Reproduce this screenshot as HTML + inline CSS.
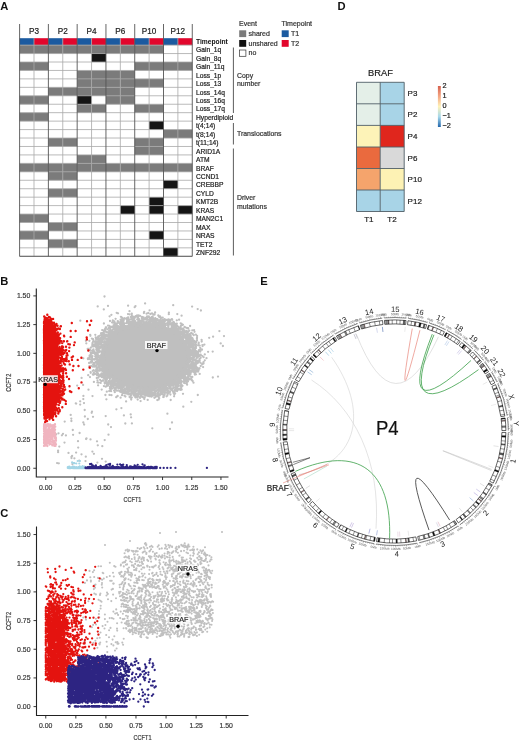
<!DOCTYPE html>
<html><head><meta charset="utf-8"><title>Figure</title>
<style>
html,body{margin:0;padding:0;background:#fff;}
body{width:520px;height:742px;overflow:hidden;position:relative;}
svg{position:absolute;left:0;top:0;display:block;}
text{font-family:"Liberation Sans",Arial,sans-serif;}
</style></head><body>
<svg width="520" height="742" viewBox="0 0 520 742">
<rect x="19.6" y="38.2" width="14.44" height="6.9" fill="#1b5aa0"/>
<rect x="33.99" y="38.2" width="14.44" height="6.9" fill="#e2062c"/>
<rect x="48.38" y="38.2" width="14.44" height="6.9" fill="#1b5aa0"/>
<rect x="62.77" y="38.2" width="14.44" height="6.9" fill="#e2062c"/>
<rect x="77.16" y="38.2" width="14.44" height="6.9" fill="#1b5aa0"/>
<rect x="91.55" y="38.2" width="14.44" height="6.9" fill="#e2062c"/>
<rect x="105.94" y="38.2" width="14.44" height="6.9" fill="#1b5aa0"/>
<rect x="120.33" y="38.2" width="14.44" height="6.9" fill="#e2062c"/>
<rect x="134.72" y="38.2" width="14.44" height="6.9" fill="#1b5aa0"/>
<rect x="149.11" y="38.2" width="14.44" height="6.9" fill="#e2062c"/>
<rect x="163.5" y="38.2" width="14.44" height="6.9" fill="#1b5aa0"/>
<rect x="177.89" y="38.2" width="14.44" height="6.9" fill="#e2062c"/>
<rect x="19.6" y="45.1" width="14.44" height="8.5" fill="#7b7b7b"/>
<rect x="33.99" y="45.1" width="14.44" height="8.5" fill="#7b7b7b"/>
<rect x="48.38" y="45.1" width="14.44" height="8.5" fill="#7b7b7b"/>
<rect x="62.77" y="45.1" width="14.44" height="8.5" fill="#7b7b7b"/>
<rect x="77.16" y="45.1" width="14.44" height="8.5" fill="#7b7b7b"/>
<rect x="91.55" y="45.1" width="14.44" height="8.5" fill="#7b7b7b"/>
<rect x="105.94" y="45.1" width="14.44" height="8.5" fill="#7b7b7b"/>
<rect x="120.33" y="45.1" width="14.44" height="8.5" fill="#7b7b7b"/>
<rect x="134.72" y="45.1" width="14.44" height="8.5" fill="#7b7b7b"/>
<rect x="149.11" y="45.1" width="14.44" height="8.5" fill="#7b7b7b"/>
<rect x="91.55" y="53.55" width="14.44" height="8.5" fill="#151515"/>
<rect x="19.6" y="62" width="14.44" height="8.5" fill="#7b7b7b"/>
<rect x="33.99" y="62" width="14.44" height="8.5" fill="#7b7b7b"/>
<rect x="134.72" y="62" width="14.44" height="8.5" fill="#7b7b7b"/>
<rect x="149.11" y="62" width="14.44" height="8.5" fill="#7b7b7b"/>
<rect x="163.5" y="62" width="14.44" height="8.5" fill="#7b7b7b"/>
<rect x="177.89" y="62" width="14.44" height="8.5" fill="#7b7b7b"/>
<rect x="77.16" y="70.44" width="14.44" height="8.5" fill="#7b7b7b"/>
<rect x="91.55" y="70.44" width="14.44" height="8.5" fill="#7b7b7b"/>
<rect x="105.94" y="70.44" width="14.44" height="8.5" fill="#7b7b7b"/>
<rect x="120.33" y="70.44" width="14.44" height="8.5" fill="#7b7b7b"/>
<rect x="77.16" y="78.89" width="14.44" height="8.5" fill="#7b7b7b"/>
<rect x="91.55" y="78.89" width="14.44" height="8.5" fill="#7b7b7b"/>
<rect x="105.94" y="78.89" width="14.44" height="8.5" fill="#7b7b7b"/>
<rect x="120.33" y="78.89" width="14.44" height="8.5" fill="#7b7b7b"/>
<rect x="134.72" y="78.89" width="14.44" height="8.5" fill="#7b7b7b"/>
<rect x="149.11" y="78.89" width="14.44" height="8.5" fill="#7b7b7b"/>
<rect x="48.38" y="87.34" width="14.44" height="8.5" fill="#7b7b7b"/>
<rect x="62.77" y="87.34" width="14.44" height="8.5" fill="#7b7b7b"/>
<rect x="77.16" y="87.34" width="14.44" height="8.5" fill="#7b7b7b"/>
<rect x="91.55" y="87.34" width="14.44" height="8.5" fill="#7b7b7b"/>
<rect x="105.94" y="87.34" width="14.44" height="8.5" fill="#7b7b7b"/>
<rect x="120.33" y="87.34" width="14.44" height="8.5" fill="#7b7b7b"/>
<rect x="19.6" y="95.79" width="14.44" height="8.5" fill="#7b7b7b"/>
<rect x="33.99" y="95.79" width="14.44" height="8.5" fill="#7b7b7b"/>
<rect x="77.16" y="95.79" width="14.44" height="8.5" fill="#151515"/>
<rect x="105.94" y="95.79" width="14.44" height="8.5" fill="#7b7b7b"/>
<rect x="120.33" y="95.79" width="14.44" height="8.5" fill="#7b7b7b"/>
<rect x="77.16" y="104.24" width="14.44" height="8.5" fill="#7b7b7b"/>
<rect x="91.55" y="104.24" width="14.44" height="8.5" fill="#7b7b7b"/>
<rect x="134.72" y="104.24" width="14.44" height="8.5" fill="#7b7b7b"/>
<rect x="149.11" y="104.24" width="14.44" height="8.5" fill="#7b7b7b"/>
<rect x="19.6" y="112.68" width="14.44" height="8.5" fill="#7b7b7b"/>
<rect x="33.99" y="112.68" width="14.44" height="8.5" fill="#7b7b7b"/>
<rect x="149.11" y="121.13" width="14.44" height="8.5" fill="#151515"/>
<rect x="163.5" y="129.58" width="14.44" height="8.5" fill="#7b7b7b"/>
<rect x="177.89" y="129.58" width="14.44" height="8.5" fill="#7b7b7b"/>
<rect x="48.38" y="138.03" width="14.44" height="8.5" fill="#7b7b7b"/>
<rect x="62.77" y="138.03" width="14.44" height="8.5" fill="#7b7b7b"/>
<rect x="134.72" y="138.03" width="14.44" height="8.5" fill="#7b7b7b"/>
<rect x="149.11" y="138.03" width="14.44" height="8.5" fill="#7b7b7b"/>
<rect x="134.72" y="146.48" width="14.44" height="8.5" fill="#7b7b7b"/>
<rect x="149.11" y="146.48" width="14.44" height="8.5" fill="#7b7b7b"/>
<rect x="77.16" y="154.92" width="14.44" height="8.5" fill="#7b7b7b"/>
<rect x="91.55" y="154.92" width="14.44" height="8.5" fill="#7b7b7b"/>
<rect x="19.6" y="163.37" width="14.44" height="8.5" fill="#7b7b7b"/>
<rect x="33.99" y="163.37" width="14.44" height="8.5" fill="#7b7b7b"/>
<rect x="48.38" y="163.37" width="14.44" height="8.5" fill="#7b7b7b"/>
<rect x="62.77" y="163.37" width="14.44" height="8.5" fill="#7b7b7b"/>
<rect x="77.16" y="163.37" width="14.44" height="8.5" fill="#7b7b7b"/>
<rect x="91.55" y="163.37" width="14.44" height="8.5" fill="#7b7b7b"/>
<rect x="105.94" y="163.37" width="14.44" height="8.5" fill="#7b7b7b"/>
<rect x="120.33" y="163.37" width="14.44" height="8.5" fill="#7b7b7b"/>
<rect x="134.72" y="163.37" width="14.44" height="8.5" fill="#7b7b7b"/>
<rect x="149.11" y="163.37" width="14.44" height="8.5" fill="#7b7b7b"/>
<rect x="163.5" y="163.37" width="14.44" height="8.5" fill="#7b7b7b"/>
<rect x="177.89" y="163.37" width="14.44" height="8.5" fill="#7b7b7b"/>
<rect x="48.38" y="171.82" width="14.44" height="8.5" fill="#7b7b7b"/>
<rect x="62.77" y="171.82" width="14.44" height="8.5" fill="#7b7b7b"/>
<rect x="163.5" y="180.27" width="14.44" height="8.5" fill="#151515"/>
<rect x="48.38" y="188.72" width="14.44" height="8.5" fill="#7b7b7b"/>
<rect x="62.77" y="188.72" width="14.44" height="8.5" fill="#7b7b7b"/>
<rect x="149.11" y="197.16" width="14.44" height="8.5" fill="#151515"/>
<rect x="120.33" y="205.61" width="14.44" height="8.5" fill="#151515"/>
<rect x="149.11" y="205.61" width="14.44" height="8.5" fill="#151515"/>
<rect x="177.89" y="205.61" width="14.44" height="8.5" fill="#151515"/>
<rect x="19.6" y="214.06" width="14.44" height="8.5" fill="#7b7b7b"/>
<rect x="33.99" y="214.06" width="14.44" height="8.5" fill="#7b7b7b"/>
<rect x="48.38" y="222.51" width="14.44" height="8.5" fill="#7b7b7b"/>
<rect x="62.77" y="222.51" width="14.44" height="8.5" fill="#7b7b7b"/>
<rect x="19.6" y="230.96" width="14.44" height="8.5" fill="#7b7b7b"/>
<rect x="33.99" y="230.96" width="14.44" height="8.5" fill="#7b7b7b"/>
<rect x="149.11" y="230.96" width="14.44" height="8.5" fill="#151515"/>
<rect x="48.38" y="239.4" width="14.44" height="8.5" fill="#7b7b7b"/>
<rect x="62.77" y="239.4" width="14.44" height="8.5" fill="#7b7b7b"/>
<rect x="163.5" y="247.85" width="14.44" height="8.5" fill="#151515"/>
<line x1="19.6" y1="45.1" x2="192.28" y2="45.1" stroke="#a8a8a8" stroke-width="0.8"/>
<line x1="19.6" y1="53.55" x2="192.28" y2="53.55" stroke="#a8a8a8" stroke-width="0.8"/>
<line x1="19.6" y1="62" x2="192.28" y2="62" stroke="#a8a8a8" stroke-width="0.8"/>
<line x1="19.6" y1="70.44" x2="192.28" y2="70.44" stroke="#a8a8a8" stroke-width="0.8"/>
<line x1="19.6" y1="78.89" x2="192.28" y2="78.89" stroke="#a8a8a8" stroke-width="0.8"/>
<line x1="19.6" y1="87.34" x2="192.28" y2="87.34" stroke="#a8a8a8" stroke-width="0.8"/>
<line x1="19.6" y1="95.79" x2="192.28" y2="95.79" stroke="#a8a8a8" stroke-width="0.8"/>
<line x1="19.6" y1="104.24" x2="192.28" y2="104.24" stroke="#a8a8a8" stroke-width="0.8"/>
<line x1="19.6" y1="112.68" x2="192.28" y2="112.68" stroke="#a8a8a8" stroke-width="0.8"/>
<line x1="19.6" y1="121.13" x2="192.28" y2="121.13" stroke="#a8a8a8" stroke-width="0.8"/>
<line x1="19.6" y1="129.58" x2="192.28" y2="129.58" stroke="#a8a8a8" stroke-width="0.8"/>
<line x1="19.6" y1="138.03" x2="192.28" y2="138.03" stroke="#a8a8a8" stroke-width="0.8"/>
<line x1="19.6" y1="146.48" x2="192.28" y2="146.48" stroke="#a8a8a8" stroke-width="0.8"/>
<line x1="19.6" y1="154.92" x2="192.28" y2="154.92" stroke="#a8a8a8" stroke-width="0.8"/>
<line x1="19.6" y1="163.37" x2="192.28" y2="163.37" stroke="#a8a8a8" stroke-width="0.8"/>
<line x1="19.6" y1="171.82" x2="192.28" y2="171.82" stroke="#a8a8a8" stroke-width="0.8"/>
<line x1="19.6" y1="180.27" x2="192.28" y2="180.27" stroke="#a8a8a8" stroke-width="0.8"/>
<line x1="19.6" y1="188.72" x2="192.28" y2="188.72" stroke="#a8a8a8" stroke-width="0.8"/>
<line x1="19.6" y1="197.16" x2="192.28" y2="197.16" stroke="#a8a8a8" stroke-width="0.8"/>
<line x1="19.6" y1="205.61" x2="192.28" y2="205.61" stroke="#a8a8a8" stroke-width="0.8"/>
<line x1="19.6" y1="214.06" x2="192.28" y2="214.06" stroke="#a8a8a8" stroke-width="0.8"/>
<line x1="19.6" y1="222.51" x2="192.28" y2="222.51" stroke="#a8a8a8" stroke-width="0.8"/>
<line x1="19.6" y1="230.96" x2="192.28" y2="230.96" stroke="#a8a8a8" stroke-width="0.8"/>
<line x1="19.6" y1="239.4" x2="192.28" y2="239.4" stroke="#a8a8a8" stroke-width="0.8"/>
<line x1="19.6" y1="247.85" x2="192.28" y2="247.85" stroke="#a8a8a8" stroke-width="0.8"/>
<line x1="19.6" y1="256.3" x2="192.28" y2="256.3" stroke="#a8a8a8" stroke-width="0.8"/>
<line x1="33.99" y1="38.2" x2="33.99" y2="256.3" stroke="#a8a8a8" stroke-width="0.8"/>
<line x1="62.77" y1="38.2" x2="62.77" y2="256.3" stroke="#a8a8a8" stroke-width="0.8"/>
<line x1="91.55" y1="38.2" x2="91.55" y2="256.3" stroke="#a8a8a8" stroke-width="0.8"/>
<line x1="120.33" y1="38.2" x2="120.33" y2="256.3" stroke="#a8a8a8" stroke-width="0.8"/>
<line x1="149.11" y1="38.2" x2="149.11" y2="256.3" stroke="#a8a8a8" stroke-width="0.8"/>
<line x1="177.89" y1="38.2" x2="177.89" y2="256.3" stroke="#a8a8a8" stroke-width="0.8"/>
<line x1="19.6" y1="24" x2="19.6" y2="256.3" stroke="#555" stroke-width="0.9"/>
<line x1="48.38" y1="24" x2="48.38" y2="256.3" stroke="#555" stroke-width="0.9"/>
<line x1="77.16" y1="24" x2="77.16" y2="256.3" stroke="#555" stroke-width="0.9"/>
<line x1="105.94" y1="24" x2="105.94" y2="256.3" stroke="#555" stroke-width="0.9"/>
<line x1="134.72" y1="24" x2="134.72" y2="256.3" stroke="#555" stroke-width="0.9"/>
<line x1="163.5" y1="24" x2="163.5" y2="256.3" stroke="#555" stroke-width="0.9"/>
<line x1="192.28" y1="24" x2="192.28" y2="256.3" stroke="#555" stroke-width="0.9"/>
<line x1="19.6" y1="256.3" x2="192.28" y2="256.3" stroke="#555" stroke-width="0.9"/>
<text x="33.99" y="34" font-size="8.2" text-anchor="middle" fill="#222" stroke="#222" stroke-width="0.2">P3</text>
<text x="62.77" y="34" font-size="8.2" text-anchor="middle" fill="#222" stroke="#222" stroke-width="0.2">P2</text>
<text x="91.55" y="34" font-size="8.2" text-anchor="middle" fill="#222" stroke="#222" stroke-width="0.2">P4</text>
<text x="120.33" y="34" font-size="8.2" text-anchor="middle" fill="#222" stroke="#222" stroke-width="0.2">P6</text>
<text x="149.11" y="34" font-size="8.2" text-anchor="middle" fill="#222" stroke="#222" stroke-width="0.2">P10</text>
<text x="177.89" y="34" font-size="8.2" text-anchor="middle" fill="#222" stroke="#222" stroke-width="0.2">P12</text>
<text x="196" y="44" font-size="6.7" font-weight="bold" fill="#111">Timepoint</text>
<text x="196" y="52.3" font-size="6.7" fill="#222" stroke="#222" stroke-width="0.2">Gain_1q</text>
<text x="196" y="60.75" font-size="6.7" fill="#222" stroke="#222" stroke-width="0.2">Gain_8q</text>
<text x="196" y="69.2" font-size="6.7" fill="#222" stroke="#222" stroke-width="0.2">Gain_11q</text>
<text x="196" y="77.64" font-size="6.7" fill="#222" stroke="#222" stroke-width="0.2">Loss_1p</text>
<text x="196" y="86.09" font-size="6.7" fill="#222" stroke="#222" stroke-width="0.2">Loss_13</text>
<text x="196" y="94.54" font-size="6.7" fill="#222" stroke="#222" stroke-width="0.2">Loss_14q</text>
<text x="196" y="102.99" font-size="6.7" fill="#222" stroke="#222" stroke-width="0.2">Loss_16q</text>
<text x="196" y="111.44" font-size="6.7" fill="#222" stroke="#222" stroke-width="0.2">Loss_17q</text>
<text x="196" y="119.88" font-size="6.7" fill="#222" stroke="#222" stroke-width="0.2">Hyperdiploid</text>
<text x="196" y="128.33" font-size="6.7" fill="#222" stroke="#222" stroke-width="0.2">t(4;14)</text>
<text x="196" y="136.78" font-size="6.7" fill="#222" stroke="#222" stroke-width="0.2">t(8;14)</text>
<text x="196" y="145.23" font-size="6.7" fill="#222" stroke="#222" stroke-width="0.2">t(11;14)</text>
<text x="196" y="153.68" font-size="6.7" fill="#222" stroke="#222" stroke-width="0.2">ARID1A</text>
<text x="196" y="162.12" font-size="6.7" fill="#222" stroke="#222" stroke-width="0.2">ATM</text>
<text x="196" y="170.57" font-size="6.7" fill="#222" stroke="#222" stroke-width="0.2">BRAF</text>
<text x="196" y="179.02" font-size="6.7" fill="#222" stroke="#222" stroke-width="0.2">CCND1</text>
<text x="196" y="187.47" font-size="6.7" fill="#222" stroke="#222" stroke-width="0.2">CREBBP</text>
<text x="196" y="195.92" font-size="6.7" fill="#222" stroke="#222" stroke-width="0.2">CYLD</text>
<text x="196" y="204.36" font-size="6.7" fill="#222" stroke="#222" stroke-width="0.2">KMT2B</text>
<text x="196" y="212.81" font-size="6.7" fill="#222" stroke="#222" stroke-width="0.2">KRAS</text>
<text x="196" y="221.26" font-size="6.7" fill="#222" stroke="#222" stroke-width="0.2">MAN2C1</text>
<text x="196" y="229.71" font-size="6.7" fill="#222" stroke="#222" stroke-width="0.2">MAX</text>
<text x="196" y="238.16" font-size="6.7" fill="#222" stroke="#222" stroke-width="0.2">NRAS</text>
<text x="196" y="246.6" font-size="6.7" fill="#222" stroke="#222" stroke-width="0.2">TET2</text>
<text x="196" y="255.05" font-size="6.7" fill="#222" stroke="#222" stroke-width="0.2">ZNF292</text>
<line x1="233.4" y1="47.5" x2="233.4" y2="113" stroke="#333" stroke-width="0.8"/>
<line x1="233.4" y1="123" x2="233.4" y2="144.5" stroke="#333" stroke-width="0.8"/>
<line x1="233.4" y1="148.5" x2="233.4" y2="255.5" stroke="#333" stroke-width="0.8"/>
<text x="237" y="77.8" font-size="6.9" fill="#333" stroke="#333" stroke-width="0.2">Copy</text>
<text x="237" y="86.1" font-size="6.9" fill="#333" stroke="#333" stroke-width="0.2">number</text>
<text x="237" y="136.3" font-size="6.9" fill="#333" stroke="#333" stroke-width="0.2">Translocations</text>
<text x="237" y="200" font-size="6.9" fill="#333" stroke="#333" stroke-width="0.2">Driver</text>
<text x="237" y="208.5" font-size="6.9" fill="#333" stroke="#333" stroke-width="0.2">mutations</text>
<text x="239" y="26.3" font-size="7" fill="#333" stroke="#333" stroke-width="0.2">Event</text>
<rect x="239.2" y="30.3" width="7" height="6.8" fill="#7b7b7b"/>
<rect x="239.2" y="40" width="7" height="6.8" fill="#111"/>
<rect x="239.6" y="50" width="6.3" height="6.3" fill="#fff" stroke="#333" stroke-width="0.7"/>
<text x="248.5" y="36" font-size="7" fill="#333" stroke="#333" stroke-width="0.2">shared</text>
<text x="248.5" y="45.6" font-size="7" fill="#333" stroke="#333" stroke-width="0.2">unshared</text>
<text x="248.5" y="55.3" font-size="7" fill="#333" stroke="#333" stroke-width="0.2">no</text>
<text x="281.5" y="26.3" font-size="7" fill="#333" stroke="#333" stroke-width="0.2">Timepoint</text>
<rect x="281.7" y="30.3" width="7" height="6.8" fill="#1b5aa0"/>
<rect x="281.7" y="40" width="7" height="6.8" fill="#e2062c"/>
<text x="291" y="36" font-size="7" fill="#333" stroke="#333" stroke-width="0.2">T1</text>
<text x="291" y="45.6" font-size="7" fill="#333" stroke="#333" stroke-width="0.2">T2</text>
<text x="0.3" y="10.4" font-size="11.2" font-weight="bold" fill="#111">A</text>
<rect x="356.5" y="82.3" width="23.7" height="21.5" fill="#e4efe8"/>
<rect x="380.2" y="82.3" width="24" height="21.5" fill="#a8d4e7"/>
<rect x="356.5" y="103.8" width="23.7" height="21.6" fill="#e4efe8"/>
<rect x="380.2" y="103.8" width="24" height="21.6" fill="#a8d4e7"/>
<rect x="356.5" y="125.4" width="23.7" height="21.6" fill="#fdf3b8"/>
<rect x="380.2" y="125.4" width="24" height="21.6" fill="#e0261d"/>
<rect x="356.5" y="147.0" width="23.7" height="21.5" fill="#ea6a3e"/>
<rect x="380.2" y="147.0" width="24" height="21.5" fill="#d9d9d9"/>
<rect x="356.5" y="168.5" width="23.7" height="21.5" fill="#f5a46c"/>
<rect x="380.2" y="168.5" width="24" height="21.5" fill="#fdf2b4"/>
<rect x="356.5" y="190.0" width="23.7" height="21.5" fill="#a8d4e7"/>
<rect x="380.2" y="190.0" width="24" height="21.5" fill="#a8d4e7"/>
<line x1="356.5" y1="82.3" x2="404.2" y2="82.3" stroke="#4f5d66" stroke-width="0.9"/>
<line x1="356.5" y1="103.8" x2="404.2" y2="103.8" stroke="#4f5d66" stroke-width="0.9"/>
<line x1="356.5" y1="125.4" x2="404.2" y2="125.4" stroke="#4f5d66" stroke-width="0.9"/>
<line x1="356.5" y1="147.0" x2="404.2" y2="147.0" stroke="#4f5d66" stroke-width="0.9"/>
<line x1="356.5" y1="168.5" x2="404.2" y2="168.5" stroke="#4f5d66" stroke-width="0.9"/>
<line x1="356.5" y1="190.0" x2="404.2" y2="190.0" stroke="#4f5d66" stroke-width="0.9"/>
<line x1="356.5" y1="211.5" x2="404.2" y2="211.5" stroke="#4f5d66" stroke-width="0.9"/>
<line x1="356.5" y1="82.3" x2="356.5" y2="211.5" stroke="#4f5d66" stroke-width="0.9"/>
<line x1="380.2" y1="82.3" x2="380.2" y2="211.5" stroke="#4f5d66" stroke-width="0.9"/>
<line x1="404.2" y1="82.3" x2="404.2" y2="211.5" stroke="#4f5d66" stroke-width="0.9"/>
<text x="380.5" y="76.2" font-size="9.3" text-anchor="middle" fill="#222" stroke="#222" stroke-width="0.2">BRAF</text>
<text x="407.6" y="95.85" font-size="8" fill="#222" stroke="#222" stroke-width="0.2">P3</text>
<text x="407.6" y="117.4" font-size="8" fill="#222" stroke="#222" stroke-width="0.2">P2</text>
<text x="407.6" y="139" font-size="8" fill="#222" stroke="#222" stroke-width="0.2">P4</text>
<text x="407.6" y="160.55" font-size="8" fill="#222" stroke="#222" stroke-width="0.2">P6</text>
<text x="407.6" y="182.05" font-size="8" fill="#222" stroke="#222" stroke-width="0.2">P10</text>
<text x="407.6" y="203.55" font-size="8" fill="#222" stroke="#222" stroke-width="0.2">P12</text>
<text x="368.8" y="222.3" font-size="8" text-anchor="middle" fill="#222" stroke="#222" stroke-width="0.2">T1</text>
<text x="392" y="222.3" font-size="8" text-anchor="middle" fill="#222" stroke="#222" stroke-width="0.2">T2</text>
<defs><linearGradient id="cb" x1="0" y1="0" x2="0" y2="1"><stop offset="0" stop-color="#d6604d"/><stop offset="0.25" stop-color="#f4a582"/><stop offset="0.5" stop-color="#fff3b8"/><stop offset="0.75" stop-color="#a6d8ec"/><stop offset="1" stop-color="#2166ac"/></linearGradient></defs>
<rect x="437.9" y="86" width="2.9" height="41" fill="url(#cb)"/>
<text x="442.4" y="88.2" font-size="7.3" fill="#222" stroke="#222" stroke-width="0.2">2</text>
<text x="442.4" y="97.9" font-size="7.3" fill="#222" stroke="#222" stroke-width="0.2">1</text>
<text x="442.4" y="107.8" font-size="7.3" fill="#222" stroke="#222" stroke-width="0.2">0</text>
<text x="442.4" y="118" font-size="7.3" fill="#222" stroke="#222" stroke-width="0.2">−1</text>
<text x="442.4" y="127.8" font-size="7.3" fill="#222" stroke="#222" stroke-width="0.2">−2</text>
<text x="337.6" y="10.2" font-size="11.2" font-weight="bold" fill="#111">D</text>
<path d="M36.3 288.5V477H228.5" stroke="#222" stroke-width="1.1" fill="none"/>
<line x1="33.3" y1="468.25" x2="36.3" y2="468.25" stroke="#222" stroke-width="0.9"/>
<text x="30.299999999999997" y="470.65" font-size="6.9" text-anchor="end" fill="#3a3a3a" stroke="#3a3a3a" stroke-width="0.2">0.00</text>
<line x1="45.75" y1="477" x2="45.75" y2="480" stroke="#222" stroke-width="0.9"/>
<text x="45.75" y="490" font-size="6.9" text-anchor="middle" fill="#3a3a3a" stroke="#3a3a3a" stroke-width="0.2">0.00</text>
<line x1="33.3" y1="439.52" x2="36.3" y2="439.52" stroke="#222" stroke-width="0.9"/>
<text x="30.299999999999997" y="441.92" font-size="6.9" text-anchor="end" fill="#3a3a3a" stroke="#3a3a3a" stroke-width="0.2">0.25</text>
<line x1="74.95" y1="477" x2="74.95" y2="480" stroke="#222" stroke-width="0.9"/>
<text x="74.95" y="490" font-size="6.9" text-anchor="middle" fill="#3a3a3a" stroke="#3a3a3a" stroke-width="0.2">0.25</text>
<line x1="33.3" y1="410.80" x2="36.3" y2="410.80" stroke="#222" stroke-width="0.9"/>
<text x="30.299999999999997" y="413.20" font-size="6.9" text-anchor="end" fill="#3a3a3a" stroke="#3a3a3a" stroke-width="0.2">0.50</text>
<line x1="104.15" y1="477" x2="104.15" y2="480" stroke="#222" stroke-width="0.9"/>
<text x="104.15" y="490" font-size="6.9" text-anchor="middle" fill="#3a3a3a" stroke="#3a3a3a" stroke-width="0.2">0.50</text>
<line x1="33.3" y1="382.07" x2="36.3" y2="382.07" stroke="#222" stroke-width="0.9"/>
<text x="30.299999999999997" y="384.47" font-size="6.9" text-anchor="end" fill="#3a3a3a" stroke="#3a3a3a" stroke-width="0.2">0.75</text>
<line x1="133.35" y1="477" x2="133.35" y2="480" stroke="#222" stroke-width="0.9"/>
<text x="133.35" y="490" font-size="6.9" text-anchor="middle" fill="#3a3a3a" stroke="#3a3a3a" stroke-width="0.2">0.75</text>
<line x1="33.3" y1="353.35" x2="36.3" y2="353.35" stroke="#222" stroke-width="0.9"/>
<text x="30.299999999999997" y="355.75" font-size="6.9" text-anchor="end" fill="#3a3a3a" stroke="#3a3a3a" stroke-width="0.2">1.00</text>
<line x1="162.55" y1="477" x2="162.55" y2="480" stroke="#222" stroke-width="0.9"/>
<text x="162.55" y="490" font-size="6.9" text-anchor="middle" fill="#3a3a3a" stroke="#3a3a3a" stroke-width="0.2">1.00</text>
<line x1="33.3" y1="324.62" x2="36.3" y2="324.62" stroke="#222" stroke-width="0.9"/>
<text x="30.299999999999997" y="327.02" font-size="6.9" text-anchor="end" fill="#3a3a3a" stroke="#3a3a3a" stroke-width="0.2">1.25</text>
<line x1="191.75" y1="477" x2="191.75" y2="480" stroke="#222" stroke-width="0.9"/>
<text x="191.75" y="490" font-size="6.9" text-anchor="middle" fill="#3a3a3a" stroke="#3a3a3a" stroke-width="0.2">1.25</text>
<line x1="33.3" y1="295.90" x2="36.3" y2="295.90" stroke="#222" stroke-width="0.9"/>
<text x="30.299999999999997" y="298.30" font-size="6.9" text-anchor="end" fill="#3a3a3a" stroke="#3a3a3a" stroke-width="0.2">1.50</text>
<line x1="220.95" y1="477" x2="220.95" y2="480" stroke="#222" stroke-width="0.9"/>
<text x="220.95" y="490" font-size="6.9" text-anchor="middle" fill="#3a3a3a" stroke="#3a3a3a" stroke-width="0.2">1.50</text>
<text transform="translate(132.4 501.5) scale(0.78 1)" font-size="7.2" text-anchor="middle" fill="#3a3a3a" stroke="#3a3a3a" stroke-width="0.2">CCFT1</text>
<text transform="translate(10.9 382.75) rotate(-90) scale(0.78 1)" x="0" y="0" font-size="7.2" text-anchor="middle" fill="#3a3a3a" stroke="#3a3a3a" stroke-width="0.2">CCFT2</text>
<text x="0.3" y="285" font-size="11.2" font-weight="bold" fill="#111">B</text>
<ellipse cx="145.5" cy="356.5" rx="45.1" ry="33.5" fill="#bfbfbf"/>
<path d="M189.5 342.1h0M113.1 334.4h0M102 345.3h0M122.1 329.6h0M180.3 338.7h0M101.2 363.9h0M100.4 365.5h0M178.5 330.3h0M196.8 357.8h0M104.4 359.8h0M152.2 323h0M173.5 391.8h0M108.3 377.1h0M145.2 395.5h0M161.6 326.4h0M154.4 389.2h0M190.1 351.7h0M183.4 369.7h0M187.7 347.2h0M114.3 329.5h0M189 362.1h0M95.3 354.7h0M189 359.8h0M186.8 327.9h0M182.7 336.1h0M166.6 387.3h0M128.7 320.3h0M186.7 353.1h0M175.4 378h0M189.6 336.1h0M133 389.8h0M139.7 397.2h0M176.7 377.1h0M184.2 332.3h0M161.5 320.4h0M181.3 389.1h0M99.4 370.7h0M96 356.6h0M121.1 385.7h0M148.2 393.1h0M130.9 324.9h0M177.2 330h0M125.7 391.3h0M105.7 348h0M99.5 366.9h0M118.9 380.4h0M129.1 391.6h0M104 348h0M192.3 359.4h0M101.6 370.6h0M132.7 326.1h0M131.7 391.6h0M193.2 371.5h0M190.7 343.5h0M103.7 369.5h0M117.3 383.4h0M157.9 394.4h0M105.3 379.6h0M115.8 333.2h0M98.8 350.3h0M99 357.5h0M183 393.8h0M186.2 338.7h0M130.2 387.4h0M189.2 334.8h0M147.9 389.5h0M190.4 333.8h0M166.2 389.7h0M118.4 386.6h0M159.3 394.4h0M185.1 327.3h0M155.4 391.5h0M141.8 394.2h0M96.8 378h0M106 347.8h0M125.3 388.3h0M125.3 328.2h0M190 365.6h0M150.6 390.3h0M114.3 378.7h0M105.2 349h0M156.4 396.1h0M178.7 333.3h0M104.5 376.2h0M108 371.7h0M121 390h0M149.9 318.9h0M173.6 393h0M170.4 388.6h0M147.2 325.6h0M190.6 373.9h0M195.9 366.1h0M138 322.9h0M140.9 391.1h0M162.9 392.4h0M118.2 326.2h0M158.2 393.2h0M102.2 369.4h0M187.7 378.8h0M110.7 333.5h0M175.6 383.8h0M100.6 374.4h0M102.3 375h0M174.2 333.5h0M125 329.9h0M197 356.4h0M177.1 391h0M182.2 374.2h0M186.1 340.2h0M174.8 327.1h0M123.2 385.1h0M176.2 386.6h0M104.5 337.9h0M174 323.7h0M117.3 386.1h0M198.8 351.3h0M96 338.9h0M190.3 347.4h0M184 335.4h0M108.5 335h0M191.2 367.1h0M151.1 394.2h0M104.6 335.4h0M170.7 385.8h0M101.9 377.2h0M181.4 333.2h0M192.4 358h0M133.7 387.5h0M129.5 386.7h0M180.7 383.2h0M106.7 386.2h0M114.5 388.4h0M192.7 333.9h0M189.1 339h0M169.1 324.4h0M166.1 329.9h0M138.6 390.1h0M103.8 377.9h0M159.6 320.6h0M137.9 317.2h0M141.8 326h0M133 392h0M198.5 356.4h0M189 339.8h0M132 327.5h0M109.6 339.7h0M148.6 322.1h0M198.8 345.1h0M171.7 383.1h0M92.3 345.3h0M109 377.1h0M112 333.1h0M97.5 356.5h0M181.7 389.6h0M190.4 343.4h0M180.6 327.4h0M167.4 382.6h0M125.3 384.1h0M122.4 324.7h0M172 388.4h0M128.8 324.2h0M146.8 324.9h0M191 364.2h0M156.1 323.3h0M193.7 351.1h0M117.5 330.2h0M195.4 342.8h0M124.5 395.7h0M152.7 395.1h0M104.3 363.4h0M101.5 369.6h0M154.6 319h0M143.4 397.4h0M177.6 377.4h0M119.9 385.2h0M102.4 353.8h0M184.7 344.8h0M86.3 343.3h0M180.4 334.4h0M194 349.9h0M192.8 365.1h0M110.1 332.8h0M196.6 352h0M115 334.5h0M104.1 345.3h0M135.1 325.6h0M147 325.8h0M111.2 336.8h0M156.6 326.6h0M112.8 384.1h0M100 351.6h0M178.5 331.2h0M192.2 343.6h0M132 327.3h0M128.7 323.2h0M199.4 368.3h0M161.3 326.5h0M167.4 395.5h0M168 326h0M133.8 389.1h0M96.5 352.3h0M188.7 362.4h0M183.5 333.9h0M159.5 395.2h0M147.1 316.4h0M168 391.1h0M194.1 350.7h0M119.9 391.1h0M176.5 378.1h0M185.7 377.1h0M167.6 393.9h0M196.4 362.5h0M191 338.2h0M107.3 375h0M92.4 344.6h0M189 352.5h0M163.7 396.9h0M176.2 383.2h0M113.3 376.3h0M95.4 344.5h0M103.1 348.9h0M104.4 342.1h0M184.9 375.9h0M180.5 334.2h0M190.5 374.1h0M180.6 331.5h0M142 391.2h0M193.9 357.7h0M181.7 373.3h0M140.1 392.5h0M157.4 319.1h0M99.8 366h0M151.6 392.1h0M109.5 382.5h0M144.8 323.1h0M142.9 390.7h0M172.8 325.7h0M194.1 345.1h0M164.6 324.7h0M152.6 394h0M96.9 363.1h0M105.2 336.8h0M179.2 378.8h0M136.8 323h0M165.1 320.9h0M184.8 345.1h0M130.9 317h0M114.9 333.5h0M199.7 373.9h0M109.2 337.5h0M137.6 396.8h0M161.7 394.2h0M158.3 315.4h0M188.3 344.2h0M102.5 337.7h0M158 326.5h0M109.4 372.7h0M117.6 328.2h0M151 388.2h0M115.3 381.2h0M140.3 396.9h0M192.5 343.7h0M98.2 339.4h0M98 357h0M141.5 396.6h0M187.2 334.1h0M163 391.1h0M102.4 370.1h0M140 315.8h0M116.4 327.9h0M102.7 349.6h0M163.8 390.1h0M181.5 374.9h0M168.9 382.8h0M168 319.6h0M120.7 381.5h0M188.6 344.1h0M174 387.1h0M101.6 374.9h0M189.3 351.9h0M130.9 395.5h0M188.2 376.2h0M169 321.9h0M164.5 319.2h0M109.4 332.6h0M158.6 326.2h0M153.7 393h0M192.5 360.1h0M134.5 394.1h0M170.9 385h0M189.9 353.9h0M101.2 355.3h0M191.7 365.1h0M184 372h0M92 353.4h0M191.6 379.8h0M149.4 322.2h0M102.4 368.2h0M188.3 378.5h0M156.9 322.4h0M107.3 369.4h0M100.7 335.3h0M146.7 322.6h0M172.8 324h0M189.1 344.4h0M154.5 322.6h0M105 376.1h0M192.5 343.3h0M113.5 328.4h0M110.1 334.9h0M123.4 321.5h0M120.8 321h0M189.6 339h0M186.1 345h0M96.8 359.4h0M112.2 382.5h0M177.7 335.6h0M188.9 367.3h0M134.1 322.9h0M103.1 344.4h0M191.4 362.3h0M106.3 373.8h0M161.3 390.7h0M138.7 387.9h0M172.4 384.1h0M197 371.5h0M179.3 382.6h0M115.8 327.5h0M193.7 335.2h0M138.2 317h0M163.4 323.1h0M190.1 326h0M194.6 369.5h0M100.7 340.6h0M115.9 385.8h0M162.7 317.6h0M103.7 347.5h0M92.8 351.3h0M166.6 330.1h0M142.7 391.1h0M188.4 348.3h0M96.9 367.9h0M187.4 331.5h0M154.5 387.7h0M171.4 329.5h0M100.7 343.5h0M103.5 354.9h0M148.3 395.4h0M101.8 354.8h0M192.9 370.7h0M182.9 331.7h0M162.3 393.1h0M171.3 325.1h0M158.8 323.4h0M130.8 323h0M99.5 350.8h0M170.2 319.9h0M107.5 339.9h0M103.7 337.6h0M182 325.1h0M173.3 322.4h0M194.5 340.8h0M185.7 349.7h0M124.1 323.7h0M143.1 388.3h0M136.4 325.9h0M180.4 385.9h0M126.5 384.7h0M184.8 342.9h0M104.7 366.6h0M112.3 383h0M187.7 348h0M185.3 378h0M101.6 345.1h0M101.5 359.7h0M132.2 388.3h0M171.9 319.1h0M99.9 370.5h0M181.6 372.8h0M184.6 327h0M116.7 326.3h0M116.2 334.6h0M124.4 385.4h0M180 337.1h0M177.9 379.1h0M108 336.7h0M106.3 371.2h0M191.7 342.7h0M97.2 342.8h0M106.8 375.3h0M164.6 328.2h0M153.3 395.4h0M177.1 379.6h0M140.9 391.1h0M192.6 381h0M148.9 323h0M104.5 345.3h0M93.1 339.2h0M171.2 385.4h0M97.6 364.6h0M176.8 330.7h0M170.9 380.7h0M181.1 373.7h0M128.5 391.2h0M204.8 354.4h0M99.7 341.9h0M129.6 389.1h0M135.8 391.4h0M186.2 374h0M141.7 387.5h0M160 322.8h0M150.2 393.6h0M190.7 353.3h0M188.1 365.7h0M112.6 379.2h0M120.6 321.6h0M183.4 374.1h0M175 383.5h0M187.3 351.9h0M190.1 337.8h0M140.4 393.3h0M137.7 322.2h0M195.6 365.1h0M116.7 333.6h0M185.8 377.3h0M87.7 348.9h0M176.5 389.4h0M190.5 352.5h0M158.7 393.1h0M150.1 394.7h0M190.1 349.8h0M130.2 322.2h0M104.5 370.8h0M105.3 363.8h0M187.7 337.5h0M96 355h0M100.2 358.3h0M116.1 384.9h0M111.9 337.1h0M170.4 380.9h0M107.9 332.4h0M96.2 369.4h0M96.1 357.6h0M157.5 386.8h0M160.6 322.2h0M169.2 323.3h0M161.7 385.6h0M195.3 342.3h0M194.8 374.5h0M185 347.3h0M126.7 393.6h0M150.7 320.6h0M165.2 388.9h0M173.6 322h0M189.7 366.5h0M186.9 334.8h0M119.2 386.1h0M103.4 380.5h0M175.1 328.5h0M99.7 350.3h0M142.2 390.9h0M177.8 378.8h0M162.9 394.5h0M118.5 386.5h0M188.2 336h0M176.6 381.5h0M116.3 325.3h0M194.8 355.1h0M98.5 352.6h0M108.1 332.8h0M169.9 387.7h0M143 389.3h0M195.2 359.7h0M123.7 325.1h0M103.7 375.4h0M202.6 346.1h0M111.2 327h0M149.1 391.6h0M188.7 365.6h0M108.7 382.7h0M95.5 342.5h0M114.3 329.7h0M176.2 381.9h0M186.7 335.6h0M119.3 387.6h0M193.9 347.3h0M90.1 350h0M107.5 335.6h0M95.5 353.8h0M191.1 353.5h0M158.7 392h0M108.5 340.9h0M181.5 372.9h0M109.5 333.1h0M122.2 326.5h0M127.2 319.7h0M106.5 380h0M180.7 329.3h0M183.9 341.3h0M97.2 345h0M129.4 324.9h0M106.4 373.8h0M146.6 313.7h0M127.7 392.1h0M136.8 388.4h0M183.2 369h0M146.6 319.7h0M103.4 346.3h0M98.3 336.4h0M170.7 381.2h0M138.9 387.7h0M123.1 382.9h0M106.3 373.7h0M150.8 392.2h0M145.4 322.4h0M165 387h0M194.1 330.2h0M174 382.1h0M187.3 347.6h0M131.3 386.4h0M106.9 335.8h0M188 335.3h0M168 330h0M133.3 391.3h0M107.1 371.4h0M173.6 326.8h0M160.1 326.3h0M181.3 334.6h0M120.9 316.8h0M98.6 340h0M117.8 382.7h0M107.5 369.4h0M183.9 374.5h0M101.6 361.1h0M110.2 378.1h0M136.1 391.3h0M137.7 394h0M194.5 370.7h0M127.3 318h0M185 368.3h0M99.6 335.8h0M119.3 327.8h0M185.3 379.9h0M187 356.6h0M184.2 383h0M158.6 390.9h0M121.3 325.5h0M187.2 341.2h0M101.5 369.8h0M170 385.8h0M193.5 382.7h0M160.1 322.1h0M118 322.5h0M181.8 373.5h0M144.7 397.6h0M164.1 322.4h0M93.1 341.8h0M184.9 381.1h0M197 351.9h0M112.9 383.8h0M154.1 390.7h0M191.5 350.5h0M103.4 353.8h0M96.3 361.5h0M113.8 384.4h0M100.8 364.1h0M198 352.8h0M185.9 367.5h0M114.5 332h0M168.2 330.7h0M115.3 329.6h0M173.2 388.3h0M169.1 392.2h0M139.7 387.3h0M111.4 336.7h0M141 323.1h0M107.8 383.4h0M124.7 392.9h0M119 388.6h0M109 381.3h0M97.9 361.7h0M134.9 390.8h0M186.3 361.5h0M195.7 360.8h0M189.8 370.6h0M98.7 336.8h0M185.8 383.2h0M128.3 317.3h0M93.3 340.1h0M193 368.8h0M181.3 386.5h0M97.1 375.2h0M176.1 332.1h0M117.7 396.1h0M173 329.8h0M194.2 372.6h0M165.5 386h0M112.3 382.5h0M190.9 372.3h0M170.3 321.4h0M94 351.5h0M191.5 371.6h0M117.6 385.9h0M198.9 361.4h0M121.1 323.5h0M188.4 345.1h0M139.8 391.8h0M88 359.2h0M152.6 324.9h0M138.5 326.2h0M98.9 342.9h0M97.4 382.4h0M132.1 391.8h0M187.8 348.5h0M96 341.2h0M174.6 333h0M103.2 371.3h0M209.2 337.8h0M181.2 372.7h0M183.1 370.1h0M174.8 389.6h0M94.5 345.4h0M93.3 349.8h0M89.4 366.2h0M102.8 356.9h0M180.5 378.3h0M187.7 373.3h0M178.3 389h0M156.8 326.8h0M126.2 328.2h0M172.8 332.1h0M159.1 394.7h0M104.9 372.5h0M129 391h0M144.3 324.6h0M93.1 364.6h0M99.1 367.4h0M142.5 319.4h0M113.6 377h0M171.6 328.2h0M97.5 363.1h0M161.8 385.8h0M95.3 344h0M145.3 324.5h0M141.8 318.2h0M164.4 385.6h0M141.5 396.4h0M116.7 324.7h0M172.9 391.5h0M116 328.8h0M159.4 386.7h0M175.1 332.7h0M176.5 326.7h0M120.9 326.8h0M118.8 381.7h0M161.5 385h0M93.1 350.1h0M190.7 336h0M184.6 335.1h0M121.2 390.2h0M180.7 327.1h0M191.6 357.9h0M107.2 373.6h0M103.1 365.5h0M97.8 350h0M126.9 322.5h0M190.4 376.4h0M121.5 328.7h0M165.2 392.3h0M110 386.8h0M150.1 393h0M129.5 393.7h0M112.4 381.6h0M159.8 386.4h0M152.8 390h0M168.2 383.3h0M143.9 324.2h0M147.6 325.5h0M103.7 375.9h0M189.4 334.1h0M187.6 374.4h0M192.2 367.6h0M103.6 339.2h0M147.4 322.8h0M154.5 388.9h0M112.4 332.7h0M125 328.7h0M100.5 374.9h0M189.4 348.7h0M154.5 393.9h0M199.3 360.7h0M185.2 341.2h0M138.5 319.3h0M195.5 359.7h0M182.3 337.8h0M127.1 320.9h0M168.2 384.3h0M133.3 320.8h0M188.1 353.2h0M184.6 344.6h0M109.1 381.2h0M192.3 365h0M187.6 369.2h0M99.3 347.8h0M174.1 396.3h0M102.9 370.1h0M177.8 326.3h0M169.6 329.2h0M104.1 345.7h0M141.8 316.9h0M178 336h0M156.1 326.5h0M116.7 312.8h0M163.9 319.9h0M192.8 345.9h0M108.2 335.5h0M111.2 383.1h0M136.2 323.1h0M191.2 368.2h0M185.7 337h0M100.4 342.3h0M201.8 349.5h0M168.8 321.8h0M159 322.1h0M194.5 331.8h0M149.1 322.9h0M191 345.9h0M127.5 388.6h0M117.7 390.6h0M114.3 331.8h0M148.4 392.1h0M122.4 382.7h0M141 395.8h0M133.2 324.5h0M195.9 346.4h0M99.3 361.1h0M87.9 358.4h0M187.4 342.3h0M174.7 380.9h0M174.3 382.1h0M133.3 386.3h0M203.1 367.1h0M192.9 358.9h0M121 329.3h0M124.7 389.8h0M116.5 386.9h0M187.6 337.8h0M128.4 327.9h0M98.1 350.3h0M102.1 357.8h0M187.6 371.2h0M155.3 393.5h0M129.2 325.9h0M173.7 332.6h0M191.3 340.9h0M175.4 334.3h0M149.8 318.5h0M100 343h0M185.6 370.9h0M175.6 387.1h0M109.7 377h0M166.2 389.5h0M152.1 317.5h0M97.6 373h0M123.8 386.5h0M191.3 378.5h0M106.2 374.8h0M102.2 366.6h0M111.2 381.2h0M114.5 381.2h0M103.2 354.8h0M117.1 331.3h0M137.9 396.2h0M135.4 326.5h0M197.3 367.7h0M128.6 326h0M104.5 334.6h0M188.2 355.9h0M186.8 356.4h0M198.5 354.4h0M99.8 364.6h0M188.3 369.2h0M106.5 342h0M190.5 370.6h0M194.8 344.7h0M120 327h0M178.9 334.7h0M175.9 330.7h0M103 369.3h0M101.3 368.7h0M100.7 359.3h0M112.3 330.1h0M97.6 360.6h0M120.3 386.1h0M90 359.2h0M150.7 390.7h0M150.3 325.6h0M162.5 322.5h0M181.9 381.3h0M155.2 395.3h0M169.8 388.2h0M184.9 376.3h0M156.2 321h0M170.9 383.9h0M114.3 385.6h0M129.7 325.5h0M167.5 328.6h0M93.8 350.9h0M179.2 333.8h0M120.6 397.7h0M179.9 381.4h0M134 324.4h0M194.1 349.2h0M123 326.8h0M102.6 356.2h0M97.9 344.5h0M196.6 363.8h0M182.8 370.8h0M150 324.4h0M106.5 331.8h0M168.3 390.9h0M103.6 333.5h0M137.9 319.7h0M194 359.6h0M113.5 384.2h0M89.4 357.4h0M113.8 379.2h0M172.5 385.7h0M186.7 347.6h0M135.3 397.3h0M99.8 343.9h0M122.5 318.4h0M99.1 366h0M103.2 334.8h0M151.1 389.2h0M132 386.4h0M192 337.9h0M153.1 389.8h0M131 325.8h0M156.2 319h0M120.6 319.7h0M106 341.9h0M190.7 367.2h0M114.4 323.5h0M99.2 352.1h0M109.4 336.6h0M189.5 336.7h0M105.4 370.1h0M158.2 392.6h0M141.1 325.8h0M173.5 388.1h0M188.2 328.2h0M169.6 384.9h0M144.9 390.4h0M119.2 332.4h0M98.6 346.2h0M129.1 328.4h0M168.2 383.6h0M112 384.7h0M100.4 338.7h0M172.8 383.5h0M120.6 324.5h0M131.4 392.2h0M182.2 374.8h0M129.5 314.3h0M114.2 379.6h0M119.2 327.3h0M96.8 367.3h0M98.1 370.7h0M175.2 387.2h0M102.7 344.6h0M176.9 331.3h0M190.5 333.6h0M138.5 392.4h0M133.7 393.9h0M89.4 340.8h0M172.8 382.2h0M104.6 337h0M122.1 329.3h0M185.8 348.5h0M187.2 340h0M185.1 369h0M92 357.5h0M163.9 324.6h0M147.3 395.3h0M167.6 325.2h0M118.2 321.5h0M190.1 359h0M107.6 375.6h0M178.4 330.6h0M196.1 344.5h0M120.4 322.5h0M103.1 373.6h0M105.5 328.7h0M192.2 368.6h0M188.8 338.1h0M191.8 341.4h0M161 326.2h0M174.2 326.1h0M133.6 325.4h0M192.6 352.9h0M187.5 353.7h0M100.9 338h0M118.1 327.4h0M144.2 311.8h0M134.5 318.8h0M105.1 378.1h0M189.1 374.1h0M156.1 321.2h0M177.4 334.2h0M114.1 390.6h0M108.4 374.3h0M149.9 391.9h0M109.9 339.6h0M118.2 328.9h0M186.4 349.6h0M162.1 389h0M90.4 335.8h0M188.8 375.1h0M154.8 394.9h0M189.1 336.7h0M144.8 318.9h0M174.2 384.2h0M184.6 372.8h0M104.4 363.4h0M139.5 390h0M173.2 388.1h0M181.3 387.6h0M182 372.7h0M149.6 310.3h0M168.7 388.5h0M111.8 333.5h0M104 334.4h0M120.6 381.9h0M190.5 361.5h0M113.7 382.8h0M105 348.2h0M189 367.4h0M187.9 338.2h0M170.3 329h0M198 362.8h0M187.4 334.1h0M96.2 365.6h0M171.5 385.7h0M129.6 394h0M123.3 322.2h0M131.2 399.6h0M184.4 345.1h0M130.2 385.8h0M186.7 383.2h0M119.6 323.2h0M105.8 365.8h0M96.9 374.2h0M192.2 341.3h0M196 348.1h0M134.4 386.3h0M96.9 344.4h0M140 397.9h0M177 383.2h0M103.5 364.7h0M114.1 335.7h0M182.5 385.8h0M188.2 360.2h0M151.3 324.7h0M194.5 365.3h0M123.1 327.9h0M146 317.6h0M182.7 376.5h0M179.9 375.9h0M94.3 359.7h0M189.1 353h0M161.5 322.6h0M182.6 324.6h0M137.2 323h0M127.5 322.4h0M156.6 322.7h0M161.7 391.3h0M103.8 330.5h0M119.4 331.5h0M154.5 323.8h0M163 321.9h0M111.1 383.7h0M98.2 347.4h0M102.7 349.4h0M135.9 397.4h0M110.1 338.6h0M112.9 334.2h0M128.4 387.4h0M192.1 357.4h0M168.4 382.8h0M172.1 390.3h0M176.2 382.5h0M121 385.1h0M190.4 337.5h0M179.8 376.4h0M180.2 335.8h0M154.8 321.5h0M121.6 331.4h0M176.8 320.3h0M198.6 343.4h0M155.2 324.1h0M191.3 346h0M129.6 386.9h0M166.4 387.6h0M104.6 362.4h0M142.4 320.7h0M184.3 368.1h0M120.2 382.6h0M159.8 395.4h0M172.3 322.9h0M152 316.8h0M199.7 358.9h0M162.6 326.2h0M111.8 380.3h0M148.6 317.2h0M141.1 321h0M104.6 345.7h0M163.2 397.1h0M98.1 385.3h0M185.7 342.1h0M186 343h0M191.4 342.1h0M170.3 389h0M150.2 317.8h0M165.4 323.8h0M178.2 386.2h0M118.4 384h0M179.7 331.3h0M148.2 316.8h0M142.4 391.3h0M131.5 326h0M135.7 389.5h0M187.3 336.7h0M112.4 383.4h0M180 374.5h0M121.4 320.7h0M133.7 395.4h0M156.4 387.2h0M177.1 329.5h0M179.4 374.8h0M151.4 387.5h0M202.4 345.1h0M95.9 358.5h0M171.7 331.6h0M148.1 322.2h0M167.4 389.4h0M128.8 393.9h0M110.1 328.4h0M179.5 328.1h0M96.8 358.6h0M176.7 325.7h0M98.4 345.7h0M126.3 323.2h0M99 338.7h0M131.7 323.7h0M190.6 359h0M169.3 322.5h0M183.6 334.4h0M165 324.2h0M177.6 376h0M153.4 314.5h0M99.7 358.4h0M183.7 378.5h0M183.5 374.7h0M101.1 342.2h0M195.8 354.8h0M192.4 355.1h0M83.3 358.3h0M106.7 373.2h0M94.8 341.7h0M134.9 394h0M137.7 399.5h0M135.1 388h0M135.6 394.7h0M165.4 325.5h0M160.6 321.6h0M117.6 385.2h0M99.8 342.9h0M177.9 334.5h0M105 377.3h0M129.9 387.1h0M114.1 388.1h0M92.6 359h0M188.8 372.2h0M148.2 319.8h0M161.5 324h0M102.9 349.8h0M203.6 357.2h0M93 366.7h0M102.4 356.9h0M175.6 383.6h0M181.1 377h0M98.2 341h0M95.7 345.8h0M132.7 318.9h0M145.2 394.4h0M130.3 319.4h0M191.2 366.6h0M116.3 387.9h0M163.1 385.4h0M194 360h0M193.6 350.5h0M180.9 325.6h0M139.2 388.3h0M104.4 331.2h0M180.3 388.4h0M139.5 391.5h0M145.5 389.2h0M93.7 373h0M175.5 378.7h0M172.1 327.1h0M96.5 349.2h0M143.4 390.9h0M98.3 377.7h0M161.3 394.1h0M129.8 327.1h0M171 385.2h0M180.6 327.4h0M164.6 320.9h0M196.8 369.5h0M151.6 325.2h0M185 380.1h0M109.5 331.8h0M99.7 359.6h0M124.2 323.5h0M98.7 360.2h0M104.2 357.8h0M167.4 323h0M160.6 317.5h0M127.9 387.8h0M105.4 335.9h0M183 376.6h0M105.4 343.5h0M181.4 333.7h0M159.8 388.2h0M152.3 319.8h0M123.4 328.9h0M164.4 388.1h0M105.1 370.9h0M157.9 323.9h0M183.6 335.3h0M102.7 361.1h0M101 375.3h0M152.6 316.7h0M132.6 319.7h0M114.2 334.7h0M173.8 391.9h0M124 328.9h0M192.1 346.2h0M164.8 392.6h0M108.2 343.2h0M195.2 372.7h0M115.2 325.3h0M164.7 325.2h0M190.1 366.2h0M185.4 343.5h0M163.8 325h0M132.2 321.8h0M159.3 321.6h0M104.9 329.2h0M152.6 395.7h0M92.4 356.3h0M197.2 361.7h0M125 391.2h0M192.3 330.3h0M193.3 350.9h0M112.7 378.3h0M122.5 393h0M108.9 327.9h0M172 382.9h0M143.7 394h0M192.7 343.8h0M101.6 365.5h0M192.8 348.3h0M185.5 348.4h0M171.6 326h0M89.6 355.6h0M135.2 322.9h0M155.7 324.8h0M186 371.7h0M192 370.7h0M191.9 380.2h0M179.6 374.6h0M97.1 369.7h0M134.7 387.6h0M157.3 394.5h0M160 324.8h0M182.2 328.9h0M95.3 371.2h0M148.6 322.4h0M193.6 353.8h0M155 391h0M139.9 323.3h0M180.1 379.3h0M104.4 345.1h0M196.6 354.5h0M163.8 321.3h0M103.3 358.6h0M180.4 389.9h0M146.4 319.6h0M187.9 370.2h0M98.1 364.2h0M197.7 357.5h0M139 322.8h0M198.7 369.9h0M100.9 341.7h0M195.6 355.4h0M94.5 363.7h0M196 374.3h0M192.2 344.4h0M149.6 323.3h0M173.5 380.7h0M106.7 338.7h0M142.8 318.8h0M149.3 388.8h0M180.7 323.3h0M184.4 345.4h0M188.7 343h0M195.2 351.8h0M134.5 395.7h0M191.8 364.1h0M123.2 391.8h0M93.6 346.3h0M127.7 327.1h0M173.3 380.6h0M162.2 387.5h0M195.7 364.2h0M164.1 385.8h0M119.9 391.6h0M101.2 333.1h0M134.3 317.8h0M100.2 361.8h0M191.1 352.1h0M124.1 329.6h0M185.7 366.8h0M164.5 325.6h0M112.8 334.9h0M156.7 321.7h0M167.4 323.7h0M185.5 378.4h0M159.6 326.5h0M182.5 333.1h0M118.3 382.2h0M190 368h0M144.2 391.3h0M91.5 360.2h0M188.9 362.6h0M170.2 381.3h0M162.9 319.8h0M198.2 371.6h0M110.3 329.8h0M123.8 390.3h0M97 349.4h0M140 324.1h0M175.1 393.4h0M177.1 384.1h0M141 387.9h0M139.3 322.2h0M147 394.4h0M168.1 391.2h0M100.2 346.4h0M116.1 332.2h0M175.8 390.8h0M124.6 318.4h0M99.3 357.5h0M110.8 335h0M109.7 336.5h0M118.3 379.9h0M97.9 373.6h0M173.1 328h0M166.6 392.5h0M186.5 340.9h0M198.4 362.1h0M156.9 323.5h0M135 321.2h0M197 340.5h0M172.4 384.5h0M96.2 344h0M161.4 322.1h0M99.7 369.1h0M178.7 378.7h0M183.2 328.7h0M117.4 327.5h0M92.6 344.5h0M187.9 342.9h0M131.8 313.7h0M137.5 324.5h0M104 373.1h0M149.3 387.1h0M169.6 386.7h0M122.1 391.4h0M92.4 346.3h0M142.4 320.5h0M93.5 349.3h0M175.4 326h0M105.7 366.4h0M181.8 339.5h0M94.7 353.5h0M167.1 392.8h0M160.2 388.6h0M122.1 383.1h0M106.8 382.9h0M169 322.8h0M118.9 380.5h0M174.2 331.1h0M140.2 387.1h0M184.4 330.4h0M126 326.7h0M122.8 325.8h0M165.9 390.1h0M105 337h0M198.1 345.3h0M112.5 331.3h0M125.3 385.4h0M160.8 323.5h0M143.8 322.7h0M198.7 342.7h0M121.6 387h0M125.1 329.6h0M182.1 338.9h0M157.5 324.8h0M98 350.7h0M132.1 322.6h0M202.5 363.8h0M91.4 357h0M97.6 338.2h0M157.3 400.1h0M177.5 332.6h0M181.8 341.4h0M92 361.4h0M111.5 383.9h0M107.2 343.1h0M163.3 391.2h0M194.1 367h0M129.4 388.2h0M104.9 341.2h0M101.7 357.6h0M112.8 320.5h0M134.4 393.4h0M158.7 397.5h0M97 339h0M131.8 397.6h0M188.3 363.2h0M124.8 388.6h0M122 395.2h0M131.2 386.9h0M122 389.4h0M195.2 368h0M95 362.8h0M104.4 350.7h0M184.1 379.7h0M125.4 396.5h0M133 319.7h0M139 319.1h0M165 323.5h0M203.5 363.5h0M118.4 388.3h0M189.7 351.5h0M176.1 387.1h0M102.8 376.9h0M176.1 383.4h0M191.9 342.5h0M134.2 394.4h0M157.1 386h0M110.3 382.2h0M103.9 323.5h0M138.3 321.3h0M115.8 389.1h0M190.2 357.9h0M137.8 322.7h0M189 347.3h0M184 333.1h0M105.4 365.8h0M163.8 395.9h0M187.6 366.7h0M103.9 361.9h0M188.9 378.5h0M195.4 368.3h0M162.3 326.2h0M184.4 334.4h0M94.5 352.1h0M101.6 373.5h0M164.9 326.6h0M155.4 393.2h0M132.1 319h0M107 342.4h0M103.1 380.3h0M130.4 323.8h0M119.6 391.2h0M130.4 397.5h0M142.8 320.9h0M179.7 328.5h0M95.2 356.6h0M189.1 359.8h0M104.7 382.4h0M113.8 333.4h0M117 330.9h0M105.7 386.7h0M114.8 392.2h0M122.4 387.5h0M149.6 394.7h0M189.1 370.4h0M186.5 378.6h0M187.6 379.5h0M112 337.8h0M106.3 383.1h0M194.3 364.6h0M167.3 329.4h0M132.6 324.2h0M158.6 320.4h0M167.6 394.2h0M183.9 331.6h0M144.5 387.5h0M154.2 393.6h0M185.6 366.2h0M104.2 359.6h0M148.9 316.8h0M152 320.4h0M172.3 332.9h0M158.8 316.2h0M147.7 399.9h0M177 325.7h0M117.7 321.2h0M93.6 370.2h0M183.6 372.5h0M168.6 319.4h0M104.3 372.4h0M109.4 331.3h0M106.9 336.2h0M150.7 321.1h0M190 350.9h0M99.8 367.4h0M189.5 368h0M127.5 318.4h0M140.6 392.4h0M190.9 361.4h0M102.2 351.7h0M178.3 380.8h0M190.8 366.5h0M128.6 385.3h0M94 353.2h0M141.2 394.8h0M177.2 387.9h0M168 392.1h0M192.3 376.9h0M107.1 375.9h0M150 321h0M186.7 332.7h0M168.3 324.9h0M192.6 360.8h0M163 390h0M151.4 320.8h0M173.4 380.3h0M111.9 333.2h0M184.7 366.7h0M161 391.9h0M149.8 391h0M153.1 395.7h0M188.2 361.8h0M94.7 373.8h0M97.4 346.1h0M102.7 355.6h0M191.9 346.4h0M139.9 387.3h0M161.9 324.5h0M115.6 383.7h0M115.5 381.7h0M188.8 375.2h0M160.1 316.3h0M176.1 335.9h0M121.3 328.3h0M137 390.6h0M179.1 338h0M182.3 374.1h0M101.9 338.2h0M117.8 331.6h0M120.7 386h0M102.1 380.8h0M190.6 365.3h0M140.3 320.7h0M185 335.5h0M191.2 346.4h0M113.6 385.4h0M167.8 382.3h0M189.3 330.6h0M190.5 351.4h0M181.6 382.1h0M154.9 389.9h0M116.2 397.2h0M115.5 325.2h0M128.5 322.7h0M104.1 345.4h0M174.6 329.2h0M105.4 341.6h0M100.6 369.7h0M97.7 346.3h0M107.1 384.8h0M125.6 385.2h0M103.4 338.8h0M193.3 369.2h0M97.2 364.5h0M115.4 377.7h0M188 358.1h0M196.7 351.4h0M121.2 384.8h0M154.1 388.4h0M108.2 373.1h0M184.4 337.2h0M102.9 336h0M134.2 387.6h0M186.9 354.3h0M181.3 377h0M193.4 368.8h0M140.8 393h0M102.6 369.9h0M200.7 366h0M152.3 387.6h0M129.7 321.6h0M107.6 341.7h0M146.4 391.8h0M106.3 332.4h0M97.3 338.9h0M156.3 391.4h0M97.4 358.3h0M141.4 392.3h0M99.4 362.5h0M135.9 316.8h0M144.9 325.4h0M155.9 319.5h0M175.6 383.3h0M109.6 334.4h0M132.7 318h0M131.9 392.9h0M107 382.1h0M106.2 345.3h0M143.8 321.7h0M162.2 325.2h0M97 343h0M106.9 379.8h0M97.4 369.2h0M111.9 388.6h0M102.2 370.8h0M193.8 351.3h0M183.5 372.9h0M191.3 332.9h0M138.4 394.7h0M96.8 372.2h0M126.5 389.5h0M139.8 389.7h0M115.2 330.6h0M132.6 393.7h0M161.8 390.1h0M147.6 394.4h0M136.4 387.2h0M199.5 356.1h0M142.7 397h0M162.3 323.3h0M106.6 335.8h0M98.3 374.4h0M188.6 359.3h0M126.5 391.9h0M151.6 320.6h0M197.6 368.2h0M114 384.5h0M105.4 370.8h0M168.4 327h0M196 353.3h0M191.9 351h0M90.1 368.1h0M161.4 390.8h0M139.8 389.8h0M202.5 356.1h0M134.8 321.7h0M178.1 330.4h0M117.2 385.4h0M172.4 381.3h0M112.7 379.9h0M152.4 388.2h0M203.5 362.2h0M166.9 385.1h0M190.6 336.3h0M189.1 346.1h0M159.3 323.4h0M195.1 352.8h0M175.5 385.3h0M147.5 390.9h0M176.6 334.2h0M174.7 378.4h0M170.4 381.3h0M174.5 378.4h0M119.9 387.9h0M137.2 319.4h0M104.1 331.9h0M146.7 392.5h0M168.8 393h0M157.3 322.9h0M187.9 372.1h0M128.6 322.7h0M112.1 322.4h0M116.8 379.9h0M137.5 390.6h0M138.6 390.2h0M109.3 334.1h0M192.2 346h0M190.2 361.1h0M184.6 366.4h0M143.6 394.6h0M101.7 389.6h0M142.7 393.3h0M98.1 352.4h0M166.7 320h0M103.3 347.4h0M112 384.8h0M105.6 378.5h0M202 349.7h0M132.8 387.7h0M104.3 368.6h0M155.9 322.2h0M143.9 313h0M110.8 384.3h0M110 375.3h0M178.3 331.3h0M102.8 333.4h0M142.5 321h0M98.1 357.2h0M114.3 336h0M142.1 393.7h0M162.7 327.6h0M106.2 367.6h0M107.9 335.4h0M101.9 336.8h0M147 392.9h0M97.5 349.5h0M152 313.4h0M102 362.5h0M201.7 341.5h0M98.5 345.1h0M107.1 332.3h0M111.5 395.2h0M191.8 347.5h0M128.9 319.4h0M153.6 325.7h0M195.6 362.6h0M151.5 396.7h0M99.9 339.5h0M121.6 324.6h0M111.9 388.7h0M191.2 344.4h0M91.5 352.7h0M183.2 332.7h0M189.2 365.3h0M145.7 389.5h0M183.8 337.2h0M97.4 348.9h0M115.6 379.5h0M140.5 321.1h0M158.2 389.7h0M113.7 327.4h0M132.8 385.7h0M105 376.8h0M200.7 357.8h0M194.4 364h0M195.8 334.6h0M145.3 388.3h0M154.5 394.3h0M178.9 330.9h0M185 343.7h0M97 353.3h0M102.8 362.2h0M188.8 374.1h0M153.1 318.1h0M186.4 366h0M169.3 383h0M186.8 372.7h0M190.1 360.4h0M145.2 387.2h0M199.7 360.8h0M189.7 348.2h0M126 318.7h0M192.8 362.9h0M123.3 329.6h0M189.2 330.8h0M137.6 326.3h0M175.3 385.1h0M94.8 366.7h0M154.6 314.6h0M185 332.5h0M188.1 332.1h0M168.7 320.1h0M189.1 355.6h0M121.1 387.8h0M106.1 381.2h0M146.9 387.7h0M117.2 329.3h0M121 328.5h0M139.2 394.5h0M190 365.2h0M147.1 390.2h0M114.1 378.8h0M182.4 336.7h0M191.1 355h0M131.9 321.3h0M98 337.2h0M131.7 389.4h0M192.2 370.1h0M99.7 376.2h0M147.4 322.7h0M187.8 351.7h0M104.5 375.9h0M149.1 394h0M104.8 338.7h0M149.1 324.2h0M135.2 395.5h0M102.8 367.2h0M101.2 381.1h0M127.9 386.3h0M117.5 396h0M196.9 338.7h0M174.4 382.7h0M176.9 334.7h0M157.8 386.5h0M117.9 386.1h0M91 362.7h0M100.8 335.3h0M190.8 338.1h0M126.4 329.2h0M101.8 365.2h0M200.4 349.6h0M119.4 329.9h0M112.9 336.3h0M106.5 335.1h0M143.2 324.1h0M135.3 323.2h0M92.5 358.8h0M182.2 340.6h0M197 337.8h0M121.5 381.8h0M95.2 365.4h0M182.5 370.4h0M186 363h0M178 380.9h0M128.3 327.2h0M111.1 385.8h0M98.3 363.6h0M175.7 389.1h0M109.9 327.9h0M196.8 360.7h0M191.2 364h0M97 345.2h0M110 375.4h0M111.7 380.7h0M193.5 356.7h0M156.7 320.3h0M132.1 322.7h0M108 325.6h0M120.9 324.9h0M148.7 316.6h0M109.1 334.7h0M160 320.2h0M100.2 347.9h0M127 328.7h0M113.6 386.7h0M167.6 324.5h0M143.6 391.1h0M128.1 393h0M195.6 356.2h0M180.1 378.6h0M104.8 377.3h0M126.1 401.4h0M113.5 378.4h0M141.6 323.7h0M104.6 337.3h0M170 391.9h0M183.7 381.5h0M115.7 389.8h0M122.5 389.7h0M177.7 329.7h0M149.6 396.3h0M102.2 336.1h0M152.8 387.5h0M177.7 378.6h0M131 325.5h0M117 385.4h0M99.4 367.6h0M131.5 324.5h0M105.4 374.1h0M137.8 319.5h0M100.9 356.3h0M127.1 385h0M181.6 372h0M128.5 326.3h0M118.2 386.1h0M134.3 392.2h0M133.7 316.8h0M114.4 323.2h0M129.7 327.2h0M169.5 392h0M154.4 322.9h0M145 318.4h0M169.7 383.8h0M101.4 364.6h0M136.5 388h0M176.6 330.4h0M114.1 377.8h0M111.9 327h0M181.3 323.6h0M180.7 379h0M146.4 393.8h0M168.1 388.7h0M174.8 378.8h0M114.2 382.3h0M174.5 324.8h0M102.7 351.6h0M144.3 399.1h0M146.7 322.6h0M96.3 349.8h0M131.8 315.4h0M188.2 341.8h0M100.8 375.3h0M113.5 325.3h0M97.6 363.8h0M158.2 326.6h0M174.7 382.4h0M155.5 396h0M180.3 334.8h0M99.4 346.3h0M154.3 320.1h0M187.9 355.2h0M151.6 317.8h0M106.2 327.4h0M159.2 398.2h0M191.5 346.2h0M146.4 325.2h0M112.8 332.2h0M144.2 325.8h0M105.1 338.6h0M93.4 363h0M146.4 325.5h0M124.5 389.8h0M102.2 339.3h0M101.6 366.1h0M88.1 350.4h0M148.1 396.1h0M97.5 354.5h0M183.5 337.7h0M120.1 328.8h0M101.7 334.1h0M91.7 359.2h0M105.3 347.8h0M165.6 389.8h0M174 322.6h0M187.8 341.6h0M146.6 318.5h0M157.5 386h0M115.9 324.4h0M105 382.4h0M168.5 325.7h0M174.4 326.6h0M152.8 319.8h0M97.4 360.6h0M118.2 327.6h0M175.5 323.8h0M101.6 346.7h0M173.5 332.7h0M182.6 338.3h0M101.1 357.4h0M98.2 364.3h0M96.5 349h0M132.8 388.7h0M196 342.2h0M165.3 387.2h0M115.2 324.7h0M122.6 329.5h0M109.9 388.5h0M103.4 342.2h0M154.6 324.5h0M147 391.6h0M188 342h0M152.5 318h0M187.1 366.6h0M143.1 388.3h0M145 319.4h0M151.7 395.9h0M138.1 320.3h0M134.4 386.3h0M105.8 327.3h0M118.8 384.9h0M111.1 391.2h0M157.8 323.4h0M155.3 391h0M132.8 316.6h0M193.1 346.7h0M177.4 384.8h0M103.5 337.3h0M101.4 342.5h0M163.6 386.7h0M165.7 384.8h0M183.9 375.8h0M104.9 334.6h0M113.6 327.1h0M177.9 380.6h0M192.6 357.5h0M177.5 377.5h0M98.1 355.1h0M174.8 390.7h0M179.4 374.3h0M108.8 338.2h0M114.2 380.3h0M174.3 380.2h0M176.9 331.3h0M167.4 387.8h0M180.3 327.8h0M196.5 370.9h0M174.2 391.1h0M187.5 357.6h0M92.4 343.1h0M169.9 328.9h0M189.9 366.3h0M151.9 321.9h0M182.2 373.7h0M99.1 365.7h0M105.7 375.5h0M163.4 390.6h0M147.7 317.2h0M185.3 369.8h0M137 394.8h0M150.9 320.9h0M124.8 328.1h0M155.1 312.5h0M187.2 372.2h0M192.2 366.3h0M111.7 376.1h0M135.6 326.5h0M199.5 368.4h0M104.2 335.9h0M123.2 390.3h0M126.3 326.7h0M101.6 375.8h0M137.1 322.5h0M138 393.5h0M187.1 384.7h0M186.6 366.6h0M140.1 397.2h0M190.8 371.7h0M189.2 356.8h0M172 330.4h0M121 392.1h0M164.8 394.1h0M197.5 356.2h0M157.3 320.2h0M117.4 381.4h0M157.8 324.4h0M157.7 393.6h0M110.9 385.8h0M96.7 357.8h0M124.3 318.4h0M187.5 354.7h0M109.5 380.9h0M181.7 378.4h0M178.6 379.5h0M101 361.2h0M102.9 339.9h0M97.4 350.4h0M189.2 352.7h0M185 376.7h0M153.8 388.6h0M164.2 386.7h0M155.7 319.4h0M130.5 390.6h0M117.2 381.6h0M187.6 339.6h0M100.8 343.4h0M169.6 320.8h0M179.2 327.4h0M192.5 338.3h0M166.1 392.4h0M192.8 367.1h0M155.6 391.8h0M195.9 350.9h0M120.1 324.8h0M179.4 332.5h0M104.8 341.3h0M155.5 397.2h0M130.1 324.6h0M134.1 321.1h0M97.2 356.9h0M136.8 396.8h0M125.2 328.6h0M186 337.4h0M148.3 324.9h0M163.9 387.2h0M113.3 376.7h0M102.7 339.7h0M170.6 323.9h0M190.1 351.1h0M106.8 367.8h0M113.1 332.8h0M187.2 334.6h0M181.4 339.6h0M185.8 341h0M124.9 390.2h0M186 365.1h0M103.7 373.7h0M153.5 321.2h0M162.8 327.3h0M91.3 366h0M148.5 391.4h0M85.9 340.8h0M89.1 363h0M171 323.8h0M138.8 394.3h0M101 359h0M174.9 332.1h0M173.5 331.4h0M137.2 395.4h0M175.3 329.9h0M179.3 379.3h0M159.1 386.1h0M103.9 386.1h0M93.7 374.5h0M183.1 337.3h0M138.4 316.2h0M161.6 385.4h0M110.7 337.3h0M106.4 372.6h0M132.2 324h0M115.7 387.8h0M168 321.1h0M104.8 383.6h0M166.6 396.3h0M102.4 347.8h0M109.4 325.8h0M151.8 320h0M181.3 332.6h0M95.6 346.8h0M133.6 388h0M103.4 369.7h0M96.2 337.7h0M192.8 366.3h0M198.2 360.6h0M122.1 328.1h0M134.7 307.2h0M88.6 348.8h0M140 324.8h0M145.7 394.3h0M111.9 384.4h0M193.1 367h0M112.7 376.9h0M129.4 385.2h0M109 380.8h0M142 388.5h0M129.6 397h0M191.5 361.9h0M172.3 332.3h0M188.5 370.5h0M212.7 351.6h0M182.9 338.3h0M178 384.6h0M138.7 320.9h0M117.1 329.3h0M102.5 356.9h0M108.4 385.4h0M140.6 401.1h0M103 363.1h0M191.3 366.4h0M131.1 323.7h0M124.8 328.3h0M192.7 339.1h0M179.1 319.7h0M104.6 342h0M149 393.2h0M170.1 381.7h0M159.3 327.5h0M100.7 363.7h0M99.6 363.6h0M120.2 387.9h0M119.6 327.4h0M115.6 326.1h0M192.7 366.2h0M98.6 344.6h0M147.9 395.4h0M195.2 354.1h0M108.6 342.3h0M194.3 360.3h0M158.2 389.2h0M100.5 360.7h0M103.5 372.3h0M193 340.3h0M183.2 342.2h0M120.4 327.8h0M186.5 337.8h0M132 327.3h0M188.2 355.6h0M95.7 361.8h0M157.1 323.1h0M193.6 369.8h0M143.8 392.4h0M98.4 346.5h0M114.8 334.2h0M168.6 385.9h0M115.4 378.5h0M105.4 367.1h0M124.8 326.1h0M113.1 327.8h0M130.5 326h0M144.2 393.9h0M172.8 328.9h0M107.5 378h0M187.6 381.6h0M176.1 387.2h0M104.1 362.9h0M184.4 377.6h0M105.7 372.8h0M102.2 348.1h0M186.6 381h0M191 340.4h0M123.7 323.3h0M157.6 327.1h0M142.7 320.5h0M163.9 390.5h0M123.5 322h0M108.7 333h0M102.8 332.8h0M105.6 342.4h0M114.7 380.8h0M143.6 322.2h0M173.1 331.6h0M194.5 347.2h0M196.9 355h0M95 374h0M187.1 380.7h0M90.8 361.9h0M155 392.3h0M103.4 361.2h0M133.7 319.5h0M102.4 355.5h0M96.8 353.4h0M106.8 335.2h0M169.6 387h0M124.9 328.6h0M176.3 378h0M192.8 348.9h0M147.4 323.6h0M104.5 366.7h0M137.6 322.1h0M182.8 330.4h0M164.9 319.5h0M154.5 326.2h0M96.3 347.1h0M121.4 385.7h0M110.4 387h0M187.6 373.8h0M171 382.6h0M129.7 390.4h0M123.7 320.2h0M186.9 377.6h0M124.4 328.2h0M153.5 321.4h0M189.9 340.8h0M181.1 380.8h0M192.7 355.4h0M110.8 383.5h0M164.8 323.4h0M114.8 332.5h0M116 334.1h0M104.2 352.4h0M115.7 328.2h0M191.7 358.5h0M155.3 318.2h0M159.3 317.1h0M101.6 361.1h0M174.9 381.8h0M192.4 351.3h0M151.2 389h0M107.6 329.3h0M200.2 347.8h0M139.5 324.5h0M146.9 318.3h0M165.1 392.7h0M169.7 388.2h0M148.8 316.5h0M194.2 342.3h0M186.3 343.3h0M119.4 328.1h0M108.6 384.2h0M94.3 365.7h0M161.5 327.3h0M105.1 336.6h0M97.5 380.3h0M169.7 388.1h0M185.7 334.9h0M121.8 319.5h0M174.4 384.3h0M159 322.4h0M159.2 322.6h0M152.4 320.2h0M151.2 321.6h0M99.3 361.8h0M188.2 364.4h0M122 317.6h0M127 386.9h0M105 336.8h0M200.5 362.8h0M158.7 399.6h0M188.1 367.2h0M188.5 379.6h0M189 372.9h0M187.9 334.2h0M187.1 339.8h0M129.2 324.6h0M97.9 351.4h0M152.7 395.7h0M109.8 375.3h0M102 366.8h0M166.9 388.9h0M181.6 336.8h0M114.5 328.9h0M188.3 342h0M115 326.5h0M180.1 373.1h0M101.7 353.1h0M168.3 322.5h0M128.5 327.9h0M88.2 375.2h0M164.9 320.7h0M199.7 345.6h0M187.2 334h0M185.9 342.7h0M188.2 328.5h0M123.2 392.8h0M156.7 390.1h0M90.6 372.1h0M188 364.6h0M170.7 383.3h0M101.4 357.1h0M146.1 395.6h0M195.8 360.5h0M149.3 317.1h0M102.5 353.3h0M112.1 386.9h0M128 388.3h0M179 328.5h0M145.2 392.2h0M99 375.9h0M132.5 388.5h0M121.8 386.5h0M176.9 333.2h0M179.9 373.8h0M188.6 375.6h0M108.7 377.7h0M105 364.4h0M133.3 320.3h0M141 387.9h0M148.8 324.1h0M110 378.8h0M124.7 389.6h0M186.5 377.4h0M204.8 360.3h0M103 351.1h0M133.6 392.9h0M141.8 388.8h0M150 323.2h0M184.5 330.9h0M90.8 356.1h0M181.6 339.8h0M94.6 344.5h0M95.7 337.3h0M151.7 394.4h0M132.6 324.1h0M160.9 388.9h0M193.4 358.8h0M127.7 392.1h0M175.7 383.3h0M135.5 323.4h0M193.7 368.8h0M140.1 324.3h0M94.9 353.5h0M98.3 366.9h0M116.7 384.2h0M150.4 318.8h0M147.5 322.6h0M126.7 393.4h0M134.9 321.2h0M162.1 320.8h0M131.5 385.9h0M202.2 364.3h0M114.4 382.8h0M163.2 388.1h0M97.2 370.7h0M98.8 336.8h0M196 367.3h0M114.8 382.8h0M190.5 343.9h0M170.7 389.7h0M139.4 391.7h0M176.8 328.3h0M179.8 374.1h0M163.7 320h0M123.5 385.2h0M206.5 358.2h0M127.1 386.7h0M172.2 382h0M104.5 330.5h0M113.3 386.4h0M136.9 390.2h0M139.5 390h0M115.6 323.4h0M186.6 331h0M157.9 396.2h0M144.2 319.4h0M135.9 326.3h0M123 393.2h0M152.6 323h0M187.8 349.9h0M166.2 389.3h0M138.5 390.3h0M188.7 364.8h0M124.8 325.8h0M147.6 319.8h0M180.1 373.9h0M115.6 318.8h0M136.4 393.5h0M154.8 323.8h0M182.3 335.1h0M186.5 340.3h0M171.3 331.2h0M184.7 337.7h0M94.5 365.8h0M99.6 340.5h0M100.7 355.4h0M117.2 379.5h0M122.8 325.4h0M132.9 325.6h0M151.2 395h0M113.7 336.8h0M192.5 340.9h0M146.2 321.8h0M113.4 382.9h0M150.7 319h0M136.8 389.7h0M190.9 342.4h0M196.2 361.3h0M196 362.8h0M193.4 344.1h0M189 338.7h0M189.8 356.3h0M196.8 354.3h0M160.3 326.4h0M151.6 319.2h0M176 331.9h0M176.6 333h0M139.6 389h0M117.5 386h0M155.7 321h0M99.1 362h0M170.4 387.9h0M188.4 374.6h0M142.2 391.5h0M97.4 347h0M173.1 325.8h0M200.7 354.7h0M181.8 373.1h0M111.9 387.5h0M170.4 394.5h0M201.6 339.9h0M178.4 389.6h0M178.9 333.3h0M150.9 390.5h0M162.8 320.6h0M110.9 334.3h0M94.6 359.4h0M196 352h0M152.7 321.5h0M120.6 383.6h0M179.6 335.1h0M198.9 350.2h0M195.4 347.7h0M137.1 315.4h0M137.6 390.2h0M186.9 335.5h0M159.7 317h0M90.8 354.4h0M97.5 370.7h0M164.7 391.4h0M163.4 389.7h0M192.7 371.6h0M93.2 352.6h0M142.3 321.5h0M111.2 330.6h0M111.4 337.9h0M189.9 373.2h0M183.8 331.4h0M149 390h0M119.2 383.9h0M102.5 341.7h0M167.2 323.4h0M92.9 374.5h0M142.9 389.5h0M189.7 379.2h0M186.7 370.4h0M147.7 325.7h0M99.7 365.7h0M170.7 400h0M194.7 349.7h0M95.3 334.8h0M196.4 356.8h0M188.8 361h0M162.3 326h0M121 320.4h0M144 324.8h0M193.4 362.5h0M98.4 360.1h0M133.5 391.2h0M174.3 394.4h0M105.4 363.7h0M124.5 318.6h0M200.3 351.5h0M154.3 392.6h0M127.3 389.8h0M181.9 331.7h0M188.9 375h0M188.2 372.5h0M184.7 377.2h0M174.5 329.4h0M184.8 374.7h0M105.3 330h0M111.2 332.1h0M122.6 328.9h0M154.8 322h0M106 339h0M93.4 346.4h0M181 333.8h0M181.4 384.5h0M103.7 359.5h0M178.4 382.1h0M131 323.3h0M104 335.6h0M101.9 344.9h0M102.1 364.4h0M165 327.4h0M93.9 381.9h0M137.2 390.2h0M178.6 336h0M166.5 390.3h0M167.4 393h0M99.6 375.5h0M113 378.7h0M98.6 382.6h0M147.7 389.2h0M106.6 372.3h0M172.6 383.4h0M101.9 365.2h0M193 357.7h0M191.6 341.9h0M173.1 329.9h0M113.6 325.3h0M141.3 322.9h0M128.2 389.9h0M134.8 395.7h0M112.7 386.6h0M173.3 385.2h0M161.6 385.1h0M90.7 352.5h0M189.7 368.6h0M127.5 325.8h0M122.2 382.3h0M187.9 381.4h0M164.4 395h0M175.8 324.7h0M112.5 336.9h0M186.2 343.9h0M118.4 386.9h0M172.2 319.8h0M114 383.6h0M168.8 314.2h0M100 359.9h0M92.8 370.8h0M194.5 371.3h0M99.4 348.3h0M119.7 382.3h0M180.9 331.7h0M190 351.2h0M121.6 323.8h0M143.6 317.4h0M92.9 359.3h0M189.2 348.5h0M189.5 366h0M180.2 385.1h0M110.5 389.8h0M150.4 314h0M98.1 360.9h0M161 393.4h0M188.4 368.7h0M185.4 372.3h0M172.6 380.7h0M100 365h0M161.6 393.5h0M104.3 352.8h0M142.8 317.1h0M154.4 397.8h0M200.8 355.3h0M182.9 324.8h0M193.5 356.6h0M142.1 319.9h0M176.2 335.2h0M131.9 393.1h0M108.9 381.1h0M128.5 323.4h0M109.5 375.4h0M118.7 385.1h0M151.5 394.1h0M168.4 324.7h0M133.4 387.1h0M102.2 330.1h0M106.4 377.7h0M123.5 387.6h0M113 384.7h0M129.1 394h0M188.9 375.5h0M125.9 390.1h0M114.4 321.5h0M98.1 341.4h0M161.1 320.4h0M141.5 326h0M106 331.7h0M151.8 391.9h0M122.5 325.9h0M116.5 333.5h0M101.1 333.5h0M110.7 388.1h0M92.5 356.1h0M116.4 390.6h0M150.1 324.1h0M155.4 324.7h0M140.1 390.5h0M131.1 393.4h0M120.3 331.2h0M189.4 379.4h0M100.5 338.7h0M176.6 329.5h0M128.3 394.4h0M189.6 343.2h0M101.1 376.2h0M144.8 392.5h0M92.2 350.6h0M177 326.4h0M176.8 323.7h0M168.9 312.6h0M90.8 347.7h0M176.7 335.7h0M109.8 374.4h0M144.9 389.2h0M125.7 393.3h0M109.2 330.6h0M175 328.8h0M179 383.1h0M97.6 350.3h0M98.9 346.7h0M186 343.4h0M172.3 326.1h0M111.8 374.3h0M184.5 371.6h0M191 351.7h0M123.4 391.4h0M174.4 379h0M135.5 387.1h0M97.9 344.7h0M100.7 382.9h0M185.1 376.8h0M185.9 381h0M92.6 350.3h0M120.2 383h0M171.3 331.3h0M186.1 378.4h0M134.7 393.3h0M197.1 336h0M91.6 356.2h0M146 393.7h0M121.5 322.6h0M161.7 385.1h0M168.7 319.7h0M109.2 391.1h0M194.1 351.8h0M107 338.8h0M139 393.9h0M111.8 384.6h0M182.9 371.8h0M180.7 375.5h0M120.2 381.2h0M105.2 341.6h0M91.9 338.6h0M185.6 379h0M180.9 333.7h0M99.4 340.8h0M148.3 388.3h0M159.6 390.4h0M98.6 355.9h0M160.9 318.3h0M190.6 333.8h0M177.1 326.5h0M79.2 460.7h0M109.2 374.8h0M55.4 444.1h0M92.4 451.6h0M79.6 433h0M73.1 434.8h0M78 441.2h0M71.5 458.1h0M90 377.1h0M80.2 404.6h0M109.5 394.9h0M92 411.6h0M84.7 410h0M84.9 416.5h0M71.5 456.8h0M85.5 461.1h0M105.7 416.1h0M104.7 440.1h0M63 433.8h0M84.1 424.5h0M108.2 424.5h0M93.9 453.8h0M88.5 389.7h0M106.1 369.1h0M58.8 463.3h0M71.3 418.6h0M65.9 435.4h0M68.5 452.9h0M76.2 403.6h0M83.4 395.9h0M87.8 419h0M106.8 391.7h0M108.5 434.7h0M92.5 396.1h0M58.5 433.3h0M85.8 456.7h0M56.2 434.3h0M105.3 366.8h0M71.4 421h0M97 441.3h0M97.4 462.6h0M86.1 439h0M59.3 446.6h0M105.4 395h0M102 458.8h0M93 416.8h0M80.2 401.3h0M94.7 359.2h0M76.1 452.6h0M78.2 447.6h0M97.8 445.3h0M100.1 379.8h0M72.1 456h0M64.7 421.6h0M106.4 399.3h0M74.4 458.3h0M72.4 464.1h0M83.3 422.4h0M64.5 442.6h0M105.7 461.6h0M86.5 438.5h0M90.7 372.8h0M72.8 430h0M102.3 446.2h0M57.1 463.1h0M58.1 452.2h0M58.1 450.6h0M81.5 454.3h0M90.5 439.4h0M70.7 414.9h0M61.9 435.3h0M83.3 399.1h0M191.3 401.8h0M117.4 323.2h0M123.9 415.4h0M212.8 377.5h0M118 313.3h0M197.8 395h0M145.1 303.4h0M183.3 406.7h0M135.7 316.1h0M110 321h0M192.1 306.6h0M219.4 331.1h0M130.7 414.4h0M172 422.5h0M116.4 409.3h0M213.1 336.7h0M152.3 428.3h0M131.9 423.4h0M112.4 322.6h0M80.3 320.7h0M103.8 309.4h0M83.1 384.9h0M177.3 314.1h0M220.7 343.4h0M109.6 316.3h0M129.5 311.2h0M121.7 322.1h0M81.6 377.9h0M77.2 385.6h0M173.2 305.2h0M181.6 315.7h0M218 376.6h0M224 336.1h0M75.8 403.4h0M115.1 323.6h0M97.7 306.4h0M128 314.1h0M125.3 423.5h0M135.5 306.1h0M108 305.9h0M90.2 334.8h0M204.4 344.6h0M208.1 351.8h0M200.9 310.5h0M121.4 408.1h0M148.3 313h0M128.1 305.7h0M222.9 346h0M170 428.9h0M131.1 417.3h0M91.7 412.8h0M167.4 413.7h0M111.4 314.8h0M137.6 316h0M197.7 309.1h0M84 403.1h0M138.6 315.5h0M111 427.1h0M104.5 296.5h0" stroke="#bfbfbf" stroke-width="2.3" stroke-linecap="round" fill="none"/>
<path d="M44.9 437.2h0M46.7 441.6h0M45.1 428.4h0M44 425.1h0M55.4 433.9h0M44.9 439h0M44.7 440h0M54.8 430.3h0M56 444.6h0M51.2 439.6h0M46.9 426.5h0M46.5 436.6h0M47.8 437.2h0M44.3 430.3h0M44.7 425.3h0M55 432.3h0M44.1 430.1h0M49 442.3h0M48.2 429.8h0M54.7 443.1h0M53.4 443.2h0M44.1 425.2h0M47.5 432.2h0M44.5 430.9h0M51.5 434h0M49.9 426.5h0M53.1 426.3h0M44.5 429.6h0M50.2 424.7h0M44.2 433.9h0M44.4 424.6h0M45.5 436h0M45.2 442.7h0M49.1 427.1h0M50.6 426.7h0M54.5 426.2h0M50.6 432.5h0M46.5 429.5h0M55.5 445.9h0M49 443.4h0M50.2 439.5h0M55.3 426.7h0M44.9 444.8h0M44.9 435.5h0M47.6 432.4h0M47.3 432.6h0M45.3 441.6h0M47 442h0M48.6 441.2h0M44.2 440.5h0M44.5 430.7h0M48.9 427.3h0M53.4 432.6h0M50.2 424.3h0M44.8 432.7h0M47 425.3h0M47.4 446h0M46.2 424.7h0M47.2 429.4h0M51.8 435.3h0M47.2 441.3h0M46 441h0M44.6 438.4h0M50.3 432h0M47.8 434.7h0M47 426.6h0M54.2 433.3h0M45.4 438.9h0M44.5 439.9h0M49.8 441h0M45.9 439.4h0M47.3 430.4h0M49.3 434.2h0M51.9 441.9h0M44.1 437.8h0M44.5 443.3h0M52.1 437.8h0M44.7 441.3h0M51.1 431.9h0M46.1 434.6h0M48.6 430.3h0M45.8 438.1h0M56 439h0M51.9 433.3h0M48.7 442.7h0M44.5 445.7h0M47 430.3h0M47.8 431.9h0M45.3 430.6h0M44 433.6h0M50 429.5h0M46.7 430.5h0M44.9 434.9h0M49.3 431.6h0M49.3 432.6h0M44.5 424.7h0M46.2 427.1h0M44.7 436.9h0M48.3 440.3h0M44.6 439.9h0M52.6 439h0M52.4 430.6h0M53.9 434.3h0M46.4 436.3h0M48.6 437.5h0M46.4 441.9h0M44.6 430.7h0M44.2 435.4h0M51.5 438.5h0M44.4 431.8h0M53.9 430.5h0M47.3 433.9h0M44.1 430h0M44.1 431.5h0M50.8 443.9h0M44.7 444h0M54.6 428.1h0M54.7 434.8h0M52 429h0M51.9 433.9h0M45.9 437h0M46 440.4h0M47.1 433.7h0M44.4 437.8h0M46.7 435.2h0M47.3 424.5h0M48.8 426.4h0M56 440.8h0M47.4 436.8h0M49.7 440.4h0M44.7 431.7h0M52.4 439.9h0M48.4 424.2h0M48.6 439.7h0M55.2 426.3h0M46.6 441.7h0M52.3 445.4h0M50.6 433.3h0M52.2 425.4h0M46.8 436.1h0M54.5 443.9h0M44.6 432h0M44 428.9h0M46 431.5h0M44.2 442h0M53.2 434.4h0M51.8 426.8h0M47.5 437.7h0M46.9 431.4h0M46.3 425.9h0M44.6 425.5h0M54.3 425.8h0M44 426.7h0M51.7 436.5h0M55 424.2h0M50.1 435.7h0M44.1 443.4h0M54.2 435.5h0M45 428.7h0M44 442.6h0M44.1 425.5h0M52 425.5h0M44.3 437.8h0M51.9 433.7h0M55.1 438.7h0M50.2 432.4h0M47 432.2h0M49.7 437.4h0M52.3 428.6h0M45.2 445.7h0M52.9 428.8h0M46 438.6h0M44 427.9h0M45.7 432h0M44.8 428.7h0M47.8 436.5h0M44 439.4h0M48 430.7h0M49.4 435.3h0M50.8 436h0M44.1 441h0M44.7 432.3h0M45 443.1h0M53.6 443.9h0M47.4 430.8h0M44.3 439.8h0M54.4 445.9h0M44.5 443.9h0M47.5 425.3h0M46.9 431.7h0M49.1 424.9h0M47 443.7h0M48.3 442.7h0M49.5 444.5h0M44.7 442h0M53.3 426.3h0M54.8 427.1h0M44.3 440.6h0M55.8 444.7h0M49.5 440.4h0M55.4 436.7h0M52.6 441.4h0M52.4 444.5h0M45 443.8h0M51.3 437.6h0M44 430.1h0M44.5 439.6h0M46.4 441.2h0M44.7 440.1h0M44 436.6h0M44.2 424.1h0M49.8 440.3h0M53 431.5h0M54.2 442.7h0M46.8 438.1h0M44 445.9h0M52.5 439.2h0M55.1 437.9h0M44.8 437.5h0M47.4 435.2h0M49.5 431h0M52.3 431.6h0M47.7 442.3h0M52.7 440.2h0M47 424.3h0M47 432.4h0M46.2 432.1h0M53.3 425.4h0M49.4 442.3h0M45.4 437.3h0M49.2 436.8h0M47 436h0M44.8 435.3h0M47.4 432.6h0M45.9 437.7h0M44.7 427.8h0M47.7 433.6h0M52.7 440.2h0M47.7 439.7h0M53.6 436.5h0M55.1 429.8h0M45.2 439.9h0M44.1 437.5h0M49.3 428.4h0M44.2 424.9h0M49.3 434.3h0M49.5 425.9h0M44.6 441.1h0M54.5 424.7h0M50.9 433.7h0M48.9 440.1h0M45.6 438h0M44.6 424.8h0M55.4 440.7h0M53.2 429.9h0M55.5 443.1h0M52.7 428.4h0M44.5 439.5h0M48.7 436h0M45.9 444.9h0M48.8 429.9h0M47.3 442.4h0M46.2 445.3h0M46.7 425.9h0M54.4 445.9h0M47.6 426.2h0M45.3 428.2h0M48.2 424.8h0M46.3 425.5h0M44 428.6h0M44.7 443.7h0M50 429.8h0M44.9 436.9h0M45.1 445.6h0M45.9 443.4h0M51.5 430.9h0M51.8 431.9h0M52.7 427.3h0M49.4 440.5h0M54.4 428.5h0M46.1 437.3h0M55.9 437.6h0M53.7 428.4h0M46.4 426.7h0M51.2 435.5h0M44.4 424h0M45.2 434.2h0M44.6 434.8h0M51.6 433.7h0M44.5 427.9h0M48.9 442.9h0M44.1 430.3h0M45.7 440.9h0M48.8 435.6h0M44.9 445.3h0M53.6 440.9h0M50 442h0M46 429.1h0M55.3 435.9h0M48.4 433h0" stroke="#f0b4bf" stroke-width="2.3" stroke-linecap="round" fill="none"/>
<path d="M43 325Q52 321 55 330L59 360Q60 385 57 403L54 411H43Z" fill="#e4130f"/>
<path d="M48.7 394.7h0M53.1 383.2h0M49.1 327.7h0M44.4 357.9h0M61 391.4h0M51.6 382.1h0M44 330.9h0M54.1 345.5h0M47 348.4h0M48.8 356.2h0M53.7 402.3h0M56.9 379.9h0M49.5 356.9h0M59.1 371.9h0M50.3 342.7h0M47 371.1h0M52 374.1h0M47.1 353.5h0M48.1 400.4h0M53 349.8h0M50.8 358.9h0M52.9 345.4h0M50.3 410.6h0M50.3 342.8h0M46.8 380.1h0M49.4 400.3h0M45.3 321h0M46.8 382.2h0M48 367.9h0M52.7 357.9h0M51.6 397.4h0M46.3 359.6h0M57.1 351.4h0M45 398.7h0M45 396.6h0M54.8 404.7h0M52.7 378.6h0M62 349h0M52.6 383.6h0M53.1 372.2h0M50.2 333.2h0M47.3 336.7h0M46 412.3h0M52.5 347.4h0M53.6 392.9h0M45.8 401.5h0M44.5 408.3h0M50 368.9h0M45.3 352.3h0M51.5 351.5h0M56.6 404.4h0M46.5 369.7h0M54.1 328.7h0M46.2 342h0M47.6 338.4h0M56.7 371.8h0M48.9 366.7h0M46.6 364h0M48.1 378.7h0M48.4 346.6h0M47.7 331.4h0M50 392.7h0M52.3 325.5h0M48.9 344.4h0M51.3 385.6h0M56.4 355.3h0M48.8 409h0M50.1 322.9h0M46.2 378.9h0M48.7 346.8h0M47.3 364.3h0M45.3 407.1h0M53.4 375.2h0M46.8 377.5h0M54.1 369.4h0M55.8 374.2h0M57.8 332.4h0M50.7 393h0M50.9 374.5h0M53.3 412.6h0M44.4 355.7h0M45.8 354.2h0M50.2 350.8h0M67.3 341.2h0M44.7 371.7h0M45.5 324h0M52.2 379.4h0M49.7 376.7h0M45.7 349.5h0M47.4 408.7h0M45.7 366.7h0M58.3 384.6h0M45.6 408.1h0M45.3 386.6h0M58.5 365.3h0M47.3 370.2h0M48 365.9h0M48.8 359.3h0M53.2 419.9h0M49.6 355.9h0M50.7 417.4h0M51.7 406.3h0M44.1 352.4h0M50 327.6h0M47.6 394.2h0M58.3 367.6h0M49.9 347.8h0M45.4 379.4h0M46.2 368.2h0M54.9 398.4h0M53.4 386.4h0M51.1 383.9h0M54.3 326.6h0M50.9 395.6h0M51 336.8h0M51.7 347.8h0M48.6 384.4h0M49.1 347.7h0M44 387.7h0M53 358.6h0M53.8 380.6h0M61.4 350.2h0M51.6 410h0M46.4 368.3h0M45.7 354.6h0M47.6 348.9h0M49.3 346.6h0M49.2 404.2h0M45.3 412.2h0M53.2 384.3h0M54 410.4h0M51.8 375h0M49.9 400.4h0M64 385h0M45.1 365.1h0M48.7 365.5h0M49.1 378.7h0M45.5 334h0M45 396.2h0M51.5 333.4h0M48.2 389.6h0M47.6 372.6h0M48.8 381.3h0M56.3 368.9h0M50.2 364.2h0M44.9 339.8h0M50.1 397.1h0M46.7 418.1h0M46.8 349.5h0M49.4 389.7h0M47.3 387.9h0M44.1 321.8h0M44.2 316.5h0M50.5 332h0M52.1 322.4h0M44.7 409.8h0M52.6 361.3h0M45.7 402.9h0M50.7 401.1h0M52.4 362.5h0M53.1 357.1h0M45.4 326.2h0M54.2 332.1h0M57 369.1h0M46 388.3h0M52.7 387.7h0M53.5 409.6h0M46.1 405.1h0M58.2 401.6h0M56.1 355.7h0M51.1 378.4h0M51 373.5h0M44.9 334.2h0M44.8 381.1h0M48.8 393.2h0M53.4 345.5h0M45.8 345.8h0M51.1 402h0M50.8 323h0M45.9 339.9h0M45 340.4h0M48.7 406h0M52.5 373.5h0M48.2 417.3h0M47.5 326.3h0M48.2 409.4h0M50.5 406.6h0M46.4 328.5h0M47.4 378.7h0M45.3 393.9h0M49.3 379.4h0M44.4 380.6h0M44.4 400.5h0M63 352.9h0M48.1 323.8h0M52.3 370.9h0M49.1 399.6h0M45.4 363.8h0M52.5 393.4h0M46.3 388.6h0M53.3 406.2h0M53 403.9h0M45.6 407.5h0M49.4 334.4h0M47.9 392.2h0M46.7 364h0M49.5 383.3h0M48.4 391.7h0M58.8 368.1h0M53.7 366.7h0M48.2 398.3h0M46.4 368.2h0M48.2 371.1h0M49.2 402.7h0M57.5 394.7h0M51.8 331.7h0M47.2 377.5h0M49.1 391.3h0M47.9 329.3h0M44.9 383.3h0M48.4 396.7h0M45.2 411h0M49.3 379.7h0M52.9 374.4h0M45.9 330.2h0M47.8 345.2h0M48.6 403.5h0M52.7 368.2h0M47.5 397.5h0M50.9 408.1h0M50.6 396.4h0M53.8 379h0M45.1 415h0M45.3 373.2h0M54.7 364.5h0M50.6 355h0M46.8 322h0M54.4 347h0M51.4 338.6h0M45.6 320.6h0M49 360.5h0M46.9 362.2h0M46.1 378.4h0M50.3 337.4h0M56 369.9h0M57.4 354.8h0M53.7 344.5h0M47.2 359h0M47.3 374.3h0M46.4 388h0M52.6 356.6h0M44.4 391.6h0M52.7 361.7h0M45.4 417.8h0M53.6 354h0M57.2 362.4h0M45.8 328.9h0M48.4 378.7h0M54.2 344.1h0M51.2 394.5h0M44.2 362.8h0M53.5 345.7h0M65.5 369.5h0M49.5 347.1h0M54.1 381.1h0M53 380.5h0M50 401.9h0M51.9 382.2h0M53.4 386.1h0M61.5 354.7h0M44.4 344.8h0M52.6 343.7h0M46.7 411.1h0M54.2 330.4h0M57.5 325.7h0M51.9 353.3h0M44.6 376.6h0M49.3 385h0M53.9 344.1h0M45.2 335.8h0M50.5 392.8h0M47.4 364.2h0M46.2 336.1h0M46.2 379.5h0M49.5 406.5h0M69.5 386.2h0M58 359.9h0M51.2 398.5h0M54 342.9h0M50.1 382h0M47.1 367.8h0M45.7 338.8h0M50.7 332.5h0M45.1 351.6h0M54.5 339h0M46.2 380.1h0M62.5 398.8h0M48.4 376.3h0M49.8 380h0M60.6 395.4h0M52.3 371h0M59 371.6h0M45.7 390.2h0M58 375.6h0M46.6 318.4h0M46.4 332.6h0M46.4 332.3h0M58.4 369.8h0M55.1 335.6h0M44.1 361.7h0M48.1 402.5h0M57.4 391.7h0M47.3 343.6h0M45.1 350h0M60.2 375.3h0M49.9 354.9h0M45.8 323.1h0M45.6 391.9h0M51 404.9h0M56.3 375h0M44 329.4h0M44.5 404.8h0M47.5 410.4h0M49.8 413.5h0M46.9 335h0M60.6 362.9h0M46.1 324.7h0M50.8 328.7h0M54.1 350.6h0M51.1 339h0M57.2 349.5h0M45.1 347.2h0M44.1 349.9h0M49.8 369.5h0M52.7 411.4h0M49.3 370.7h0M57.3 351.1h0M47 341.7h0M54.3 366h0M50.8 397.8h0M53.8 354.5h0M54.2 401.8h0M44.2 386.6h0M49.7 404.7h0M56 369h0M44.1 399.5h0M45.3 388.7h0M54 349h0M50.1 405.2h0M46.9 329h0M47 407.6h0M53 409.4h0M56 385.8h0M51.5 348.8h0M47.7 318.5h0M58.8 334.7h0M49.1 392.2h0M47.6 329.8h0M45.5 371.6h0M52.9 336h0M51.1 323.6h0M48.4 384.2h0M54.2 383.2h0M52.7 368.6h0M47.2 402.6h0M54.2 357h0M45.4 338.3h0M44.1 411.2h0M49.3 325.8h0M48.9 394.3h0M52.1 383.9h0M45.7 362h0M49.6 329.6h0M47.8 386.2h0M53 400.8h0M45.9 360.3h0M55.4 383.1h0M53.6 371.7h0M53 349.8h0M49.6 385.9h0M50.6 409.4h0M45.2 343.1h0M49.2 410.5h0M54.9 346.7h0M58 397.8h0M47 389.9h0M44.6 363.1h0M50.4 359.4h0M59.8 361.7h0M45.3 396.5h0M56.6 381.6h0M45.3 350.2h0M46.7 342.4h0M45 405.9h0M58 356.7h0M45.4 412.2h0M50.7 348.5h0M59.5 376h0M63.1 375.8h0M51.1 358.4h0M45.7 369.2h0M49.3 343.5h0M48 330.9h0M47.9 398h0M52.1 405.6h0M48 355.1h0M47.1 403.7h0M61.6 395h0M69 379h0M45.3 364.6h0M54.3 379.7h0M44.4 364.8h0M45.3 325.4h0M45.4 383.1h0M44.7 327.9h0M48 331.4h0M47.6 399.4h0M50.9 338.7h0M54.1 398.1h0M44.5 367.2h0M46.7 402.4h0M50.3 368.8h0M57 395.6h0M48.2 385.5h0M45.6 390.4h0M46.6 391.2h0M51.3 397h0M53 349.9h0M47.4 391.9h0M48.9 354.5h0M47.4 375.6h0M47.9 403.2h0M59.9 383.2h0M51.2 413.1h0M53.9 361.1h0M48.3 397.4h0M51.9 328.4h0M55.5 341.2h0M45.5 324.5h0M53.9 405.7h0M54.9 398h0M47.7 367.7h0M55.3 373.6h0M52.1 350.9h0M50.3 391.4h0M51.4 395.9h0M51.5 372h0M46.3 404.8h0M53.7 337.9h0M45.8 340.7h0M45.4 387.3h0M45.7 358.7h0M46.6 393.1h0M47 401.4h0M49.5 332.9h0M49.4 329.4h0M47.5 364h0M46.2 377.1h0M47.2 411.2h0M49 327.1h0M48.5 387.4h0M44.7 336.6h0M52.5 402.4h0M55.3 384.2h0M57.9 398.8h0M52.5 400.2h0M54.3 329.5h0M55.4 390.4h0M48.2 396.7h0M53 416.4h0M47 383.5h0M57.7 354.2h0M46 388.3h0M45.8 396.6h0M45.3 340h0M66.2 349.9h0M50.8 387.9h0M45.5 402.5h0M48.3 370.9h0M52.7 374.5h0M59.8 386.5h0M55.6 358.1h0M48.2 407.8h0M47.7 409.4h0M46 403.3h0M50.1 340.9h0M50.5 332.2h0M50.8 344h0M52.3 418.3h0M58 349.9h0M57.4 335.5h0M49 404.8h0M47 403.3h0M53.5 375.1h0M48.5 407.9h0M60.1 349.8h0M54.3 327.4h0M45 352.8h0M47.3 412.9h0M45.3 361.1h0M44.9 411.3h0M47.5 406.1h0M57.4 389.3h0M44.4 355.8h0M44.8 387.8h0M48 350.6h0M49.3 358.3h0M45 358.6h0M51.1 342.2h0M50.3 399.2h0M56.6 385.8h0M52.8 325.2h0M63.1 379.6h0M48 414.2h0M53.3 389.4h0M52 370.2h0M49.4 330.4h0M49.4 394.4h0M44.9 374.8h0M46.1 377.9h0M49.4 332.7h0M45.5 397.8h0M44.2 370.7h0M57.5 340h0M50 356.6h0M46.1 348.9h0M62.8 388.8h0M49.8 384.7h0M44.9 371.3h0M50 404h0M46.2 353.7h0M49.2 387.2h0M67.5 355.2h0M46.9 366.2h0M44.8 403.4h0M50.2 346.4h0M51.6 405.3h0M53.5 361.6h0M48.3 408.3h0M52.2 384h0M49.8 345.1h0M53 389.2h0M54.3 390.7h0M50.2 390h0M46.3 356.7h0M50.7 333.1h0M57 375.9h0M49.4 399h0M45.7 412.1h0M55 386.5h0M48.7 337.4h0M56.4 367.4h0M53 371h0M45.4 406.9h0M47 381h0M52 336.4h0M46.6 323.3h0M57.4 391.2h0M53 406.4h0M51.4 402.6h0M52 334.5h0M55.1 402h0M46.5 351h0M47.2 382.6h0M55.6 378.2h0M52.7 348.4h0M45.2 409.4h0M57.3 333.8h0M51.8 399h0M45.9 405h0M53.9 350.5h0M54.4 340.6h0M48 415.9h0M45.8 380.1h0M55.6 347.6h0M51.7 343.1h0M49 379.7h0M56.3 384.6h0M55.1 385.5h0M44.1 335.8h0M47.9 403.4h0M47 410.2h0M45.9 409.2h0M46.8 322.6h0M50.9 383.5h0M51.3 333.7h0M49.9 340.7h0M45.5 323.4h0M50.7 382.4h0M48.9 401.4h0M54.9 386.3h0M55.2 327.8h0M48.3 342.1h0M51.9 347.6h0M47.5 363.4h0M45.5 392.2h0M47.3 400.7h0M50.5 332.4h0M57 338.1h0M44.1 330h0M51.8 405.8h0M46.4 377.4h0M47.4 391.6h0M53.8 389.2h0M49.8 345.3h0M48 389h0M54.4 384.8h0M46.5 323h0M50 355.5h0M47.9 361.2h0M54.8 324.5h0M47.5 333h0M46 357.9h0M49.5 397.3h0M54.8 346.3h0M48 416.8h0M49.7 343.6h0M56.8 347.4h0M49.4 393.8h0M46.8 408.7h0M57 409h0M50 344.7h0M52.4 371.8h0M54 329.5h0M51.5 370.1h0M49.2 338.7h0M52.7 359.5h0M46.3 369.3h0M47.8 383.4h0M44.3 327h0M51.5 328.6h0M53.2 351.9h0M58.6 339.2h0M44.8 333.4h0M48.6 397h0M48 350.7h0M49.5 381.1h0M49.6 328.7h0M46.2 364.6h0M55 327.4h0M45.1 338.2h0M49 398.4h0M49.5 329.6h0M47.2 376.9h0M46.8 325h0M47.3 405.3h0M44.8 357.3h0M55 389.9h0M53.3 378.5h0M53.5 346.4h0M44.4 383h0M53.4 348.6h0M51.5 386.3h0M49.9 389.5h0M60.6 366.3h0M50.9 332.9h0M46.9 401.1h0M52.8 398.9h0M51.8 336.4h0M57.9 391h0M56 349.4h0M50.9 395.9h0M48.8 325.3h0M56.7 340.7h0M59 366.5h0M61.2 352.4h0M47.5 385.7h0M44.6 408.2h0M50.7 344.7h0M54.2 394.4h0M45.3 329.5h0M48.4 341.9h0M56.1 416.3h0M50.5 366.2h0M48.2 326.4h0M49.6 346.1h0M47.6 337.6h0M48.6 334.8h0M57.7 384.5h0M44.9 396.7h0M51.9 345.2h0M48.9 361.9h0M52.6 331.5h0M65.8 403.9h0M46.9 403.8h0M44 372h0M47.7 358.7h0M48.9 316.9h0M49.2 411.5h0M54.2 357.2h0M45.4 382.7h0M48.8 407h0M52.2 340h0M48 360.2h0M48.4 322.1h0M50 371.2h0M51.3 338.8h0M57.4 329.1h0M46.3 343.1h0M46.8 347.2h0M46.1 380.3h0M51.1 388.7h0M51.2 406.6h0M52.3 391.7h0M50.5 348.7h0M46.1 357.9h0M55.2 392.6h0M51.5 380.6h0M49.5 392.3h0M48.5 392h0M45.6 381h0M50.1 399.1h0M52.2 324.4h0M45.9 376.8h0M52.4 364.2h0M45.2 381.5h0M47.9 397.9h0M49.1 404.3h0M48 359.4h0M56 344.5h0M55.5 409.1h0M48.8 378.3h0M53.2 370.3h0M47.7 328h0M50.1 353.1h0M48.8 340.7h0M58.1 369.6h0M46 380.7h0M49.5 358.1h0M55.8 383.2h0M50 400.4h0M50.7 363.3h0M45.2 328.4h0M55.1 378h0M44.7 350.9h0M44.3 400.5h0M56.9 389.9h0M49.5 396.8h0M46 391.5h0M64.7 389.7h0M52.3 340.4h0M46.6 388.8h0M44.9 333.1h0M64.5 353h0M46.2 333.8h0M53.1 347.4h0M56.6 385h0M47 405h0M63.9 363.5h0M44.5 350.1h0M51.9 390.7h0M50.1 399.8h0M54.1 347.9h0M48.3 375.6h0M49.3 358.7h0M51.4 414.6h0M53.4 343.3h0M49.9 364.1h0M45.1 371.5h0M53.1 368.4h0M44.1 376.3h0M48.1 382h0M54.3 381.7h0M53.5 332.7h0M48.8 400h0M54.5 373.8h0M50.1 347.6h0M47.4 377.7h0M62.3 407.3h0M44.8 362h0M44.3 334.6h0M51.5 384h0M44.7 389.9h0M46.2 333h0M48.6 320.7h0M49.8 367.8h0M51.4 386.2h0M47.3 344.1h0M55.8 354.9h0M47.4 333.4h0M47.5 366.6h0M45.2 330.5h0M57.8 359.9h0M49.1 346.5h0M46.5 364.4h0M45.4 381h0M47.9 357.9h0M54.6 397.1h0M46.3 379.4h0M44.5 341h0M46.9 396.1h0M45.1 352.9h0M59.8 410.1h0M53 360.4h0M45.9 352.8h0M47.5 380.7h0M51.9 401.5h0M55.5 404.7h0M48.8 328.2h0M48.9 402.2h0M55 413.9h0M59.2 351.9h0M47.7 352.5h0M45.9 343.3h0M47.2 345.5h0M55.2 362.1h0M51.1 342.7h0M57.9 371.4h0M47.1 380.6h0M50.9 338.2h0M45.5 326.9h0M45.8 330.9h0M44.3 410.6h0M47.1 421.1h0M47.3 341.7h0M47.6 327.1h0M52.2 345.8h0M57.8 359.6h0M50.9 373.8h0M61.1 371.2h0M51.7 412h0M49 380.2h0M46 402h0M51.1 352.4h0M52.2 360.1h0M50 367.1h0M45.4 340.6h0M55.5 383.3h0M46.1 337.3h0M46.6 391.7h0M45.9 340.2h0M46.2 394.1h0M53.2 348.5h0M53.4 410h0M52.9 382.3h0M46.7 408.2h0M50.9 360.2h0M44.4 379.8h0M58.9 372.3h0M48.7 352.8h0M54.1 345.2h0M46.7 349.5h0M48.8 371.5h0M47.6 401.8h0M52.8 353h0M50.9 349h0M44 382.4h0M45.8 328.3h0M45.3 389.9h0M55.2 401h0M49.7 411.4h0M57.8 334h0M49.2 396.2h0M50 346.5h0M46.4 336.8h0M65.8 401.3h0M46.3 325h0M45.2 321.7h0M57.1 378.7h0M61.5 395.1h0M62.4 391.5h0M50.3 329.9h0M48.8 397.4h0M46.4 333.2h0M56.3 343.1h0M51 324.9h0M44.3 413.2h0M57.6 382.9h0M54.8 361.8h0M51.4 413.7h0M49.8 357.1h0M57.8 378.3h0M46.6 332.5h0M51.4 395.6h0M51.7 329.4h0M51.4 407.5h0M56 375.9h0M49.3 321.5h0M47 404.4h0M44.7 390.2h0M45 394.6h0M49.3 345.3h0M53.5 386.3h0M51.5 355.4h0M56.6 354.7h0M54.1 400.8h0M49.7 342.9h0M52.6 376.7h0M51.9 347.4h0M44.1 337.9h0M45.7 371.3h0M53 329.2h0M47 336.1h0M45.4 379.1h0M47.5 380.6h0M50.6 334.3h0M61.1 397.9h0M52.7 377.2h0M45 323.4h0M47.5 352.6h0M47.5 341.1h0M48.6 345.5h0M48.5 409h0M45.4 350.8h0M48.1 402h0M51.4 394.7h0M47.5 323.1h0M47.6 333.8h0M52.2 358.9h0M44.2 361.5h0M52.4 386.3h0M53.5 347.2h0M55.9 330.3h0M54 401.2h0M55.8 382h0M46.1 408.7h0M44.9 376.8h0M49.5 360.8h0M47.2 373h0M50.5 407.8h0M47.2 387.1h0M47.9 343.3h0M44.1 336.2h0M58.9 361.3h0M53.3 375.6h0M44.7 352.6h0M48 394.7h0M48 378.7h0M49.5 344.9h0M56 356.1h0M45.7 373.9h0M52.2 371.4h0M48.2 320h0M52.6 360.9h0M62.5 383.6h0M48.5 352.3h0M52.5 397.2h0M50.5 404.2h0M52.3 400.9h0M57.2 359.5h0M55.5 353.9h0M54.3 383.1h0M46.9 374.5h0M45 361.6h0M48.4 403h0M48.5 344h0M52.9 341.3h0M51 385h0M50.2 403.5h0M49.4 368.6h0M47.3 413.9h0M62.8 349.6h0M52.3 334.5h0M55.8 400.7h0M46.2 402.8h0M53.6 358.5h0M49.3 370.8h0M53.4 378.7h0M45.5 402.6h0M52.1 409.9h0M51.7 360.5h0M53.3 373.8h0M54.4 362.9h0M48.4 392.5h0M47 331.3h0M44.3 351h0M48 337h0M56.7 393.1h0M46.3 343.8h0M47.1 334.1h0M55.2 354h0M51.5 384.7h0M45.1 326.5h0M45.5 375.3h0M48.9 336h0M48.1 392.8h0M50.9 353.7h0M45.4 384.2h0M44.4 328.6h0M52.1 378.4h0M58.1 379.3h0M44.5 418.6h0M49.3 416.1h0M45.2 412.7h0M55.6 350.8h0M46.8 350.4h0M50.2 408h0M49.2 338.2h0M47.3 343.4h0M48.1 401.7h0M48.8 405h0M48.4 353.9h0M45.8 396.2h0M52.9 378.6h0M49.1 408.8h0M55.3 381h0M49.3 378.1h0M45.8 329.4h0M44.8 367.2h0M61.3 381.2h0M49.5 410.8h0M51.8 347.4h0M46.2 396.2h0M50.4 372.6h0M57.1 378.4h0M45.8 358.3h0M44.2 332h0M49.7 351.2h0M56.9 377.3h0M52.3 344.6h0M59.8 363.1h0M55.2 326.3h0M62.2 343.1h0M47 320.4h0M45.3 363h0M48.9 331.1h0M49.9 412h0M52.9 393.1h0M47.9 354.7h0M45.3 324.4h0M44.6 407.1h0M45.3 353.2h0M44.2 373.6h0M46.6 383.2h0M44.8 412h0M49.3 412.6h0M45.5 413.1h0M55.3 328.9h0M45.7 335.9h0M49.4 408.6h0M44.2 329.6h0M51.5 348.5h0M48 363.9h0M44.1 387.2h0M53.1 394.6h0M49.4 331.6h0M52.4 371h0M54.7 380.1h0M49 406.6h0M47.3 355.9h0M52.1 382.5h0M55.4 368.5h0M48.9 324.4h0M46.4 413.4h0M49.5 401.7h0M49 398.2h0M44.3 375h0M48.9 411.7h0M53.2 398.8h0M51.1 336.8h0M47.7 354.3h0M47.5 326h0M50.1 379.2h0M49.7 375.6h0M45.5 328.4h0M44.6 417.7h0M50.3 394.7h0M50.4 400.8h0M48.7 381.8h0M53 404.5h0M44.5 331.6h0M53.7 352.8h0M44.3 412.2h0M50.9 402h0M46.3 410.3h0M49.5 413.7h0M45.4 367h0M49.1 321.1h0M45.3 372.1h0M56.4 329h0M47.6 325.5h0M54.9 380.5h0M46.8 402.3h0M52.8 344.8h0M44.4 359.7h0M48.2 345.1h0M67.1 341.4h0M45 390.9h0M57 368.6h0M46.7 335.3h0M62.3 380.7h0M51.2 363.3h0M52.9 388.8h0M45.5 358.3h0M51.4 372.8h0M45.3 369.4h0M50.3 359.5h0M44 340.2h0M51.8 345.8h0M47.2 391.8h0M49.6 354.5h0M50.4 417.6h0M49.4 332.3h0M58.8 377.8h0M77.7 359.9h0M55.2 338.6h0M54.2 388.2h0M48.2 339.5h0M48.2 412.6h0M50.7 333.1h0M48.4 360.7h0M53.5 350.4h0M62.1 370.3h0M46.2 404.3h0M45.4 364.2h0M50.6 337.4h0M44.2 400.6h0M50 350.1h0M48.7 359.9h0M53.9 352.7h0M59.7 398.3h0M49.5 379.9h0M44.9 371.7h0M46.1 325.1h0M47.1 346.6h0M50.3 403.6h0M46.6 357.7h0M44.2 407.1h0M56.2 351.4h0M48.4 381h0M63 373.4h0M45.6 403.8h0M53.3 374.5h0M48.6 325.3h0M55.2 393.7h0M51 401.9h0M47.4 396.7h0M46.1 342.4h0M51.2 359.4h0M51.3 393h0M51 377.9h0M46.9 334.3h0M60.9 368.1h0M45.6 325.1h0M46.4 322.7h0M49 399.8h0M48.6 329.1h0M48.7 340.2h0M44.2 382.6h0M56.5 350.9h0M48.4 391h0M51 335.9h0M46.5 401.8h0M49.8 353.9h0M48.5 408.1h0M49.7 350.7h0M46.8 342.4h0M45.5 337.8h0M55 350.3h0M47.6 411.3h0M49.5 398.5h0M49.4 397.9h0M53.3 387.9h0M53.8 406.5h0M44 329h0M57.3 337.6h0M51.9 351.9h0M54.7 383.1h0M59.2 385.9h0M45.9 335h0M54.1 392.1h0M48.6 347h0M46 408.5h0M48.9 393.4h0M52.8 365.8h0M53.1 377.7h0M51.9 337.5h0M52.7 395.7h0M46 381.6h0M55.9 410.2h0M49.6 324.2h0M51 406.6h0M53.7 400.3h0M45.9 378.6h0M52 330.3h0M45.9 323h0M51.2 392.7h0M52.9 356h0M56.6 389.7h0M47 390.4h0M47.6 333.2h0M48.9 377.7h0M45.3 329.3h0M44.5 359.5h0M52.4 402.5h0M48.6 371.2h0M51.7 382.2h0M60.1 371.1h0M46.8 330.2h0M54.5 339.3h0M54.4 340h0M47.2 324.7h0M44.7 411.6h0M47.9 396.8h0M59.7 379.7h0M58.9 377.9h0M50 327.2h0M48.1 378.1h0M49.5 403.6h0M46.8 356.8h0M44.4 415.1h0M44.2 410.3h0M48.8 323.5h0M55.3 384.5h0M47.3 414.2h0M44.7 329.1h0M46.1 329.5h0M45.1 355.2h0M52.7 365.7h0M45.3 341.9h0M45.5 343.1h0M66.5 361h0M48.7 405.2h0M50.1 406.2h0M54.9 382.1h0M51.5 414.6h0M54 385.9h0M55.5 335.2h0M44.6 376.5h0M45.1 323.3h0M60.7 360.4h0M56.9 346.2h0M46.4 389.3h0M44.2 352.9h0M48.2 352.2h0M60.9 326.3h0M56 336h0M47.3 355.9h0M47.8 379h0M51.2 398.2h0M60.4 354.5h0M44.5 372h0M45.8 381.3h0M49.8 329.9h0M44.1 358.5h0M53 357.7h0M47.5 357.3h0M46.8 404.2h0M58.8 348.4h0M45.7 343.9h0M44.1 337.7h0M50 373.7h0M50.6 369.7h0M46.6 396h0M49 345.6h0M47.9 349.9h0M51.7 340.4h0M58.5 354h0M51.2 340.9h0M51.6 390.4h0M47.6 387.4h0M47.7 335.1h0M44.8 369.9h0M51.4 382h0M53.6 394.6h0M45.6 378.2h0M50.2 346.7h0M51.9 380h0M51 369.5h0M48.7 325.7h0M46.4 343.9h0M48.1 345.9h0M49.5 343h0M55.5 400h0M44.5 361.7h0M46.4 366h0M46.5 412.4h0M44 323.3h0M45.3 373.7h0M56.1 367.6h0M46.1 411.6h0M53.9 384.3h0M61.5 359.5h0M51.6 385.2h0M45.4 381.1h0M52.7 378.4h0M44.2 360h0M49.7 386.5h0M44.4 336.3h0M50.8 402.6h0M58.2 374.4h0M53.8 331.2h0M49.6 345.7h0M44.3 399.7h0M46 352.2h0M51.4 331.9h0M52.8 400.4h0M50.4 359.6h0M52.9 341.2h0M51.8 397h0M58.9 374.1h0M49.2 368.9h0M44.5 372.2h0M51.8 401.9h0M44.9 341.8h0M44 343h0M51.4 326.3h0M60.6 391.8h0M57.6 400.9h0M46 329.5h0M46.1 323.1h0M46.7 373.1h0M56.5 383.9h0M50.7 412.5h0M45.1 380.9h0M47.1 364h0M46.3 364h0M55.7 374.5h0M44.7 361.7h0M57.4 357.1h0M45.2 389.8h0M46.1 368.8h0M62.6 376h0M48.3 381.8h0M44.4 388h0M46.2 407.8h0M47.9 362.4h0M54.6 350.6h0M52.4 380.7h0M46.4 334.6h0M46.9 404.3h0M52.3 325.5h0M49.3 417.7h0M46.6 364.9h0M51.2 365h0M49.7 408.7h0M46.3 339.8h0M54.7 405.2h0M51.6 406.2h0M50.3 378.7h0M58.2 378.1h0M45.1 328h0M47.3 344.5h0M46.4 339.7h0M53.7 385h0M53.3 363.4h0M47.3 360.9h0M48.3 411.5h0M44.9 379.7h0M49.9 336.6h0M50.2 395h0M57.1 347.4h0M46.1 334.2h0M49.6 406.8h0M64.5 360.6h0M55.2 399.2h0M47.2 394.6h0M55.9 339.5h0M54.4 371.3h0M53.7 402.5h0M50.7 411.6h0M64.7 369.2h0M61.1 384.5h0M44.1 364.5h0M47.9 336.2h0M52.5 381h0M45.5 415.8h0M44.1 330.5h0M49.9 333.9h0M44.2 389.5h0M45.5 328.2h0M45.8 411.2h0M54.8 327.6h0M45.6 375.5h0M52.8 354.8h0M53.3 386.3h0M52.3 324.3h0M51.3 351.8h0M59.1 372.6h0M53.2 327.1h0M54.4 358.6h0M48.7 383.7h0M44.4 386.8h0M45.9 389.8h0M54 322.8h0M59.7 340h0M50 324.5h0M55.5 364.1h0M46.8 320.9h0M56.9 383.3h0M47.5 326.8h0M46.2 370.4h0M53.5 348.8h0M46.4 355h0M55.5 374.3h0M56.3 364.5h0M56.6 362.5h0M49.5 379.5h0M52.1 403.3h0M50.1 344.5h0M47.9 414.9h0M58.9 392.3h0M48.7 333h0M58.7 393.4h0M46.2 326.5h0M44.5 413.6h0M47 410.9h0M53.3 359.5h0M48.7 324.3h0M51.7 407.5h0M51.1 373.3h0M47.7 411.6h0M46.5 327.8h0M44.2 391.6h0M69.4 347.6h0M52.3 369.7h0M45.3 383.9h0M59.2 387h0M55.5 375.8h0M57.7 344h0M49.2 339.2h0M52.9 359.7h0M46.3 403.9h0M45.9 360.2h0M62.7 361.4h0M48.6 334.3h0M47 371.4h0M47.3 331.6h0M48.2 393.4h0M50.6 334.2h0M49.7 398.2h0M50.4 381.4h0M58.2 381.3h0M46.9 348.3h0M49.4 347.1h0M52.4 366.2h0M59.6 351.2h0M47.3 392.3h0M50.2 407.9h0M59.9 365.9h0M51.4 374.4h0M45.2 368.9h0M49.3 368.3h0M55.3 371.5h0M53.1 369h0M53.8 386h0M48 348.6h0M44.5 390.6h0M49.2 330h0M48 365.6h0M50.5 412.6h0M44.4 361.5h0M47.1 363.6h0M54.2 368.2h0M50.8 400.1h0M61.5 352.8h0M47.4 381.2h0M53.2 359.8h0M49.4 340.9h0M44.4 327.5h0M50.5 392.3h0M47.7 367.4h0M47.9 381.6h0M45.4 395.7h0M47.4 356.1h0M47.8 392.6h0M51.8 394.2h0M52.3 358.6h0M48.4 355.4h0M60.9 383.7h0M46.6 377.9h0M56.8 341.7h0M50.5 361.8h0M52.7 339.1h0M48.2 372h0M52.5 352.5h0M46.8 325.1h0M59.4 353.6h0M47.5 359.4h0M48.9 388.8h0M50.5 376.2h0M48.9 391h0M44.2 395.3h0M46.6 399h0M45.8 347.4h0M44.9 380.3h0M45.3 357.8h0M46.6 346.8h0M48.7 381.8h0M45.8 388.4h0M44.7 405.4h0M44.6 362.4h0M57.5 400.8h0M56.8 395.6h0M59.5 357.6h0M45.5 403.5h0M60.2 401.2h0M44.4 397.7h0M59.6 379.9h0M49.7 369.4h0M50.2 370.9h0M47.6 379.9h0M50 338.5h0M44.7 393.2h0M47.8 323.4h0M47.2 350.5h0M47.6 369.9h0M53.1 338.6h0M47.4 364.2h0M46.7 412.6h0M48.1 369.9h0M59.2 380.5h0M47.9 410.7h0M49.1 392.2h0M47.2 323.7h0M44.6 355.1h0M47.3 409.5h0M51.3 387.4h0M58.5 391h0M49.7 329.1h0M48.5 348h0M57.9 355.8h0M47 369.6h0M53.8 386.5h0M45.6 380.8h0M46.4 351.9h0M47 361h0M53.7 360.8h0M45.9 329.4h0M48.5 347.3h0M50.3 368.8h0M54.9 401.2h0M61.7 360.8h0M48.3 359.3h0M45.4 403.3h0M47.5 371.8h0M51.5 370.8h0M45.5 369.6h0M47.1 329.2h0M48.8 331h0M52.2 382.5h0M81.5 382.4h0M50.7 380.9h0M45.7 328.6h0M56 401.8h0M50.3 329.8h0M51.3 368.9h0M53.2 406.9h0M58.4 362.2h0M47.2 405.2h0M46 335.4h0M56.4 330.1h0M53.6 385.6h0M45.3 323.9h0M48 354.3h0M50.3 347.9h0M45.5 366.3h0M50.5 392.8h0M48.7 359.2h0M47.3 392h0M47.4 374.1h0M44 340.9h0M53.9 381.4h0M49 327h0M57 369h0M47.3 339.7h0M52.9 350.7h0M49.8 411.5h0M45.9 346.6h0M47.2 401h0M47.8 379.9h0M48.9 375.8h0M58.3 362.3h0M49.4 378.4h0M46.3 347.8h0M51 363h0M52.1 376h0M47.9 332.1h0M51.6 327.2h0M47.2 334.5h0M57.1 389.4h0M57.5 401.3h0M48.6 352.8h0M57.3 351.6h0M44.4 352.2h0M47.9 330.7h0M54.3 355.2h0M56.3 366.2h0M58.5 411.9h0M47 412.6h0M50.1 319.8h0M59.1 369.4h0M57.1 410.5h0M52.6 401h0M44.9 339.3h0M44.4 362.5h0M48.9 384.6h0M55.4 349.6h0M45.4 391h0M48.9 373.1h0M46.8 337.7h0M54.8 362.2h0M46.3 375.7h0M44.8 406.1h0M47 344.4h0M44.8 336.3h0M50.5 338.8h0M59.7 411.3h0M50.6 338.1h0M44.7 345.8h0M54.1 368.5h0M46.9 359h0M46.5 391.8h0M46.8 344.8h0M44.2 337.3h0M50.1 411h0M44.4 396.4h0M45.7 393.1h0M47.4 405.2h0M52.7 390.5h0M45.7 350h0M55.7 391h0M45.2 372.4h0M47.9 349.6h0M49.7 384.2h0M52.5 409.1h0M57.7 383.8h0M45.4 363.1h0M47.8 402.3h0M58.4 363.1h0M44.4 355.7h0M49 401.2h0M53.3 391.7h0M47.1 329.5h0M53.2 352.9h0M55.4 346.9h0M53.9 404.9h0M47.3 383.8h0M51.2 348.1h0M45.5 358.7h0M47.7 361.2h0M55.4 377.2h0M47.6 345.9h0M48.9 332.8h0M44.7 372.3h0M55.5 382.8h0M46.3 322.5h0M47.6 404.4h0M63.2 373.4h0M45.6 327.8h0M47 389.9h0M45.6 410h0M48.3 409.8h0M50.1 330.7h0M45.8 408.3h0M48.5 378h0M44.3 349.4h0M57.1 375.9h0M47.5 401.4h0M54.1 346.3h0M47.5 411.8h0M46.1 337.1h0M51.5 358.3h0M53.6 405.3h0M47 356.4h0M48.6 328.1h0M58.1 389.7h0M45.1 392.6h0M48.7 404.7h0M51.9 390.9h0M49.5 365.2h0M53.3 331.8h0M46.5 370h0M48.4 353.8h0M44.9 332.5h0M47.5 413.4h0M46.4 325.3h0M56.8 338.5h0M50.6 335.6h0M53.7 345.4h0M44.9 325.2h0M46.8 330.1h0M53 369.9h0M44.4 339.8h0M44.2 381.3h0M54 326.3h0M46.3 343h0M47 384.5h0M46.3 334.4h0M49.1 361.2h0M61.9 357.8h0M47.6 394h0M44.2 404.2h0M48.1 321.8h0M47.6 336.1h0M56.9 358.5h0M60.6 326.4h0M47.8 373.8h0M46.9 390.9h0M46.7 397.1h0M54.7 378.4h0M44.5 354h0M50.4 374.7h0M45 329.1h0M56.2 360.1h0M51.9 394.5h0M53.3 410.8h0M62.5 390.1h0M46.4 336.6h0M44.6 404.9h0M48.8 341h0M55.1 390.9h0M55.5 351.7h0M56.3 357.8h0M55.9 394h0M47 349.1h0M45.8 373.9h0M48 348.1h0M51.2 369.9h0M44.6 397.9h0M45.6 360.6h0M50.6 329.3h0M66.7 359.3h0M54.4 383.4h0M44.6 339.4h0M51.7 360h0M46.4 386.3h0M59.6 340.9h0M46.9 374.3h0M55.8 341.7h0M60.6 352.3h0M46.9 324.8h0M50.2 368.5h0M45.3 364.5h0M45.1 372.6h0M46.7 339h0M47 407.3h0M50.4 389.7h0M50.5 408.6h0M45.9 353.3h0M49.3 404.7h0M57.8 396.2h0M46.5 349.5h0M51 395.8h0M45.4 339.2h0M45.8 346.2h0M47.1 351.3h0M44.7 379.5h0M69.1 351.1h0M45.4 353.1h0M44.4 325.2h0M50.2 387.6h0M44.5 358.3h0M44.6 323.1h0M48.6 353.7h0M51 328.2h0M46.5 406h0M44.4 335.8h0M52.7 365.4h0M50.9 391.7h0M52.2 356h0M61.1 383.8h0M44.5 367.3h0M47.8 326.7h0M45.4 382.8h0M45.4 374.3h0M46.5 404h0M63.3 382.4h0M44.1 385.4h0M49.1 353.8h0M50.3 336h0M44.6 411.1h0M46.9 408.2h0M48.9 356.4h0M46 327.2h0M51.6 393.9h0M48.3 389.5h0M48.3 334.5h0M51.5 339.1h0M46.9 398.2h0M52 341.1h0M50.5 397.4h0M50.7 353.3h0M51.9 341.8h0M47.3 390.8h0M45.1 381.8h0M55.5 352.5h0M44 406.3h0M54.8 351.6h0M48.8 338.3h0M44.3 338.6h0M63.4 380.8h0M50.5 374.5h0M46.7 338.6h0M45.4 384.3h0M55.1 331.6h0M47.4 329.9h0M50.1 377h0M59 361.1h0M47.8 388.9h0M44.6 371.5h0M49.5 339h0M46.2 398.7h0M46.6 367.5h0M53.8 414.4h0M48.7 346.4h0M59.9 329h0M54.2 341.5h0M44.8 322.8h0M62.5 395.3h0M47.9 414.9h0M56 389.9h0M45.6 351.6h0M46.1 406.9h0M46.4 374.8h0M45.2 346.6h0M60.7 388h0M53 367.8h0M50.1 387.7h0M47.8 377.8h0M65.3 358.9h0M46.3 412.9h0M54.5 349.6h0M49.7 385.1h0M51.6 389.1h0M46.3 405.5h0M47.7 339.1h0M45.9 397.6h0M51.5 386.3h0M46.6 390.5h0M48.1 405.1h0M44.9 338.8h0M44.4 322.1h0M44.6 410.8h0M55.6 365.9h0M46.4 387.3h0M59.5 374.4h0M47.8 342.8h0M48.8 368.5h0M54.1 382.4h0M53.8 354.9h0M54.7 345.3h0M61.6 365.4h0M52 326.9h0M47.2 405.8h0M48.7 413.9h0M73 356.4h0M46.6 345h0M46 406.5h0M59.5 387.1h0M49.2 340.9h0M56.5 348.3h0M44 397.5h0M46.1 366.9h0M47.8 345.4h0M58.9 352h0M50.4 382.6h0M68.8 361.3h0M48.1 363.2h0M51.2 377.4h0M54.7 387.2h0M50.6 319.6h0M49 385.1h0M54.2 347.8h0M48.7 401.9h0M44.3 379h0M63.1 347.3h0M47.3 353.3h0M55.4 359.8h0M49 366.6h0M49.5 419.3h0M62.8 376.4h0M44.2 370.9h0M60.4 333.6h0M46 376h0M46.2 399.7h0M50.1 366.9h0M44.2 342.6h0M51.1 339.1h0M45.7 381.5h0M46.6 356.6h0M49.9 405.4h0M58.1 338.5h0M50.4 398.6h0M45.8 396.1h0M53.6 397.5h0M50 339.6h0M44.2 374.9h0M45.9 420.3h0M66 346.7h0M59.4 347h0M44.9 356.9h0M45.5 372h0M50.2 391.9h0M47.4 387.1h0M61 394.1h0M49.5 382.5h0M51.6 341.6h0M50.9 341.7h0M44.5 369h0M44.3 362.2h0M55.4 403.9h0M51.5 343.5h0M46.1 401.5h0M54.2 348.3h0M55.6 359.6h0M48.2 409.2h0M45.1 338h0M54.3 394.3h0M46.9 380.7h0M50.4 372.7h0M46.1 353.5h0M44.1 413.9h0M49 349.8h0M53.2 407.1h0M50 358.7h0M46 333.8h0M48.5 331.6h0M46.1 396.1h0M52.5 377.7h0M55.2 410.8h0M52.2 386.7h0M47.5 394.4h0M49.3 406.4h0M48.1 395.2h0M49.2 350.9h0M45.5 372.5h0M44.9 394.1h0M55.1 337.1h0M64 335.6h0M48.1 344h0M48.7 394.1h0M44.8 399.1h0M50.7 398.1h0M49.4 407.3h0M48.3 417.4h0M44.9 330.7h0M45.2 390.3h0M44 355.6h0M44.3 403.8h0M56.5 378.4h0M55.6 399.1h0M44.6 360.8h0M55.4 349.8h0M55.8 374.2h0M57.8 379.9h0M52.1 356.7h0M44.4 376.2h0M58.4 379.7h0M53.5 413.1h0M47 362.2h0M51.7 324h0M45.2 403.6h0M59.4 362.4h0M46.7 348.5h0M48 324.5h0M56.4 351.3h0M47.9 345.3h0M44.3 351.1h0M46.6 348.7h0M44.3 384.8h0M45.1 422.1h0M57.2 373.2h0M46.9 351.8h0M46 388.2h0M47.6 336.8h0M48.5 383.9h0M56.2 391.5h0M50.8 346.3h0M48.2 320.6h0M51.4 323.3h0M55.3 382h0M56.3 343.1h0M46.3 318.8h0M51.9 391.5h0M44.9 406.5h0M48.6 337.1h0M52.1 335.3h0M44 333.1h0M46.5 335.7h0M47.9 362.8h0M50 317.4h0M46.7 399.2h0M52 379h0M55 395.8h0M62.8 381.6h0M51.4 349.2h0M48.3 383.9h0M44.1 415.1h0M53.7 340.5h0M53.7 370.7h0M44.6 324.3h0M48.9 378.3h0M49.4 369.8h0M51.1 410.1h0M44.3 338.8h0M54.1 405.6h0M50.6 412.6h0M46.3 381.1h0M47.6 346.4h0M44.1 337.8h0M50.4 377.6h0M50.4 339.4h0M52.9 372.8h0M58 363.4h0M46.8 382h0M55 332.8h0M50.1 338.7h0M57.6 345.1h0M44 333h0M46 334.1h0M49.3 339.1h0M49.4 380.2h0M62.3 349.8h0M46.2 411.5h0M51.8 363.9h0M62.3 349.8h0M50.8 398.9h0M47.3 329.4h0M48 404.2h0M52.3 397.9h0M47.6 364h0M46.5 362.9h0M52.3 362h0M61.9 346.5h0M49.3 362.1h0M64.3 399.9h0M46.9 357.4h0M44.8 334.7h0M46.3 383.2h0M55.9 399.2h0M57.9 401.7h0M48.6 358h0M65.4 351.2h0M45.3 332.7h0M46.9 342.7h0M51.3 393h0M44.4 341h0M53.6 376h0M55.3 333.2h0M65 364.5h0M46.2 351.1h0M45.4 365.8h0M58.8 396.3h0M52.5 365h0M51.8 394h0M49.7 333.9h0M53.3 395h0M52.2 350.3h0M53.3 410.2h0M56.8 344.4h0M56.1 396.4h0M47.1 389.6h0M53 378.2h0M47.4 387.8h0M52.9 355.3h0M44.9 402.4h0M54.8 402.9h0M48.9 377.3h0M54.3 364.6h0M46.9 329.4h0M48.6 412.5h0M45 399.2h0M50.3 410.5h0M51.8 354.8h0M46.1 392.4h0M47.4 338.2h0M57.1 347.6h0M53.4 355.2h0M47.7 370.1h0M48.4 372.2h0M46.6 393.1h0M46.9 397.8h0M50.1 379.8h0M47.5 374.5h0M49.4 341.7h0M48.7 327.7h0M49.1 333.9h0M44 365.2h0M56.6 381.5h0M59.5 402.8h0M50.8 360h0M58.9 341.4h0M45.8 389.1h0M65.2 368.6h0M52.2 353.3h0M45 366.8h0M52.6 326.7h0M48.7 395.7h0M45.1 406.5h0M50.8 347.5h0M55.4 363.9h0M47.1 398.3h0M51.2 373.6h0M54.3 361h0M47.2 404.9h0M46.4 399.6h0M56.9 350.1h0M49.9 375.7h0M44.1 401.3h0M59.1 399.6h0M52.6 409.9h0M51.3 377.4h0M56.1 396.4h0M46.1 408.8h0M48.9 402.9h0M59.5 383.3h0M57.2 379.3h0M44.2 409.9h0M48.2 388.7h0M47.4 363.9h0M47.4 332.5h0M54.4 362.4h0M55.4 333.3h0M53.5 376h0M48.4 347.5h0M44.5 382.5h0M47.5 343.1h0M45.9 329.3h0M48 321.1h0M51.1 405.1h0M45.9 400.5h0M49.9 376.4h0M45.2 393.6h0M52.4 334.3h0M48.8 403.1h0M45.1 336.1h0M63.1 353.7h0M44.6 370.2h0M46.4 386.8h0M51.8 398.5h0M57.5 397.1h0M58.3 394.4h0M50.8 391.1h0M60.1 338.2h0M44.9 375.7h0M54.1 393.2h0M47.3 360.1h0M45.3 371.5h0M47.8 351.9h0M46.9 407.2h0M51 399.3h0M58 350.3h0M48.7 346.4h0M45.6 317.7h0M44.4 349.1h0M49.7 342.6h0M48.6 343.6h0M48 407.3h0M47.9 365.7h0M61.5 341.1h0M45.1 385.7h0M49.6 399h0M45.3 336.2h0M54.4 327.9h0M49.8 327.4h0M45.1 323.6h0M46.7 333.1h0M49.6 336.6h0M46.2 371.1h0M44.6 319.8h0M55.4 413h0M44.8 334.9h0M44.1 404.8h0M50.3 351.5h0M58.1 343.2h0M51.2 336.4h0M50.6 403.2h0M55.7 390.1h0M50.7 384h0M45.7 329.1h0M45.2 364.8h0M44.6 355.1h0M46.7 406.7h0M52.1 346.7h0M61.4 352.8h0M46.6 375.3h0M45.5 327h0M48.6 375.6h0M44.8 380.4h0M48 367.5h0M46.7 361.9h0M50.4 366.3h0M54.7 383h0M53 367.1h0M44 402.8h0M45.9 338h0M49.6 345.1h0M45 343.7h0M49.7 381.3h0M55.2 344.7h0M51.4 331.2h0M56.7 371.8h0M45.9 393h0M49 397.1h0M48.1 396.2h0M46 328.3h0M52.8 335.4h0M50.7 380.3h0M45.2 393.4h0M47.3 356.7h0M47.2 407.5h0M50.7 383.4h0M53.8 344.6h0M45.2 407.6h0M58.5 355.1h0M58.5 356.1h0M46.9 370.7h0M47.6 334h0M46.3 361.8h0M54.6 365.1h0M48.5 353.5h0M46.2 397.9h0M52.6 369.4h0M48.7 344.7h0M46.5 382.9h0M48.5 398.9h0M46.2 408.4h0M46.6 363.1h0M49.1 387.2h0M59 400.3h0M47.1 332.8h0M49.8 379.6h0M45.1 389.8h0M48.6 393.9h0M44.5 353.8h0M45.5 409.1h0M46.9 413.5h0M48.7 412.3h0M48.2 357.8h0M49.7 359h0M53.2 326.9h0M50.5 352.6h0M44.3 372.7h0M48.1 408.3h0M49 412.6h0M44.3 395.5h0M48.6 341.3h0M44.4 388.3h0M48.2 396.8h0M44.9 327.6h0M47.9 378h0M60.2 388.1h0M57 371.1h0M53.3 406.8h0M49.5 402.1h0M46.4 350.2h0M49.8 373.5h0M52.2 336.9h0M48.5 346.2h0M44.9 406.1h0M53.4 361.1h0M58.1 358.4h0M47.3 363.8h0M44.1 322.6h0M52.9 370.9h0M49.9 341.8h0M48.9 326.5h0M62.4 351h0M47.5 389h0M54.6 341.1h0M50.4 346.9h0M55.3 353.6h0M51.2 373.6h0M59.8 341.9h0M48.5 376.7h0M45.3 398h0M47.9 413.2h0M50.3 384.8h0M44.4 400.4h0M44.3 360.6h0M52.2 399.6h0M51.6 392.1h0M45 413.2h0M54 346.2h0M53.8 392.7h0M48.1 354h0M45.6 410.1h0M53.6 365.7h0M45.4 335.7h0M48.8 382.8h0M45.4 322.1h0M45.2 323h0M46.9 371.9h0M46.3 396h0M45.3 353.7h0M51.1 370.7h0M46.3 382.4h0M52.3 389.4h0M52.2 325h0M45.5 393.7h0M44.4 374.2h0M45.6 352.3h0M45 330.1h0M46 377.8h0M44.6 349.8h0M58.1 386.6h0M46.3 346.9h0M49.6 384.3h0M46.6 351.8h0M47 413.6h0M56.2 393.1h0M53.1 411.5h0M46.3 326.6h0M44.5 369.9h0M44.2 365.8h0M57.4 387.5h0M47 389h0M47.7 386.1h0M47.8 353.6h0M50.5 375.9h0M44.7 417.2h0M52.5 354.7h0M46.3 401.5h0M46.1 358.7h0M78.8 388.3h0M52.5 391h0M49.3 350.8h0M45.6 340h0M53.3 335.5h0M46.9 333.8h0M46.1 335.1h0M52.3 377h0M64.7 359.4h0M46.5 406.1h0M45 403.1h0M45.6 370.9h0M48.8 329.5h0M50.1 370.2h0M45.9 330.9h0M56 367h0M44.9 331.7h0M50.5 349.9h0M46.2 341h0M63.6 380.8h0M46.9 363.9h0M55.7 347.7h0M54.8 345.9h0M45.7 411.3h0M47.2 373.2h0M45.2 384.4h0M47.9 405.8h0M44.3 374.5h0M44.3 329.6h0M51 389.7h0M51.8 397.1h0M72.8 370.2h0M46.8 356.3h0M47.6 391.9h0M52.4 333.6h0M46.3 371.4h0M52.7 352.6h0M45.2 355.3h0M44.2 334.5h0M51.5 400.5h0M71.3 392h0M46.3 384.7h0M44.6 363.1h0M50.9 415.8h0M47.9 376h0M49.5 365.1h0M44.3 389.7h0M44.7 351.4h0M44.7 412.9h0M56.6 349.1h0M60.8 359.8h0M49.2 349.5h0M51.4 349.2h0M50.8 382.3h0M49.5 348.5h0M44.6 331.1h0M45.1 392.2h0M58.1 384.6h0M52.2 409.2h0M45.9 343.7h0M49.2 356.9h0M49 356.4h0M50.2 400.3h0M44.9 387.1h0M45.3 401.2h0M63 378.9h0M57.5 343.6h0M48.3 406.7h0M45.6 338.2h0M45.6 329.5h0M63.3 371.4h0M45.1 381.9h0M53.2 350.3h0M49.4 338.2h0M48.6 323.2h0M50.9 401.5h0M60.5 370.1h0M44.5 340.2h0M50.7 386.4h0M60.6 377.1h0M55 335.5h0M51.4 343.3h0M55.1 413.2h0M44.2 399.3h0M48 357.7h0M53.5 353.4h0M54.4 367.5h0M55.1 366.1h0M63 368.2h0M53.8 393.2h0M45.8 332.8h0M48.9 382.5h0M45.7 399.3h0M56.9 348.8h0M44.5 417.3h0M52.9 401.8h0M57.4 374h0M45.2 404.3h0M56.9 356.7h0M46.1 381.3h0M50.7 396.7h0M62.5 352.1h0M52.8 333.5h0M48.2 338.8h0M62 356.9h0M55.4 399.2h0M52.9 372.9h0M46.7 346.7h0M44.9 397.6h0M55.8 370.4h0M53.7 402.4h0M50.1 334.1h0M48 354.1h0M46.3 346h0M55.8 353.2h0M52.7 339.9h0M44.9 342.1h0M51.4 342.6h0M45.5 376.5h0M47.4 353.1h0M44.7 329.3h0M55.4 344.6h0M60.8 358h0M50.2 342.3h0M44.8 333.8h0M63.2 369.2h0M51.5 385.3h0M50.4 349.1h0M47.6 404.8h0M50 356.3h0M45.9 366.8h0M46.1 327.6h0M44.4 348.4h0M49.7 408.4h0M49 412.9h0M44.4 335.7h0M46.8 385.4h0M45 341.2h0M57.1 380.4h0M51.5 417.5h0M44.2 376.3h0M46.7 381.8h0M49.8 381h0M60.2 367.1h0M51.9 412.5h0M45.9 333.6h0M52.2 387.3h0M47.5 362.3h0M47.2 351.9h0M51.1 404.2h0M48.3 365.2h0M49.4 344h0M53.7 353.3h0M46.3 336h0M50.9 359.6h0M49.1 413.2h0M58.3 328.5h0M57 349.6h0M45.9 356.2h0M58.6 351.2h0M52.3 325.5h0M46.1 347.3h0M46.5 347.3h0M46.4 334.6h0M47.5 328.1h0M48.3 320.5h0M45.1 409.1h0M47.3 360.2h0M47.4 401.7h0M55.9 376.3h0M51.1 373.6h0M45.3 399.4h0M50.9 361.5h0M45.6 399.2h0M47.4 397.1h0M45.8 336.5h0M47.4 358h0M44.2 389.7h0M48.1 339h0M45.8 377.5h0M44.8 385.2h0M53 365.1h0M44.3 400.1h0M45.9 403.8h0M48.7 395.7h0M48.5 376.2h0M48.4 381.6h0M46.1 411.4h0M54.8 359.8h0M62 353.5h0M48 370.9h0M53.7 409.3h0M55.6 334.5h0M44.2 346.5h0M46.5 388h0M48.6 404.4h0M54.9 399.3h0M63.9 341.2h0M49.2 392.9h0M46 323.2h0M50.1 391.1h0M44.5 402.9h0M44.2 386.6h0M47.2 335.7h0M49.8 339.4h0M53.6 366.6h0M57.5 375.4h0M47.8 345.1h0M49 394.8h0M53.8 357.8h0M55.7 376.2h0M61.5 348.2h0M49.1 407.2h0M55.1 329.8h0M44.4 328.9h0M46.1 335.3h0M57.2 362.2h0M50.6 324.1h0M46.1 408.3h0M48.4 350.9h0M51.1 395.4h0M47 378.2h0M47 408.6h0M44.4 331.8h0M46.7 415.9h0M49.9 392.5h0M54.9 357h0M56.8 375.6h0M61.3 386h0M45.9 322.3h0M53.6 385.7h0M54.4 364.3h0M55.8 404.5h0M54.5 359.7h0M56.2 369.4h0M56 375.6h0M47 387.6h0M57.2 341.7h0M45.2 370.2h0M50.8 326.4h0M44.3 326.7h0M54.2 394.4h0M45.3 390.2h0M44.2 398.7h0M45.6 332.8h0M52.4 343.9h0M66.1 373.2h0M55 388.7h0M50.1 329.5h0M45.8 350.1h0M48.7 388.4h0M48.8 406.4h0M61.6 398.8h0M47.6 338.3h0M51.4 404.4h0M50.6 399h0M44 368h0M52.2 347.2h0M48.7 374.2h0M53.5 389.5h0M54.5 350.3h0M52.5 353.9h0M59.9 361.9h0M51.2 410.1h0M49.5 349.1h0M49.1 362h0M65 360.7h0M55.2 358.3h0M48.4 409.6h0M48.6 328.6h0M49.6 370.7h0M51.2 358h0M44.9 410.7h0M45.9 339.4h0M49.9 383.6h0M50.7 328.8h0M48.7 409.6h0M56.2 340.6h0M48.1 382.6h0M51.9 365.2h0M48.2 362.2h0M49.9 403.1h0M45.9 337.5h0M59.6 343.3h0M55.5 365.6h0M53.8 380h0M47.8 357.4h0M52.8 395.9h0M46.9 404.4h0M56 359.9h0M47.8 386h0M51.5 377.5h0M46.7 382.5h0M50.6 379h0M45 416.4h0M62.1 399.5h0M56.6 355.4h0M45.4 416.5h0M44.8 351.9h0M52.6 337.3h0M44.2 375h0M49.9 320.2h0M57.2 366.7h0M49.4 415.8h0M56.5 378.4h0M46.5 390.6h0M50.1 408.3h0M46.2 385.7h0M47.1 358.3h0M44.3 372.7h0M47 400.8h0M50.7 367.6h0M48.2 340.7h0M51.4 408h0M51.7 330.8h0M63 354.3h0M55.1 413.4h0M52.1 342h0M48.3 398.2h0M60.5 349.3h0M53.5 390.2h0M47.7 333.7h0M55.1 354.4h0M49 371.2h0M54.4 399.6h0M45.2 331.8h0M49.9 395.3h0M47.5 387.6h0M50.3 337.4h0M51.3 325.9h0M44.6 400.4h0M47.3 387.6h0M52.4 392h0M58.8 399.4h0M46.4 359.5h0M47.4 415.2h0M45.6 346.2h0M66 370.1h0M46.4 395h0M45.3 382.7h0M49.5 403.4h0M51 390.6h0M54.9 406.1h0M49.7 353.2h0M52.9 360.4h0M46.7 363.5h0M47 318.2h0M45.5 370.3h0M44.5 400.6h0M50 372.4h0M44.9 329.3h0M48 350.9h0M45.9 335.7h0M45.2 377.4h0M50.2 380.2h0M49.4 372h0M66.5 357.2h0M53.9 394.1h0M55.8 373.5h0M53.3 385.2h0M57.6 381.2h0M54.9 386.4h0M69.9 391.3h0M47 329.4h0M49.1 399.1h0M44.1 408.5h0M55.2 370.2h0M44.1 374h0M46.9 347.7h0M53 337h0M52.1 409.2h0M48.7 344.9h0M61.6 354.7h0M50.4 345.5h0M59.5 382.7h0M48 381.6h0M45.9 347.4h0M48.6 385.3h0M44.6 364.6h0M50.7 384.2h0M50.1 351.7h0M54.8 387.7h0M44.6 339.9h0M51.2 339.9h0M61.1 385.5h0M55.7 362.4h0M56.9 397.2h0M44.8 362h0M53.5 329.1h0M54.9 399.7h0M55.3 330.1h0M47 323.1h0M45.1 324.6h0M49.6 408.1h0M46.9 352.6h0M57.6 370.5h0M50.9 405.1h0M45.3 402h0M45.4 363.5h0M54.8 406.5h0M46.2 342.6h0M49.7 397.8h0M45.8 415.2h0M44.9 331.9h0M45.1 355.9h0M54.7 356.5h0M49.3 328.4h0M48.4 394.2h0M44.8 390.8h0M44.4 340.5h0M46.3 348.8h0M46.6 391.8h0M48.2 389.7h0M52.2 377.4h0M44.7 347.1h0M53.5 357.2h0M56.3 389h0M50.1 390.3h0M51.5 352h0M61.6 368.4h0M54.5 380.6h0M52.4 337.7h0M57.3 364.7h0M52.8 393.6h0M50.5 402.3h0M50.3 368.9h0M49.5 340.2h0M50.7 367.8h0M44.9 328.9h0M50.9 351.9h0M56.4 343.6h0M52.9 388.3h0M49.8 380.4h0M50 394.1h0M44.8 344.6h0M64.6 386.9h0M45.3 339.5h0M51.5 366.9h0M47.7 358.4h0M49.1 372.4h0M50.3 388.2h0M52.3 361.2h0M52.8 332.7h0M55.6 387.2h0M55.1 414.1h0M53.3 388.4h0M49.5 389.4h0M44.6 374.6h0M54.5 360.9h0M45.4 325.6h0M50.6 328h0M45.3 329h0M59 382.3h0M44 340.7h0M49 373.3h0M54.1 347.9h0M50.5 353.9h0M48.6 345.4h0M54.1 340.9h0M48.9 349.1h0M58.4 338.6h0M50.2 345h0M50.9 348.9h0M55.5 387.6h0M44.4 395.7h0M48.7 374.3h0M49.1 368h0M52.3 387.4h0M53.9 332h0M49.6 362.8h0M59.6 388.8h0M47.8 399.2h0M47.3 369.9h0M49.8 367.9h0M57 340.7h0M46.1 330.6h0M47 342.2h0M48.3 357.5h0M47.5 328.5h0M45.3 402.1h0M54.5 355.4h0M46.3 340.8h0M47.6 404.8h0M46.2 378.4h0M46.6 415.3h0M47.5 402.5h0M58.9 349.8h0M47.8 408.5h0M46.5 365.8h0M52 350.9h0M50.3 373.7h0M47 325.8h0M52.8 329h0M50.8 363h0M48.8 395.6h0M53.5 378.8h0M45.2 387.8h0M44.5 357.2h0M46.3 332.3h0M57 374.8h0M45.7 374.3h0M50.1 397.9h0M49.7 407.6h0M48.4 390.8h0M58 378.9h0M45.6 364.9h0M49.4 332.5h0M44.7 411.5h0M44.5 413.7h0M53 388.3h0M48.9 405h0M45 329.7h0M51.6 405.4h0M47.3 373.9h0M52.1 328.3h0M45.5 412.9h0M55.1 341.6h0M45.6 344.3h0M46.9 391.4h0M46.8 354.8h0M56.5 323.9h0M53.8 414.2h0M44.6 330.8h0M46.3 389.8h0M44.5 387.7h0M51.2 377.7h0M51 339.6h0M44.5 347h0M48 358.7h0M45 383.3h0M44.6 367.3h0M45 336.9h0M47.9 372.4h0M51 369.5h0M53.3 397.1h0M55.3 332.4h0M50.9 355.8h0M47.3 357.6h0M49.3 328.8h0M52.2 344.9h0M62.5 346.5h0M53.7 338h0M50.6 370.9h0M48.8 399.7h0M44.5 350h0M49.3 328.3h0M56.3 389.3h0M44.9 412.4h0M45.9 377.1h0M48 392.6h0M55 398.6h0M52.8 398.7h0M45.6 349.4h0M50.2 381.8h0M55.7 361.9h0M58.5 394.8h0M54 402.1h0M44.7 392.6h0M51.3 319h0M49.2 386.2h0M47.5 355h0M52.5 376.2h0M50.2 341h0M45.5 335.4h0M48.4 373.3h0M49.1 388.6h0M51.8 386h0M46.4 342.2h0M45.2 330.8h0M50.5 354.5h0M55.3 352.3h0M53.7 388.7h0M49.6 373.3h0M55.6 371.2h0M45.4 342h0M50.9 377.7h0M47.9 345.2h0M47.3 368.3h0M53.2 376.7h0M45 351h0M53.2 369.9h0M51.5 402.6h0M46.2 381.6h0M51.1 333.2h0M46.6 381.4h0M56.6 365h0M61.9 376.6h0M46 369h0M46.3 350.2h0M51.7 361.5h0M45.6 368.1h0M46.6 354.7h0M55.6 362.9h0M51.3 404.3h0M48.3 416.3h0M44 375.2h0M51.2 320.2h0M55.2 359.7h0M50.4 370.2h0M47.5 327.9h0M58.8 337.5h0M47.3 400.2h0M57 361.8h0M48.5 403.6h0M44.1 332.3h0M53.1 334.8h0M55.2 363.8h0M52 338.2h0M55.7 347.2h0M45.9 417.5h0M68.3 344.1h0M44.7 392.3h0M46.8 380.5h0M48 332.3h0M49.1 391.5h0M45.4 351h0M53.9 339.1h0M63.7 350.2h0M46.8 337.5h0M55.2 372h0M46.7 327.8h0M60.9 371.1h0M53.1 395.9h0M51.6 373h0M46 379.3h0M53.9 354.3h0M45.2 335.5h0M47.4 392h0M46.5 382.8h0M54 369.3h0M47.1 361.6h0M47.7 366.1h0M52.4 352.9h0M45 331.9h0M45.4 379.5h0M44.6 382.9h0M51.9 380.3h0M52.8 382h0M44.4 331.1h0M47.1 369h0M52.8 338h0M44.6 364.3h0M45.7 398.3h0M48.3 380.8h0M47.9 342.6h0M63.5 391.6h0M58.3 413.5h0M50.2 392h0M47 354.1h0M46.4 409.5h0M44.2 345.5h0M46.7 376.1h0M47.4 385h0M44.3 376.4h0M47.2 357.7h0M52.8 384.8h0M51 405.9h0M44.9 405.2h0M44.4 372.8h0M60.1 350.1h0M45.6 391.7h0M50.1 356.3h0M55.3 330.8h0M45.1 325.8h0M45.8 413.5h0M51.8 327.3h0M50.5 371.5h0M46.9 375.6h0M50.3 333h0M53 358.5h0M47.3 379.7h0M47.2 373.2h0M44.3 396h0M52.8 353.4h0M47 391.8h0M51.9 328.5h0M45.5 364.6h0M46.1 400.4h0M56.3 369.8h0M50.1 329.6h0M47.9 405.9h0M44.6 367h0M46.8 324.5h0M60 370.6h0M50.2 394.2h0M48.3 333.5h0M45.4 389.2h0M54.5 358.2h0M49.3 410.5h0M46.8 328h0M44.5 404.1h0M49.4 372.9h0M53.6 340h0M47.5 329.6h0M45 404.4h0M47.2 378.9h0M51.3 337.5h0M49.6 403.6h0M52.7 330.6h0M47.9 363.5h0M60.5 394.5h0M52.1 341.8h0M47.3 336h0M47.4 342.5h0M64 393.7h0M50.2 351.6h0M50.5 380h0M45.3 338.3h0M45.9 364.3h0M46.4 379.9h0M47.1 395.8h0M49.8 399.2h0M46.9 405.1h0M44.4 407.8h0M51.8 352.8h0M51.6 339.4h0M45 392.3h0M53.7 387.6h0M48.7 396.9h0M44.1 384.3h0M44.3 372h0M50.4 409.5h0M53.8 381h0M49.9 337.6h0M50.2 368.4h0M44.6 376.8h0M45.4 353.7h0M46.5 339.9h0M47.3 314.8h0M50.8 376.1h0M44.4 327h0M55.7 389.5h0M49.3 340.3h0M53.5 380.6h0M46.3 352.4h0M58.8 335.1h0M45 384.4h0M45.9 350.3h0M47.9 326.5h0M44.9 409.8h0M58.3 380.3h0M50.1 346.4h0M44.7 373h0M52.5 381.2h0M53.9 388.3h0M49.7 353.3h0M49.2 357.8h0M47.7 374h0M47.8 381.3h0M46.6 329h0M49.7 405.3h0M45 402.6h0M55.6 364.2h0M54.1 381.3h0M46.5 386.2h0M50.2 411.6h0M59.6 374.9h0M54.5 380.2h0M47 395.6h0M54.5 343.1h0M53.9 355.3h0M52.2 329.5h0M48.3 372.4h0M48.6 401h0M44.3 389.2h0M65.2 389.5h0M56.3 342h0M50.3 390.9h0M56.9 379.3h0M51.5 392.3h0M51.6 392.4h0M58.2 372.1h0M48.4 365.3h0M59 373.9h0M49.4 402h0M55.5 386.4h0M47 372.7h0M44.2 389.6h0M56.3 349.8h0M63 370.6h0M45 408.5h0M46.5 354.6h0M58.2 376.8h0M50.6 338.3h0M47.7 393h0M50.9 333.9h0M59 377.2h0M49.9 390.8h0M51.7 323.1h0M44.3 343.4h0M47 380h0M46.4 350.8h0M46.8 394h0M44.9 339.6h0M51.6 329.9h0M45 379.5h0M55.1 346.1h0M51.3 333.2h0M51.8 346.5h0M58.2 343.8h0M53.4 396.6h0M57.8 374.1h0M54.6 363.5h0M46.7 383.7h0M50.6 399.6h0M49.9 330.3h0M51.4 379.7h0M47.7 385.7h0M55.2 358.3h0M54.4 373.1h0M49.8 379.1h0M46.5 385.6h0M47.6 395.9h0M54.4 386h0M50.4 348.9h0M46 346.1h0M46.8 398.6h0M45 364.8h0M46 359h0M45.3 359.4h0M49.4 404.2h0M52.6 377.9h0M55.7 391h0M54.2 350.6h0M44.5 356.7h0M55.1 347.8h0M45.2 363h0M54 399.1h0M45.2 336.7h0M49.6 372h0M48.7 329.8h0M53.4 348.3h0M48.8 376.4h0M49.4 357h0M45.6 401h0M45 366.2h0M45.7 402.7h0M45 355.4h0M52.9 328.5h0M50 341.5h0M48.6 406.2h0M45.7 391.7h0M49.4 403.9h0M58.8 408.2h0M54 395.7h0M49.1 377h0M53.3 408.2h0M45 370.4h0M48.9 337.1h0M44.7 329.4h0M52.4 343.7h0M44.8 348.5h0M44.6 355.9h0M58.7 389.5h0M50.8 396.5h0M56 404.1h0M49.6 404.2h0M48.6 392.5h0M44 395.1h0M53.1 372.8h0M45.6 421.5h0M45.9 322.7h0M54.5 327.8h0M48.1 398h0M50.1 375.9h0M53.9 374.2h0M60.9 351.4h0M47.8 415.7h0M44.5 418.4h0M48.1 413.6h0M45.8 389.6h0M46.8 345.2h0M52.3 338.7h0M45.3 343.4h0M53.3 401.9h0M45.1 334.2h0M47 337.1h0M51.4 390.3h0M51.3 394.9h0M44.7 405.3h0M46.9 363.6h0M52.8 360.2h0M47.9 368.3h0M44.9 350.8h0M55.6 383.5h0M54.6 333.1h0M54.9 344.2h0M47.9 329h0M47.7 349.1h0M54.7 368.6h0M44.1 362.9h0M47.3 395.2h0M53.4 403.9h0M48.1 385.3h0M48.3 371.6h0M51.5 342.9h0M59.4 389.4h0M46.1 350.4h0M61 368.4h0M48.9 324h0M47.2 345.9h0M48.3 411.6h0M49.5 361.8h0M50 339.2h0M59.7 363.1h0M52.2 390.3h0M48.6 411h0M44.9 369h0M57.6 382.4h0M60.6 366.2h0M44.3 378.5h0M46.5 401.5h0M44.4 321.3h0M47 408.3h0M47.5 357.5h0M47.5 360.1h0M53.2 330.8h0M46 380.5h0M49.3 350.5h0M46.8 357.5h0M46.1 337.2h0M54.8 378.1h0M47.7 352.9h0M52.4 412.7h0M44.8 403.8h0M56.2 407.6h0M51.9 387.4h0M60.2 348.9h0M48.2 364.4h0M49.4 330.4h0M51.5 387h0M58.2 367.7h0M63.6 359.1h0M49.2 337.1h0M45.1 347.9h0M49.6 369.6h0M53.5 372.4h0M45 340.4h0M46.2 326h0M49.2 399.2h0M44.7 387.9h0M48 350.3h0M48.3 373.5h0M49.3 413.2h0M44.4 382.9h0M49.1 364.8h0M49.2 384.1h0M44 394.3h0M62.2 377.7h0M52.8 373.8h0M49 393.9h0M49.8 377.5h0M54.8 370h0M56.2 342.7h0M56.9 393.3h0M45.1 402.7h0M45.4 352.9h0M45.6 343.6h0M45.1 407.7h0M51.6 338h0M44.4 351.5h0M45.3 327.3h0M61 395.5h0M51.5 338.2h0M44.7 402.5h0M52.2 353.6h0M50.5 380.9h0M45.8 391.9h0M45.4 387.9h0M47.7 395.9h0M45.1 409.3h0M47.2 390.6h0M66.9 376.8h0M50.5 387.3h0M49.4 325h0M52.1 364.4h0M44.6 365.9h0M60.2 351.5h0M45.9 328.8h0M49.1 413h0M48.7 388.6h0M47.7 405.1h0M45.6 415.6h0M56.6 400.6h0M56.2 361h0M49.7 404.5h0M46.3 324.5h0M48.6 389.3h0M55 391.6h0M55.6 368.9h0M47.3 334.9h0M45.4 388.3h0M52.4 369.1h0M47.2 334.3h0M47.4 374.3h0M48.5 397.4h0M44.8 318.3h0M52.7 398.2h0M48.1 390h0M50.5 368.7h0M44.9 334.5h0M48.2 377.4h0M44.8 332.1h0M45.1 331.6h0M44.7 409.4h0M49.1 398.3h0M45.2 334.2h0M48.4 334.2h0M44.2 338.5h0M53.8 404.3h0M47.9 388.6h0M58.1 360h0M56.5 365.9h0M46.8 351.3h0M50.9 322.3h0M50.3 344.5h0M46.7 354.6h0M45.9 411.3h0M44.8 404.7h0M48.3 407.1h0M51 384.5h0M45.6 324.3h0M58.1 383.9h0M49.7 369.7h0M47.3 401.7h0M62.6 353.1h0M44.8 325.9h0M52.5 353.8h0M59.1 369.1h0M51.7 376.3h0M47.4 368.7h0M46.1 414.4h0M50.7 397.8h0M55.3 355.1h0M50.4 386.3h0M52 350h0M48.2 360.3h0M49 346.1h0M45.9 381.4h0M54.8 377h0M52.7 370.1h0M50 329.8h0M50.1 405.9h0M53.5 371.4h0M50.4 335.9h0M47.1 411.3h0M45 401.1h0M55.5 381.4h0M45.4 324.1h0M44.9 413.7h0M55.7 369.4h0M46.2 402.6h0M52.3 370.9h0M54 342h0M48.3 360.1h0M46.9 357h0M58.4 335.9h0M50.8 355.1h0M45.6 364.2h0M54.5 357.6h0M44 322.7h0M49.2 352.3h0M52.4 406.6h0M49 323.9h0M47.9 378h0M44.4 396.9h0M50.1 411.8h0M47.4 345.8h0M49.4 390h0M46.3 342.5h0M46.7 365.6h0M55.6 329.5h0M58.4 367.3h0M56.7 365.6h0M45.2 337.8h0M49.2 361.7h0M52.3 357.5h0M51.6 397.7h0M51.2 373.4h0M55.1 373.6h0M56.2 361h0M50.4 349.7h0M49 373.4h0M49 412.2h0M56 353.6h0M50.5 386.7h0M48 329h0M44.8 406.1h0M47.3 357.1h0M45.4 324h0M49.7 378.9h0M50.4 380.7h0M52 337.5h0M54.7 330h0M48.3 369.1h0M44.3 345.7h0M64.2 336.3h0M49.5 365h0M52.8 409.5h0M50.1 350.8h0M44.8 404.2h0M55.1 338.5h0M58.3 348.9h0M49.7 337.2h0M45.2 338.4h0M51.4 389.7h0M46.1 371.3h0M50.1 384.9h0M46.5 322.9h0M44.4 415h0M52.7 329.1h0M45.6 399.8h0M55.3 387h0M49.1 386h0M52.8 395.8h0M63.6 386.2h0M49 365.1h0M53.9 381.7h0M45.3 334.5h0M47.9 327.6h0M57.5 344h0M45.4 342.7h0M46.6 330h0M50 412.9h0M45.8 328.7h0M48.6 323.3h0M45.8 388.5h0M56.8 348.4h0M62.8 393.3h0M50.1 337.8h0M52.6 415.6h0M44.2 356.1h0M47.9 329.4h0M57.2 377.6h0M49.2 324.5h0M59.3 398.8h0M47.9 383.1h0M53.1 343.1h0M46.9 357.4h0M45.2 343.2h0M53.5 330.9h0M47 383.1h0M45.5 338.3h0M52 357.5h0M47.3 389.7h0M52.3 414.4h0M53.1 328.6h0M57.6 370.6h0M45 320.1h0M53.1 318.9h0M54.8 328.4h0M66.6 355.5h0M45.5 390.8h0M45.3 321.2h0M45.5 335.1h0M47.4 414.8h0M57.8 393.5h0M47.5 384.3h0M45.9 327.4h0M46.1 400.9h0M50.7 383.4h0M45 377.9h0M51.2 409.1h0M46.3 381.1h0M56.7 357.9h0M60.9 368.6h0M47 324.6h0M52.1 348.3h0M60.7 371.2h0M48.6 400.9h0M50.9 339.1h0M48.1 408.2h0M44.3 342.8h0M44.1 377.8h0M44 408h0M45.7 386.3h0M51 350.3h0M46.5 333.6h0M58.4 400.6h0M53.9 406.2h0M54.1 352.4h0M60 402.7h0M44.3 376.4h0M47.3 346.1h0M47.8 369.3h0M54.3 373.3h0M49.4 399.7h0M49.4 338.8h0M52.7 371.9h0M44.7 337.5h0M46.5 381.3h0M63.3 377.5h0M55.1 361h0M51.6 362.3h0M51.7 370.9h0M53.9 383.6h0M44.8 410.9h0M53.8 364.6h0M49.6 364.7h0M54.3 342.1h0M49.6 382.1h0M52 333.1h0M51.6 371.6h0M47.1 339.4h0M44.5 332.2h0M50.7 344.7h0M57.1 383.3h0M53.3 389.9h0M59.4 396.6h0M47.4 400.6h0M55 399.2h0M50.6 336.8h0M48.3 377.3h0M55.9 397.2h0M49.5 363.7h0M54.1 392.3h0M44.9 342.3h0M46.6 340.9h0M50.7 333.1h0M44.9 334.6h0M56.7 384.7h0M47 372.2h0M57.4 372.6h0M49.9 334.9h0M48.5 395.5h0M45.1 390.2h0M48.8 323.7h0M50.3 372h0M52.6 402.4h0M51.7 337.4h0M63 376.9h0M49 382h0M60.2 390.7h0M48 355.1h0M44.4 401.4h0M48.3 375.9h0M59.8 338.8h0M46.6 353.1h0M51.7 408.4h0M51.2 363.7h0M51.1 416.4h0M56.3 397.5h0M51.7 374.9h0M47 338.2h0M48.8 332.5h0M56.1 362.2h0M55.3 391.1h0M48.9 398h0M49.8 328.9h0M46.5 322.7h0M55.4 324.9h0M53.8 409.5h0M56 357.4h0M55.2 386.1h0M54 371.3h0M51.2 400h0M61 353.1h0M57.9 365h0M46.8 409.9h0M60.6 354.7h0M45.8 348.3h0M48.5 405.8h0M48.3 413.3h0M54.3 376.4h0M51.4 353h0M48.5 417.1h0M45.8 382.6h0M50.4 326.4h0M50.8 339.1h0M49.1 389.6h0M51.3 346.1h0M44.3 378.2h0M44.9 395.8h0M50 389.1h0M49.4 386h0M50.1 329.3h0M46.3 325.4h0M49.2 405.6h0M58.9 405.1h0M49.5 327.9h0M50.7 376h0M53.2 377.2h0M48.6 338.3h0M45.6 327.1h0M49.3 398.2h0M51 407.9h0M48.3 360h0M52.5 384.6h0M44.2 404.1h0M46.7 334.1h0M59.3 400.7h0M46.6 381.4h0M49.7 355.4h0M47.6 342.5h0M45.1 398.5h0" stroke="#e4130f" stroke-width="2.4" stroke-linecap="round" fill="none"/>
<path d="M67 353.2h0M88 330.5h0M88.4 350.5h0M75.6 331h0M70.7 331h0M91.2 320.8h0M71.8 323h0M83.3 369.6h0M89.8 325h0M63.7 359.2h0M73.4 366h0M71.7 357.4h0M69.7 364.4h0M78.5 366h0M89.6 367.5h0M86.9 339.4h0M70.7 336.9h0M72 359.9h0M69.9 344.4h0M74.7 342.4h0M86.7 337.4h0M81.4 357.8h0M74 345.1h0M87 321.2h0" stroke="#e4130f" stroke-width="2.4" stroke-linecap="round" fill="none"/>
<path d="M79.8 466.4h0M67.8 467.8h0M68.6 467.6h0M70.5 467.5h0M68.7 467.1h0M70.5 467.6h0M68.1 467.8h0M77.5 468.2h0M84.3 468.2h0M78.4 467.1h0M69.2 466.5h0M67.9 467.7h0M72.8 468h0M85.2 467.7h0M74.3 468.2h0M79.7 468.2h0M72.6 467.7h0M72.8 466.8h0M79.5 467.5h0M72.9 466.8h0M71.5 467.8h0M78.2 467.8h0M81.2 468.2h0M85.4 467.4h0M69.9 467.9h0M67.8 468h0M75.9 468.1h0M83.9 466.8h0M78.2 467.9h0M85.2 468h0M68 467.6h0M82.5 466.2h0M70.7 468h0M68.6 467.7h0M78 467.6h0M83.6 467.5h0M79.4 468.1h0M81.9 467.5h0M82.5 467.9h0M73.3 468.1h0M84.3 468h0M79.1 467.4h0M78.2 467.9h0M72 467.7h0M79 468.1h0M80 468.2h0M72 467.1h0M80.4 468h0M76.2 467.1h0M71.1 467.8h0M82.9 468.1h0M82.7 467.7h0M81.7 467.8h0M79.1 467.8h0M74 467.9h0M84.9 467.4h0M75.3 467.3h0M74.3 468.1h0M84.3 466.5h0M85 467.4h0M68.9 467.7h0M70.6 468.1h0M68.9 467.9h0M78.7 468.2h0M79.1 467.7h0M68.1 467.5h0M68.9 467.4h0M73 468h0M72.8 467.6h0M77 467.3h0M82.9 467.8h0M71.4 467.5h0M78.9 467.1h0M77.8 468.1h0M72.5 466.9h0M72.4 467.9h0M68.9 467.2h0M69.3 467h0M78.1 468.2h0M83.7 467h0M84.3 467.6h0M79.8 468h0M69.5 468.1h0M73.7 466.9h0M84 468h0M83.9 467.4h0M79.7 468.1h0M74.1 467.6h0M82.6 467.6h0M83.4 467.8h0M69.3 467.6h0M80.2 467.5h0M69.3 467.9h0M69.5 467.3h0M75 468.2h0M70.3 467.4h0M76.1 468h0M78.3 467.4h0M81.1 468.2h0M82.8 468h0M83.2 467.6h0M83.4 468.1h0M78.5 467.5h0M76 467.9h0M82 467.6h0M78.7 468.2h0M77.3 467.6h0M68.4 467.4h0M68.6 468h0M84.1 467.7h0M75.2 468h0M83.8 467.8h0M80.7 467.4h0M80.2 467.7h0M74.1 466.8h0M74.7 467h0M81.3 467.6h0M75.8 468.1h0M73.8 467.7h0M84.7 468h0M76.1 467.7h0M77.6 468.2h0M81.9 467.2h0M71.7 467.2h0M84.7 468h0M67.8 467.8h0M81.4 467.9h0M68.7 468.1h0M73.6 467.7h0M84.8 468h0M79.6 467.6h0M81.9 467.4h0M78.4 468.2h0M76.5 468.1h0M79.7 467.4h0M72.3 468.1h0M75 468.2h0M81.3 467.5h0M81.3 467.2h0M83.6 467.6h0M80.1 467.9h0M71.8 467.5h0M79.2 467.8h0M69.4 468.1h0M74.6 468.2h0M77 468h0M83.5 467.8h0M67.8 467.2h0M77.7 468.1h0M75.3 467.4h0M82.3 468.2h0M76.7 468h0M70 468.1h0M82.2 467.3h0M82.7 467.7h0M84 467.5h0M68.8 467.2h0M69.6 467.8h0M81 467.3h0M79.7 468.1h0M76.3 463.5h0M79.3 463.5h0M72.1 462.4h0M77.7 461h0M73.7 463.2h0M80 461h0M74.3 463.2h0" stroke="#a2d5e6" stroke-width="2.2" stroke-linecap="round" fill="none"/>
<path d="M97.5 467.7h0M102.5 467.7h0M110.1 468.1h0M132 468h0M121.6 467.9h0M117.8 467.7h0M137.3 468.2h0M86.1 468.2h0M109.4 467.7h0M127.3 468.1h0M149.7 467.9h0M135.5 467.9h0M151.8 467.6h0M120.2 467.8h0M133.6 468h0M129 468h0M88.6 467.5h0M104.1 467.8h0M92.6 468.2h0M127.2 467.6h0M116 467.4h0M128.1 467.8h0M150.7 468.2h0M120.9 467.5h0M144.6 467.4h0M90.6 468.2h0M101.2 467.8h0M134.6 467.6h0M120.9 468.2h0M118.1 468h0M131.4 468.2h0M130.8 467.3h0M109.3 467.3h0M99.7 468h0M96.8 467.9h0M118.7 467.4h0M88.3 468h0M119.1 467.8h0M97.2 467.9h0M138.2 468.2h0M111.9 467.9h0M148.3 467.7h0M91.1 468.2h0M117.5 468.2h0M153.1 468.2h0M140.5 468.2h0M104.7 467.7h0M109.9 468.1h0M122.6 467.9h0M135.8 468h0M100.5 467.6h0M91.1 468.2h0M123 466.7h0M118.2 467.9h0M126.9 468.2h0M155.2 468.2h0M125 467.9h0M94.7 467.9h0M152.8 468.1h0M140.1 468.2h0M128.6 468.2h0M92 467.2h0M150.2 468.2h0M150.7 468.1h0M124.6 467.8h0M113.1 468h0M94.1 467.9h0M130.7 467.7h0M129.3 467.5h0M126.2 467.7h0M94.8 468.2h0M106.8 467.7h0M135 468.1h0M106.6 468.1h0M89.7 467.9h0M136.8 468.1h0M85.9 468h0M94.4 468.2h0M129.4 467.8h0M128.2 468.2h0M96.7 468h0M147.6 467.2h0M131.7 468h0M148.1 467.9h0M102.1 468h0M153.8 467.7h0M129.7 468.1h0M112.8 467.9h0M149.9 467.9h0M104.6 467.9h0M106.9 467.5h0M111.6 468h0M125.9 468.2h0M154.7 468h0M124.8 467.6h0M88 468.2h0M137.6 467.8h0M130.8 468h0M151.5 467.2h0M88.7 467.9h0M126.7 468.2h0M92.7 466.4h0M87.7 467.5h0M139.2 467.6h0M149.1 467.2h0M134.6 467.9h0M106.9 467h0M103.5 467.5h0M113.2 467.5h0M91.9 468.1h0M103.8 468.1h0M107 467.5h0M152.1 467.8h0M115.6 468.2h0M127.1 468h0M106.9 467.1h0M131.8 467.3h0M87.1 468.1h0M136.1 468.2h0M97.5 467.9h0M128.5 467.6h0M92.1 467.9h0M129.4 468.1h0M110.2 467.9h0M155.6 467.7h0M152.4 468h0M125.7 467.7h0M139.6 467.7h0M156.1 467.3h0M119.5 468.2h0M156 467.8h0M93.3 467.2h0M110.1 467.4h0M148.6 468.1h0M140.7 468.1h0M132.1 467.9h0M101 468h0M154.5 467.9h0M106.7 468.2h0M143.6 467.6h0M131.7 467.8h0M124.3 467.6h0M142.7 468h0M119.5 467.9h0M134.6 468h0M90.3 468h0M140 467.5h0M118 467.6h0M150.1 467.4h0M155.4 467.8h0M103.3 468h0M121.1 467.6h0M114.2 467.1h0M88.4 467.9h0M152.9 468.2h0M122.4 467.6h0M107.8 468.2h0M141.3 467.2h0M139.7 467.7h0M142.4 468h0M132.5 467.4h0M150.8 467.8h0M137.3 468.1h0M112 467.4h0M100.7 467.7h0M138.4 468h0M144.6 468.1h0M138.9 468h0M133.3 467.4h0M149.9 468h0M115 467.7h0M116.9 467.6h0M124.9 468.1h0M119.8 468h0M124 468.1h0M152.2 467.1h0M117.8 467.3h0M145.8 468.2h0M138.9 468.2h0M126.2 467.4h0M135.2 468h0M131.1 468h0M126.7 467.5h0M147.4 467.4h0M137.6 467.9h0M98.8 467.8h0M150.4 468.1h0M124.1 468h0M95.5 467.8h0M92.4 468.1h0M109.5 468.1h0M155.3 468h0M150.5 467.2h0M97.7 468.2h0M111.7 466.9h0M104 467.8h0M138.1 467.6h0M127.5 468h0M97.4 468h0M121.2 468.1h0M96.7 467.6h0M129 468.2h0M132.1 467.9h0M117.1 468h0M133.8 468.2h0M103 467.8h0M102.4 468.1h0M117.2 467.9h0M115.6 467.4h0M118.9 467.6h0M100.5 468h0M114.1 468h0M99.9 467.8h0M120.3 468.2h0M118.4 467.3h0M107 467.6h0M88.8 467.3h0M89.8 468h0M97.6 468.1h0M127.4 467.5h0M96.1 467.1h0M148 468.1h0M131.8 468.1h0M146.7 468h0M135.1 468.2h0M146.9 467.7h0M102.1 468h0M136.9 467.6h0M139 467.9h0M102.5 467.2h0M105.5 468h0M145.9 467.6h0M101 467.9h0M124.6 468.2h0M94.4 468.1h0M147.3 467.6h0M109.1 468.1h0M143.3 467h0M120.3 468.2h0M136 466.5h0M103.8 466.9h0M102 468.2h0M87.5 467.9h0M90.8 467.5h0M122.7 467.3h0M116.2 467.6h0M132.9 468h0M102 467.7h0M126.7 468.2h0M104.5 468.1h0M147.3 467.2h0M99.3 467.8h0M137.4 467.9h0M91.5 468h0M144 467.6h0M141.7 467.7h0M133.7 467.3h0M126.8 467.7h0M97.5 468.1h0M115.6 468h0M85.7 467.9h0M143.8 467.9h0M138.5 468.1h0M110.7 467.8h0M85.7 468.2h0M103 468.2h0M148.1 467.3h0M132.3 468.1h0M153.3 468.1h0M98.8 467.3h0M122.2 468h0M139.7 468.2h0M85.7 468h0M153.4 467.7h0M150.7 468.1h0M112.8 468h0M133.2 467.2h0M145.4 468.1h0M115.4 468.1h0M120.1 468.1h0M152.6 468h0M133.7 467.7h0M127.7 467.9h0M139.1 466.9h0M148.9 467.8h0M132.7 468h0M148.3 468.1h0M118.4 467.7h0M111.2 468h0M129.7 467.6h0M105.5 467.6h0M116.2 467.3h0M116.5 468h0M137.8 467.7h0M152.5 468h0M122.7 468h0M99.9 468.1h0M136.6 467.7h0M103.4 468h0M142.3 468.2h0M108.2 468.2h0M150 467.7h0M100.9 467.2h0M123.2 466.6h0M100.4 467.7h0M139.7 466.8h0M119.5 467.6h0M138.7 468.2h0M122.4 467.8h0M119.2 467.5h0M91.5 467.8h0M95.6 468.2h0M113.8 467.7h0M131.8 467.8h0M134.8 467.6h0M93.5 467.6h0M156.7 467.6h0M135.4 468.2h0M109.2 467.4h0M104.7 468.1h0M113.6 468.2h0M125.1 467.9h0M143.5 468.1h0M93.8 468.2h0M106.7 467.3h0M154.2 467.7h0M149.7 467.9h0M155.2 467.8h0M129.9 467.8h0M91.3 466.6h0M136.4 467.7h0M130.7 467.9h0M88.3 468.1h0M130 467.7h0M143 467.8h0M100.7 467.5h0M93 468.2h0M116.5 467.5h0M91.6 467.5h0M152.8 468.2h0M107.6 468.2h0M124.8 468.2h0M91.8 467.7h0M143.9 467.7h0M121 467.5h0M85.5 468.1h0M100 467.7h0M125.3 467.7h0M87 468.1h0M118.5 468.1h0M99.4 467.8h0M117.8 468h0M88.1 467.4h0M121 468.1h0M135.2 468h0M128.4 468.1h0M130.9 467.6h0M127.8 467.3h0M114.4 467.6h0M98.2 467.3h0M135.3 467.8h0M143.4 467.7h0M136.4 467.8h0M132.3 468h0M102.8 468.1h0M108.7 467.8h0M98.1 467.7h0M136.1 467.6h0M104.1 467.7h0M146.9 467.7h0M99.7 468.1h0M94.5 468h0M146.2 468h0M88.2 467.9h0M121.1 467.4h0M87 467.7h0M100.2 467.1h0M98.9 467.4h0M121.4 467.6h0M109.7 467.8h0M117.3 467.4h0M101.3 467.5h0M120.5 467.9h0M140.9 468.2h0M134.4 467h0M120.5 468.2h0M129.7 467.6h0M117.6 468.1h0M142.1 468h0M93.3 467.7h0M95.1 468h0M100.8 468.2h0M105.6 467.3h0M118.2 467.3h0M139.3 468.1h0M140.9 467.2h0M132.2 467.9h0M135.6 468.2h0M127.2 467.8h0M128.5 467.8h0M119.2 467.9h0M149.6 468.1h0M141.2 468.2h0M150 468h0M128.4 467.7h0M125.2 468.2h0M125.7 468h0M121.9 468.2h0M99.7 467.3h0M119.3 467.9h0M124.7 468.1h0M104.2 467.9h0M133.8 467.2h0M96.7 467.9h0M152.1 468h0M147 468.1h0M112.6 468.2h0M144.9 467.8h0M113.3 467.6h0M98.9 467.8h0M93.4 468h0M150.8 467.4h0M106.1 468.2h0M154.3 468.2h0M101.2 468h0M127.6 468h0M138.1 468h0M95.8 466.9h0M101.5 467.8h0M87 467.6h0M97.3 468h0M133.4 467.9h0M114.2 467.9h0M131.3 466.6h0M152.7 467.9h0M114.5 468.2h0M124.3 467.8h0M126.2 468h0M114.6 468.2h0M146.6 468h0M100.9 467.9h0M140.8 467.4h0M138.9 468h0M145.8 468.1h0M100.5 467.7h0M102.4 468h0M94.7 467.2h0M104 468h0M107.3 467.9h0M154.5 467.9h0M147.2 467.9h0M85.8 467.7h0M120.1 467.8h0M129.9 468.2h0M128.4 467.8h0M123.4 467.4h0M86.3 467.9h0M153.4 468.1h0M115.3 467.9h0M153.2 468.1h0M87.6 468.1h0M101 467.7h0M135.3 467.6h0M122.6 467.7h0M143.5 466.9h0M86.9 467.6h0M152.7 468h0M99.2 468h0M122.2 468h0M130.1 466.5h0M120.5 468.1h0M110.6 468h0M118.1 468.1h0M85.6 467.6h0M100.9 468.2h0M99.6 467.9h0M97.1 467.5h0M124 467.7h0M97.3 467.7h0M146.2 467.9h0M134.7 467.8h0M102.3 467.9h0M95.8 467.9h0M96.7 468.2h0M125.3 467.1h0M100.6 467.3h0M148.4 466.8h0M102 467.7h0M153.2 468h0M89.7 467.4h0M131.7 467.6h0M137.4 468.1h0M152.5 467.3h0M149.8 468h0M126 467.6h0M104.1 467.6h0M102.3 468h0M114.2 467.5h0M112.1 468.2h0M107.2 467.7h0M130.7 468h0M115.9 468.2h0M131.4 466.9h0M90.5 466.9h0M131.7 467.9h0M101.4 467.2h0M131.3 468.2h0M136.4 467.7h0M132.9 468h0M134.7 468.2h0M95.2 467.1h0M120.4 467.4h0M112.8 467.7h0M152.5 468.2h0M155.1 467.8h0M107.4 466.9h0M153.4 468.1h0M93.7 467.9h0M155.2 467h0M97.7 468.2h0M89.5 467.5h0M110.6 467.7h0M144.2 468.2h0M156.1 467.7h0M94.1 467.8h0M145.8 467.6h0M88.4 467.9h0M132.6 467.4h0M107.2 466.8h0M122.4 468.2h0M102.4 468.1h0M137.9 467.7h0M138.7 467.8h0M117.8 468.1h0M95.9 468.1h0M112.7 467.9h0M154.6 468.1h0M125.9 467.4h0M120.9 467.8h0M125.8 467.7h0M150.9 467.8h0M131.8 467.6h0M144.1 467.7h0M106.8 468h0M150.4 466.9h0M133.8 468.1h0M137.6 468h0M115.8 468.2h0M115.4 468.2h0M105.1 467.7h0M101 467.9h0M114.1 468.1h0M111.3 468h0M154.3 468.1h0M129.1 467.7h0M130.9 468.1h0M149.8 468.2h0M98.3 467.9h0M154.3 468.2h0M97.8 467.8h0M89.9 468h0M95.2 467.6h0M109.4 467.9h0M95.8 468h0M108.1 467.4h0M154.6 467.9h0M112.7 467.9h0M130.3 468h0M147.2 467.8h0M99.2 467.8h0M87.7 467.2h0M124.7 468.2h0M145.3 467.7h0M118.8 468.2h0M101.9 467.2h0M106.5 467.7h0M88.7 467.6h0M114.2 467.4h0M146 467.3h0M142.6 468h0M96.3 467.8h0M116.3 468.2h0M144.5 468h0M156.6 468.2h0M87.8 468.1h0M105.5 467.4h0M148.8 468.1h0M127.1 467.9h0M119.9 468h0M152.6 468h0M96 467.4h0M123.9 468h0M107.7 468.1h0M150.4 468.2h0M131.2 467.8h0M114.3 467.7h0M142.1 467.8h0M126.6 467.3h0M89 468h0M103.8 466.9h0M156.7 467h0M127.4 468.1h0M151.4 467.5h0M150.7 467.9h0M96.7 466.9h0M115.2 468.2h0M152.4 467.6h0M111 467.7h0M97.2 468.1h0M132.3 467.5h0M152.8 467.4h0M90.8 467.8h0M99.6 468.2h0M136.9 467.7h0M130.5 468h0M109.3 467.4h0M94.3 467.9h0M138.6 467.9h0M121 468.1h0M155.9 468.2h0M129.4 467.9h0M150.9 467.7h0M114.9 468.2h0M149.5 468.2h0M86.8 467.8h0M156.4 467.4h0M126.7 467.7h0M136.1 467.7h0M137.4 468h0M97.7 468.1h0M143.5 467.7h0M105.3 468.1h0M139.9 468.2h0M87.5 467.8h0M145.8 468.1h0M88.5 467.9h0M149.8 468.2h0M116.6 467.6h0M107.4 468.2h0M105.3 467.7h0M140.2 467.3h0M131.6 467.7h0M146.9 468.1h0M149.3 467.4h0M85.8 467.8h0M149.8 467.9h0M110.8 467.6h0M156.4 467.4h0M145.5 467.7h0M148.5 467.3h0M135.1 467.7h0M95.8 467.9h0M109.8 467.2h0M148.2 467.7h0M89.3 466.9h0M96.6 467.5h0M132.1 466.8h0M123 468h0M126.8 468.1h0M136.1 468h0M134.6 467.2h0M90.4 468.2h0M93.3 467.8h0M156.6 468.2h0M104.5 467.7h0M130.9 467.9h0M141.4 468.1h0M90.4 468h0M98.9 468.1h0M146.1 468.1h0M145.2 468.2h0M89.7 468h0M100.2 467.6h0M122.4 468h0M112.5 467.9h0M129.6 467.9h0M92.2 468.1h0M117.7 467.7h0M135.6 468.1h0M111.5 467.8h0M100.4 467.5h0M114 468.2h0M101.2 468.2h0M152.2 467.7h0M108.3 467.6h0M144.9 467.3h0M89.1 468.2h0M87.6 468h0M106.1 467.9h0M152.3 467.5h0M107.2 468.2h0M104.9 467.4h0M114 467.6h0M122.7 468.2h0M151.6 467h0M134.6 467.7h0M144.6 467.4h0M142.9 467.3h0M137.6 467.2h0M131.2 468h0M108.4 464.3h0M120.7 464.8h0M105.5 466.1h0M109.9 465h0M91.3 464h0M94.1 466.3h0M137.7 464.8h0M134.6 465.5h0M126.8 465.2h0M106.3 465.2h0M90 464.1h0M120.1 464.3h0M92.7 465.4h0M121.7 465.5h0M142.5 464.3h0M100.6 465.8h0M144.7 465.3h0M110.1 464h0M117.4 464.6h0M95.9 465.4h0M123.2 464.6h0M112.8 465.9h0M160.2 467.9h0M163.7 467.9h0M167.2 467.9h0M170.7 467.9h0M175.4 467.9h0M206.9 467.9h0" stroke="#2d2482" stroke-width="2.3" stroke-linecap="round" fill="none"/>
<rect x="145" y="341" width="22.5" height="8" fill="#fff" opacity="0.85"/><text x="156.25" y="347.5" font-size="7.2" text-anchor="middle" fill="#2a2a2a" stroke="#2a2a2a" stroke-width="0.2">BRAF</text>
<circle cx="157" cy="350.6" r="1.7" fill="#000"/>
<rect x="38.4" y="375.2" width="19.5" height="8" fill="#fff" opacity="0.85"/><text x="48.15" y="381.7" font-size="7.2" text-anchor="middle" fill="#2a2a2a" stroke="#2a2a2a" stroke-width="0.2">KRAS</text>
<circle cx="45.2" cy="384.4" r="1.7" fill="#000"/>
<path d="M36.5 526.5V715.5H248.5" stroke="#222" stroke-width="1.1" fill="none"/>
<line x1="33.5" y1="706.60" x2="36.5" y2="706.60" stroke="#222" stroke-width="0.9"/>
<text x="30.5" y="709.00" font-size="6.9" text-anchor="end" fill="#3a3a3a" stroke="#3a3a3a" stroke-width="0.2">0.00</text>
<line x1="45.75" y1="715.5" x2="45.75" y2="718.5" stroke="#222" stroke-width="0.9"/>
<text x="45.75" y="728" font-size="6.9" text-anchor="middle" fill="#3a3a3a" stroke="#3a3a3a" stroke-width="0.2">0.00</text>
<line x1="33.5" y1="677.93" x2="36.5" y2="677.93" stroke="#222" stroke-width="0.9"/>
<text x="30.5" y="680.33" font-size="6.9" text-anchor="end" fill="#3a3a3a" stroke="#3a3a3a" stroke-width="0.2">0.25</text>
<line x1="75.83" y1="715.5" x2="75.83" y2="718.5" stroke="#222" stroke-width="0.9"/>
<text x="75.83" y="728" font-size="6.9" text-anchor="middle" fill="#3a3a3a" stroke="#3a3a3a" stroke-width="0.2">0.25</text>
<line x1="33.5" y1="649.25" x2="36.5" y2="649.25" stroke="#222" stroke-width="0.9"/>
<text x="30.5" y="651.65" font-size="6.9" text-anchor="end" fill="#3a3a3a" stroke="#3a3a3a" stroke-width="0.2">0.50</text>
<line x1="105.90" y1="715.5" x2="105.90" y2="718.5" stroke="#222" stroke-width="0.9"/>
<text x="105.90" y="728" font-size="6.9" text-anchor="middle" fill="#3a3a3a" stroke="#3a3a3a" stroke-width="0.2">0.50</text>
<line x1="33.5" y1="620.58" x2="36.5" y2="620.58" stroke="#222" stroke-width="0.9"/>
<text x="30.5" y="622.98" font-size="6.9" text-anchor="end" fill="#3a3a3a" stroke="#3a3a3a" stroke-width="0.2">0.75</text>
<line x1="135.97" y1="715.5" x2="135.97" y2="718.5" stroke="#222" stroke-width="0.9"/>
<text x="135.97" y="728" font-size="6.9" text-anchor="middle" fill="#3a3a3a" stroke="#3a3a3a" stroke-width="0.2">0.75</text>
<line x1="33.5" y1="591.90" x2="36.5" y2="591.90" stroke="#222" stroke-width="0.9"/>
<text x="30.5" y="594.30" font-size="6.9" text-anchor="end" fill="#3a3a3a" stroke="#3a3a3a" stroke-width="0.2">1.00</text>
<line x1="166.05" y1="715.5" x2="166.05" y2="718.5" stroke="#222" stroke-width="0.9"/>
<text x="166.05" y="728" font-size="6.9" text-anchor="middle" fill="#3a3a3a" stroke="#3a3a3a" stroke-width="0.2">1.00</text>
<line x1="33.5" y1="563.23" x2="36.5" y2="563.23" stroke="#222" stroke-width="0.9"/>
<text x="30.5" y="565.62" font-size="6.9" text-anchor="end" fill="#3a3a3a" stroke="#3a3a3a" stroke-width="0.2">1.25</text>
<line x1="196.12" y1="715.5" x2="196.12" y2="718.5" stroke="#222" stroke-width="0.9"/>
<text x="196.12" y="728" font-size="6.9" text-anchor="middle" fill="#3a3a3a" stroke="#3a3a3a" stroke-width="0.2">1.25</text>
<line x1="33.5" y1="534.55" x2="36.5" y2="534.55" stroke="#222" stroke-width="0.9"/>
<text x="30.5" y="536.95" font-size="6.9" text-anchor="end" fill="#3a3a3a" stroke="#3a3a3a" stroke-width="0.2">1.50</text>
<line x1="226.20" y1="715.5" x2="226.20" y2="718.5" stroke="#222" stroke-width="0.9"/>
<text x="226.20" y="728" font-size="6.9" text-anchor="middle" fill="#3a3a3a" stroke="#3a3a3a" stroke-width="0.2">1.50</text>
<text transform="translate(142.5 739.7) scale(0.78 1)" font-size="7.2" text-anchor="middle" fill="#3a3a3a" stroke="#3a3a3a" stroke-width="0.2">CCFT1</text>
<text transform="translate(10.9 621.0) rotate(-90) scale(0.78 1)" x="0" y="0" font-size="7.2" text-anchor="middle" fill="#3a3a3a" stroke="#3a3a3a" stroke-width="0.2">CCFT2</text>
<text x="0.3" y="516.8" font-size="11.2" font-weight="bold" fill="#111">C</text>
<path d="M178.1 627.6h0M201.1 573.9h0M198.3 614.2h0M159.7 591.7h0M140.5 617.7h0M137.6 554.8h0M134.8 554.3h0M157.1 619h0M164 580.7h0M169.8 632.3h0M197.7 564.4h0M177.8 633h0M123.7 562.2h0M176.7 622.7h0M165.2 629.8h0M159.5 605.1h0M163.1 634.4h0M186 574.1h0M148.2 622.9h0M164.6 553.5h0M204.1 589.7h0M191.8 602.3h0M168.3 604.9h0M164.4 598.6h0M206.9 606.6h0M147.3 559.9h0M150.4 629.5h0M200.5 602.4h0M149.4 593h0M174 561.5h0M175.8 550.5h0M179.6 555.6h0M184.1 592.8h0M156.5 588.1h0M133 613.7h0M152.1 573.4h0M130.2 598.1h0M207.3 600.9h0M203.9 570.7h0M210.8 594h0M171.7 628.1h0M169.6 562.5h0M171.7 553.1h0M153.1 604.1h0M159.7 618.8h0M142.7 584.7h0M148.5 579.2h0M182 609.1h0M155.1 618.7h0M166.3 583.9h0M207.1 593.1h0M174.1 565.8h0M146.6 637.6h0M193.1 555.7h0M199.8 625.9h0M200.4 620.7h0M165 596h0M131.5 593.1h0M128.2 623.2h0M126 598h0M145.5 624.9h0M172.1 598.1h0M144.8 586.5h0M136.8 582.5h0M157 606.7h0M166 610.2h0M191.9 611.1h0M172.9 567.6h0M154.9 554.2h0M153.2 567.5h0M155.3 613.8h0M134.4 589h0M143.9 557.9h0M151.6 632h0M128.7 590.8h0M203.3 602.9h0M161.1 601.8h0M174.6 571.4h0M182.1 631.1h0M140.9 614.1h0M159.5 635.9h0M178.5 627.1h0M126.5 600.6h0M194.4 560.6h0M200.4 550.2h0M134.6 557.4h0M168 583.4h0M200 630.2h0M182 559.5h0M176.5 591.2h0M127.4 598.3h0M172.2 625.3h0M144.6 597.8h0M142.2 614.3h0M178.3 562.7h0M205.9 580.6h0M198.3 577.9h0M172.1 546.6h0M176.3 569.6h0M182.4 630.5h0M143.3 606.8h0M181.1 592.3h0M171 634.2h0M149.5 582.9h0M182.5 590.2h0M168.1 591.8h0M130.2 561.2h0M158.5 586.1h0M193.1 634.9h0M172.7 552.3h0M120.6 591.7h0M136.5 568.4h0M140.9 596.4h0M202.4 593h0M177.5 570.9h0M208.4 618.9h0M148.9 556.2h0M190.1 568h0M201.6 581.1h0M148.4 613h0M165.7 565.3h0M193.6 627h0M127.3 571.9h0M136.1 582.7h0M167.7 552.1h0M209.9 579.1h0M198.5 614.7h0M180.4 562.9h0M203.6 596h0M195.9 629.9h0M180 589.4h0M193.9 553.8h0M193.6 591.9h0M189.4 588.2h0M149.2 632.4h0M154.1 615.7h0M168.5 612.1h0M150.3 630.3h0M169.1 613.1h0M189.4 593.3h0M194 560.8h0M125.7 550.4h0M192.8 619.4h0M127.3 589.7h0M212 610.1h0M195 618.8h0M141.7 633.6h0M141.5 631.7h0M189.2 633.9h0M209 585.4h0M212.2 601.4h0M133.8 566.4h0M151.1 584.4h0M163.9 623.9h0M126.5 624.4h0M136.1 550.8h0M165.4 544.7h0M151.3 622.4h0M207.2 631.8h0M126 628.1h0M132 629.5h0M129.3 585.3h0M141.9 573.5h0M175.2 609.1h0M132.7 628.7h0M159.4 631h0M208.1 570.2h0M204.4 624.2h0M184.7 543.2h0M191.1 559.1h0M140.3 624.9h0M124.4 580.2h0M174.8 626.9h0M172.3 599.8h0M199 596.5h0M138 603.7h0M198.8 552.4h0M180.3 576.4h0M155.7 565.4h0M186 587.1h0M144.2 567.6h0M190.2 575h0M152.9 551.8h0M189.3 609.4h0M166.2 546.6h0M170.3 614.1h0M158 599.6h0M178.8 589.2h0M131 609.2h0M207.8 584.5h0M169.8 602.2h0M199.4 600.8h0M159.5 562.5h0M200.8 579.7h0M184.3 597.8h0M180.1 581.7h0M152.5 546.9h0M170.3 634.5h0M151.3 614.1h0M159.6 569h0M193.4 552.9h0M163.9 571.6h0M144.5 573.8h0M201.7 558.2h0M149.6 567.1h0M203.8 570.3h0M196.9 632.4h0M157.3 587.1h0M188.4 628.2h0M150.6 558.7h0M170.3 545.6h0M173.3 559.4h0M154.2 605h0M126.5 605h0M139.3 597.3h0M155.4 588h0M146.2 545.5h0M148.5 600.2h0M149.1 574.1h0M136.2 623.2h0M208.5 565.4h0M185.2 561.3h0M141.6 588.5h0M154.2 607.4h0M201.9 600.6h0M201.8 606.9h0M158.6 616.4h0M148.7 585.3h0M187.7 576.8h0M190.7 566.4h0M184.9 609.1h0M135.2 619h0M166.4 634.4h0M178.8 564.2h0M128.8 572.5h0M138.8 632.6h0M140.8 635.2h0M135 569.7h0M195.3 612.4h0M142.6 557.2h0M162.1 575h0M177.6 605.8h0M156.6 579.9h0M179.9 629.7h0M138.1 602.6h0M126.5 592h0M126.5 621.9h0M177.2 578.5h0M152.5 631.5h0M153.9 598.3h0M200.6 616.5h0M213.1 601.8h0M183.2 581.8h0M182.6 608.4h0M175.2 582.5h0M195.3 615.8h0M130 596.4h0M202.2 632.3h0M176.6 607.8h0M182.9 574.6h0M184.4 634h0M144.3 607.2h0M154.3 596.9h0M204.6 575.9h0M193.4 591.2h0M120.5 572.6h0M137.6 625.7h0M184.6 547.3h0M197.1 607.6h0M121.7 604.3h0M198.5 615.9h0M185.3 620h0M129.9 632.3h0M136.3 570.3h0M136.4 627.9h0M200.4 564.1h0M169.4 611.5h0M194.5 568.4h0M176.1 577.1h0M141.6 607.1h0M158.2 623.6h0M139.3 571.5h0M179.4 619.5h0M191.6 613.6h0M129 556.7h0M190.5 576.5h0M137.6 548.1h0M205.6 586.2h0M157.4 631.3h0M138.7 633.9h0M136.7 612.2h0M125.2 582.8h0M159.5 619.1h0M130.1 610.5h0M191.4 632.5h0M160.5 589h0M199.1 556.4h0M206.4 577.6h0M166 579h0M136 622.8h0M200.1 585.2h0M150.9 600.4h0M171.4 569.2h0M142.9 563.9h0M171.8 574.4h0M198.9 629.1h0M173.2 581h0M124.4 574.9h0M200.6 562h0M168.8 567.4h0M190.8 609.4h0M152.2 585.1h0M136.6 595.8h0M148.6 595.4h0M185.3 545.5h0M134.2 609h0M204.4 582.3h0M211.5 573.3h0M162 598.4h0M156.2 630.1h0M146.4 552.9h0M192.8 564.8h0M141.4 559.4h0M196.4 629.5h0M206.9 600.2h0M124.4 557.2h0M159.4 617.9h0M146.7 620.1h0M173.7 623.2h0M193.4 586.4h0M152.3 587.4h0M193.3 605.7h0M212.4 619.4h0M141.3 603.2h0M191.1 563.5h0M134.6 620.4h0M156.2 615.7h0M188.3 625h0M160.6 635.9h0M186.4 608.9h0M143.8 586.6h0M176.6 576.1h0M171.5 622h0M191.3 583.4h0M184.4 568.4h0M153.1 622.4h0M209.3 612.8h0M136.1 608.1h0M148.6 627.4h0M152.5 579h0M150.2 631.4h0M155.6 605.1h0M121.4 606.5h0M193.2 585.6h0M171 628.7h0M183.6 623.2h0M132.4 609.8h0M194 549.8h0M148.8 618.9h0M186.6 630h0M193.5 584h0M139.7 562.2h0M179.4 623.9h0M172.6 568.2h0M134.6 632.4h0M145.7 590.8h0M174 570.6h0M134.7 611.8h0M175.8 617.6h0M175.4 570.7h0M143.4 614.4h0M169.4 622.7h0M144 585.4h0M129 567.5h0M187.9 575.6h0M179.4 566.8h0M179.1 563.1h0M123.2 588.1h0M210.6 572.5h0M144 634.4h0M198.1 614.4h0M184.1 626.5h0M177.3 618.4h0M135.5 611.1h0M173.3 573.4h0M200.6 562.9h0M180 576.9h0M165.7 611.7h0M186.1 611.8h0M157.9 575.9h0M125.7 556.6h0M204.6 552.6h0M133.6 622.5h0M152.1 623.1h0M164.1 582.9h0M156.8 636.9h0M128.3 620.9h0M188.4 544.6h0M163.8 587.8h0M206.7 623.7h0M142.1 611.3h0M164 630.1h0M164.8 623h0M164 632.5h0M122.8 597.8h0M202.6 621.3h0M190.4 555.5h0M172.4 630.7h0M200.7 622.5h0M186.7 580.9h0M127.7 602.2h0M182.3 564.8h0M134.6 612.3h0M168.2 583.1h0M163.9 622.3h0M139.6 591.6h0M125.3 607h0M159.5 548.9h0M205.6 571.8h0M138.6 558.3h0M189.2 617.2h0M144.1 605.4h0M168.4 591.9h0M149.4 616h0M146 606.4h0M135.2 619.1h0M177.9 552.8h0M128.7 584.1h0M206.7 598.1h0M177.8 604h0M128.4 610.9h0M139 599.1h0M121.6 600.3h0M135.8 619.1h0M127.1 620.7h0M173.2 606.6h0M154.4 613.7h0M138.9 629h0M159.2 588.6h0M189.1 598.5h0M141.2 637.1h0M151.1 549.3h0M207.6 582.8h0M183.7 596.6h0M121 600.1h0M174.3 593.4h0M199.9 628.6h0M199.1 591.2h0M168.4 545.1h0M155.1 632.6h0M206.1 568.7h0M135.1 563.9h0M189.2 591.4h0M154.6 614h0M189.1 610.8h0M138.3 631.5h0M142 591.4h0M186.3 546.9h0M175.8 579.3h0M163.2 606.7h0M148 632.6h0M143.5 622.8h0M171.7 599.6h0M148.5 625h0M206.8 609.8h0M181.3 632.8h0M192.8 574.9h0M157.6 594.4h0M139.7 576.9h0M169.3 547.4h0M192 604.3h0M205.3 587.6h0M174.3 624.7h0M195 634.7h0M173.1 569.8h0M206.7 574.4h0M128 612.2h0M178.5 570.5h0M147.4 629.4h0M200.7 589.8h0M169.3 624.4h0M164.9 625h0M193.9 607.8h0M181.6 626.3h0M138.9 579.7h0M208 619.3h0M175 619.3h0M156.5 629.7h0M173.1 585h0M173.7 603h0M152.7 611.9h0M176.8 575.9h0M187.6 574.6h0M160.1 608.5h0M161.8 631.3h0M119.9 574.3h0M208.6 576.9h0M161.1 625.4h0M119.6 584.8h0M133.9 590.2h0M198.7 582.1h0M123.8 566.4h0M151.7 614.8h0M135.6 596.1h0M170 564.3h0M188.3 612.5h0M210.3 606.3h0M209.6 555.7h0M194.4 632h0M187.2 618.4h0M206 607.9h0M146.9 625.8h0M150 556.4h0M138.2 613.7h0M212.1 621h0M209.1 607.6h0M175 603.3h0M183.6 560.2h0M190.8 562.6h0M163.5 586.2h0M164 617.2h0M181.9 560h0M177.1 620.4h0M210 577.3h0M167.4 573.1h0M125.1 571.8h0M153 631.2h0M169 565.1h0M191.2 629.7h0M145.6 603.9h0M187.8 546h0M158.8 616.2h0M166.1 603.9h0M185.4 610.6h0M150.9 605.7h0M188.7 630.6h0M147.8 613.1h0M162.7 621.2h0M133.3 618.1h0M156.5 607.1h0M139.3 556.7h0M177.4 632h0M169.9 626.4h0M181.1 551h0M182.9 546.2h0M198.1 595.4h0M179.3 616.4h0M206.8 573.8h0M187.8 583.9h0M164.5 618.3h0M128.5 630.9h0M197.5 569.9h0M182.9 557.5h0M182 577.6h0M182.5 634.1h0M172.4 621.7h0M177.2 592.2h0M131.3 612.1h0M159.3 628.7h0M192.2 607.8h0M147.6 614.3h0M168.5 621.3h0M177.9 634.1h0M208.9 578h0M186.6 586.6h0M149.4 582.1h0M142.7 552.6h0M167.1 611.9h0M179.6 607.5h0M184.4 594.5h0M149.9 620.4h0M184.2 635.6h0M145.4 630.9h0M176.1 576.1h0M163.4 626.2h0M150.1 629.6h0M146.5 586h0M162.9 630.5h0M142.3 623h0M147.5 565.7h0M121.4 584.1h0M172.8 592.6h0M155.6 595.7h0M138.7 618.8h0M201.1 628.9h0M120.7 611.6h0M200.9 601.7h0M176.6 563.9h0M207 574.6h0M191.6 597.3h0M130.9 597.8h0M148.3 583.3h0M186.5 601.5h0M156.9 615.4h0M182.2 561.5h0M183.8 597.7h0M159.3 628.5h0M127.1 564.4h0M159.1 595.9h0M132.4 627.1h0M198.7 622.3h0M200.6 611.7h0M180.8 564.8h0M126.9 594.7h0M139.8 629.1h0M165.5 575.3h0M123.2 589.4h0M162.5 615.2h0M148.1 580.1h0M154.3 631.4h0M204.6 572.8h0M184.7 560.7h0M130.5 599.4h0M151 626.5h0M193.7 550.7h0M206.3 554.9h0M156.6 621.5h0M146.3 553.9h0M164.2 587.4h0M144.2 605.4h0M131.8 559h0M121.2 576.4h0M204.8 599.2h0M155.1 583.9h0M128.1 624.5h0M145.8 600.5h0M152.6 634h0M189.3 636.9h0M169.8 580.9h0M144.5 609.4h0M181.3 544.8h0M159 611.5h0M198.4 603.3h0M132.4 599.1h0M204.8 560.2h0M141.9 620.6h0M156.6 601.1h0M154.3 609.5h0M195.2 601.9h0M137.4 623.5h0M161 600.9h0M184.1 636.8h0M180.6 602.4h0M189.8 634.4h0M126.1 615.7h0M138 591.5h0M193.4 546.7h0M184.9 609.1h0M174.6 618.5h0M179.1 573.7h0M206.1 575.3h0M144.9 543.7h0M204.6 554.3h0M147.8 610.8h0M198.1 604.5h0M182.4 589.5h0M157.8 627.5h0M159.6 620h0M188.9 628.4h0M167.6 564.6h0M132.7 609.3h0M153.5 598.2h0M147.4 624.9h0M199.5 556.1h0M167.5 553.7h0M156.4 618.5h0M168.5 600.2h0M130.9 572.7h0M201.4 603.1h0M208.9 569.9h0M139.9 588.1h0M181.9 569.6h0M205.4 591.9h0M198.4 571.8h0M205.9 573.3h0M135.9 569.1h0M202.3 582.8h0M124.2 597h0M149.9 578.6h0M159.2 612.4h0M190.4 606.8h0M184.2 583.3h0M136.6 629.3h0M137.3 561.4h0M141.9 561.9h0M142.8 624.7h0M189.7 631.9h0M131.9 550.8h0M205 547.2h0M170.4 637.7h0M131 608.8h0M207.4 555h0M194 549.6h0M165 620.5h0M123.8 606.6h0M149.4 602.6h0M143.7 558.9h0M138.6 588.3h0M143.9 560.5h0M177.4 609.2h0M163.2 620.1h0M198 565.2h0M165 564.4h0M158.6 582.3h0M188.5 571.9h0M193 628.1h0M204.3 578.8h0M199.9 579.1h0M183.3 593.3h0M189.4 600h0M123.4 576.9h0M134.8 618.9h0M181.9 596.9h0M195.7 579.9h0M203.1 550.3h0M159.1 566h0M145.2 617.1h0M167.2 584.9h0M185.3 583.4h0M133.8 585.8h0M172.5 552.1h0M155.8 559.5h0M136 610.4h0M157.9 596.8h0M139.4 631.6h0M146.9 617.1h0M153.9 623.5h0M148.7 591.8h0M182.4 611.7h0M193.9 626.6h0M184 592.8h0M131.9 591.9h0M165.2 576.8h0M187.2 622.2h0M138.9 587.5h0M131.6 588.5h0M153.7 625.9h0M181 634.9h0M122.9 593.1h0M203.2 631.8h0M128 570.1h0M187.4 632.5h0M208.2 611.7h0M190.6 617.9h0M203.1 614.3h0M163.4 629.1h0M196.4 613.5h0M159.2 555.6h0M163.2 621.1h0M158.2 606h0M123.8 619.1h0M139.6 590.3h0M136 633.2h0M134 554.4h0M196.6 568.9h0M141.6 595.3h0M133.1 612.2h0M163.7 610.6h0M153.6 580.3h0M133 605.8h0M152.9 603h0M174.8 607.4h0M151.1 597h0M201.8 560.3h0M132.3 623.4h0M143.1 575.5h0M128.8 620.7h0M163.4 569.1h0M210.3 595.8h0M148.3 634.1h0M198.2 617.3h0M204.1 567.8h0M177.5 631.7h0M146.2 603.9h0M210.4 610.6h0M182.8 621.3h0M171.3 560.6h0M128 609.4h0M145.1 622.1h0M158.6 594.7h0M201.1 576.8h0M174.3 594.7h0M186.2 621.5h0M140.9 625.4h0M149.9 610.9h0M133.2 613.7h0M139.2 565.9h0M210.8 602.4h0M147.1 613.3h0M186.1 607h0M162.4 600.6h0M145.9 622.4h0M145 602.8h0M199.6 582.3h0M130 574.8h0M189.2 594.2h0M196.1 612.3h0M191.2 620.8h0M143.9 612.1h0M202.6 551h0M146.8 630.8h0M199.2 590h0M196.5 572.8h0M159.8 617.1h0M209.9 611.6h0M192.7 549.4h0M179.9 622.5h0M175.9 592.8h0M168 597.2h0M211.5 624.8h0M136.6 609.6h0M196.9 635.9h0M207.2 572.2h0M146.5 590.3h0M194.6 583.2h0M155 622.1h0M171.5 623.6h0M138.3 597.5h0M147.2 610.2h0M174.8 593.4h0M154.5 607.4h0M165.7 608.4h0M163.4 614.9h0M133.7 551.1h0M194 584.6h0M200.4 559.5h0M178.8 610.7h0M166.7 577.2h0M191.9 603.8h0M171.9 600h0M169.9 617h0M159.2 625.8h0M139.7 615.7h0M139.1 576.7h0M162.2 632.8h0M204.6 611.7h0M136.6 580.6h0M201.3 551.2h0M133.6 593.5h0M169.8 636.1h0M181.5 545.5h0M207.9 589.7h0M134.3 582.6h0M195.8 617.3h0M210 616.8h0M161.1 611.9h0M124.4 562h0M173.5 580.7h0M163.2 581.9h0M191.7 633.2h0M135.4 605.7h0M211.7 587.5h0M163.7 604h0M148 614.7h0M157.1 615h0M163 610.1h0M123.9 593.6h0M208.6 622.8h0M179.1 603.9h0M210 618.5h0M157 599.2h0M198.5 576.9h0M138.3 624.5h0M166.6 556.7h0M175.1 583.7h0M164.3 612.8h0M197.1 621.7h0M141.5 600.3h0M202.2 604.9h0M135.1 586.3h0M172.2 604.9h0M195.5 561.7h0M149.8 557.3h0M130.8 596.9h0M204.7 611.6h0M132.1 574.7h0M190.3 584.3h0M171 568h0M166 562.7h0M178.3 591h0M196.6 616.7h0M174.6 585h0M200.7 557.8h0M178.2 586.8h0M183.9 586.8h0M175.7 591.2h0M146.7 620.8h0M194.5 608.6h0M141.6 620.4h0M129.4 593.2h0M152.1 566.9h0M203 621.6h0M170.4 629.7h0M147.1 600.2h0M126.4 610.3h0M142.8 607.5h0M197 622.5h0M183.8 591.5h0M141.7 634.1h0M154.9 621.3h0M126 564.8h0M163.5 621.7h0M182.4 621.6h0M190.9 618.4h0M176 601.8h0M128.1 610.4h0M186.7 617h0M136.6 610.4h0M181.3 600.6h0M150.6 610h0M129.3 550.4h0M166 625.4h0M189.9 612.3h0M201.5 623.1h0M181.2 576.4h0M177.9 610.8h0M207.6 570.5h0M203.9 554.1h0M185.9 630.9h0M119.8 587.2h0M166.4 632.7h0M144.3 599.9h0M179.4 636.4h0M204.5 612.5h0M202.7 596h0M172.4 625.7h0M191 571.6h0M163.1 616.9h0M182.4 633h0M130.3 630.6h0M205.3 629.6h0M188.9 594.6h0M159.4 612.3h0M206 618.6h0M122.6 594.9h0M145.4 577.5h0M135.2 628.7h0M186.4 586.4h0M142.2 563.4h0M172.4 585.9h0M193.1 608.3h0M150.1 598.7h0M209.8 561.3h0M182.1 568.2h0M168.7 613.7h0M190.8 578.3h0M121.7 575.8h0M172.3 609.7h0M194.2 612.2h0M145.5 543.1h0M193.1 604.7h0M161.8 548.4h0M147.4 616h0M195.5 616.7h0M147.7 637.9h0M205.7 605.6h0M187.3 617h0M187.2 610.7h0M167.8 631.8h0M164.3 609.2h0M206.2 579.6h0M123.8 585.6h0M137.2 580.2h0M128.1 626.3h0M172.1 547.1h0M137.7 551.2h0M133.3 620h0M143 605.2h0M195.6 627.8h0M211.1 609.9h0M204.5 603.5h0M124.9 573.9h0M125 583.6h0M161.3 627.3h0M207.6 609.3h0M150.8 617.2h0M131.4 575.9h0M168.6 605.3h0M161.4 628.2h0M146.2 591.4h0M139.7 605.6h0M190.1 595.8h0M197.3 557.9h0M152.4 608.8h0M174.6 587.9h0M162.5 557.3h0M206.4 577.5h0M172 576.4h0M167.1 615h0M127.2 557.5h0M149.8 616.8h0M127.4 568.7h0M185.4 576.9h0M187.3 616h0M182.8 576.2h0M188.5 637.1h0M195.4 633h0M176.6 546.7h0M135.7 561.2h0M167.4 629.9h0M144.9 551.2h0M199.5 600.2h0M162.8 599.4h0M196.3 586.1h0M170.5 565.8h0M184.8 608.4h0M144.4 602.1h0M190.9 606.8h0M139.1 624.1h0M154.6 630.2h0M179.4 615.2h0M131.2 630.1h0M191.5 632.3h0M163.3 623.2h0M143.4 608.3h0M181.1 551.3h0M201.1 603h0M159.7 560.3h0M178.3 627.9h0M194.1 582.9h0M167.4 605.9h0M125.4 604.8h0M201.7 553h0M140.2 628.6h0M122.7 562.8h0M177.2 581.4h0M188.7 572.6h0M145.1 622.5h0M186.6 559.5h0M196.3 615.9h0M202.7 620.9h0M177.1 549.2h0M204.1 600.7h0M182.1 603.3h0M209.9 570.9h0M125.7 578.2h0M207.2 575.8h0M193.9 565.2h0M135.2 614.5h0M157.5 592.5h0M136.5 630.1h0M187.7 564.3h0M139.6 608.4h0M139.6 617.6h0M205.7 603.1h0M184.9 589.9h0M146.4 600.5h0M210.2 605.6h0M195.8 569.6h0M139.6 632h0M181.5 610.7h0M150.6 627.5h0M137.6 583.1h0M122.9 613.7h0M132.7 603.7h0M174.7 628.5h0M160.2 564.1h0M174.6 622.4h0M210.2 594.4h0M135.7 551.7h0M206.9 572.4h0M197.2 614.6h0M204.6 600.3h0M150.8 613.2h0M133.1 565.3h0M206.9 599h0M212.6 610h0M148 585.5h0M207.3 562h0M157.4 621.7h0M165.3 586.2h0M196.3 600.2h0M152.9 583h0M169.4 552.8h0M196.8 617.9h0M184.3 588h0M186.9 577.2h0M199.3 614.9h0M183.2 582.8h0M152.4 625.8h0M208.1 609.4h0M199.5 611h0M149.5 595.6h0M166.8 605.5h0M193.8 605.2h0M209.2 588.7h0M186.2 633h0M161.1 617.1h0M196.5 594.9h0M144.5 618.9h0M165.1 591.5h0M127.8 607.9h0M176 562.1h0M151.5 545.8h0M199.4 611.5h0M189.4 546.5h0M208 609.9h0M180.3 614h0M187.6 625.4h0M175.9 568.5h0M146.6 606.8h0M138.3 560.2h0M179.2 547.1h0M176.9 589.8h0M182.7 599.4h0M149 613h0M203.8 567.3h0M126.2 623.9h0M176.1 631.8h0M210.9 595.2h0M133.5 599.4h0M183.5 580.6h0M135.7 617.2h0M188.1 576.4h0M199.1 614.1h0M154.6 618.5h0M178.9 546.2h0M188.2 616.2h0M178.5 618.4h0M178.6 627.3h0M155.2 582.6h0M133.5 599.8h0M183.1 561.7h0M186.2 597.7h0M168.2 631.6h0M135.4 612.6h0M173.6 578.2h0M157.7 546.8h0M121.6 622.5h0M131.8 562.3h0M177.8 636.4h0M135.9 596.2h0M128.5 579.3h0M130.7 631.6h0M205.7 559.9h0M177.5 603.1h0M178.8 547.5h0M190.9 620.7h0M176.3 560.9h0M165 548.4h0M170.9 610h0M199.8 600.4h0M153.6 596.2h0M195.6 567h0M162.6 567.4h0M136.8 609.2h0M181.9 611.6h0M149.4 599.2h0M154.5 619.5h0M152.1 579.3h0M183.7 608.3h0M142.9 613.4h0M178.3 595.5h0M199.8 576.8h0M194.2 584.8h0M149.9 632.7h0M159.3 560.3h0M133.9 612.7h0M165.7 627.3h0M175.9 597.4h0M196.4 578.9h0M161.1 634.3h0M176.8 568.1h0M180.2 617.2h0M143.7 547.2h0M162.6 632.3h0M130.5 586.2h0M169.2 561.1h0M160.5 574.3h0M190.9 603.8h0M160.7 630.4h0M143.9 625.5h0M165.5 582.6h0M141.7 590.1h0M174.8 569.5h0M203.9 612.8h0M175.1 578.5h0M152.5 592.2h0M158.7 586.4h0M200.5 610.9h0M134.7 559h0M127.3 597.8h0M173.3 560.2h0M207.8 591.7h0M211.5 584.9h0M173.5 595.8h0M140.3 636.6h0M141.2 629.1h0M187.5 548h0M181.8 609.5h0M188.1 566.7h0M189.3 602.7h0M182.6 596.7h0M169.7 570.5h0M191.7 623.9h0M129.8 609.5h0M191.8 624h0M127.5 618h0M167.1 549h0M155.5 628.2h0M182.7 611.8h0M210.3 614.1h0M188.1 591.7h0M175.9 631.6h0M197.3 549.4h0M148.5 585.4h0M159.9 579.6h0M211.7 617.9h0M202.6 589.8h0M154.3 566.2h0M144.5 586.8h0M137.4 598.8h0M201.9 621.5h0M184.6 607.7h0M133.8 611.9h0M185.7 632.3h0M206.2 596.4h0M171.4 615.9h0M132.6 602h0M181.6 608.2h0M178.6 616.1h0M142.2 626.1h0M144.1 599.7h0M159.2 610.7h0M211.5 559.5h0M203.3 627.1h0M180 562.6h0M170.8 586.1h0M162.3 635.3h0M162.5 612.7h0M189.9 565.3h0M126.3 606.9h0M142.7 627.8h0M207.2 628.2h0M151.2 623.5h0M203.6 595h0M172.7 556.9h0M206 558.4h0M161.5 617.2h0M176.4 570.6h0M200.4 628.8h0M177.8 601.2h0M152.9 580.2h0M201 580.6h0M173.7 581.1h0M165.2 628.5h0M151.4 629.7h0M152.6 615.3h0M136.7 609.4h0M169.8 562h0M157.2 607h0M188.4 622.5h0M179.9 584.5h0M199.2 634.7h0M157.2 633.6h0M178.9 626.1h0M167.2 598.7h0M131.3 620.1h0M177.9 574.1h0M156.6 583.5h0M149.4 551.4h0M188 553.3h0M170.7 603.1h0M157.8 586h0M196.4 621h0M139.4 623.8h0M154.6 596.9h0M131.9 565.4h0M205.8 556.1h0M142.3 576.5h0M149.5 569.7h0M198.8 577h0M176.5 631.3h0M128.3 593.2h0M134.1 570h0M162.9 609.7h0M136.5 630.7h0M141 565.6h0M186.3 596.4h0M199.9 581.8h0M212.2 570.7h0M139.3 608.2h0M168.9 594.2h0M148.9 619h0M147.7 590.6h0M194.8 561.8h0M200.6 599.9h0M151.5 556.8h0M156.4 574.1h0M201.5 591.2h0M128.8 556.2h0M163.6 562.3h0M201.8 600.6h0M184 568.6h0M173.9 595.6h0M175.3 633h0M147.2 583.3h0M195.1 591.4h0M169.7 607.4h0M124.2 580.1h0M200.3 562.2h0M170.1 605.7h0M153.3 630.4h0M165.9 593.5h0M139.8 548.9h0M167.8 551.7h0M184.3 624.2h0M191.4 628.3h0M167.3 589.7h0M185.4 565.2h0M191.3 622.7h0M160.8 615.8h0M188.6 599.2h0M200.3 612h0M166.9 599.3h0M208.8 589.2h0M126.5 611.4h0M181.5 565.9h0M134.7 612.4h0M173.3 632.5h0M148.2 560.9h0M171.7 627.4h0M189.7 608.1h0M162.3 601.7h0M167.3 600.5h0M178.5 630.9h0M156.6 572.8h0M189.1 606.9h0M210.2 615.6h0M132.7 634.2h0M212.9 613h0M152.2 611.8h0M184.5 603.3h0M174.7 618.4h0M174.8 608.7h0M133.2 551.7h0M179.6 600.4h0M189.8 561.3h0M125.2 594.1h0M207.7 601.9h0M155 611.2h0M165.2 573.2h0M156.9 623.1h0M160.1 580.7h0M154.6 575h0M187.1 598.2h0M124.5 618.8h0M155.8 612.2h0M157.3 626.9h0M162.8 584.5h0M196.8 607.1h0M151.4 624.4h0M144.6 548.7h0M150.1 550.8h0M183.7 545.3h0M184 574.3h0M204 603.7h0M131.7 573.3h0M169.7 620.2h0M145.3 612.9h0M188.4 581.2h0M185.9 585.1h0M134.6 627.9h0M161.1 595h0M178.7 614.4h0M202.9 596.3h0M156.2 583.2h0M210.7 559.5h0M154.7 621.9h0M146.2 594.3h0M190 589.6h0M132.4 604.5h0M192.9 568.3h0M161.7 593.5h0M178.9 562h0M211.5 609.3h0M141.2 548h0M209.3 601.8h0M185.9 602.3h0M187.6 562.3h0M190.7 620.4h0M136.1 551.4h0M137.2 594h0M178.8 605.3h0M168 628.2h0M145.8 606.2h0M176.5 567h0M137.7 592.5h0M198.5 602.2h0M164 600.7h0M131.3 576.7h0M164.5 555.7h0M124.9 623.3h0M171.7 601.5h0M190.4 566.6h0M175.6 620.8h0M180.2 572.6h0M156.3 601.7h0M176.3 590.4h0M177.7 626.9h0M135.1 575.2h0M128.8 624.4h0M192.1 600h0M143.6 586.7h0M147.8 611.3h0M129.2 600.7h0M137.2 582.6h0M143.7 567.5h0M201.1 580.7h0M193.1 635.2h0M131.3 625.2h0M129.1 558.5h0M133.5 600.3h0M163.8 633h0M127.5 549.6h0M136.6 607.1h0M183 545.5h0M180.8 599.2h0M199.3 620.7h0M199 572.6h0M162.3 555.4h0M181.3 564.9h0M136.4 578.2h0M201.3 596.8h0M194.6 610.1h0M124.5 599.6h0M207.9 619.1h0M124.3 610.8h0M201.4 563.5h0M171.2 630.2h0M154.2 586.4h0M177.4 587.1h0M169.9 622.8h0M170.7 587.1h0M147.1 565.9h0M125.8 560.5h0M132.8 613h0M158.6 567.3h0M180.6 610.6h0M183.7 628.7h0M181.9 591.4h0M206.8 570h0M193.4 610.3h0M178.5 601.1h0M160.8 556.8h0M154.9 608.6h0M156.5 556.1h0M143.1 631.3h0M125.9 611.7h0M160.4 595.7h0M149.9 546.7h0M195.4 604.2h0M200 615.4h0M202.2 614h0M211 596.9h0M140.3 600.1h0M161 627h0M145.5 628h0M181.5 605.7h0M128.2 571.6h0M189 612.7h0M195.3 623.2h0M190.9 571.4h0M150.3 594.4h0M134 567.3h0M201.1 622.7h0M140.9 622.8h0M176.1 615.4h0M162.3 614.9h0M157.5 615.5h0M201.8 623.2h0M151.1 561.6h0M208.4 622.7h0M141.3 600.9h0M124.6 553.2h0M144.1 620.6h0M190.2 550.3h0M193.5 619.4h0M180.5 591.8h0M142.7 588.9h0M192.1 549.9h0M201 625.4h0M129.1 623.5h0M178.3 561.6h0M197.6 620.3h0M175.2 588.4h0M193.4 634.5h0M172.3 613h0M132.2 630.8h0M191.8 590.8h0M143.9 599.2h0M181.2 599.7h0M207.1 613h0M156.2 587.4h0M185.6 563.9h0M211.1 602.1h0M192.4 585.3h0M165.5 582.6h0M171.6 599.7h0M147.5 583.6h0M204.5 554.7h0M148.2 581.5h0M198.5 559.8h0M197.8 612.8h0M202.5 567.5h0M149.1 626.9h0M208.8 615.9h0M165.5 632.5h0M166.3 588.2h0M206 569.4h0M204.7 623.1h0M168.1 634.4h0M187.7 589.2h0M183.5 595.7h0M128.6 572.4h0M199.7 620.4h0M135.6 620.8h0M180.5 615.7h0M167.7 557.2h0M199.4 593.4h0M207.9 603.1h0M149.9 586.9h0M154.2 601.2h0M162.1 592h0M185.5 615.1h0M186.1 593.9h0M178 601.1h0M164.5 611.5h0M151.3 585.8h0M211.4 557.3h0M124.7 579h0M178.6 573.5h0M147.2 629.8h0M199.4 594.1h0M211.8 585h0M185.5 620.1h0M145.9 588h0M161.4 557.8h0M194.6 584.2h0M176.4 599.9h0M146.3 544.3h0M202.3 597h0M134.2 611.3h0M130.1 625.9h0M174.9 615.1h0M140.3 632.2h0M167.6 568.4h0M167 616h0M136.8 604.6h0M145.2 592.7h0M206.4 619.3h0M153.2 575.9h0M211.3 614.7h0M153.1 618.1h0M204.3 626.4h0M133 632.2h0M143.5 551.9h0M129.7 607.5h0M205.8 570.5h0M140.2 621.9h0M135.9 610.1h0M164.7 581.2h0M152.6 572.8h0M174.4 634h0M149.8 622.5h0M167.4 571.4h0M142.9 567.5h0M134.2 613.3h0M162.5 596.2h0M137 615.4h0M142.8 632.1h0M154.2 596.4h0M203.3 584.3h0M146.4 604.8h0M154.2 596.4h0M159.9 624.1h0M130.6 580.2h0M202 594.7h0M197.3 601h0M176.8 593.4h0M173.9 625.7h0M182.3 562.3h0M185.5 593.6h0M134.6 589.3h0M175.8 614.1h0M123.3 596.7h0M150.7 581.8h0M197.7 554.3h0M141.2 598h0M140.1 619.7h0M168.4 583.6h0M175.7 566.3h0M153 625.8h0M203.5 561h0M128 551.4h0M159.1 610.8h0M177.6 568.8h0M177.9 583.5h0M170.4 608.9h0M184 550.7h0M199.8 601.8h0M150.2 624.6h0M169.7 555.4h0M138 578.7h0M199 552.5h0M204.3 611.1h0M182.2 576.6h0M172.7 567.9h0M197.1 597.4h0M193.6 597.4h0M161.9 619.6h0M202.3 602.5h0M122.8 603.6h0M179.4 567.4h0M201.8 574.2h0M196.6 594.8h0M140.2 616.8h0M154 586.9h0M143.7 613.5h0M135.1 610.1h0M172.7 631.8h0M140 624h0M183.1 629.2h0M128.1 605.5h0M166.6 571.3h0M177.4 634.5h0M145 604h0M158.5 602.4h0M138.2 604h0M150 606.9h0M139.2 580.3h0M164.9 558.4h0M153.1 603.4h0M188 612.1h0M180.9 630.6h0M154.3 597.4h0M203.7 600.3h0M181.7 571.6h0M207.7 620.5h0M133 590.8h0M145.3 628.7h0M138.4 565h0M202.5 605h0M165.5 577.1h0M145.6 596.1h0M179.8 584.2h0M156.7 553h0M139.6 557.6h0M127.9 616.3h0M141.6 558.8h0M158.3 557h0M141.4 569.3h0M161.9 628h0M155.4 558.6h0M153.2 632.5h0M204 623.8h0M147.3 566.6h0M143.8 580.3h0M158 580h0M193.2 581.4h0M147.8 609.4h0M186.6 614.6h0M137.4 620.5h0M160.9 599.2h0M127.1 572.5h0M205.8 618h0M154.4 556h0M123.6 604.6h0M176.8 581.4h0M175.7 548.3h0M156.1 624.2h0M153 582.2h0M141.9 621.5h0M164 595.7h0M186.5 552.5h0M188.1 545.8h0M125.4 579.3h0M184.8 608.9h0M186.3 572.4h0M172.3 590.1h0M172.8 589.6h0M152.1 628.6h0M207.7 599.6h0M193.8 635.1h0M146.9 607.4h0M139.2 577.4h0M146.5 637.2h0M147.3 548.1h0M160.4 571.7h0M206.6 624h0M169.4 560.1h0M161.2 634h0M122.7 582h0M187.2 591h0M183.6 627.1h0M141.4 602h0M154.9 553.5h0M145.3 584.7h0M196.9 608.2h0M183.1 590.2h0M176.1 551.7h0M129.6 629.6h0M168.7 552.4h0M168 596.5h0M147.2 632.4h0M126.3 628.6h0M168.7 619.8h0M156.2 619.3h0M201.6 630.2h0M163.2 634.7h0M168.1 623.9h0M188.1 546.5h0M204.8 561h0M173.4 551.3h0M158.7 545.2h0M205.1 553.7h0M187.3 549.4h0M143.6 610.8h0M135.4 617.2h0M183.7 589.7h0M173.2 570.7h0M199.6 617.3h0M165.1 632.3h0M165.5 621.5h0M171.7 603.7h0M160.8 626.9h0M197.4 589.2h0M172.5 621h0M170.7 625.8h0M182.7 630.9h0M134.6 630.2h0M169.8 557.8h0M146.4 615.2h0M186.8 593.5h0M206.4 588.4h0M176.9 602.7h0M181.7 557.6h0M187.7 628.5h0M209.7 627.4h0M141.5 626.5h0M142.2 580h0M129 574.8h0M179.3 555.7h0M150.2 594.3h0M137.4 608.5h0M190.1 558.3h0M136.7 609.3h0M180.5 585.1h0M137.5 565.6h0M209.8 624.6h0M122.7 619.1h0M99.3 643.5h0M102.2 587.5h0M125 562.2h0M117.4 642h0M111.3 601.1h0M100 594.9h0M96 624.5h0M104.9 614.5h0M100.7 605.8h0M121.5 571.9h0M110.5 627.9h0M110.2 580.8h0M113.4 611.6h0M109.8 576h0M102.1 579.7h0M117 613.1h0M117.1 623.3h0M122.3 642.6h0M109.7 618.1h0M98.9 614.1h0M123.9 611h0M95.5 584.6h0M99.7 637.8h0M116.2 609.4h0M120.9 564.6h0M123.3 600.5h0M112.9 588.9h0M103.3 573.3h0M95.9 618.7h0M117 628.6h0M114.3 636.3h0M98.5 634.2h0M117.4 643.8h0M123.5 576.3h0M100.6 608.5h0M113.1 594.6h0M107.5 621.8h0M113.5 618.7h0M98.5 566.3h0M121.9 583.4h0M103.8 578.6h0M114.2 566.1h0M102 583.1h0M100.4 600.8h0M123.8 586.4h0M102.7 572.8h0M123.6 628.2h0M120.8 565.5h0M111.7 580.7h0M111.9 618.1h0M95.9 594.4h0M118.1 614.9h0M115.5 566.7h0M112.6 639.6h0M119.4 593.4h0M109.1 630.3h0M106.5 595.5h0M117.2 630.6h0M109.8 562.7h0M113.2 583.6h0M99.6 644.4h0M101 566.2h0M100.5 632.5h0M119.1 592.1h0M124.8 601h0M124.2 584.2h0M111.6 589.6h0M118.5 643.6h0M98.6 599.7h0M94.3 593.5h0M85.7 570.5h0M115.2 613.6h0M113.7 583.6h0M90.9 581.6h0M99.1 611.1h0M113 572.8h0M102 656.7h0M109 637.2h0M100.4 593.5h0M115.5 656.9h0M115 650.6h0M112.7 658.8h0M87 580.4h0M102.6 626.1h0M106.6 641.7h0M84.9 582.9h0M108 599.3h0M115.7 642.2h0M107 646.5h0M121.6 595.6h0M92.9 572.1h0M113.4 645.4h0M113 666.1h0M113.8 576.5h0M101.5 601.7h0M107.3 652.1h0M116.6 648.5h0M123.7 638.7h0M97.4 647.7h0M95.1 587.6h0M89.5 570.9h0M93.1 624.9h0M93.4 642.8h0M97.2 638.2h0M94.2 577h0M88.4 601.2h0M106.8 577h0M107 592.6h0M95.4 640.8h0M111.4 644.1h0M93.8 589.1h0M101.3 579.3h0M86.6 657.3h0M84.7 640.9h0M106.2 635h0M116 598.3h0M123.1 644.7h0M86 619.6h0M83.2 617.5h0M99.2 581h0M110.3 663.8h0M120.2 618.1h0M99.3 617.3h0M104.5 628.5h0M82.4 657.9h0M91.9 627.3h0M120 596.3h0M94.1 570.3h0M119.2 572.9h0M90.3 577.3h0M90.9 580.5h0M96.5 659.7h0M98 577.9h0M100.2 642.6h0M101.8 584.7h0M107.8 593.9h0M94.3 585.3h0M104.9 619.1h0M105.4 625h0M160 533h0M176 532h0M222 532h0M105 545h0M130 541h0" stroke="#c0c0c0" stroke-width="2.1" stroke-linecap="round" fill="none"/>
<path d="M71.8 623.1h0M55.9 649.6h0M75.5 654.4h0M58.8 602.1h0M72.7 631.2h0M63.6 679.8h0M50.5 615.4h0M61.5 659.5h0M60.3 671.8h0M51.6 624.4h0M49.2 627.1h0M68.9 678.8h0M64 618.4h0M59.3 612.7h0M58.9 663.9h0M77.9 650.6h0M49 659.1h0M52.8 622.4h0M52 665.2h0M75 667.2h0M62.1 660.8h0M50 634.6h0M95.7 645h0M50.5 654.1h0M59.8 644.6h0M84.8 665h0M58.1 622.9h0M54.7 656.7h0M51.8 615.1h0M56.1 656.8h0M64.1 611.4h0M57.8 644.7h0M65.3 677.9h0M57.8 662.6h0M59.8 645.1h0M56.4 639.3h0M67 648.8h0M65.4 645.8h0M54 649h0M54.9 673.4h0M48.9 633.1h0M51.7 617.8h0M60.2 674.2h0M64.6 654.7h0M73.2 617.5h0M54.8 668.3h0M54.4 646.5h0M55.2 612.7h0M69.8 656.7h0M85.7 570.2h0M62.9 642.9h0M55.1 674h0M59 613.4h0M67 625.1h0M57 661.8h0M66.4 654.4h0M57.2 676.6h0M60.1 645.6h0M58.6 631.2h0M62.2 661.6h0M50.7 640.3h0M56.1 680.4h0M60.1 647.7h0M49.6 663h0M55.2 650.1h0M64.8 664.2h0M85.1 603h0M60.4 660.5h0M57.2 657.8h0M60.8 676.3h0M49.7 639.4h0M58.4 647.7h0M70.9 679.6h0M67.5 635.9h0M52.7 664.4h0M67.5 644.8h0M63 580.3h0M57.6 657.9h0M51.2 634.5h0M59.3 601.2h0M59 610.9h0M57.3 677.3h0M49.3 676.6h0M71.1 608.3h0M65 615.5h0M56.5 670.2h0M48.9 639.3h0M55.5 633.7h0M66.2 641.2h0M58.9 677.3h0M84.5 632.1h0M58.4 667.9h0M71.7 651.8h0M50.7 676.2h0M54.6 647.8h0M57.9 647h0M59.8 665.2h0M93.9 599.1h0M75.8 635.6h0M59.8 675.3h0M67.6 623h0M57.1 655.1h0M81.6 627.6h0M57.9 629.1h0M59.2 673.5h0M62.2 644.6h0M51.8 625.3h0M78.3 606.6h0M56 674.1h0M69 584.8h0M48.3 635h0M58.4 595.2h0M51.7 634.4h0M54.5 629.6h0M61.7 630.7h0M55.5 655.7h0M53.5 608.2h0M50.3 659.8h0M50.4 632.8h0M62.4 617.2h0M52.7 676.4h0M53.3 637.3h0M61.4 639.2h0M48.4 659.8h0M62 658.4h0M45.8 636.2h0M64.1 658.3h0M50.1 612.9h0M67.5 670.6h0M57.7 602h0M59.1 630.3h0M74.4 639.4h0M54.1 628.8h0M51.7 635.1h0M54.5 653.1h0M60.7 651.9h0M66.2 661.2h0M52.8 634.8h0M58.2 622.8h0M58.6 636.3h0M67.6 627.1h0M55 622.6h0M48.9 663.2h0M61.5 668.4h0M54.7 679.2h0M54.6 593.6h0M50.1 678.7h0M64 637.6h0M60 620.1h0M61.5 647.4h0M65.3 619.2h0M55.2 646.1h0M58.8 669h0M49.4 615.1h0M51.4 632.1h0M69.8 663.1h0M58.4 660.9h0M61.2 674.8h0M55.5 674.6h0M45.8 586.3h0M56.1 630.4h0M51.2 647.6h0M55.8 647.4h0M52.6 644.3h0M58.8 671.7h0M67.5 663h0M64.6 614h0M72.1 665.4h0M49.8 641.2h0M51.1 611.8h0M63.5 669.8h0M63.7 624.8h0M78 634.6h0M65.9 640.2h0M48.5 623.6h0M52.9 614.3h0M56.3 645.8h0M63.3 594.1h0M62.7 653.6h0M55.2 582.6h0M51.6 605h0M50.5 668.4h0M53 660.7h0M57.6 613h0M51.8 651.4h0M49.3 639.2h0M63.2 643.9h0M52.9 634.2h0M61.4 653.9h0M59.3 624.9h0M76.2 615.5h0M64.7 664.3h0M68.7 641.2h0M71.7 620.3h0M54.1 620.1h0M73.5 591.1h0M48.2 610h0M51.2 655h0M48 655.3h0M60.4 678.5h0M68.2 646h0M51.2 623.2h0M49.4 665.6h0M50.4 620.9h0M55.9 673.5h0M50.9 669.2h0M87.2 650.4h0M59 670.5h0M66.7 653.1h0M54.6 647.1h0M67 633.7h0M54.8 675.6h0M75.2 648.5h0M76.9 681.4h0M71.2 649.4h0M65.8 610.2h0M52.9 621.8h0M49.8 664.3h0M82.3 658.4h0M61 670.5h0M71.7 653h0M59.4 667.4h0M58.3 652.1h0M58.3 672.3h0M60.5 631.5h0M54.2 645.5h0M65.6 653.6h0M60.1 614.9h0M57.1 619h0M72.2 612.1h0M50.1 620.6h0M50.9 667.3h0M60.9 615.9h0M52 677.6h0M64 666.8h0M51.4 635.9h0M65.1 657.5h0M63.1 651.4h0M73.5 674.2h0M57.6 615.2h0M74.7 639.7h0M76.3 619h0M55.7 631.7h0M63.6 678.3h0M64.5 668.9h0M53 672.5h0M61 662h0M56.3 614.5h0M55.2 679.1h0M56.2 637.9h0M51 677h0M60.4 667.9h0M82.8 577.2h0M54.6 630.5h0M70.2 613.6h0M77.9 650.9h0M61.1 676.5h0M54.6 655.2h0M60.7 677.6h0M71.7 674.3h0M68.9 643.9h0M49.5 669h0M61.2 669.9h0M57.6 612.1h0M79.3 661.4h0M57.8 652.1h0M53.3 666.5h0M49.2 607.1h0M50.7 674.4h0M52.4 673h0M69.2 670.8h0M85.3 647h0M60.7 672.2h0M60.6 642.6h0M59.6 647.9h0M64.1 641.2h0M89.1 598.8h0M67.5 680.5h0M79.4 634.7h0M81.6 634.1h0M98.4 634.7h0M66.7 670.5h0M51.2 637.6h0M54.9 651.8h0M48 635.9h0M67.4 633.2h0M57.2 649.9h0M51.3 664.4h0M60.1 632h0M78.8 604.4h0M47.2 637.3h0M57.1 631.4h0M61.2 610.9h0M56.2 654.9h0M61.4 630.9h0M62.2 648.6h0M56.6 657.6h0M47.9 647.5h0M68.8 677.2h0M75.9 625.3h0M69.2 672.3h0M59.5 622.4h0M67.9 663.8h0M50.2 676.2h0M78.8 649.5h0M54.3 615.2h0M49 671.5h0M52 586.3h0M62.3 645.4h0M55.8 679.2h0M50.3 636.4h0M51.2 659.1h0M49.6 615.1h0M55.4 627.1h0M75.7 681h0M72 612.8h0M60.8 626.4h0M68.6 672.5h0M53 640h0M54.5 636.8h0M54.7 679h0M55.3 627.3h0M59 643.6h0M52.7 642.6h0M67.4 613.1h0M89.5 633.7h0M55.6 591.4h0M59 631.1h0M47.9 604.6h0M50.5 633.7h0M61.2 657.5h0M63.8 671.4h0M49.2 612.6h0M51 647.8h0M63.3 677h0M59.5 566.5h0M53.9 647.3h0M60.2 630.9h0M47.6 568.8h0M62.9 638.9h0M51 609.6h0M64.5 679.2h0M72.7 594.4h0M52.4 667.7h0M55.8 657.4h0M82.4 647.4h0M53.8 599.9h0M54.3 650.2h0M72.1 659.8h0M47.6 604h0M59.5 653.6h0M58.8 664.5h0M59.2 587.1h0M56.2 623.6h0M94.5 664.3h0M68.3 604.3h0M49.2 601.1h0M64 669h0M63.7 628.4h0M51.7 680.7h0M58.5 610.4h0M82 671.5h0M59.4 599.2h0M52.8 670.9h0M60.9 615.3h0M82 631.1h0M59.3 680.2h0M76.3 667.2h0M55.4 607h0M62.2 624h0M50.6 653.1h0M54 673.4h0M55.2 568.9h0M61 611.4h0M56.8 631.4h0M52.1 678.8h0M57.3 679h0M73.3 590.2h0M63.4 614.5h0M67 660.1h0M62.1 626.7h0M59.6 586.5h0M51.7 661.3h0M55 629.5h0M56 648.4h0M66.6 623.2h0M66.2 663.1h0M60.2 646.6h0M74 661.8h0M68.4 665.6h0M47.9 590.7h0M62.5 675.2h0M66.5 647.5h0M63.8 631h0M57.4 613.8h0M55 667.9h0M58.8 646.4h0M51.3 645.7h0M56.5 617h0M54.6 672.8h0M59.5 648.1h0M54.3 679.6h0M49.5 617.4h0M79.4 634.8h0M75.3 626.4h0M67.5 665.6h0M65.5 608.1h0M57.2 594.1h0M74.2 572.7h0M66.3 621.7h0M51.5 664.2h0M51.6 630.3h0M60.4 622h0M63.8 645.3h0M47.9 669.9h0M55.9 677.5h0M48.3 662.8h0M61.2 672.7h0M56 637.3h0M56 644.9h0M73.1 662.4h0M67.9 644.8h0M67.3 622.2h0M54 660.6h0M49.3 611.2h0M48.4 672h0M64.3 678.1h0M60.4 663.3h0M62.4 628.1h0M55.4 650.7h0M67.8 645.3h0M64.4 654.3h0M61.1 657.9h0M95.2 566.8h0M60.5 679.2h0M49.2 653.5h0M76.7 635.3h0M62.9 637.5h0M63.9 616.5h0M60.5 681.5h0M61.5 623.7h0M67 633.6h0M61 588.7h0M52 624.9h0M93.5 672.2h0M59.2 665.1h0M48.9 667.8h0M58.3 644h0M71.4 605.8h0M59.9 625.3h0M55.7 671.7h0M52.1 642.3h0M46.5 647.5h0M70.3 664h0M59.8 645.5h0M50.7 649.2h0M72.2 644h0M51.6 661.1h0M52.2 677h0M56.6 621.8h0M53.5 633.8h0M61.7 623.4h0M57.3 672.7h0M74.1 647.6h0M60.7 643.5h0M64.3 678.9h0M54.5 645.5h0M77.3 615.7h0M56.6 607.4h0M64.2 658.8h0M59.4 641.6h0M64 655.5h0M93.5 617.7h0M52 660.3h0M53.1 620.4h0M50.2 639h0M57.5 637.9h0M52.2 648.2h0M65.7 569.9h0M49 670.9h0M60.2 679.4h0M55.3 671.7h0M54.1 636.8h0M54.8 626.6h0M90.3 610.9h0M76.4 606.7h0M52 657h0M68.4 634.6h0M78.3 588.7h0M68.7 654h0M48.4 630.7h0M46.4 652h0M63.6 600.3h0M56.7 618.8h0M49.7 635.5h0M90.3 642.4h0M66.8 599h0M50.1 661.3h0M49.9 659h0M51.9 656.3h0M73.3 662.3h0M47.9 624.2h0M56.5 617.2h0M53 639.5h0M61.7 677h0M62.4 655.4h0M58.5 652.6h0M77 652.8h0M49.9 646.2h0M64.6 680.7h0M51 636.7h0M68.5 609.2h0M58.1 655.8h0M67.8 674.2h0M73.7 571.6h0M51.6 603.4h0M58 637.6h0M51.4 663.9h0M53.4 630.5h0M54.5 643.5h0M53.5 609h0M58.6 638.4h0M60.6 635.9h0M50.1 605.2h0M77.1 639.2h0M60.3 669.9h0M54.3 665.4h0M60.2 633.9h0M69.9 654.3h0M51.2 654.5h0M60.7 647.5h0M51 602.2h0M52.5 622.5h0M68.5 627.1h0M46.2 606.8h0M55 667.1h0M54 612.1h0M72.8 635.1h0M53.2 651.8h0M67.4 630.2h0M57.1 625.2h0M47.1 616.9h0M48.9 663.4h0M54.6 663h0M53 654.1h0M74.8 601h0M67.2 675.2h0M52.4 636.5h0M48.6 654h0M61.1 646.3h0M75.8 611.2h0M75.3 639.3h0M57.5 651.7h0M68.5 599.1h0M66.5 617.7h0M67.8 653.6h0M69.8 647h0M47.3 628.4h0M60.9 643.5h0M54.3 634.1h0M63.2 674.2h0M68.8 633.6h0M57.3 649.9h0M64.1 637h0M65.2 650.7h0M54.3 663h0M89.3 672.5h0M61.5 648.5h0M77.6 681.6h0M50.4 630.8h0M58.6 597.8h0M52.7 672.4h0M59.1 645.8h0M57.3 665.3h0M56.7 660.9h0M51.2 624h0M51.6 646.9h0M67.3 660.2h0M65.3 665h0M54.6 661.3h0M65.6 629.4h0M48.2 668h0M57 669.8h0M65.1 621.2h0M70.5 660.1h0M52.6 651.4h0M75.2 651.5h0M57.6 654.1h0M59.2 636.5h0M77.4 653.3h0M56.2 621.4h0M59.3 637.1h0M57.5 668.6h0M67.4 665.1h0M52.8 654h0M54.8 610h0M59.8 678.5h0M62.8 609.8h0M56.9 670.1h0M58.1 661.2h0M85.3 675.2h0M76 671.6h0M75.9 668.7h0M58.5 670.9h0M61.5 667.4h0M47.5 670.5h0M62.1 642.5h0M80.9 606h0M65.1 624.2h0M48.4 643.1h0M62.7 639h0M69 646.3h0M55.1 603.7h0M52.9 668.8h0M53.6 654.7h0M53.5 633.9h0M48.3 664.3h0M64.8 622.3h0M62 657.8h0M55.2 668.1h0M53.2 666.7h0M56.9 667.8h0M60 658.9h0M81.9 639.3h0M47.8 611.1h0M60.6 665.5h0M55.9 630.6h0M49.2 630.3h0M66.4 653.9h0M55.8 601h0M50.3 661.2h0M47.8 641.3h0M54.5 655.4h0M52.5 671.5h0M58.8 605.8h0M57.5 615.7h0M61.8 674.9h0M62.3 678.7h0M54.7 613.3h0M85.7 617h0M55.9 665.6h0M49.1 634.1h0M49.3 646.1h0M58.4 622.1h0M52.9 660.6h0M59.6 656.9h0M50.8 645.5h0M56.3 675.4h0M62.5 675.8h0M57.2 633.4h0M74.3 654.2h0M59.7 617h0M82.2 651.4h0M73 587.3h0M67.7 624h0M74.8 611.5h0M58.7 680.8h0M70.2 667.6h0M63.6 647.3h0M57 638.1h0M57.2 665.6h0M58.6 660.9h0M57.1 634.1h0M56.8 629.5h0M49.8 616.4h0M50.9 675.4h0M78.5 591h0M72.8 680.6h0M49.8 658.7h0M61.6 666.5h0M48.8 629.9h0M61.8 644.1h0M80.5 640.1h0M57.1 680.8h0M51.9 647.6h0M56.3 597.2h0M57.7 640.6h0M58.9 650.5h0M77.6 635.9h0M54.7 650.8h0M50.4 680.6h0M67.2 652.7h0M67.4 585.9h0M76.5 636h0M47.6 630.3h0M48.3 603.7h0M52.2 674.7h0M60.3 612h0M52.2 630.7h0M53.6 610.5h0M89.1 679h0M54.7 646.6h0M60.8 645.9h0M51 584.2h0M54.5 638.8h0M49.3 674h0M50 643.7h0M77.8 621.3h0M59.7 677.7h0M75.6 646.2h0M75.3 660.3h0M53 653.3h0M49.3 620.8h0M67.7 627.5h0M60.6 622.7h0M54.7 671.9h0M58.6 627.5h0M64.6 648.9h0M55.5 598.9h0M77.2 621h0M55.2 625.8h0M61.3 664.4h0M53.6 625.3h0M64.8 647.2h0M60.5 603h0M76.9 666.4h0M54.7 645.1h0M73 651.6h0M66.3 648.4h0M60 665.2h0M57 674.5h0M53.4 668.3h0M65 659h0M54.7 618.7h0M59.7 648.4h0M53.6 639.4h0M54.5 647.7h0M53.3 594.8h0M59.2 602.8h0M61.7 618.2h0M48.2 622.6h0M50 673.9h0M56.6 664.4h0M57 623.4h0M60.7 637.3h0M55.6 666.1h0M51.3 605.5h0M61.3 583h0M71.3 664.4h0M62.5 664.8h0M52.3 672.8h0M64.2 610.9h0M64.3 667.1h0M52.9 676h0M66.3 648.1h0M72.2 677.5h0M57.3 667.4h0M62.2 675.5h0M54.3 646h0M50.6 663.4h0M51.6 677h0M63.1 641.9h0M53.5 668.9h0M52.5 677.1h0M48.6 610.8h0M48.5 626.5h0M71.3 667.8h0M59.1 668.1h0M46.2 678.8h0M56.4 603.6h0M70 643.3h0M60.8 652.5h0M53.8 647.9h0M61.6 680.6h0M56.4 676.9h0M50.2 658.1h0M62.8 670.2h0M60.5 668h0M49.5 613.2h0M58.9 676.8h0M59.6 645.8h0M63.8 663.7h0M64.8 633.8h0M50.2 642.1h0M57.7 622.2h0M52.4 673.4h0M66.4 642h0M71.9 601.6h0M67.1 670.6h0M54.3 621.6h0M80.5 615.6h0M53.3 653h0M51.7 633.1h0M48.5 673.6h0M51.2 674.4h0M62 611.1h0M55.4 612.8h0M67.3 622.1h0M59.8 631.6h0M79.5 655.5h0M50.4 674.6h0M63.6 667.7h0M47.8 660h0M67.6 598.7h0M57.5 606.2h0M74.6 636.6h0M53.4 654.1h0M48.9 641.5h0M71.3 652.5h0M59.8 654.3h0M50.5 618.9h0M61.3 641.3h0M53.9 652.4h0M60.8 669h0M58.3 635h0M54.6 636.1h0M57.7 613.3h0M51.9 652.3h0M49.7 650.6h0M60.8 645.1h0M56.1 652h0M57.9 633h0M63.6 637.4h0M60.9 670.8h0M55.2 650.8h0M56.1 668.3h0M58 611.1h0M55.6 612.6h0M59.2 670.5h0M63.2 665.3h0M49.8 612.2h0M61.4 607.4h0M48.8 662.1h0M62.8 639.8h0M62.6 628.9h0M54.4 664.2h0M53.6 647.9h0M59.5 645.6h0M62.1 670.2h0M64.5 609.7h0M64.6 676.6h0M83.9 611.7h0M51.8 607.8h0M61.2 637.4h0M57.6 643.2h0M54 638.2h0M55.8 669.4h0M54 650.9h0M52.2 626.4h0M55.9 640.4h0M49.9 626.2h0M61.9 597.8h0M72.6 614.9h0M48.1 670.7h0M82.2 668.3h0M57.1 654.2h0M46.1 668.6h0M62.3 671.4h0M55.8 612.9h0M51.3 609.9h0M54.5 642.9h0M59.1 650.2h0M56.2 664.7h0M73.9 597.4h0M58.9 645.2h0M60.6 640.9h0M94.9 622.7h0M52.9 658.2h0M54.4 665.6h0M80.4 590.7h0M75.6 644.2h0M59 607.5h0M52.5 627h0M53.6 640.7h0M65.5 649.5h0M49.7 603.4h0M68.1 628.2h0M64.5 674.5h0M60.9 637.1h0M62 610.4h0M51.4 674.4h0M55.7 654.8h0M54.4 662.9h0M59.9 646.6h0M68.9 607h0M56.2 675.4h0M97.3 621.2h0M66.1 642.7h0M73 654.7h0M56.2 650.9h0M64.7 634h0M54.6 612.2h0M65.1 652.7h0M50.8 628.5h0M56.4 623.5h0M54.4 624.7h0M69.9 611.8h0M63.9 669h0M57.1 674.5h0M49.3 644.6h0M56.7 646.3h0M51.6 603.3h0M51.8 604.1h0M79.5 644.4h0M63.9 678.7h0M49.2 663.2h0M49.4 650.1h0M61.3 647.4h0M51.2 627.9h0M84.6 643.5h0M53 605.7h0M52.2 635.6h0M58.2 650.3h0M50.2 634.7h0M61.7 639h0M50.5 643.8h0M65.1 673.5h0M61.4 629h0M53.1 639.7h0M56.1 633.3h0M58.7 675.7h0M77.2 626.8h0M59.9 650.1h0M46.9 599.2h0M84.6 642.5h0M59.6 620.4h0M49.2 651.6h0M84.5 654.6h0M48.4 649.1h0M61.9 664.6h0M58.2 634.3h0M52.1 680.4h0M67.9 673.8h0M58.3 634.2h0M54.2 645.9h0M55.5 643.8h0M59.4 637.4h0M60.2 634.4h0M73 638.9h0M57.4 662h0M62.6 644.9h0M65.8 610.8h0M59.6 668.2h0M78 667.2h0M92.5 603.3h0M46.3 586.8h0M78.4 629.5h0M46.4 659.7h0M51.1 612.6h0M55 613.6h0M53.4 632.6h0M99.7 578.4h0M50.9 663.6h0M52.1 616h0M62.4 635h0M59.9 644.6h0M70.9 671h0M57.4 677h0M57.4 595.9h0M56.3 624.7h0M47.9 651.4h0M74.1 622.1h0M64 654.9h0M61.7 664.7h0M59.1 657.7h0M47.5 634.9h0M59.5 635.3h0M72.2 653.1h0M52.6 668.5h0M61.6 651h0M55.5 679.3h0M49.8 664.2h0M92.1 638.4h0M52.9 643.5h0M53.2 599.1h0M55.8 643.9h0M58 618.7h0M85.2 609.4h0M59.2 662.2h0M52.9 626.6h0M86.1 655.8h0M55.4 624.2h0M57.5 677.1h0M49.8 621.7h0M50.7 633.2h0M58.3 639.7h0M62.1 676.9h0M72.1 668.3h0M53.4 677h0M80.6 628.8h0M55.9 678.9h0M53.5 675.3h0M63.7 659.8h0M51.6 628.1h0M49.4 629.7h0M64.1 617.3h0M51.3 619.2h0M50 653h0M54.7 664.2h0M66.6 667.5h0M54.1 578.4h0M67 660.5h0M86.4 678.6h0M68.3 679.2h0M63.3 621.2h0M50.7 664.3h0M61.4 646.5h0M76.8 625.1h0M98.2 628h0M60.1 669.8h0M50.8 661.9h0M47.8 621.4h0M58.4 650.2h0M47.5 625.7h0M54.9 660.4h0M77.7 645.2h0M68.3 660.7h0M58.4 616.7h0M86.8 655.5h0M56.1 633.9h0M72 624.7h0M49.9 672.4h0M69.9 608.8h0M51 655.5h0M56 665.8h0M68.2 610h0M57.6 608.5h0M83.2 605.7h0M54.4 601.9h0M60.7 667.2h0M84.6 643h0M50 609.8h0M48.3 651.8h0M48.7 645.2h0M59.5 632.4h0M75.5 660.7h0M64.8 663.2h0M63.4 668.9h0M70.5 635.4h0M54.4 615.2h0M59.2 664.3h0M57 679.3h0M52.1 622.7h0M87.2 612.1h0M62.3 657.5h0M74.8 677.6h0M50.2 612.7h0M61.5 611.8h0M50.2 655.6h0M50.9 609h0M61.1 670.6h0M63.3 631.6h0M68.2 681.1h0M53.9 605.9h0M54 638.7h0M56.7 609.3h0M64.5 649.2h0M55 672.4h0M47.7 667.9h0M70.9 597.4h0M75.6 621.5h0M60.7 625.1h0M57.4 618.9h0M51.2 656.7h0M77 655.3h0M47.6 675.9h0M53.5 671.4h0M54 670.2h0M47.9 628.8h0M50.4 584.6h0M48.2 608h0M50.5 625.3h0M55.9 658.3h0M60.6 636h0M81.6 631.8h0M83.2 612.3h0M47.6 622.2h0M52.7 639h0M60.7 617.4h0M63.9 605.5h0M62 648h0M48.8 633.8h0M52.7 659.9h0M59.3 609.9h0M56.1 615.3h0M68 612.2h0M57.5 621.6h0M59.9 639h0M86.7 666.4h0M54.4 627.9h0M46.1 607.7h0M62.6 638.7h0M49.6 623.8h0M83.6 643.5h0M55.8 659.6h0M47.5 619.8h0M52.7 592.2h0M59.3 646.8h0M53 585h0M70.4 628h0M78.6 664.3h0M49.6 623.4h0M55.6 603.4h0M49.2 650.3h0M60.3 617.3h0M55.1 661.7h0M51.5 638.7h0M59.9 678.4h0M50.2 643.4h0M83.7 657h0M64.3 620.9h0M50.3 577.6h0M73.4 629.9h0M75.1 675.2h0M61.6 615.7h0M60.9 642.4h0M51.2 640.7h0M51.5 639.6h0M60.3 654.8h0M57.6 613.2h0M53.4 667.6h0M53.3 651.5h0M59 674.3h0M50.6 625.2h0M51.7 678.5h0M54.4 660.7h0M60.7 636.2h0M53.4 647.4h0M55.3 662.5h0M56 630h0M48.2 665.2h0M68.7 649h0M62.2 657.2h0M51.7 670.2h0M63 634h0M50.3 639.1h0M81.5 650.6h0M57.3 624.4h0M64.9 626.6h0M63.8 628.5h0M49.5 648.7h0M51.4 611.6h0M52.6 647h0M58.7 677.5h0M81.5 627.2h0M49.1 652.6h0M64.2 635.9h0M55.9 606.5h0M78.8 637.6h0M57.7 642.7h0M60.4 635.8h0M52 661.1h0M53.6 619h0M63.3 612.1h0M51 669.3h0M57.4 653.8h0M60.7 642.1h0M67.6 657.3h0M62.1 607.1h0M71.7 659.6h0M70.5 662.8h0M51.9 607.4h0M49.2 663.7h0M52 636.7h0M74.7 601.7h0M61.8 628.9h0M57.5 658.5h0M52.6 591.9h0M57.9 629.1h0M75.2 629.5h0M63.7 660.6h0M54.4 651.4h0M55.1 619.1h0M60.4 628.1h0M69.3 662.3h0M49.4 631.5h0M49.8 637.6h0M63.4 645.6h0M48.1 640.1h0M84.6 647.1h0M59.7 668.1h0M60.9 673.5h0M60.7 666.8h0M84.4 630.1h0M48.4 609.5h0M55.5 644.3h0M48.4 659.1h0M66 663.4h0M65.8 621.1h0M66.8 681.6h0M85.8 673.6h0M65.5 633.5h0M58.5 651.7h0M48 632.1h0M70.2 641.9h0M66.4 633.8h0M57.6 606h0M85.5 598.5h0M53.3 642.9h0M75 677.1h0M50 591.7h0M57 644.8h0M69.2 673.1h0M60.6 596h0M59.6 661.4h0M48.9 613h0M55.6 675.6h0M55.2 673.3h0M57 678.6h0M72.5 655.9h0M47.5 658.7h0M55.3 672.3h0M56.7 609.5h0M77.1 612.7h0M60.4 614.6h0M53.8 610.2h0M51.2 612.8h0M52.9 603.9h0M48 661.5h0M49.5 627.7h0M59.3 660h0M67.7 667.7h0M50.5 642.6h0M57.2 613.5h0M52.7 630.1h0M49.1 619.6h0M47.5 664.1h0M58.5 680.6h0M52.3 607h0M62 662.4h0M98.3 673.4h0M55.4 632.8h0M48.8 618.4h0M51.9 645.2h0M60.8 673.6h0M52.3 624.4h0M65.2 661.6h0M57.4 624.3h0M48.1 648.6h0M55.6 644.7h0M52.8 647.5h0M49.7 647.2h0M57.9 669.1h0M82.6 625.9h0M55.5 661.1h0M62.2 667.5h0M54.1 642.5h0M57.8 661h0M58.3 673.1h0M55.1 636.2h0M58.2 632.9h0M54.7 650.2h0M49.7 666.5h0M51.2 649.5h0M51.5 658.1h0M55.7 624.3h0M67.4 674.5h0M58.6 637.7h0M56.8 624.7h0M76.3 617.4h0M57.4 604.5h0M49.1 617.2h0M56 634.2h0M57.1 662.7h0M54.7 663h0M56.9 665.1h0M62 641.2h0M58.9 611.5h0M50.6 587h0M67.6 634.4h0M56.1 630.2h0M62.6 642h0M54.9 673.2h0M63.7 622.2h0M60.4 617.5h0M52.5 672.2h0M69.5 656.7h0M56.2 665.2h0M74.7 680.5h0M57.3 622.1h0M54.9 653h0M74.9 677.6h0M57.7 642.6h0M64.1 643.5h0M63.5 640.4h0M48 632.1h0M77 618.2h0M59 639.4h0M61.4 607.1h0M59.7 672.2h0M58.9 625.4h0M67.8 622.1h0M53.6 611.8h0M48.4 680h0M60.3 645.3h0M53.3 657.7h0M56.8 617.7h0M54.7 606.4h0M56.6 631.7h0M55.3 653h0M60.3 648h0M52.9 587.1h0M61.6 676.1h0M56.6 605.8h0M53.6 624.3h0M59.9 615.5h0M85.8 612.8h0M49.8 608.3h0M54.2 681.7h0M58.9 639.2h0M74.7 637.7h0M67.6 578.9h0M62 676.7h0M68.3 630.1h0M61.7 655.7h0M85.9 676.4h0M57.2 680.9h0M52 618.2h0M50.3 625h0M49.1 643.7h0M57.8 630.4h0M76 673.4h0M60.3 676.5h0M57 633.9h0M50.3 629.4h0M72.4 601.3h0M57.8 637.1h0M46.7 649.2h0M50.5 662.6h0M71.7 609.8h0M47.6 661.2h0M51 601.3h0M55.6 651.6h0M54.6 621.2h0M61.1 610.8h0M52.8 612.3h0M66.7 628h0M59.3 651h0M54.7 611h0M57.2 627h0M54.1 652.7h0M54 633.8h0M49.2 596.2h0M68.2 656.6h0M64.4 634.2h0M54.2 638.7h0M52.5 657h0M49.8 616.9h0M53.8 609.8h0M77 641.8h0M59.2 638.5h0M54.7 641.3h0M63.3 661h0M83 671.6h0M58.2 676.4h0M54.1 643.5h0M47.9 662.6h0M85.9 610.2h0M59 633.3h0M64.1 634.9h0M76.9 621.3h0M55.6 626.1h0M49.2 632.9h0M88 661h0M61.3 648.2h0M52.8 647.5h0M49.4 677h0M63.1 650.7h0M55.8 629.4h0M73.5 652.6h0M63.2 673.7h0M66.1 655.2h0M58.3 664.1h0M53.3 662.8h0M53.7 651.4h0M50 677.6h0M65.4 627.4h0M49.3 640.9h0M60.4 668.3h0M52.4 621.1h0M74.4 665.7h0M85.8 657.4h0M56.5 620.3h0M58.6 616.9h0M62.9 661.3h0M49.4 654.5h0M54.2 616.6h0M48.2 673.4h0M48.5 649.3h0M61.6 646.5h0M77.5 638.4h0M57.9 649.3h0M55.2 655.2h0M54.3 644.6h0M48.3 629.8h0M64.8 665.7h0M49.1 605.3h0M55 617.7h0M57.6 640h0M49 631.4h0M49.9 651.3h0M48.5 639.9h0M60.3 621.2h0M59.6 635.2h0M73.7 591.7h0M51.6 650.3h0M98.5 617.7h0M71.8 611.8h0M59.5 665.2h0M81 622.5h0M85.2 658.9h0M59.6 678.6h0M48.9 649.8h0M67.2 651.5h0M50.9 671.6h0M55.8 624.6h0M65.8 652.4h0M56 650.7h0M62.4 661.8h0M57.4 619.9h0M54.1 670.8h0M54.7 647.7h0M86.4 658.9h0M91 680.7h0M54.8 609.8h0M49.2 622.5h0M50 638.3h0M78.4 615.4h0M48.5 667h0M56.8 650.8h0M64.7 635.6h0M50.4 679.7h0M78.8 623.6h0M61.1 649.2h0M63.9 674.2h0M57 677.8h0M61.1 637.1h0M60.8 670.7h0M57 664.1h0M52.9 634.7h0M49.5 613.7h0M89.9 617.9h0M63.5 620.9h0M59.5 624.2h0M64.1 637.2h0M46.4 661.2h0M58.4 613.7h0M68.7 642.4h0M50 631.4h0M56.3 608.8h0M50.6 612.2h0M48.4 638.7h0M51 592.9h0M51.4 641h0M60.8 675.6h0M54.4 678.8h0M66.6 585.1h0M55.6 628h0M55.6 579.6h0M91.2 594.8h0M58 671h0M68.3 650h0M52.2 619.9h0M51.7 636.8h0M59.9 623h0M52.9 588.4h0M56.1 645.9h0M53.1 667.1h0M60.3 663h0M56.6 636.4h0M54.4 659.4h0M86.5 666.1h0M53.1 605.8h0M47.8 641.2h0M95.8 643.4h0M57.7 648.6h0M68.6 658.4h0M55.4 612.3h0M49.8 637.7h0M62.4 627.7h0M59.4 656h0M80.4 632h0M52.1 626.5h0M81.5 675.1h0M62.8 620.8h0M61.1 673.3h0M58.2 655h0M66.8 605.8h0M63.4 622.2h0M61 672.3h0M49.6 594.8h0M64.1 630.7h0M58.5 672.9h0M49.3 642.3h0M74.5 619.1h0M47.8 674h0M51.1 653.7h0M47.5 647.8h0M53.9 637.4h0M69.4 627.9h0M60.6 673.1h0M69 676.7h0M54.6 650.6h0M56.2 638.7h0M67.8 668h0M55.4 627.1h0M47.2 615.6h0M56.6 655.8h0M79 622.2h0M54 665.4h0M60.6 649.7h0M54 617.3h0M55.9 606.5h0M66.1 648h0M56.5 620h0M67.7 620.2h0M53.2 634.1h0M51.6 607.7h0M82.6 609.1h0M54.9 677.6h0M72.7 629.8h0M66.8 634h0M51 635.2h0M64.9 632.9h0M64.3 655.2h0M84.2 574.7h0M66.8 613.4h0M62.5 638.1h0M55.6 572h0M90.5 669.8h0M48 635.2h0M51.3 673.8h0M51.7 672h0M58.7 661h0M55.9 637.6h0M65 633.8h0M51 674.5h0M67 668.6h0M65.5 645.6h0M52.2 651h0M50.8 643.4h0M73.6 594.5h0M74.8 618.2h0M56.1 633.1h0M66.3 633h0M50.1 613.3h0M55.7 670.2h0M52.5 677.3h0M48.7 677.5h0M49.9 620.3h0M49.2 621.3h0M53 677.2h0M59.9 612.1h0M47.9 572.3h0M52 631.3h0M52.6 677.4h0M63.4 661.1h0M63.9 648.5h0M51.4 625.1h0M55.6 672.8h0M65.7 611.7h0M52.4 635h0M49.2 591.2h0M57 625.9h0M53 653.7h0M59.8 609.6h0M81.9 628.6h0M56.9 605.7h0M53.8 644.5h0M54.3 649.5h0M55 675.7h0M69.3 623.5h0M51.5 650.3h0M50.5 668.8h0M54.3 633.3h0M54.5 634h0M71.1 654.1h0M58.1 610.5h0M52 591.3h0M58 668.8h0M62.5 599.6h0M67.7 675.3h0M59.3 678.4h0M61.4 670.3h0M71.4 649.5h0M75.3 604.7h0M79.6 665.8h0M55.5 652.3h0M62.1 675.2h0M68 659.9h0M76.3 650.4h0M54.9 659.3h0M60.5 643.9h0M58.6 664.6h0M90.4 673.9h0M57.3 658.1h0M60.1 621.5h0M53.9 660.5h0M51.6 681h0M59.2 654.2h0M63.5 638.4h0M59.7 620.4h0M61.1 678.7h0M47.2 675.3h0M54.4 643.2h0M61.5 631.9h0M77.6 677.8h0M76.9 620.4h0M48.5 673.2h0M56.8 662.3h0M98.7 663.5h0M59.2 636.3h0M59 640.2h0M52.9 628.9h0M65.8 668.9h0M60.8 596.8h0M49.1 634.4h0M56.8 656.9h0M60.8 623.2h0M55.9 640.3h0M59.5 617.8h0M53.4 610.2h0M64.1 677.5h0M59.5 624.9h0M54.5 615.7h0M97.8 631.6h0M55.7 669.9h0M57.1 659.1h0M78 677.8h0M57.4 638.6h0M58.9 605.7h0M65.7 597h0M67.2 626.1h0M54.7 613.2h0M76.1 623.5h0M74.7 639.3h0M68.4 597.3h0M64.4 658.2h0M49.3 671h0M85 600.9h0M55.4 635.6h0M53.5 627.4h0M51.9 604h0M62 659.3h0M45.9 675.1h0M52.6 659.1h0M73.7 646.9h0M55.4 617.1h0M60.8 656.1h0M59.9 662h0M92.5 644.7h0M58.9 634.1h0M65 598.7h0M62 680.9h0M83.7 594.4h0M59.6 631.1h0M65.5 580.2h0M66.1 626.5h0M52.5 610.6h0M59.6 620.2h0M55.8 639.7h0M84.8 669.6h0M65.4 679.4h0M57.9 680.7h0M71.8 597h0M53.1 630.9h0M74.1 623.1h0M53 666.3h0M50.5 612.4h0M48.3 665.2h0M68.3 649.8h0M52.6 638.8h0M50.9 622.8h0M53.7 677.2h0M61.1 634.7h0M63.5 647.7h0M58.2 651.8h0M55.9 645.1h0M61 643.2h0M66.6 669.2h0M66.4 620.3h0M49.1 654h0M60.3 677h0M84.9 611.3h0M57 615.1h0M63.9 648.1h0M64.5 676h0M54.1 633.9h0M62.2 650.1h0M56 620.4h0M63.8 616.2h0M58.8 675.6h0M62.7 602.1h0M56.9 674.8h0M56.1 654.4h0M49.4 667.5h0M48.2 651.6h0M56.7 622.1h0M49.1 638.9h0M63 648.7h0M50.2 620.7h0M58.3 664.9h0M48 653.1h0M62.3 678.4h0M49.6 641.5h0M58.4 647.2h0M56.4 650.2h0M49.4 671.3h0M66.5 648.2h0M75.4 598.3h0M50.5 678.8h0M63.4 643.7h0M49.9 655.4h0M58.3 641.7h0M53 656.6h0M47.8 619.5h0M62.6 631.7h0M61.7 680h0M71.8 622.2h0M52.8 640.4h0M48.4 656h0M72.8 637.9h0M51.1 637.8h0M68.7 666h0M58 633.9h0M60.9 626.9h0M50.2 677h0M47.9 617.9h0M60.3 679.2h0M58 657.4h0M58.6 624.9h0M50.6 630.4h0M49.4 619.1h0M72.1 645.3h0M54.4 602.4h0M67.1 661.2h0M54.2 664.2h0M47.3 675.4h0M65.5 641.2h0M56.7 651.9h0M47.9 639.4h0M84.9 639.9h0M58.1 673.3h0M55.2 634.2h0M72 665h0M57.3 663.6h0M57.1 637.1h0M54.1 657.5h0M53.3 628.4h0M60.4 669.6h0M55.8 608.3h0M59.6 613.4h0M60.7 678.1h0M57 610.7h0M60.1 631.3h0M58.2 612.1h0M60.7 644.1h0M59.1 618.1h0M55.6 634.5h0M55.6 646.7h0M63.3 670.8h0M68 648.7h0M51.8 629h0M54.8 632.1h0M61.8 679.3h0M68.3 650.1h0M77.4 655.4h0M54.5 617.1h0M57 677.4h0M57.3 645.9h0M65.6 649.5h0M56.1 634.3h0M60.3 631.5h0M60.9 650.7h0M52.5 677.8h0M58.1 621.7h0M57.8 655.7h0M50 646.8h0M53.6 637.6h0M69.6 675.1h0M48.5 596.3h0M63.9 622.9h0M85.8 617.3h0M73.3 665.3h0M48.1 677.8h0M59.2 674.5h0M53.1 615.8h0M64 659.1h0M61.8 665.9h0M58.5 622.5h0M87.7 638.9h0M51.2 662h0M67.9 603.6h0M73.6 635.6h0M56 582.3h0M72.1 601.6h0M63.6 671.3h0M53 610.8h0M54.8 676.9h0M61.1 623h0M66.8 633.8h0M65.5 621h0M65.3 632.8h0M50.7 654h0M53.3 595.8h0M79.1 659.7h0M62.3 679.5h0M56.9 646.7h0M55.8 661.9h0M64.4 659.6h0M57.4 639.8h0M58.8 680.3h0M61.3 655.8h0M58.9 643.3h0M60.1 653.7h0M54.2 667h0M47.3 674.6h0M93.7 586.2h0M51.2 629.7h0M61.2 633.6h0M59.5 679.8h0M49.1 676.7h0M80.5 623.3h0M56.3 633h0M58.7 618.6h0M79.7 657.3h0M59 653.5h0M52.9 673.3h0M54.3 650.6h0M51.1 662.5h0M70 651h0M48.6 667.5h0M59.6 646.4h0M56.4 654.5h0M77.1 673.6h0M51.4 643.7h0M73.6 617.9h0M48 615.7h0M55.9 629.9h0M70.9 658.2h0M60.8 640.8h0M60.4 642.8h0M62.8 644.1h0M68.3 595.8h0M60.8 668.7h0M47.5 665.5h0M54.9 634.6h0M60.1 638.4h0M60.4 648.7h0M60.6 667.7h0M59.7 641.4h0M61.6 649h0M54.5 635.3h0M62.8 680.3h0M48.3 639.9h0M65.9 646.9h0M57.3 677.7h0M50.4 661h0M71.1 648.8h0M66 625h0M52.5 668.4h0M89.6 671.5h0M73.8 604.9h0M52.7 598.3h0M59.2 646.2h0M62.2 632.7h0M51.4 653.9h0M55.2 631h0M68.3 641.2h0M54.9 667.7h0M79.3 666.4h0M54.3 631.1h0M56.2 637h0M58 643.7h0M57.5 676.6h0M54.1 635.6h0M64.4 641.2h0M54.6 609.9h0M65.5 588.8h0M61.8 647.2h0M56.7 584.4h0M65 671.2h0M48 652.8h0M53.8 611.2h0M71.3 593h0M58.3 644.6h0M50 612.9h0M62.9 619.3h0M54.4 621.1h0M50.5 658.5h0M67.2 640.1h0M47.8 678.9h0M52.3 674.2h0M48.8 637.9h0M59.2 630h0M53.2 644.3h0M50.8 662.7h0M54.3 646.5h0M63.9 632h0M65 657h0M48.3 663.3h0M66.2 619.8h0M68.8 600.4h0M66 678.9h0M56.9 644.5h0M64.5 643.5h0M54.8 616.3h0M71.3 603.7h0M65 649.8h0M50.4 612.2h0M52.7 639.4h0M56.2 627.1h0M81.4 657.2h0M53.7 615.1h0M65 668.8h0M54.2 631.1h0M58.7 636.5h0M80.1 658.7h0M51.2 648.1h0M50.4 675.2h0M74.1 636.5h0M47.7 678h0M51.6 618.6h0M58.7 623.9h0M58.5 608.6h0M72.1 649.5h0M61.7 671.4h0M59.3 657.1h0M50.5 655.6h0M70.9 659.8h0M69.2 637.1h0M50.5 633.7h0M66.3 666.1h0M50.8 603.1h0M52.4 610.4h0M60.8 680.1h0M51.8 641.8h0M80.5 679.9h0M57.6 617.1h0M67.8 658.5h0M55.7 626.5h0M53.5 599.6h0M67.4 609.3h0M48.3 598.2h0M48 650.1h0M58.4 631.4h0M71.7 668.1h0M54.8 628.3h0M77.1 632.6h0M63.9 657.4h0M56.2 638.8h0M65.3 660.3h0M56.1 667.9h0M70.5 641.5h0M90.2 626.4h0M64.5 663.6h0M49.3 632.8h0M63.5 634.9h0M49.6 648.8h0M61.1 659.1h0M70.7 658.7h0M54.3 661h0M62.9 652.8h0M61.5 614.8h0M72.3 626.7h0M57.2 641.2h0M52.9 625.4h0M63.5 612.7h0M49.1 673h0M70.8 677.9h0M54.7 603.5h0M77.9 599h0M55.5 664.5h0M49.8 612.2h0M57.1 651.4h0M58.7 664.3h0M58.7 652.7h0M56 630.1h0M60.7 585.3h0M51.2 662.3h0M59 668.5h0M67.1 673.4h0M59.7 646.5h0M59.2 637h0M56.1 634.5h0M48.9 623.5h0M57.7 674.8h0M53.1 610.8h0M76.9 610.6h0M60.9 678.9h0M76.3 640.3h0M71.3 567.9h0M51.9 678.6h0M48.8 643.8h0M60.9 662.2h0M57.1 644.4h0M52.3 641.8h0M63.4 627h0M51 635.1h0M55.2 674.2h0M63.3 625h0M59.7 652.7h0M50.9 619.7h0M50.1 667h0M46 637.1h0M57.5 652.4h0M71.2 673.6h0M52.3 636.5h0M55.2 625.7h0M49.7 606.6h0M50 642.9h0M55.3 674.6h0M64.7 639.6h0M50.6 681.1h0M58.4 609.5h0M52.6 621.4h0M62 666.8h0M63.5 671.7h0M75.3 647.4h0M54.4 656.8h0M58.5 668.5h0M47.9 608.3h0M54.6 633h0M51.2 627.3h0M60.6 676h0M48.8 640.7h0M57.8 668.1h0M51.4 667.8h0M66.9 632.6h0M89 646.7h0M53.6 608.3h0M53.6 659h0M94.4 648.4h0M56 631.4h0M51.8 604.9h0M53.1 623.5h0M68.7 611.2h0M48.5 665.8h0M50.8 670h0M50.2 576.5h0M60.3 651.6h0M63.9 618.1h0M61 663h0M54.9 631.8h0M67.6 659.6h0M57.3 642.3h0M54 640.2h0M51.7 662.1h0M46 611.6h0M53.5 655.6h0M60.6 653h0M52.6 662.2h0M83.9 669.6h0M73.2 638.6h0M61.4 647.9h0M57.6 629.1h0M57.5 613h0M53.2 626.9h0M54.8 629.1h0M64.7 623.7h0M55.7 669.5h0M56.4 672.1h0M73.4 638h0M58 635.5h0M60.8 638.3h0M46.4 613.9h0M57.6 673.6h0M46.4 629.4h0M61.3 681.6h0M47.8 614.2h0M57.6 660.1h0M49.4 624.5h0M80.7 626.5h0M52.5 607.9h0M64.4 625.1h0M68.9 675.5h0M64.3 626.8h0M49.3 638.3h0M71.1 677.7h0M57.3 647.1h0M52.7 664.8h0M54.3 608h0M62.7 662.2h0M58.9 620.4h0M70.1 644h0M49 614.5h0M79.7 646.5h0M68.4 672.7h0M54 674.9h0M48.3 669.9h0M58.9 672.6h0M52.9 635.4h0M65.4 647.6h0M59.3 623.1h0M53.3 634.6h0M52.1 643.9h0M58.8 648.5h0M47.6 608.6h0M59.5 646.4h0M47.8 674.5h0M62.1 653.3h0M55.6 638.7h0M56.7 613.2h0M53.8 613h0M70.8 636.6h0M62.9 607.7h0M65.8 605.4h0M56.2 663.8h0M59.9 644.4h0M50.5 665.6h0M50.4 676h0M68.4 661.1h0M72.9 664.7h0M55.5 668.8h0M62 659.2h0M57.2 622.4h0M53.7 637.4h0M77.5 667.4h0M78 643h0M59.7 651h0M52.9 619.1h0M60.2 664.4h0M59 627.5h0M58.5 654.9h0M53.8 660.6h0M63.4 645.9h0M67.1 625.7h0M71.4 622.6h0M57.1 667.6h0M65.2 675.2h0M59.2 642.8h0M48 648.1h0M64.3 649.5h0M56.2 673h0M78 611.5h0M56.9 638.3h0M61.8 622h0M70.6 633.9h0M71.6 669.6h0M58.8 648.2h0M48.5 650h0M50.5 665.1h0M86.4 677.7h0M52.2 651h0M53.3 635.3h0M62.4 631.3h0M52.4 618.9h0M62.7 668h0M56.8 681.3h0M61.6 663.8h0M48.2 627.4h0M48 660h0M57.8 647.2h0M50.8 646.5h0M52.3 642.1h0M61.3 678.4h0M64.9 676.5h0M53.6 637.8h0M49.3 620.8h0M59 622.5h0M91.1 663.6h0M74.4 655.5h0M51.1 645.9h0M59.1 681.4h0M67.4 673.5h0M48.4 657.8h0M60.3 632.2h0M60 658.2h0M83.5 647.5h0M58.9 627.3h0M53.4 677.5h0M49.8 636.1h0M72.2 650.4h0M57.1 662.8h0M60.5 673.7h0M59.4 680.3h0M66.1 639.1h0M66.5 602.1h0M60.5 618.4h0M59.2 609.1h0M64.7 640.2h0M74.1 672.5h0M51.6 624.5h0M67.4 652.6h0M56.3 679.2h0M55.7 607.6h0M49.5 658.3h0M51.5 655.7h0M48.7 633h0M63.2 660.1h0M56.2 679.6h0M55.5 645.9h0M47.6 632h0M67.8 669.7h0M78.1 663.6h0M80.9 600h0M82.9 582.3h0M53.5 665.9h0M52 670h0M59.8 657.9h0M59 646.8h0M62.3 653h0M57.3 617.9h0M76.5 635.4h0M58.5 620h0M72.5 654h0M59.4 649.5h0M62.7 664.6h0M60.4 628.9h0M69.3 651.2h0M80.5 643.1h0M49.4 636.7h0M48.9 644h0M48.8 624h0M81.9 659.8h0M58.5 670.1h0M54.1 660.1h0M62.5 621.8h0M55.4 647.5h0M50.7 654.7h0M64.4 631.6h0M53.5 651.5h0M49.4 645.2h0M60.1 665.7h0M65.8 620.2h0M54.3 668.4h0M65.1 621.4h0M74.4 655.3h0M58.5 672.3h0M70.1 654.5h0M48.1 659.1h0M58.2 610.1h0M54.1 680.1h0M54.2 650.3h0M65.6 606h0M49.6 649.5h0M57.3 630.2h0M48.6 657.3h0M57.4 639.2h0M61.3 625.3h0M56.5 631.5h0M58.4 664.3h0M55 664.6h0M50.5 627.8h0M74 640.4h0M54.8 652.2h0M69.5 617.6h0M86.1 637.4h0M49.4 627.4h0M50.3 661.8h0M59 638.1h0M50.2 628.5h0M83 654.8h0M64.7 634h0M51 596.5h0M59 643.6h0M57.8 628.4h0M55.7 640.6h0M70 644.5h0M75.2 647h0M65.7 607.1h0M47.7 625h0M53.7 615.6h0M59.9 608.1h0M53.5 643.6h0M75.1 667.8h0M54.9 622.4h0M53 645.1h0M65.8 606.7h0M63.3 651.7h0M74.1 620.3h0M62.7 596.7h0M73.5 615h0M52.1 664h0M64.2 611.4h0M47.6 619.9h0M81.5 620.2h0M63.9 671.4h0M54.5 613.1h0M61.9 659.7h0M57.8 646.3h0M69.4 603.8h0M52.9 678.2h0M63.8 617h0M62.1 643.1h0M58.8 668h0M58.2 660.8h0M61.3 640.2h0M59.6 605.5h0M56.4 621.2h0M66.3 627.7h0M53.3 638.9h0M56.3 677.2h0M66.1 613h0M47 621.5h0M50.2 670.1h0M58.3 644.8h0M70.8 610.6h0M54.9 588.4h0M78.9 678.7h0M55 639.4h0M51.9 633.4h0M71.4 668.7h0M62.3 629.8h0M81.2 613.1h0M81.8 629.7h0M64.4 626.8h0M50.3 669.7h0M71.4 586.9h0M69.6 662.3h0M45.8 639.7h0M45.8 657.5h0M45.8 642.4h0M45.8 664.9h0M45.8 673.4h0M45.8 625.4h0M45.8 671.7h0M45.8 656.9h0M45.8 624.2h0M45.8 629.9h0M45.8 657.5h0M45.8 640.7h0M45.8 655.3h0M45.8 619.5h0M45.8 623h0M45.8 640.7h0M45.8 622.5h0M45.8 639.6h0M45.8 617.4h0M45.8 649.2h0M45.8 643.7h0M45.8 610.1h0M45.8 662.2h0M45.8 637.5h0M45.8 648.9h0M45.8 643.1h0M45.8 645.2h0M45.8 631.3h0M45.8 614.3h0M45.8 611.7h0M45.8 642.1h0M45.8 650.5h0M45.8 644.8h0M45.8 652.9h0M45.8 662.5h0M45.8 623.3h0M45.8 615.5h0M45.8 667h0M45.8 613.7h0M45.8 669.6h0M45.8 608h0M45.8 661h0M45.8 666.4h0M45.8 675.2h0M45.8 637.2h0M45.8 661h0M45.8 631.8h0M45.8 614.2h0M45.8 611h0M45.8 659h0M45.8 656.6h0M45.8 674.7h0M45.8 665.9h0M45.8 633.5h0M45.8 630.2h0M45.8 654.8h0M45.8 675.2h0M45.8 679.5h0M45.8 655.8h0M45.8 628h0" stroke="#e4130f" stroke-width="2.3" stroke-linecap="round" fill="none"/>
<path d="M99.7 672h0M108.5 698h0M86 696.4h0M94.2 667h0M79.2 697.7h0M92.6 674.1h0M106.5 693.3h0M90.4 677.2h0M108.4 679.5h0M89 663.7h0M80 682.6h0M123.6 663.8h0M112.2 690.2h0M84.4 689.6h0M83.4 667h0M90.9 678.1h0M77.7 672.5h0M81.5 678.5h0M87.4 693.4h0M93.3 657.7h0M104.1 687.2h0M114.4 670h0M87.2 677.6h0M76.3 673.1h0M100.4 682.4h0M105.3 674.3h0M93.5 682.7h0M72 677.6h0M91.5 660.7h0M85.6 675.1h0M84 695.3h0M86.7 667.5h0M94.9 702.5h0M113.9 679.9h0M90.8 691.3h0M82 660.5h0M105 697.9h0M107.6 689.1h0M108.5 684.5h0M102.4 700.8h0M92 679.9h0M92.9 694.6h0M96.6 692.4h0M101.6 660.6h0M98.5 675.7h0M86.6 697.1h0M112.1 695.3h0M93.1 694.6h0M90.4 661.2h0M93 666.7h0M83.4 682.5h0M103.5 699.2h0M82.3 682.8h0M90.2 687.7h0M90.3 682.5h0M119.1 667.9h0M132.7 672.7h0M83.5 656.4h0M75.7 673.6h0M115.8 690.7h0M107.6 700.5h0M108.3 662h0M131.5 680.2h0M99.2 687.9h0M68.1 682.9h0M99.7 673.5h0M83.6 660.3h0M122.8 676.4h0M108.1 691h0M75.1 700.8h0M87.5 696.9h0M72.2 665.8h0M70 683.5h0M68.3 681h0M108.9 667h0M95.2 695.4h0M122.6 678.6h0M92.2 693.4h0M106.9 698.1h0M104.7 667.5h0M107.5 667.1h0M100.5 696.4h0M100.6 673.8h0M87.4 668.3h0M96.5 694.6h0M97.9 692.4h0M96.1 698.2h0M83 677.1h0M125.6 666h0M94.4 657.7h0M79.2 670h0M85.6 700.2h0M84.2 677.1h0M126.3 695.7h0M81.4 669.5h0M122.3 701.5h0M91.9 678.7h0M109.8 696.2h0M77.3 690.7h0M83.7 667.4h0M123.1 660.9h0M95.8 669.4h0M83.7 684.2h0M104.7 686.8h0M80.8 670h0M92.9 701.8h0M87.7 674.3h0M78.2 689.5h0M91.5 697.9h0M88.9 696.6h0M144.2 679.1h0M100.6 681.4h0M71 669.3h0M87.4 666.3h0M96.6 692.1h0M84.7 692.9h0M107.2 684h0M74.2 674.9h0M100.7 685.1h0M118.7 688.4h0M90.1 685.5h0M79.2 671.4h0M82 688h0M79.1 661.1h0M136.5 661h0M90.6 676.3h0M101.9 682.2h0M93.1 679.1h0M120.2 696.1h0M87.7 655.3h0M104.4 684h0M91.1 689.1h0M80.1 678.4h0M78.1 692.9h0M132.2 688.2h0M71.2 692h0M100.8 672h0M96.5 665.2h0M83.2 687.5h0M79.6 702.3h0M88.5 687.1h0M81.9 677.7h0M72.8 680.2h0M85.4 683.1h0M89 692.3h0M90.7 671.5h0M73.3 670.8h0M74.6 672.9h0M71.3 668.6h0M96.6 688.8h0M112.5 660.7h0M106.1 689.7h0M95.7 685.6h0M85.2 674.1h0M77.5 690.3h0M117.9 697.1h0M126.3 689.1h0M120.8 682.9h0M102.4 660.6h0M125.3 664.9h0M68.1 671.2h0M102.2 683.8h0M68.5 687.9h0M77.3 671h0M94.4 671.8h0M98.7 675.3h0M86.1 666.1h0M93.9 673.4h0M105 663h0M92.1 682.7h0M83.3 701.1h0M77.6 679.9h0M109.5 689.8h0M100.3 660.6h0M71.3 700h0M88.3 685.8h0M96.7 696.2h0M94.4 684.6h0M89.9 668.4h0M96.3 685.5h0M104.8 686.6h0M83.1 677.9h0M127.5 666.9h0M105.6 675.9h0M99.4 673.4h0M79.6 672.3h0M71.1 670.2h0M80.2 698.9h0M95.1 676h0M98.7 673h0M109.1 694h0M75.4 685.3h0M111.1 671.7h0M88.6 663.2h0M87.3 670.7h0M68.1 696.9h0M78.5 677.2h0M79.6 661.7h0M95.6 700.1h0M75.4 671.8h0M77.6 684.8h0M82.8 672.9h0M80.1 699.5h0M88.9 675.3h0M111.2 693.3h0M71.5 679.4h0M89.5 656.7h0M97.8 700.4h0M78.3 699.3h0M79.4 681.5h0M78.5 679.6h0M104.6 662.3h0M122.4 681.3h0M103.5 687.4h0M75.1 685h0M73.2 689.7h0M104.5 667.8h0M104.9 661.6h0M75.4 701.3h0M103.6 672.9h0M68.4 674.8h0M115.7 675.8h0M90.3 675.1h0M96 664.6h0M104.3 687h0M69.3 697.6h0M92.5 670.6h0M79.8 665.5h0M116 681.2h0M107.6 689h0M121.1 702.2h0M87.1 697.6h0M93.6 662.8h0M82.5 680.2h0M97.4 698.1h0M79.5 676.5h0M100.4 669.6h0M95.2 661.1h0M81.6 692.5h0M110.8 673.3h0M88.3 670.2h0M73.5 699.3h0M84.9 701.6h0M105 677.6h0M68.7 698.9h0M89.9 693.4h0M113.9 673.5h0M70.4 677.2h0M113.7 688h0M78.9 658.3h0M85.9 683.8h0M111 692.8h0M122 664.5h0M94 701.3h0M72.5 681.2h0M97.8 699.3h0M109.3 682h0M104.3 678.6h0M102.8 675.7h0M89.4 673.9h0M113.5 667.6h0M87.9 691.9h0M134.7 661.9h0M73.3 676.6h0M100.9 697.1h0M85.7 701.9h0M81 696.6h0M73.4 681.4h0M84.9 668.7h0M95.8 678.9h0M111.3 671.3h0M80.6 698.7h0M69.6 700.1h0M89.1 694.2h0M110.9 679.7h0M86.3 679h0M101.9 694.5h0M70 681.7h0M101.9 672.7h0M81.9 684.4h0M93.1 672.6h0M71.6 677.4h0M83.7 669.9h0M94 665.3h0M113.4 699.6h0M103 670.8h0M103.4 672.2h0M72.3 692.5h0M102.2 676h0M106.5 686.1h0M125.5 696.8h0M82.7 669.6h0M89 678.9h0M117.9 685.3h0M109.6 664h0M123 662.7h0M139 694.1h0M99.4 684.5h0M106.4 697.3h0M88.5 685.6h0M68.9 680.7h0M89.7 678.2h0M80.5 665.7h0M92.7 681.3h0M122 663.1h0M100.5 681.3h0M90.2 658.1h0M91 678.2h0M78.7 668.6h0M93.7 684.9h0M81.5 662.8h0M98.7 674.5h0M88.1 679.4h0M93.8 681.3h0M95.1 691.8h0M117.3 698.3h0M89.2 682.1h0M99.6 659.2h0M122.3 676.5h0M80.1 687.4h0M108.5 664.9h0M77.5 690.6h0M82.9 692.2h0M76.4 671.1h0M88 698.4h0M96.5 695.9h0M84.2 675.6h0M100.4 673.7h0M75.4 678.8h0M88.6 666.4h0M92.2 661.5h0M79.7 698.6h0M81.3 667.3h0M89.8 701h0M90.9 661.7h0M72.9 666h0M82.4 687.1h0M82.9 690.2h0M85.3 660.1h0M122.3 699.4h0M91.9 666.2h0M103.9 690.3h0M71.7 681.5h0M120.8 673.2h0M68.4 686.5h0M104 668.4h0M77.2 701.6h0M84.6 700.8h0M126 663.6h0M98.4 685h0M97.1 665.2h0M84.3 668.8h0M74.4 671.9h0M104 669.4h0M95.9 672.6h0M106.8 693.8h0M69.5 702.6h0M118.3 680.2h0M75.8 689.8h0M94.7 672.1h0M87.3 697.8h0M84 669.7h0M93.6 696.9h0M96 697.1h0M108.2 679.6h0M82.8 688.4h0M97.7 700.5h0M112.6 665.9h0M84.6 675.8h0M83.6 689.1h0M102.5 664h0M97.7 671.3h0M103.3 697.4h0M112.6 685.3h0M95.8 691.9h0M85.2 696.6h0M85 699h0M93 688.5h0M91.5 696.7h0M71.7 694.4h0M129.6 699.5h0M71.4 676h0M117.1 668h0M114.3 683.9h0M71.4 687h0M73.6 675.6h0M70.1 699.5h0M129.1 671.9h0M69.8 674.3h0M69.7 685h0M107.5 692.9h0M88.6 682.7h0M80.6 696.5h0M103 669.7h0M106.3 685.5h0M86.9 677.3h0M86.5 662.2h0M115.6 700h0M82.8 664.7h0M98.2 694.8h0M104.3 691h0M73.6 671.8h0M92.1 667.9h0M85.8 697.6h0M83.5 697.8h0M96.3 665.8h0M128.8 670.3h0M105.7 670h0M90 678.9h0M112.7 658.7h0M76.7 673.6h0M91.2 672h0M103.3 684.3h0M83.8 681.8h0M80.3 700.5h0M78.1 691.9h0M73.6 670.4h0M70.8 693.1h0M106.9 665.1h0M81.9 696.1h0M102 664.9h0M71.4 682.6h0M77.5 673.3h0M77.8 697.1h0M85.7 660.2h0M86.3 677.9h0M100.6 701.5h0M94.3 675.8h0M90.7 695.3h0M90.9 666.3h0M68.5 674.8h0M68.4 686.7h0M85.3 679.3h0M85.4 671.4h0M90.8 679.1h0M88 685.2h0M104.9 699.9h0M143 692.4h0M86.1 678.4h0M108.7 662.1h0M109.1 662.4h0M72.7 700.5h0M72.9 678.6h0M108.2 688.1h0M120.1 687.5h0M101.2 674h0M84.1 687.4h0M92.7 679.8h0M102.5 689.7h0M87.9 675.1h0M76.3 696.1h0M78.4 661.4h0M110.9 698.6h0M75.6 690.9h0M83.7 697.8h0M108.5 687h0M97.2 669.3h0M114 698.1h0M84.8 697.1h0M76.6 681.5h0M100.1 658.9h0M102.9 678.2h0M96.5 667.2h0M139.5 668.2h0M115.5 659.5h0M80.7 691.5h0M77.2 673.1h0M112.9 689.7h0M110.6 679.1h0M72.2 688.5h0M115.7 673.8h0M104.5 679.6h0M72.7 674.1h0M84.5 685.9h0M99.2 657.5h0M97.1 657.5h0M88.3 676.4h0M71.2 666.4h0M68.9 701.3h0M92.6 670.3h0M82.6 699h0M108.8 667.7h0M109.3 685.6h0M81.7 685.8h0M85.3 682.3h0M108.6 681.3h0M98.4 684.8h0M93 684.2h0M84.9 674.8h0M81.9 683.9h0M78.3 659.6h0M101.3 678h0M91.6 657h0M96 701.4h0M104.1 678.5h0M89.5 687.8h0M79.3 672.8h0M74.2 678.8h0M81.7 699.8h0M104.9 690.5h0M123.6 684.3h0M112 668.9h0M94.5 671.1h0M88 664.2h0M104.7 682.1h0M102.8 700.2h0M100 683.8h0M100 659.8h0M79.6 670h0M84.8 676.9h0M98 669h0M87.1 672.4h0M101.5 689.1h0M93.8 680.7h0M82.1 697.7h0M113.6 660.2h0M88.3 699.8h0M104.1 670.5h0M84.3 662.4h0M91 677.9h0M101.2 671.4h0M109.8 697.3h0M93.1 687.3h0M124.9 675.9h0M81.1 683.4h0M115 660.8h0M102.1 676h0M75.4 698.1h0M77.3 699.5h0M78.6 669.4h0M107.8 671h0M71.3 697.4h0M92.6 691.3h0M87.4 686.2h0M114.3 657.8h0M98.7 696h0M81 699.6h0M101.4 677.6h0M130.6 690.2h0M107.3 682.4h0M98.4 682.8h0M86.9 693.6h0M73.2 674.4h0M69.7 688.2h0M110.1 663.7h0M76.1 688.7h0M99.8 690.4h0M112.9 697.7h0M99.3 677h0M89 682.1h0M82.8 676.1h0M85.3 701.4h0M110.6 665.7h0M108.8 667.5h0M110.9 657.7h0M94.6 692.3h0M86.8 681.7h0M97.2 688.3h0M68.4 681.9h0M107.4 700.2h0M78.8 700.6h0M99.7 691.3h0M92.1 690.1h0M114.2 677.7h0M105.6 673.3h0M95.6 679.7h0M84.2 665.8h0M145 694.4h0M84.3 699.4h0M94.9 686.9h0M75.7 670.3h0M96.5 660.7h0M99.3 679.5h0M102.3 671.6h0M89.6 682.9h0M103.5 671.6h0M116.9 671.8h0M80.4 686.6h0M125.4 668.5h0M107.2 667.5h0M80.7 700.3h0M69.7 698.2h0M77.7 678.9h0M121.2 684.4h0M87 695.1h0M69.4 695.2h0M71.8 702.7h0M101.7 675.2h0M122 684.8h0M103.1 672.5h0M88.5 686.6h0M107 684.3h0M126.8 701.2h0M79.8 658.9h0M100.7 665.7h0M69.2 702.3h0M144.8 680.3h0M85.9 684.8h0M125.6 670.6h0M69.7 694.1h0M119.8 691.4h0M104.9 655.4h0M124.2 695.2h0M71.1 672.7h0M104 694.8h0M99.9 662.5h0M75.6 699.4h0M89.2 662h0M103.4 684.7h0M112.8 685.9h0M81.9 679.6h0M91.5 665.9h0M77 673.7h0M88.1 662.4h0M83.8 673.3h0M88.8 667.2h0M89.4 686.4h0M94 662.1h0M90.1 694.8h0M76.8 672.7h0M75 681.4h0M112.4 696.5h0M89.3 667h0M71.7 672.2h0M75.2 686.7h0M105.9 687.9h0M85.5 674.1h0M78 677.7h0M83 685.7h0M114.6 700.8h0M75.9 691.3h0M85.3 669.1h0M89.3 660.7h0M104.5 663.8h0M77.1 691.2h0M82.6 689.9h0M92.6 665.5h0M92.1 688.1h0M119.7 681.3h0M108.2 667.9h0M90.3 661.9h0M78.9 691.1h0M86.4 692.9h0M119.3 681.4h0M82.1 667.2h0M75.9 678.4h0M75.6 700h0M73.9 702.7h0M97.8 659.6h0M83.2 674.3h0M105.2 689.6h0M71.9 682.3h0M97.8 656.4h0M70.2 670h0M76.4 698.8h0M88.7 699.7h0M105.9 669.2h0M109.2 669.1h0M78.1 688.5h0M88.9 670.4h0M68.2 701.9h0M109.6 682.2h0M89.1 698.8h0M99.3 679.1h0M97.2 683.3h0M119.1 678.2h0M71.2 679h0M115 691.5h0M117.9 685.1h0M95.8 684.6h0M96.3 691.2h0M96.7 699.1h0M69.6 682.1h0M106.8 665.4h0M70.4 690.7h0M128.1 672h0M88.2 671.6h0M82.6 659.3h0M73 679.5h0M99.8 694h0M78.5 692.3h0M71.2 696.8h0M92.1 676.2h0M109.8 668.7h0M119.1 664.1h0M120.1 691.9h0M74.6 698h0M96.2 675.8h0M97.6 673.9h0M90.5 681.1h0M95.4 670.7h0M81.8 700.4h0M103.9 688.5h0M104 677h0M145.6 668.3h0M70.8 688.3h0M88.8 693.3h0M104.3 681.4h0M88.6 694.3h0M70.1 675.8h0M77.6 679.3h0M102.9 686.1h0M107.2 672.3h0M68 673.5h0M80.2 668.8h0M122.6 691.8h0M98.6 695.6h0M88.5 679.7h0M76.3 698.7h0M72 671.3h0M81 701.6h0M73.7 667.4h0M107.3 685.8h0M87.8 693h0M106.8 698.1h0M85.5 701.6h0M93.9 690.2h0M87.5 682h0M81.2 672.2h0M82.7 697.5h0M113.5 683.5h0M81.4 698.1h0M98.7 686h0M84.2 676.6h0M103.5 690.3h0M96.4 677.5h0M86.4 667.3h0M109.7 672.3h0M102.8 690.9h0M75.4 695.6h0M107.5 682.3h0M93.8 699.3h0M106.6 675.8h0M75.6 678.1h0M117.2 659.1h0M99.7 683.2h0M86.2 668.3h0M111.8 677.7h0M113.7 694.9h0M87.7 699.3h0M79.4 684.7h0M87.1 664h0M101.2 659.5h0M77.7 667.7h0M111 702.6h0M106.8 687.8h0M85 689.3h0M81.4 691h0M111.5 688.3h0M85 670.6h0M78.7 696.5h0M111.6 685.6h0M73.1 702.6h0M105.1 700.3h0M82.1 690.6h0M112.7 693.8h0M76.3 680.3h0M102.9 664.3h0M95.5 668h0M68.4 673h0M80 694h0M103 694.9h0M85.3 697.5h0M77.1 678h0M110.2 697.4h0M101.4 656.3h0M90.9 663.9h0M108.2 698.9h0M73.8 678.5h0M91.2 678.1h0M99.4 694.1h0M74.7 702.4h0M101.1 689.2h0M80.5 674.3h0M72 685.4h0M102.4 681.1h0M101.8 672.9h0M79 661.3h0M100.7 690.6h0M71 678.5h0M109 692.5h0M78.5 693.3h0M92.8 702.1h0M116.9 666.2h0M80.8 698.5h0M103.3 658.1h0M74.2 672.5h0M70.4 694.2h0M99.8 666.9h0M70.4 678.4h0M100.1 686.3h0M95.2 702.4h0M122 680.7h0M140 669.7h0M98.7 670.8h0M74.6 692.6h0M116.5 698.3h0M103.9 670.4h0M132.8 665.5h0M81.1 687h0M94.9 685.5h0M101 686.7h0M90.7 665.7h0M103.3 682.2h0M98.7 665.2h0M90.6 667.4h0M78.2 673.6h0M95.3 665.1h0M81.3 687.3h0M85.3 669.9h0M103.6 679.7h0M106.9 703h0M89.4 668.3h0M70.4 684.9h0M74.1 671.6h0M113.3 693.2h0M97.1 698.1h0M100.5 692.7h0M142 689.7h0M79.6 689.5h0M86.5 670.8h0M105.9 701.7h0M100.9 679.2h0M110.9 692.5h0M114.3 667.5h0M83.6 679.7h0M84.9 698.5h0M74.1 701.7h0M74.1 674.2h0M84.7 676.3h0M70.1 695.8h0M95.3 681.8h0M105.7 691.2h0M105.2 696.1h0M96.2 667.9h0M96.4 675.1h0M110.3 664.3h0M122.1 686.3h0M95.2 686.2h0M138.2 669.2h0M111.8 662.9h0M81.1 676.9h0M108.3 674.8h0M94.7 666.7h0M110.7 669.2h0M92.4 666.2h0M104.9 680.3h0M97.1 658.6h0M71.9 695.6h0M77.9 684.2h0M80.3 662.9h0M107.2 684.7h0M90.2 682.8h0M114.3 658h0M107 684.2h0M112.2 677.9h0M71 680.8h0M84.3 674.9h0M116.2 685.4h0M108.5 686.1h0M91 696.5h0M72 697.3h0M83.3 687.7h0M101.8 677.6h0M115.5 682.7h0M80 695.6h0M78.9 668.1h0M71.5 674.7h0M69.4 694.6h0M153.4 665.3h0M145 664.5h0M123.3 677.1h0M80.8 688.1h0M103.3 662.2h0M91.7 675.2h0M104.4 659.7h0M71.4 686.2h0M84.9 680.2h0M86.4 693.8h0M89.6 700.7h0M108.4 670.7h0M78.8 687h0M85.5 671.6h0M75.6 683.1h0M76 691.7h0M96.4 684.1h0M100.6 679.9h0M68.7 675.8h0M94.4 692.5h0M115 682.9h0M98.1 672.9h0M81.8 688h0M106.4 668.4h0M104.7 702.8h0M113.7 693h0M101.5 678.5h0M109.7 677.5h0M81.4 673.6h0M79.8 679.9h0M75.8 668.1h0M93.1 683.8h0M88.6 698.8h0M78.1 679.9h0M119 687.9h0M93.1 677h0M82.3 660.8h0M77.4 692.4h0M113.5 684.8h0M81 665.5h0M84.3 668.1h0M115.2 699.6h0M102.6 659.3h0M101.3 679.4h0M79.4 681.9h0M84.2 697.4h0M75.3 674h0M98.5 659.2h0M70.3 687.4h0M100.3 693.1h0M85.3 661.6h0M87.3 689.5h0M77.1 683.3h0M99.2 686.2h0M149.6 660.6h0M85.1 697.7h0M110 685.9h0M71.4 674.1h0M113.8 663.9h0M103.6 669h0M88.6 669.3h0M73.8 694.2h0M83.1 681.1h0M85.8 679.6h0M69.6 668.4h0M72.7 676.6h0M105.8 661.1h0M115.2 670.7h0M82.9 672h0M97.2 659.6h0M74.2 683h0M107.2 661.3h0M112.8 667.2h0M89.2 659.2h0M69.2 683.6h0M84.7 691.2h0M118.4 674.4h0M109.2 672.1h0M83.4 683h0M86.2 683.7h0M92 696.1h0M90.9 699.1h0M87.5 702h0M83.6 700.3h0M82.4 676.3h0M101.2 687.6h0M78.6 668.4h0M69.3 665.9h0M81.1 698.3h0M107.2 696.7h0M100.3 664h0M104 683.4h0M89.4 684.7h0M76.4 682.4h0M97.2 660.1h0M99 668.5h0M81.6 680.9h0M112.4 671.4h0M87 662.3h0M103.2 661h0M101 663.5h0M95.8 694.3h0M93.1 687h0M121.7 693.8h0M88.2 675.3h0M86.7 691.5h0M101.6 687.4h0M85.4 680.4h0M109.4 701h0M82.1 656.7h0M102.3 701.7h0M104.9 686.6h0M122 674.6h0M91.5 676h0M102.8 688.4h0M85 694.3h0M97.2 666.8h0M103.9 699.6h0M110.8 699.1h0M97.2 682.8h0M88.4 677.1h0M110 681.4h0M90.2 691h0M107.1 694.3h0M112.5 679.5h0M73.9 679.2h0M115.3 669.9h0M69.5 683.9h0M105.5 661.2h0M81.7 679.7h0M78.8 677h0M101.5 667h0M104.7 687.2h0M82.6 658h0M118.2 685.5h0M68.9 698.4h0M119.6 698.5h0M120.4 686h0M78.8 685.2h0M91.9 694.6h0M101.1 676.2h0M111.8 668.9h0M99.5 657.5h0M89.5 687.6h0M90 674.8h0M110.3 662.4h0M89.5 669.4h0M81.4 661.8h0M78.5 676.6h0M79 681.2h0M87.2 676.4h0M119.2 674.1h0M73.1 685h0M91 663.1h0M105.2 698.4h0M85.5 657.3h0M82.9 681h0M77.9 701.7h0M76.5 684.1h0M116.9 671.8h0M101.9 700.1h0M111.2 676.9h0M113.6 701.6h0M81.1 666h0M101.3 665.2h0M78.7 674.9h0M98.7 678.2h0M126.6 675h0M96.5 672.4h0M85.6 667.7h0M106.5 661.8h0M73.8 696.5h0M144.7 699.8h0M93.2 699.8h0M77.1 679.1h0M88.7 666.9h0M100.5 659h0M87.4 691.9h0M104.5 696.4h0M81.6 661.8h0M98.7 665h0M122.5 678h0M70.3 692.1h0M81 660.5h0M112.3 690.8h0M75.7 681.3h0M74.5 673.8h0M80.9 694h0M106.3 672.7h0M83 678.8h0M81.4 674.2h0M76.5 687.1h0M100.4 679.5h0M79.4 681.9h0M100.8 680.3h0M121.3 684h0M98.9 685.1h0M110.2 695.5h0M80.8 683.3h0M86.1 677.9h0M84.3 698.4h0M70.5 675h0M118.9 700.4h0M94.6 662.5h0M107 664.9h0M112.8 680.1h0M77.6 686.8h0M94.8 666.5h0M69.6 680.7h0M94.5 689.2h0M78.6 689.8h0M73.6 702.5h0M73.5 698.5h0M99 657h0M74.9 700.9h0M111.2 698.5h0M69 670.3h0M112.7 669.4h0M99.9 674.7h0M83.7 688.9h0M92.6 665.4h0M104.8 698.9h0M81.3 686.8h0M85.4 697.6h0M82.9 689.4h0M77.3 673.1h0M120.4 689.4h0M74.3 700.7h0M97.2 661.7h0M109.7 678.9h0M68.6 669.5h0M94.9 672.9h0M92.2 675.7h0M77.5 677.2h0M93.2 665.7h0M104 661h0M80.6 699.7h0M109.8 669.2h0M94.9 674.8h0M111 674.3h0M113.8 681.7h0M70.3 699h0M106.2 668.3h0M94.6 697.4h0M97.1 660.5h0M112.3 702.8h0M88.2 690.5h0M87.3 675.7h0M78.5 667.9h0M69.1 673.7h0M111.4 678.1h0M127.3 665.4h0M75.6 679.5h0M119.4 696.8h0M88.7 675.5h0M89.8 657.5h0M96.8 689.6h0M68.9 695.7h0M124.6 698.7h0M105.4 682.2h0M101.6 680.6h0M91.3 680.3h0M120.2 687.2h0M81.9 682.2h0M91 686.8h0M114.2 675h0M78.6 662.5h0M74.9 701.4h0M91.3 670.8h0M107.1 698.6h0M92.3 699.4h0M88.8 688.4h0M92.4 692.3h0M122.4 657.9h0M98.2 656.5h0M94.1 661.4h0M89.3 685.7h0M73.9 696.7h0M111.7 677.3h0M84.6 688.9h0M71.2 690h0M75.5 676.3h0M98.3 688.3h0M92.8 676h0M111.9 702.8h0M71.2 673.6h0M86.8 683.1h0M72.2 691.1h0M79.2 675.6h0M149.5 663h0M103.5 684.5h0M86.8 665.5h0M85.7 664.3h0M103.2 674.9h0M112 662.2h0M79.1 682.3h0M123.4 678.9h0M93.5 664.9h0M137.5 668.3h0M131.3 663.7h0M79.3 694.8h0M104 694.8h0M105.7 690.1h0M84 682.4h0M94.3 683.1h0M95.1 685.2h0M89.8 662.9h0M112.9 699.9h0M107 678.6h0M125 657.8h0M94.5 678.4h0M90.9 662.9h0M87.5 673.9h0M95.3 667.3h0M74.8 683.8h0M102.4 681.6h0M98 698h0M69.6 670.7h0M93.3 700.6h0M91.6 691.5h0M79.6 672.2h0M92.3 694.4h0M69 684.6h0M92.2 695.4h0M114.4 672.1h0M86.7 686h0M110 698.2h0M109 685h0M91.7 680h0M116.2 658.6h0M106.5 684.9h0M140.2 674.4h0M70.6 692.9h0M116.7 678.9h0M78.9 663.8h0M106.9 661h0M101.4 698.3h0M94.9 660.7h0M71.5 688.9h0M74.1 687.7h0M77.6 695.7h0M92.3 682.2h0M81 669.6h0M68.6 702.4h0M69.1 681.8h0M107.3 666.4h0M91.7 670.9h0M92 658.9h0M105.3 699.6h0M107.1 691.1h0M132.3 678.3h0M122.1 699h0M94.3 681.8h0M70.7 701.8h0M73.1 687.9h0M88.4 700.1h0M105.5 672.6h0M70.8 668.9h0M92.9 675.3h0M110.7 699.4h0M103.9 684.5h0M76.3 679.6h0M108.4 695.2h0M93.2 661.7h0M90.5 669h0M70 687.8h0M106.1 671.1h0M111.9 667.4h0M74.5 679.6h0M68.7 685.3h0M90.2 668h0M84.8 692.4h0M105.5 664.3h0M87.4 670.5h0M134.3 681.3h0M117.1 661.8h0M123.4 687.7h0M108 680.4h0M90.6 657.4h0M90.3 670.7h0M84.7 681.1h0M116.7 687h0M74.3 677.2h0M92.2 670.5h0M99.1 685.4h0M101.7 670.7h0M109.9 659.5h0M127.9 679.9h0M95.1 669.2h0M78.4 665.7h0M99.8 659.2h0M80.9 677.3h0M133.5 698.9h0M89.5 674.2h0M122 660.9h0M88.7 698h0M79 670.8h0M123.7 675.2h0M97.6 688.6h0M88.5 659.4h0M91.9 692.9h0M71.7 680.9h0M107.8 662.6h0M97.8 701h0M75.3 691.4h0M82.8 685.5h0M99.8 672.8h0M116 667.7h0M85.1 681.9h0M73.7 697.6h0M77.4 702.9h0M104.8 688.9h0M70.9 676.9h0M71.5 686h0M83.9 686.6h0M94.5 698.1h0M92.3 662.8h0M96.4 699.1h0M97.4 696h0M105.9 678.7h0M94.2 688.5h0M73.2 689.1h0M81.7 680.4h0M99.8 683h0M80.3 686.5h0M91.9 667.3h0M76.1 682.7h0M97.2 672.7h0M83.8 683h0M68.1 674.1h0M115.1 677.7h0M114.4 693.2h0M85.1 681.9h0M93.1 684.8h0M108.1 671h0M79 702.9h0M94.6 696.2h0M111.7 692.7h0M76.8 669.4h0M116.1 690.7h0M111 675.1h0M89.4 701.3h0M73.5 678.9h0M100.4 686.6h0M78.9 677.1h0M80.9 680.8h0M82.3 680.6h0M82.5 679.8h0M81 689.2h0M80.5 698.6h0M101.3 695.2h0M68.8 684.8h0M151.1 685.6h0M99.4 688.1h0M97.4 678.2h0M82.7 678h0M93.6 666.8h0M113.7 694.8h0M81.9 667.5h0M94 674.3h0M74.9 678h0M115.7 683.6h0M112.3 659.7h0M81.4 697.2h0M80.4 686.1h0M100.8 672.3h0M81 677.9h0M95.6 659h0M110.6 669.9h0M106.4 700.5h0M70.8 669.8h0M69.4 676h0M110.1 660.3h0M114.2 700.3h0M125.1 690.2h0M96.8 666.5h0M121.3 661.5h0M97.9 667.8h0M107.1 689.9h0M95 676.9h0M98.7 658.7h0M83.4 700.6h0M92.4 702.2h0M70.5 702.2h0M86.7 687.8h0M84.1 696h0M122.7 696.3h0M113.1 693.2h0M96.9 657.3h0M88 683.3h0M88.8 673.1h0M98.2 665.5h0M98.1 699.7h0M146.4 667.1h0M71.7 672.9h0M117.3 671.4h0M125.6 673.1h0M86.1 695h0M113.1 700.3h0M80.9 677.6h0M81.4 701.3h0M98.6 688.3h0M71.2 670.1h0M75 700.4h0M105 660.5h0M111.8 691.8h0M115 679.5h0M96.4 698h0M100.9 701.7h0M81.9 663h0M92.6 668.4h0M145.8 666.6h0M69.2 692.3h0M98 681.9h0M103.2 660.9h0M100.8 700.9h0M83.7 675.7h0M94 692.8h0M117.8 681.5h0M70.2 687.3h0M83.9 676.4h0M77.6 691.2h0M75.1 692.5h0M120.3 695.8h0M68.3 688.2h0M93.1 660.6h0M73.8 681.1h0M92.2 677h0M154.7 670h0M92.2 667.2h0M92.5 687.5h0M112.6 662h0M90.7 668h0M82.4 658.4h0M93.9 690.2h0M111.1 663.5h0M80 691.6h0M93.9 690.4h0M148.9 681.9h0M95.9 672.5h0M75.4 698.1h0M114.2 687.6h0M89.8 672.1h0M113.7 701.9h0M121.6 688.2h0M94.4 701.8h0M78.3 681.2h0M101.4 692.9h0M103.9 676.8h0M74.5 702.7h0M86.4 685.8h0M78.7 679.9h0M96.3 669h0M78.2 674.9h0M78.1 689.2h0M117.2 670.9h0M68.8 679.4h0M81.7 661.5h0M138.3 663.1h0M72 698.7h0M103.8 685.5h0M99.7 684.4h0M80.3 697.7h0M113.8 680.9h0M91.2 679.2h0M80.9 689.6h0M110.3 680.2h0M79.9 689.7h0M74.8 675.4h0M87.1 701.6h0M83.4 688.3h0M122.3 701.3h0M100.3 685.5h0M95.1 672h0M97.7 663.7h0M98.5 702.2h0M71 686.5h0M109 696.1h0M85.2 670.9h0M84 689.4h0M102.3 669.7h0M75.8 691.4h0M152.9 681.5h0M95.5 670.3h0M82 699.9h0M109.5 664.2h0M116.5 676.2h0M68.9 674.2h0M108.4 690.6h0M77.7 698h0M105.6 661.9h0M92.9 679.3h0M112.1 663.1h0M124.4 702.8h0M83.2 661.9h0M93.9 657.3h0M96.6 699h0M87.4 673.8h0M101.7 668.7h0M70.5 689.1h0M79.9 694.2h0M96.1 691.7h0M103.5 671.5h0M90.1 690h0M109.1 700.4h0M122.8 700.5h0M82 682.4h0M87.6 685.2h0M69.1 673.3h0M116.7 671.2h0M79.7 697.2h0M95.5 657.9h0M73.7 666.5h0M100 681.3h0M73.8 691.5h0M114.1 660.2h0M100.4 676.8h0M78.4 690.3h0M149.8 679.4h0M99.6 679h0M100.2 692.8h0M111.9 663.7h0M79.1 685.8h0M69.3 668.2h0M76.3 676.3h0M87.6 697.4h0M102.3 661.5h0M127.5 675.7h0M116.9 673.2h0M100.2 666.7h0M70.2 696.9h0M71 673.2h0M109.7 701.2h0M82.3 676.6h0M83 682.7h0M91.7 690.3h0M107.7 670.5h0M83.5 676.5h0M77.6 694h0M73.9 675h0M68 693.3h0M78.9 674h0M111.2 692.7h0M112.7 656.5h0M78 668.2h0M73.5 697.4h0M88.9 685.5h0M106.1 684.5h0M93 687.7h0M72.1 669.1h0M98.4 700.1h0M86.8 681.5h0M78.7 665.5h0M85.7 669.5h0M107.3 688.3h0M110.2 673h0M80.2 683.5h0M108.5 700.2h0M109.8 690h0M100.6 692h0M83.7 690.3h0M88.9 678.6h0M74.4 669.3h0M74.5 695.7h0M78.3 657.9h0M87.3 694.9h0M81.1 662.7h0M93.2 680.1h0M97.7 687.7h0M92.6 676.2h0M94.3 686.7h0M101.5 681.4h0M87.8 694.1h0M77 669h0M81.1 659.9h0M102.8 661.1h0M103.1 702.8h0M74.6 687.7h0M116 666.9h0M110.8 672.8h0M104.4 686.9h0M69.1 683.9h0M107.9 678.2h0M92.1 668.3h0M89.2 685.2h0M109.5 687.9h0M106.9 660.1h0M103.3 695.9h0M99.3 690.8h0M88.5 681.6h0M104.6 664.8h0M82.2 693.7h0M81.9 668.9h0M86.5 683.3h0M100.7 696.5h0M87.7 695.4h0M90.4 662.5h0M81 672.1h0M94.4 680.1h0M140.5 699.3h0M90.8 684h0M78.1 657.1h0M92.7 689.8h0M68.1 677h0M88.3 686.7h0M97.7 687h0M92.1 662h0M127.4 666.1h0M102.4 679.7h0M88.6 661.8h0M95.1 701h0M84.8 685.1h0M101.9 669.1h0M68.7 672.4h0M78.9 661.3h0M85.7 678h0M84.3 663.6h0M93.4 699.2h0M79.3 701.9h0M97.4 665.1h0M84.7 700.4h0M104.1 684.1h0M126.5 692.6h0M96.7 701.3h0M88.2 663.6h0M98.2 680.5h0M94 683.1h0M90 657.4h0M95.5 664.1h0M79.5 687.9h0M83.5 666.2h0M86.2 669.8h0M81.4 683.5h0M91.9 667h0M95.5 695.1h0M103.3 687.7h0M72.1 700.7h0M123.6 661.7h0M84 661.6h0M91 658.1h0M128.6 688.6h0M75.6 666.8h0M81.3 685.7h0M103.2 681.4h0M99.7 660.6h0M94.3 672.6h0M123 693.6h0M96.8 686.3h0M116.5 682.2h0M97.8 674.8h0M88.1 682.2h0M98.9 698.7h0M70.2 678.3h0M104.5 689.3h0M70.6 695.7h0M81.7 696.6h0M93.3 695.3h0M121.1 677h0M112.2 667.5h0M109.1 694.7h0M94.9 699.8h0M81.2 699h0M86.3 683h0M85.4 694.7h0M89.3 684.5h0M89.5 696.9h0M84.9 673h0M70.6 697.2h0M113.9 681.8h0M90.7 692.6h0M118 662.7h0M100.9 668h0M71.4 702.3h0M71.1 693.5h0M90.1 657.6h0M111.1 693.2h0M90.1 694.2h0M103.1 684.8h0M90.3 695.3h0M123.9 675h0M98.7 665.9h0M103.4 683.4h0M68.5 680.5h0M106.4 694.4h0M132 674.2h0M93.6 675h0M68.6 676.9h0M148.4 695h0M105.9 688.3h0M91 695.4h0M120.6 666.5h0M79.7 691.4h0M114.7 693.7h0M113.1 671.8h0M94.9 692.1h0M82.5 687.9h0M89.4 681.8h0M117.6 684.8h0M124.6 671.2h0M120.2 688.4h0M116.8 669.9h0M103.1 666.8h0M99.2 687.4h0M85.5 691.8h0M100.7 691h0M79.4 677.1h0M80.4 675.1h0M122.5 665.8h0M73.6 689h0M99.1 670.6h0M119.9 679h0M78.3 661.6h0M78.5 699.1h0M100.6 673.4h0M88.2 665.5h0M110.4 696.9h0M96.5 700.4h0M102.8 669.1h0M114.7 681.3h0M113.6 671h0M98.2 687.8h0M83.6 658.3h0M130.9 664.8h0M94 686.2h0M106.5 692.5h0M105.9 694h0M104.2 662.6h0M135.5 658.7h0M108.1 663.9h0M91.5 701.2h0M83.6 677h0M70.1 702.6h0M102.4 682.6h0M76 689.5h0M71.9 702.1h0M120.8 682.3h0M104.8 701.9h0M94.4 677.6h0M125.5 701.1h0M92.8 662.7h0M73.9 670.9h0M117.7 682.3h0M86.8 689.7h0M114 673h0M113.4 657.9h0M90.3 672.8h0M92.4 689.9h0M101.8 690.5h0M76.8 670.3h0M73.7 693.4h0M92.2 683h0M88.4 660.2h0M68.3 680.9h0M106.4 658.9h0M116.9 699.9h0M76 669.4h0M105.6 658.4h0M75.2 688.8h0M93.6 657.3h0M83.6 688.6h0M91 701.4h0M86.5 682.9h0M135.1 664.8h0M117.3 683.1h0M124.7 688.3h0M70.1 683.2h0M73.5 698.5h0M116.4 684.1h0M92.9 671.2h0M109.7 694.5h0M111.7 672.5h0M85.7 689h0M126.1 663h0M105.3 697.3h0M68.8 689.2h0M118.9 662.7h0M75.3 678.3h0M79 686.3h0M126.2 684.7h0M70.5 685.8h0M123.2 675.7h0M84.9 672.8h0M101.1 667.8h0M88.8 677.1h0M90.8 694.1h0M84.1 674.1h0M85 699.3h0M115 675.6h0M111.1 695.8h0M80 696.2h0M92.1 686.1h0M97.2 670.9h0M96.4 670.4h0M75.1 700.3h0M80.9 692.6h0M96 660.6h0M69.7 674.4h0M94.3 691.1h0M108.1 670.2h0M100.6 670.1h0M97.6 684.3h0M94.7 696.1h0M108.6 660.3h0M89.8 656.2h0M114.5 671h0M75.3 702.5h0M107.7 657.7h0M75.1 673.8h0M93.2 672.7h0M108.3 676.5h0M111.7 700.8h0M86.3 673.4h0M83 670.6h0M85.7 701.6h0M78.6 697.3h0M81.3 688.6h0M142.6 695.9h0M89.3 656.6h0M102.3 657.6h0M93.5 695.7h0M84.7 688.5h0M100.3 694.3h0M89.5 700.6h0M95.3 695.3h0M74.4 680.1h0M106.9 694.8h0M108.2 667.3h0M87.3 693.7h0M72.1 683.6h0M97.2 697.6h0M110.7 690.5h0M82.3 694.2h0M120.2 680.6h0M81.6 697.4h0M96.5 698.2h0M98.8 660.9h0M123.5 689.4h0M119 687h0M87.8 667.8h0M97.8 671.7h0M152.4 667.2h0M116.3 672.7h0M103.4 670.5h0M91.4 680.8h0M80.5 673.3h0M87.7 691.7h0M73.2 698.6h0M103 685.6h0M79.6 683.6h0M81.1 697.1h0M99.3 659.8h0M102.5 696.5h0M117.5 670.6h0M94.7 687.6h0M93.4 663h0M80.4 668.1h0M71.9 693.3h0M73.6 700.4h0M79.8 693.2h0M87.6 689.1h0M70.8 677.1h0M121.4 680.4h0M103 672.6h0M90 701.7h0M102.4 694.9h0M80.7 677.9h0M81.1 678.9h0M103.1 662h0M138.2 677.2h0M93.6 689.2h0M104.8 686.8h0M68.4 696.6h0M96.6 675.2h0M106.3 659.5h0M111.3 693.7h0M94.6 678h0M101.4 684.4h0M127.6 692.4h0M97.4 678.6h0M70.3 682.2h0M68.4 682.8h0M117.2 684.8h0M126.8 678.7h0M114.8 694.4h0M111.7 669.2h0M75.4 673.4h0M76.7 675.3h0M84.7 667.9h0M77.4 701.8h0M100.2 697.6h0M103.3 676.3h0M94.7 664.2h0M103.4 696.2h0M88.1 701.4h0M77.8 689.7h0M74.6 678.2h0M107 656.9h0M73.7 673.7h0M100.8 693.9h0M80.6 701.2h0M83.4 682.6h0M98.3 688.1h0M118.7 667.7h0M68.7 691.8h0M70.7 697.4h0M70.5 702.5h0M72.8 680h0M92.8 701.5h0M83.3 688.3h0M94.3 673.8h0M109.7 675h0M82.4 702.5h0M107.3 667.8h0M104.8 677.9h0M70.5 697.7h0M89.7 667.6h0M73.6 677h0M106.4 690.9h0M95.8 671.8h0M82 671.2h0M95.1 693.3h0M99.7 679.1h0M82.2 668.2h0M95 670.3h0M81 682.1h0M85.3 693.4h0M70.1 697.3h0M85 684.4h0M112.2 699.8h0M77.4 689.5h0M71.1 669.5h0M94.7 696.4h0M114.9 702.6h0M99.8 682.2h0M100.3 695.5h0M83.9 689.8h0M110.2 656.7h0M91 678.6h0M81.3 688.2h0M80.6 691h0M127.3 689.6h0M123.3 683.7h0M82.4 687.7h0M111.1 662.9h0M71.7 701h0M82.9 666.1h0M84.4 686.2h0M111.4 674.4h0M96 665.4h0M115.3 670.9h0M117.5 677.3h0M73.8 667.3h0M125.6 657.4h0M75.8 702h0M69.3 694.3h0M89.2 668.4h0M90.8 662h0M98.2 683.7h0M108.1 684.6h0M99.5 683.9h0M82.3 684.4h0M104 671.4h0M130 669.3h0M109.9 694.1h0M96.8 678.4h0M96.8 693.8h0M101.3 696.9h0M103.7 663.9h0M110.3 698.5h0M82 675.5h0M76.8 695.7h0M143.3 677h0M98.2 658.3h0M95 687.6h0M108.4 679.6h0M86.8 666h0M113.9 661.4h0M126.2 680.6h0M86 698.3h0M76.9 690.4h0M103.6 660.3h0M100.4 684.3h0M81.2 698h0M83.6 694.9h0M105.8 677.3h0M88 702h0M73.2 676.9h0M88.5 660.4h0M145.5 701.9h0M69 699.3h0M83.6 697.8h0M84 662.3h0M108.6 659.8h0M108.3 691.9h0M75.3 695.9h0M84.6 660h0M108.1 701.1h0M105.5 666.2h0M73.4 669h0M94.3 662.4h0M86.9 686.7h0M86 685.7h0M73.3 672.2h0M91.8 691.5h0M79.1 669.2h0M80 697.3h0M80.5 686.8h0M77.4 668.8h0M104.9 685.7h0M73.7 673.8h0M96.9 677.7h0M85.3 699.6h0M78.2 663.1h0M111.8 670.6h0M82 675.1h0M89.4 665h0M76.8 679.2h0M79 684.5h0M86.5 690.5h0M111 673.4h0M115.4 693.1h0M99.6 675.1h0M106 669.4h0M122.1 694.7h0M126 672h0M103.5 680h0M69.6 679.6h0M95.7 692.5h0M84.1 671.5h0M105.1 698.7h0M117.2 697h0M88.5 663.2h0M90.9 697.4h0M74.1 681.7h0M92 676.7h0M101.4 698.9h0M113.1 696h0M110.3 666.4h0M80.8 668h0M70.5 690.4h0M111.5 683.9h0M100.5 673.9h0M76.3 677.8h0M73.9 700.3h0M103.3 672.9h0M86.4 678.4h0M68.6 678h0M100 678.4h0M121.5 681h0M73.5 680.6h0M73 697.4h0M78 681.4h0M153.2 694.3h0M74.6 693.4h0M108.6 675.6h0M97.2 673.5h0M73 683.6h0M127.2 680.7h0M91.1 691h0M88.7 685h0M89.3 658.9h0M83.1 694.4h0M114.7 702.2h0M85.1 697.5h0M113.3 670.1h0M113.5 691.1h0M92.9 697.8h0M83.9 681.2h0M102 676h0M86.7 670.3h0M91.9 686.2h0M79.2 664.7h0M103.7 679h0M88.6 693.5h0M81.3 690.4h0M108.8 694.3h0M87.8 681.3h0M117.8 681.4h0M77.2 683.5h0M104.4 687.1h0M88.9 681.4h0M70.3 696.1h0M103.6 668.6h0M120.2 659.8h0M93.1 692.8h0M142.5 671.7h0M102.3 670.7h0M111.8 674.2h0M152.7 685.6h0M94.4 682.2h0M96.8 692h0M97.2 676.3h0M75.6 669.6h0M148.2 689.4h0M84.8 675.3h0M73.3 687.9h0M90.4 690.3h0M79 690h0M94.3 668.6h0M99.7 685.6h0M103.5 686.1h0M85.1 685.6h0M107.1 667h0M84.1 671.7h0M112.1 684.8h0M81.1 684.6h0M93.7 664.8h0M70.9 673.5h0M86.1 686.8h0M109.6 662.2h0M101.7 660.8h0M107.7 694.1h0M80.7 657.2h0M106.5 697.2h0M79.3 668.3h0M118.9 674.9h0M74 676.6h0M81.7 667.9h0M108.6 674.8h0M77 692.1h0M92.2 702.1h0M106.5 699.9h0M101 674.2h0M83.8 670.8h0M80.7 696h0M92.1 682.1h0M126.3 682.2h0M110 675.7h0M112.2 662.9h0M101.7 680.4h0M95.8 695.5h0M71.7 698.2h0M101.9 685.4h0M111.1 696.1h0M81.2 669.3h0M98.9 697.4h0M87.5 659.9h0M97.8 701h0M80.8 700.3h0M73.1 684.8h0M90.5 666.9h0M84.8 659.5h0M109 667.4h0M68.3 690.5h0M86.6 666.1h0M96.1 665.5h0M72.8 689.5h0M124.1 669.2h0M102.2 673.7h0M72.7 699.6h0M108.6 656.8h0M103.3 681.9h0M85.3 674.1h0M78.8 694.8h0M110.3 664.5h0M81 671.9h0M100 694h0M77 677.3h0M91.5 671.7h0M80.6 667.9h0M118 690.3h0M82 687.4h0M98.7 701.2h0M88.7 666.6h0M99.9 676.9h0M105.1 702.1h0M81.8 700.4h0M103.3 685h0M80.5 676.3h0M102.7 689.1h0M76.8 677.2h0M71.5 701.5h0M92.6 686.6h0M103.5 661.5h0M105.9 675.6h0M101.4 696.6h0M77.4 680.9h0M102.6 665.4h0M85.8 702.4h0M99.5 666.9h0M83.9 688.2h0M98.4 682.6h0M97.8 682.5h0M105.9 684h0M68.6 700.3h0M138.1 677.1h0M88 684.9h0M103.6 702.3h0M121.6 700.7h0M106.7 670.4h0M75.8 691.5h0M94.8 661.5h0M113.1 683.2h0M155.8 686.5h0M115.2 686.1h0M98.4 664.8h0M119.7 680.8h0M148.4 702.1h0M92.4 692.1h0M72.4 672.5h0M73.4 693.5h0M87.9 693.8h0M104.6 658.5h0M112.9 682.2h0M75.7 671.3h0M94.1 690.8h0M79.9 657.5h0M112.3 677.3h0M80.9 694h0M107.7 690h0M81.9 690.7h0M106.1 674.7h0M84.1 672.4h0M72.7 672.7h0M105 682.4h0M68.9 687h0M109.8 668.3h0M99.6 671h0M68.8 700h0M90.3 686.8h0M111.7 669.1h0M104.1 675.2h0M77.9 668.4h0M86.1 678.1h0M84.5 664.9h0M85.2 694.1h0M74 677.9h0M122.8 695.4h0M75.5 672.9h0M99.8 682.3h0M83.2 686.4h0M108.8 701.5h0M108.7 665.3h0M77.6 698.6h0M81.1 700h0M105.9 674h0M93.8 682.8h0M81.3 688.7h0M147.6 689.6h0M71.5 695.7h0M97.9 665.2h0M98.5 675.1h0M81 690.5h0M84.9 701.4h0M101.3 701.3h0M69.5 688.5h0M80.2 702.6h0M81.7 665.8h0M89.2 682.5h0M106.9 665.2h0M105.5 702.3h0M97.8 681.7h0M111 698.1h0M70 690.5h0M83.4 665.9h0M112.4 683.5h0M93.7 681.8h0M81.2 687.7h0M97.1 690.8h0M77.7 701.7h0M94.4 685.9h0M85.5 686.2h0M81.5 686.8h0M92.5 697.3h0M91.2 699.7h0M79.6 673.5h0M114.8 661.7h0M105 690.5h0M106.3 660.1h0M113.7 665.7h0M109.2 664.3h0M88.8 670.7h0M78.9 660.5h0M109.4 669.8h0M96.2 676.4h0M87.4 691.7h0M87 695.8h0M111.8 675.8h0M83.4 698.7h0M87.4 680.5h0M114.3 687.6h0M93.2 697h0M107.2 659.8h0M70 694.3h0M75.7 686.9h0M96.4 672.9h0M101.7 698.5h0M86.1 668.3h0M89.2 692.4h0M154.5 687.5h0M109.5 696.9h0M111.1 701.3h0M118.2 679.1h0M78.4 695.1h0M101.5 684.2h0M68.3 693.7h0M94.1 692.5h0M90.7 691.2h0M98.7 695.7h0M103.2 680.6h0M136.2 674.2h0M84.2 673.8h0M81 697.7h0M79.8 701.5h0M122.8 693.5h0M145.4 677.9h0M77.7 683.6h0M81 680.7h0M103.7 685.9h0M138.3 701.7h0M127.9 695h0M81.3 660.1h0M78.4 684.5h0M99.6 700.2h0M87.8 688.2h0M77.4 673.5h0M112.1 689.7h0M100.3 680.3h0M80.8 667.2h0M84.9 663.3h0M110.9 679.1h0M106.4 693.1h0M101.1 677.3h0M113.9 693.7h0M129.9 692.4h0M104.7 699.9h0M110 700.3h0M100.3 666.1h0M77.7 696.5h0M73 684h0M88 682.5h0M74.7 677.3h0M93.1 695.2h0M93.7 675.7h0M73.2 690.9h0M148.5 672.4h0M101.3 664.5h0M121.7 701.5h0M99.9 683.5h0M88.2 671.8h0M70 679.6h0M118.1 688.7h0M112.5 659.7h0M96.5 678.8h0M106 665h0M93.3 665.5h0M78.6 689.1h0M144.2 671h0M87.9 700.7h0M99.6 689.2h0M95 665.5h0M68.9 682.3h0M113.9 665.4h0M75.6 672.4h0M85.4 677.2h0M110.8 672.4h0M109.3 697h0M68.8 667.5h0M83.4 687.4h0M98.9 677.5h0M92.6 698.2h0M116.6 691.5h0M154.5 681.1h0M74.6 698h0M73.9 688.6h0M84.6 670.5h0M126.1 682h0M98.5 680.8h0M78.6 659.7h0M82.4 684.5h0M83 669.8h0M104.2 661.6h0M68.3 681.3h0M101 696.8h0M73.5 686.8h0M91.5 701h0M84.7 689.6h0M93.6 689.2h0M110.7 689.1h0M107.9 699.8h0M68.9 683h0M91.8 658.6h0M114.5 680.3h0M106.9 677.5h0M103.4 656.4h0M70.6 669.8h0M70.3 681.5h0M83.2 695.3h0M68.4 694.3h0M111.6 700.5h0M92 692.7h0M68.4 678.3h0M122.8 683.8h0M104.8 677.3h0M85.7 688.3h0M93.3 665.5h0M102.8 697.8h0M75.8 702h0M87.7 703.1h0M90.5 666h0M91.8 685.4h0M75.4 689.3h0M86 682h0M109.1 692.2h0M102.2 688.5h0M76.7 671.5h0M77.2 699.9h0M90.4 684.5h0M103.4 669.7h0M80.2 693.6h0M106.3 669.6h0M76.4 688.8h0M110.6 662.7h0M87.2 667.4h0M91.1 696.1h0M95.5 683.3h0M107.1 673.9h0M77.8 698.5h0M77.6 686.3h0M88.7 677.2h0M71.3 700.7h0M111.3 699.2h0M70.9 671.1h0M72.1 675.8h0M97.1 659.5h0M144.7 680.1h0M96.5 667.2h0M82 691h0M74.3 683.5h0M98.3 685.7h0M77.7 672.5h0M104.1 676.3h0M89.6 680.1h0M88 701h0M107.2 656.7h0M119.3 668.2h0M105.4 666h0M85.6 658.4h0M81.8 690.9h0M85.7 695.2h0M120.6 670h0M90.3 694.6h0M90.4 667.4h0M82.4 664.8h0M94 677.5h0M79.2 698.4h0M74.9 683.6h0M74.6 684.3h0M71.3 683.6h0M85.9 661.2h0M128.2 668.6h0M68.1 672.8h0M103.6 676.1h0M96.2 663.2h0M75.2 696.2h0M110 679.3h0M100.6 670.7h0M87.6 667.2h0M77.4 696.1h0M142 689.6h0M113.4 663.5h0M102.6 677.6h0M96.4 675.3h0M80.2 687.3h0M92.1 683.5h0M94.3 659.4h0M140.8 674.4h0M86.7 657.1h0M93.6 673.2h0M89.1 683.4h0M105.6 669.8h0M83.9 660.2h0M91.3 672.7h0M83.5 674.5h0M91.7 676.7h0M101.2 672.4h0M84.4 684.3h0M88.4 675.7h0M72.9 683.4h0M83.8 689.9h0M107.6 697h0M113 686.4h0M68.9 689.8h0M109.2 682.9h0M117.3 671.3h0M112.1 666.2h0M114.5 693.7h0M83.6 696.5h0M100.8 674.5h0M69 681.1h0M96.9 663.3h0M100.6 695.6h0M85.9 661.2h0M100.7 678.1h0M150.3 659.1h0M88.3 665h0M111.5 689.1h0M73.3 680.5h0M106.8 697.9h0M86.4 691.5h0M108.9 676.5h0M103.5 695h0M101.3 677h0M84.2 686.5h0M95 688.6h0M90.2 665.9h0M74.4 675.6h0M75 681.2h0M114.4 694.6h0M125.1 683.4h0M107.7 699.9h0M109.9 681.5h0M80.4 665.8h0M76.9 692.5h0M96.6 663.5h0M106.1 685.1h0M99.9 671.8h0M85 665.4h0M112.7 671.2h0M87.4 670.8h0M95.4 684.8h0M92.2 685.2h0M104.1 659.4h0M68.7 675.2h0M87.6 689.4h0M79 663.5h0M108.9 693.5h0M79.6 696.4h0M85.3 699.7h0M84.5 699.3h0M94.3 679h0M85.7 669.6h0M77.5 682h0M81.4 656.2h0M96.7 692.9h0M119.7 691h0M144.4 674.4h0M78.2 672.8h0M89.6 670.7h0M92.7 686.6h0M100.1 682.6h0M84.2 698h0M106.8 683.8h0M105.4 666h0M87.5 663.2h0M81.5 689.7h0M69.9 692h0M80.6 693.2h0M74.1 694.2h0M80.8 699.2h0M91.3 665.5h0M111.5 670.4h0M80 692.3h0M125.9 698.4h0M74 686.7h0M100.2 683.6h0M115.1 667.4h0M106.7 697.8h0M101.2 670.7h0M106.7 669.9h0M100.8 697.2h0M148.3 674.8h0M82.8 688.7h0M87.6 663h0M90.9 671.8h0M95.7 668.6h0M106.8 670.4h0M117.2 672h0M85.5 672.8h0M76 690.5h0M75 674.7h0M104.3 699.9h0M68.8 689.7h0M75.3 673.4h0M85.4 674.2h0M78.2 698.5h0M96.2 687.5h0M117 685.6h0M79.4 685.7h0M115.7 697.3h0M94.1 686.8h0M117.7 698.4h0M85.2 672.5h0M112 670.5h0M93.8 670.9h0M110.6 666.2h0M116.4 661.5h0M70.3 693.4h0M116.4 671.5h0M120.6 686.2h0M88 685.7h0M103.7 681.3h0M77.4 692.7h0M91.9 702.9h0M89.3 692.2h0M70.4 693.6h0M76.2 676.2h0M89 693.9h0M87.3 675.9h0M142.9 695.7h0M105.4 687.1h0M68.3 668h0M70.9 674.2h0M114.8 699.5h0M76.1 668.6h0M103.3 686.6h0M81.5 668.6h0M106.9 697.4h0M89.6 692.5h0M100.6 678h0M99.3 659.3h0M83.4 684.4h0M104.3 680.4h0M125.1 659.2h0M100.3 668.6h0M94.7 663.6h0M82.8 683.9h0M86.3 675.8h0M99.6 667.9h0M83.9 666.9h0M80.3 666.1h0M73 680.2h0M101.5 694.6h0M100.4 669.5h0M69.4 697.2h0M112.4 696.7h0M86.8 676.9h0M96.9 702.2h0M76.5 671.6h0M145.9 673h0M105.4 692.7h0M114.8 686.9h0M85.6 671.8h0M95.9 693.4h0M108 660.9h0M104.8 697.8h0M79.9 681.4h0M82 676.9h0M116.8 682.5h0M116.6 678.2h0M85.3 684.7h0M116 663h0M94.8 677.8h0M103.6 676h0M72.6 686.1h0M107.5 671.2h0M76.1 679.7h0M98.5 660.5h0M79.6 698.3h0M109 697h0M76.1 693h0M120.3 677.3h0M78.5 660h0M85.1 699.3h0M79.6 673.7h0M80.1 698.3h0M96.8 659.6h0M88.2 695.8h0M77.7 686.8h0M71.4 668.5h0M77.5 669.7h0M71.3 670.4h0M78.8 702.3h0M84.1 696.1h0M90.8 699.9h0M83.4 669.5h0M92.4 684.1h0M123.2 662.6h0M74.8 673.5h0M73.3 678.2h0M82.8 680.1h0M102.6 681.8h0M106.6 667.1h0M97.4 661.2h0M74.9 699.9h0M99.2 665h0M76.1 699.5h0M97.1 685.4h0M107.1 667.9h0M117.1 695.9h0M78.5 669h0M94 668.3h0M134.8 677.4h0M72.1 669h0M86 698.5h0M88.4 679.1h0M102.5 674.2h0M119.5 698.5h0M96.4 683.4h0M83.4 698.5h0M90.1 675.8h0M88.3 676.9h0M106.1 671.1h0M93.1 693.4h0M103.8 678.3h0M76.3 675.4h0M80.6 697.6h0M70.6 703.4h0M103.1 683.5h0M147.9 701.9h0M93.3 665.2h0M120.7 689.1h0M96.3 692.6h0M123.6 667.5h0M119.3 677h0M109.5 685.5h0M82.4 683.4h0M91.6 678.7h0M72.5 679.9h0M111 671.9h0M68.1 672.9h0M112.6 659.7h0M69.9 697.3h0M106.7 659.1h0M78.7 672.8h0M118.6 668.5h0M68.2 688.6h0M103.5 698.9h0M83.5 668.6h0M103.2 661.5h0M85.2 684.3h0M89.8 671.4h0M93.2 698.3h0M82.5 668.3h0M102.9 688.8h0M83.8 681.4h0M108.3 681.5h0M97.8 691.3h0M97.7 660.2h0M95.5 671.1h0M102.7 669.7h0M78.6 679.1h0M94.3 695.9h0M113 667.9h0M104.4 701.9h0M82.5 669.2h0M74 681.8h0M79 682h0M77.7 702.4h0M85.5 677.1h0M95.8 661.7h0M105.7 675.8h0M83.7 691.2h0M71 680.2h0M116.9 668.7h0M104.7 690.4h0M105.9 668.1h0M92.3 695.9h0M95.5 693.6h0M87.3 681.1h0M100.3 662.9h0M86.8 665.7h0M75.6 690.3h0M119.9 667.2h0M89 700.7h0M71.5 702h0M75.1 685.4h0M77.3 679.5h0M105.7 657.2h0M82 671.4h0M94.2 658.4h0M109.4 702.1h0M88 698.6h0M90.5 688.1h0M79.5 665.1h0M69 682.6h0M81.8 682.2h0M115 679.4h0M68.2 669.8h0M98.7 665.5h0M74.4 697.8h0M81.5 674.4h0M104.1 692.2h0M104.4 688.1h0M102.4 659.8h0M111.8 683.6h0M73.3 686.6h0M82.5 666.4h0M127 684.5h0M147.3 698.6h0M120.7 663.3h0M80.7 687.5h0M106.4 689h0M103.1 692.8h0M77.3 702.1h0M84.1 691.6h0M80.5 673.9h0M109.3 694h0M115 668.9h0M86.1 677.4h0M72.5 683.4h0M75.4 680.1h0M96.6 676.2h0M100.9 702.1h0M98.2 671.1h0M113.9 661.5h0M80.5 669.4h0M68.9 696.9h0M68.6 695.3h0M88.5 666.8h0M87 689.4h0M118.3 668.2h0M104.4 666.5h0M82 696.6h0M68.8 677.6h0M90.9 683.9h0M79.2 701.6h0M97.6 656.1h0M96.5 698.9h0M124 687.1h0M126 672.6h0M119.9 661.1h0M81.2 665.7h0M105.1 677h0M90.2 686.2h0M71.4 695.4h0M116.8 689.4h0M77.1 686.6h0M123 663.5h0M99.7 668.7h0M127.7 670.7h0M75.6 685.3h0M75.7 698.8h0M69.2 667.7h0M94.5 680.6h0M76 676.2h0M98.5 696.4h0M82.6 662.1h0M68.8 680.8h0M73.9 701h0M99.3 664.2h0M77.6 669.8h0M76.7 690.8h0M122.9 699.1h0M101.7 664.9h0M70 695.2h0M83.3 694.7h0M83.8 700.4h0M72.1 674.7h0M69.1 687.5h0M77.8 680.9h0M85.1 663.6h0M81.8 686.2h0M73.1 698.1h0M104.2 690.4h0M85.2 676.4h0M110 674h0M88.9 685.5h0M74.1 698.4h0M108.5 669.4h0M78.2 697.5h0M73.7 692.9h0M74.4 701.6h0M77.2 699.3h0M101.2 667.3h0M109.9 672.2h0M103.6 699.9h0M77.3 678.8h0M107.2 688.9h0M86.9 680.3h0M102 665h0M78 662.3h0M86.8 661.4h0M91.5 682h0M112.7 660.8h0M115 691.8h0M101.1 681.7h0M73.8 697.4h0M97.3 680.6h0M70.6 682.6h0M120.3 674.4h0M77.6 699.2h0M98.1 681.1h0M102.1 655.8h0M81.7 670.2h0M72.3 698.7h0M78.3 673.7h0M118.1 680.1h0M127.9 695.9h0M100.4 693.9h0M85.7 690.2h0M86.7 675.3h0M77.2 690.4h0M104.6 693.4h0M129 666.8h0M90.9 677.5h0M86.6 692.9h0M82.9 670.3h0M109.6 660.1h0M108.8 671.8h0M86.1 663.2h0M110.4 687.2h0M122.5 694h0M107.8 687h0M107.7 661.5h0M106.6 694.3h0M103.6 696.2h0M104.1 660.3h0M80.1 700.3h0M128.9 676h0M75.6 693.9h0M103.1 701.7h0M105 700.6h0M79 661.6h0M111.4 695.4h0M109.9 697.9h0M76.7 696.5h0M102.4 658.8h0M101.4 679.9h0M74.8 696.5h0M70 695.4h0M84.6 675.9h0M68.9 681.3h0M81.3 658.6h0M92.4 665.9h0M108.2 697.6h0M77.7 681.5h0M91.1 692.7h0M113.2 702.1h0M91.3 675.2h0M89.9 680.2h0M108.5 691.2h0M102.3 676.4h0M106.3 683.9h0M92.6 678.4h0M103.9 666.2h0M106.9 679h0M112.9 702.5h0M92.4 677.1h0M101.6 689.2h0M70.1 702.7h0M85.2 670.6h0M85.1 676h0M111.5 660.2h0M72.9 679.5h0M76.6 696.5h0M97.4 681.1h0M102.6 680.7h0M79.5 663.3h0M79.5 662.2h0M82.5 666.3h0M82.7 669.6h0M87.5 663.2h0M108.1 692.5h0M96 700.2h0M96.6 658.5h0M106.3 670.9h0M114.3 698.4h0M88.8 658.1h0M90.8 674.6h0M89.6 666.3h0M97.7 697.9h0M89.2 699.8h0M89.7 676.4h0M75.9 683.6h0M68.2 673.1h0M94.1 696.5h0M89.5 680.9h0M90.2 689h0M85.8 669.6h0M101.4 695.8h0M108.5 661.9h0M107.5 693.9h0M113.2 661.5h0M114.3 658.4h0M94.4 669.1h0M109.4 693.2h0M74.8 678.5h0M75.5 686.2h0M83.9 678h0M151.9 695.8h0M84.3 695.9h0M93.9 667.3h0M95.5 684.1h0M79.9 679.7h0M99.5 664.3h0M79.9 683.6h0M82.6 680.6h0M109 674.9h0M68 700.7h0M85.2 684.8h0M78.4 669.4h0M72.5 677.1h0M90.4 695.6h0M94 658.6h0M79.8 677.6h0M95.5 698.8h0M77.4 679.7h0M99.3 670.8h0M103.7 659.8h0M92.6 676.7h0M76.3 695.4h0M73.5 702.5h0M96.1 668.5h0M94.2 675.8h0M75.2 688.8h0M99.7 668.8h0M140.3 684.3h0M106.3 682.3h0M139.8 675.8h0M152.8 663.5h0M81.1 693.3h0M69.6 689.8h0M125.1 680.8h0M101.2 701.2h0M105.8 674h0M111.5 661.8h0M135.8 679.6h0M96.9 657.2h0M101 700.3h0M68.6 681.2h0M71.6 700.2h0M110.2 672.6h0M72.2 700h0M116.6 657.3h0M80.8 674.4h0M97.4 695.5h0M110.4 702.6h0M91 680.5h0M82 672.7h0M74.6 680.1h0M100.8 674.5h0M96.7 696.6h0M76.9 697.9h0M100.6 701.3h0M112.6 689.5h0M78.5 685h0M110.8 692.1h0M100.5 678.6h0M117.9 690.5h0M104.2 667h0M89.5 706.5h0M94.1 706.5h0M115.4 706.5h0M102.1 706.5h0M122.2 706.5h0M104.1 706.5h0M94.6 706.5h0M91.8 706.5h0M87.6 706.5h0M88.9 706.5h0M102 706.5h0M102.9 706.5h0M68.9 706.5h0M82.6 706.5h0M117.7 706.5h0M105.3 706.5h0M89 706.5h0M77.1 706.5h0M74.8 706.5h0M122.4 706.5h0M99.9 706.5h0M124.9 706.5h0M113.5 706.5h0M109.5 706.5h0M104 706.5h0M124.9 706.5h0M126.7 706.5h0M84.7 706.5h0M123.4 706.5h0M75.2 706.5h0M93 706.5h0M97.9 706.5h0M119.7 706.5h0M69.1 706.5h0M95.9 706.5h0M95.4 706.5h0M89.7 706.5h0M119.3 706.5h0M106.5 706.5h0M117.1 706.5h0M92.8 706.5h0M115.4 706.5h0M120.1 706.5h0M76.4 706.5h0M88.4 706.5h0M106.9 706.5h0M122.7 706.5h0M108.6 706.5h0M85.5 706.5h0M110.9 706.5h0M114.6 706.5h0M91.6 706.5h0M122.1 706.5h0M97.8 706.5h0M84.7 706.5h0M113.2 706.5h0M109.4 706.5h0M81 706.5h0M113.2 706.5h0M125.9 706.5h0M119.8 706.5h0M94.1 706.5h0M108 706.5h0M111.2 706.5h0M106.2 706.5h0M84.4 706.5h0M98.5 706.5h0M91.7 706.5h0M86.1 706.5h0M69 706.5h0M105 706.5h0M97.4 706.5h0M94.3 706.5h0M69.7 706.5h0M104.2 706.5h0M107.3 706.5h0M85.4 706.5h0M85.9 706.5h0M78.7 706.5h0M103.2 706.5h0M121.1 706.5h0M75.8 706.5h0M126.2 706.5h0M98 706.5h0M84 706.5h0M99.7 706.5h0M96.3 706.5h0M117.6 706.5h0M115 706.5h0M116.1 706.5h0M108 706.5h0M93.6 706.5h0M106.7 706.5h0M102.1 706.5h0M116.9 706.5h0M96.1 706.5h0M104.1 706.5h0M99.3 706.5h0M92.1 706.5h0M69.3 706.5h0M75.1 706.5h0M93 706.5h0M85.5 706.5h0M87.9 706.5h0M89 706.5h0M80.9 706.5h0M97 706.5h0M124.5 706.5h0M95.9 706.5h0M98.7 706.5h0M143.8 706.5h0" stroke="#2d2482" stroke-width="2.3" stroke-linecap="round" fill="none"/>
<rect x="178" y="564.4" width="19.5" height="8" fill="#fff" opacity="0.85"/><text x="187.75" y="570.9" font-size="7.2" text-anchor="middle" fill="#2a2a2a" stroke="#2a2a2a" stroke-width="0.2">NRAS</text>
<circle cx="188" cy="574" r="1.7" fill="#000"/>
<rect x="168.4" y="615.6" width="21" height="8" fill="#fff" opacity="0.85"/><text x="178.9" y="622.1" font-size="7.2" text-anchor="middle" fill="#2a2a2a" stroke="#2a2a2a" stroke-width="0.2">BRAF</text>
<circle cx="178" cy="626.2" r="1.7" fill="#000"/>
<path d="M505.9 432.47A111.6 111.6 0 0 1 493.24 483.13L489.69 481.28A107.6 107.6 0 0 0 501.9 432.44Z" fill="#fff"/>
<path d="M492.33 484.84A111.6 111.6 0 0 1 458.39 522.86L456.09 519.59A107.6 107.6 0 0 0 488.81 482.93Z" fill="#fff"/>
<path d="M456.78 523.97A111.6 111.6 0 0 1 418.56 540.43L417.69 536.53A107.6 107.6 0 0 0 454.54 520.65Z" fill="#fff"/>
<path d="M416.66 540.84A111.6 111.6 0 0 1 376.47 541.67L377.11 537.72A107.6 107.6 0 0 0 415.85 536.92Z" fill="#fff"/>
<path d="M374.55 541.34A111.6 111.6 0 0 1 338.79 528.31L340.78 524.84A107.6 107.6 0 0 0 375.26 537.4Z" fill="#fff"/>
<path d="M337.11 527.33A111.6 111.6 0 0 1 309.56 504.13L312.6 501.52A107.6 107.6 0 0 0 339.16 523.9Z" fill="#fff"/>
<path d="M308.31 502.64A111.6 111.6 0 0 1 291.07 473.9L294.77 472.38A107.6 107.6 0 0 0 311.39 500.09Z" fill="#fff"/>
<path d="M290.34 472.09A111.6 111.6 0 0 1 283.2 442.08L287.18 441.7A107.6 107.6 0 0 0 294.07 470.64Z" fill="#fff"/>
<path d="M283.03 440.14A111.6 111.6 0 0 1 284.71 410.42L288.64 411.18A107.6 107.6 0 0 0 287.02 439.83Z" fill="#fff"/>
<path d="M285.09 408.51A111.6 111.6 0 0 1 294.51 381.54L298.09 383.33A107.6 107.6 0 0 0 289.01 409.34Z" fill="#fff"/>
<path d="M295.4 379.8A111.6 111.6 0 0 1 311.69 356.47L314.65 359.15A107.6 107.6 0 0 0 298.94 381.66Z" fill="#fff"/>
<path d="M313.01 355.04A111.6 111.6 0 0 1 334.79 337.09L336.93 340.47A107.6 107.6 0 0 0 315.93 357.78Z" fill="#fff"/>
<path d="M336.45 336.06A111.6 111.6 0 0 1 358.49 325.8L359.77 329.59A107.6 107.6 0 0 0 338.52 339.48Z" fill="#fff"/>
<path d="M360.34 325.19A111.6 111.6 0 0 1 382.5 320.53L382.92 324.5A107.6 107.6 0 0 0 361.55 329Z" fill="#fff"/>
<path d="M384.44 320.34A111.6 111.6 0 0 1 406.07 320.52L405.65 324.5A107.6 107.6 0 0 0 384.79 324.32Z" fill="#fff"/>
<path d="M408.01 320.74A111.6 111.6 0 0 1 426.67 324.7L425.51 328.53A107.6 107.6 0 0 0 407.51 324.71Z" fill="#fff"/>
<path d="M428.53 325.28A111.6 111.6 0 0 1 444.4 331.78L442.61 335.35A107.6 107.6 0 0 0 427.3 329.09Z" fill="#fff"/>
<path d="M446.13 332.67A111.6 111.6 0 0 1 460.14 341.39L457.78 344.62A107.6 107.6 0 0 0 444.28 336.21Z" fill="#fff"/>
<path d="M461.7 342.55A111.6 111.6 0 0 1 471.22 350.64L468.46 353.54A107.6 107.6 0 0 0 459.28 345.74Z" fill="#fff"/>
<path d="M472.62 351.99A111.6 111.6 0 0 1 481.53 361.88L478.4 364.38A107.6 107.6 0 0 0 469.81 354.84Z" fill="#fff"/>
<path d="M482.73 363.42A111.6 111.6 0 0 1 488.56 371.75L485.18 373.89A107.6 107.6 0 0 0 479.56 365.86Z" fill="#fff"/>
<path d="M489.58 373.4A111.6 111.6 0 0 1 494.77 382.92L491.17 384.66A107.6 107.6 0 0 0 486.17 375.48Z" fill="#fff"/>
<path d="M495.6 384.68A111.6 111.6 0 0 1 504.83 416.07L500.87 416.62A107.6 107.6 0 0 0 491.97 386.36Z" fill="#fff"/>
<path d="M505.08 418A111.6 111.6 0 0 1 505.9 430.53L501.9 430.56A107.6 107.6 0 0 0 501.11 418.48Z" fill="#fff"/>
<path d="M505.81 435.87A111.6 111.6 0 0 1 505.76 437.16L501.76 436.96A107.6 107.6 0 0 0 501.82 435.72ZM498.7 470.94A111.6 111.6 0 0 1 498.23 472.15L494.51 470.69A107.6 107.6 0 0 0 494.96 469.52ZM479.29 503.83A111.6 111.6 0 0 1 478.56 504.68L475.54 502.05A107.6 107.6 0 0 0 476.24 501.24ZM462.72 519.67A111.6 111.6 0 0 1 462.01 520.21L459.58 517.03A107.6 107.6 0 0 0 460.27 516.51ZM435.01 535.41A111.6 111.6 0 0 1 433.7 535.92L432.28 532.17A107.6 107.6 0 0 0 433.56 531.68ZM397.25 543.06A111.6 111.6 0 0 1 396.14 543.08L396.07 539.09A107.6 107.6 0 0 0 397.15 539.06ZM379.4 542.1A111.6 111.6 0 0 1 377.88 541.88L378.46 537.93A107.6 107.6 0 0 0 379.94 538.14ZM374.55 541.34A111.6 111.6 0 0 1 373.59 541.16L374.33 537.23A107.6 107.6 0 0 0 375.26 537.4ZM345.86 532.04A111.6 111.6 0 0 1 344.98 531.61L346.75 528.02A107.6 107.6 0 0 0 347.59 528.44ZM319.12 513.98A111.6 111.6 0 0 1 318.2 513.13L320.93 510.2A107.6 107.6 0 0 0 321.82 511.02ZM290.34 472.09A111.6 111.6 0 0 1 289.85 470.79L293.59 469.39A107.6 107.6 0 0 0 294.07 470.64ZM285.12 454.63A111.6 111.6 0 0 1 284.85 453.31L288.77 452.52A107.6 107.6 0 0 0 289.04 453.8ZM283.03 440.14A111.6 111.6 0 0 1 282.92 438.49L286.91 438.24A107.6 107.6 0 0 0 287.02 439.83ZM282.77 435.42A111.6 111.6 0 0 1 282.74 434.3L286.73 434.2A107.6 107.6 0 0 0 286.77 435.28ZM286.09 404.18A111.6 111.6 0 0 1 286.49 402.66L290.36 403.69A107.6 107.6 0 0 0 289.97 405.16ZM304.24 365.59A111.6 111.6 0 0 1 304.82 364.81L308.02 367.2A107.6 107.6 0 0 0 307.47 367.95ZM309.71 358.71A111.6 111.6 0 0 1 310.48 357.82L313.49 360.46A107.6 107.6 0 0 0 312.74 361.32ZM313.01 355.04A111.6 111.6 0 0 1 313.85 354.15L316.73 356.93A107.6 107.6 0 0 0 315.93 357.78ZM332.66 338.47A111.6 111.6 0 0 1 333.7 337.79L335.87 341.15A107.6 107.6 0 0 0 334.87 341.8ZM358.08 325.94A111.6 111.6 0 0 1 358.49 325.8L359.77 329.59A107.6 107.6 0 0 0 359.38 329.72ZM419.57 322.8A111.6 111.6 0 0 1 421.18 323.18L420.21 327.07A107.6 107.6 0 0 0 418.66 326.69ZM446.13 332.67A111.6 111.6 0 0 1 447.21 333.24L445.32 336.76A107.6 107.6 0 0 0 444.28 336.21ZM463.99 344.34A111.6 111.6 0 0 1 465.14 345.27L462.6 348.36A107.6 107.6 0 0 0 461.49 347.46ZM486.71 368.92A111.6 111.6 0 0 1 487.59 370.25L484.24 372.44A107.6 107.6 0 0 0 483.39 371.17ZM505.08 418A111.6 111.6 0 0 1 505.17 418.78L501.2 419.24A107.6 107.6 0 0 0 501.11 418.48Z" fill="#000000"/>
<path d="M505.17 444.27A111.6 111.6 0 0 1 505.07 445.11L501.1 444.62A107.6 107.6 0 0 0 501.19 443.81ZM503.7 453.53A111.6 111.6 0 0 1 503.37 455.14L499.46 454.29A107.6 107.6 0 0 0 499.78 452.74ZM486.66 494.14A111.6 111.6 0 0 1 486.12 494.93L482.83 492.65A107.6 107.6 0 0 0 483.35 491.9ZM466.29 516.78A111.6 111.6 0 0 1 465.31 517.59L462.76 514.51A107.6 107.6 0 0 0 463.71 513.72ZM429.69 537.34A111.6 111.6 0 0 1 428.95 537.59L427.7 533.78A107.6 107.6 0 0 0 428.43 533.54ZM409.44 542.07A111.6 111.6 0 0 1 408.34 542.21L407.84 538.25A107.6 107.6 0 0 0 408.9 538.1ZM357.73 536.94A111.6 111.6 0 0 1 356.95 536.67L358.29 532.9A107.6 107.6 0 0 0 359.04 533.16ZM306.14 499.92A111.6 111.6 0 0 1 305.51 499.1L308.69 496.68A107.6 107.6 0 0 0 309.3 497.47ZM292.34 476.88A111.6 111.6 0 0 1 291.78 475.6L295.46 474.02A107.6 107.6 0 0 0 296 475.25ZM282.89 424.91A111.6 111.6 0 0 1 282.94 424.16L286.93 424.42A107.6 107.6 0 0 0 286.89 425.15ZM289.78 392.37A111.6 111.6 0 0 1 290.2 391.28L293.93 392.72A107.6 107.6 0 0 0 293.53 393.77ZM403.59 320.29A111.6 111.6 0 0 1 404.89 320.4L404.51 324.39A107.6 107.6 0 0 0 403.25 324.27ZM424.02 323.93A111.6 111.6 0 0 1 425.19 324.26L424.08 328.1A107.6 107.6 0 0 0 422.96 327.79ZM428.53 325.28A111.6 111.6 0 0 1 429.3 325.53L428.04 329.33A107.6 107.6 0 0 0 427.3 329.09ZM479.81 359.78A111.6 111.6 0 0 1 480.46 360.57L477.37 363.11A107.6 107.6 0 0 0 476.74 362.36ZM496.85 387.48A111.6 111.6 0 0 1 497.28 388.49L493.59 390.03A107.6 107.6 0 0 0 493.18 389.06ZM502.77 405.25A111.6 111.6 0 0 1 503.02 406.33L499.13 407.23A107.6 107.6 0 0 0 498.88 406.19Z" fill="#5a5a5a"/>
<path d="M502.63 458.32A111.6 111.6 0 0 1 502.48 458.93L498.6 457.95A107.6 107.6 0 0 0 498.75 457.36ZM481.62 501A111.6 111.6 0 0 1 481.22 501.5L478.1 498.99A107.6 107.6 0 0 0 478.49 498.51ZM440.28 533.19A111.6 111.6 0 0 1 439.7 533.45L438.08 529.79A107.6 107.6 0 0 0 438.63 529.54ZM406.44 542.44A111.6 111.6 0 0 1 405.81 542.5L405.4 538.53A107.6 107.6 0 0 0 406.01 538.46ZM364.88 539.15A111.6 111.6 0 0 1 364.27 538.98L365.35 535.13A107.6 107.6 0 0 0 365.94 535.29ZM326.69 520.29A111.6 111.6 0 0 1 326.19 519.9L328.63 516.74A107.6 107.6 0 0 0 329.11 517.11ZM300.98 492.71A111.6 111.6 0 0 1 300.64 492.17L303.99 490A107.6 107.6 0 0 0 304.33 490.51ZM287.32 463.28A111.6 111.6 0 0 1 287.14 462.67L290.98 461.55A107.6 107.6 0 0 0 291.15 462.14ZM282.71 430.1A111.6 111.6 0 0 1 282.72 429.47L286.72 429.54A107.6 107.6 0 0 0 286.71 430.15ZM287.07 400.57A111.6 111.6 0 0 1 287.25 399.96L291.09 401.1A107.6 107.6 0 0 0 290.91 401.68ZM300.98 370.29A111.6 111.6 0 0 1 301.33 369.76L304.66 371.98A107.6 107.6 0 0 0 304.33 372.49ZM318.15 349.92A111.6 111.6 0 0 1 318.61 349.49L321.33 352.43A107.6 107.6 0 0 0 320.88 352.84ZM339.44 334.31A111.6 111.6 0 0 1 340 334L341.94 337.5A107.6 107.6 0 0 0 341.41 337.8ZM363.59 324.21A111.6 111.6 0 0 1 364.2 324.03L365.28 327.89A107.6 107.6 0 0 0 364.69 328.05ZM388.13 320.07A111.6 111.6 0 0 1 388.76 320.04L388.96 324.03A107.6 107.6 0 0 0 388.35 324.06ZM415.34 321.9A111.6 111.6 0 0 1 415.96 322.02L415.18 325.95A107.6 107.6 0 0 0 414.58 325.83ZM433.03 326.83A111.6 111.6 0 0 1 433.62 327.06L432.21 330.8A107.6 107.6 0 0 0 431.64 330.59ZM449.05 334.25A111.6 111.6 0 0 1 449.6 334.57L447.62 338.04A107.6 107.6 0 0 0 447.09 337.74ZM465.84 345.84A111.6 111.6 0 0 1 466.32 346.25L463.74 349.31A107.6 107.6 0 0 0 463.27 348.91ZM476.44 355.95A111.6 111.6 0 0 1 476.86 356.41L473.9 359.11A107.6 107.6 0 0 0 473.49 358.65ZM484.21 365.39A111.6 111.6 0 0 1 484.59 365.91L481.35 368.26A107.6 107.6 0 0 0 480.99 367.76ZM491.01 375.8A111.6 111.6 0 0 1 491.32 376.35L487.84 378.33A107.6 107.6 0 0 0 487.54 377.8ZM500.2 396.29A111.6 111.6 0 0 1 500.4 396.9L496.6 398.14A107.6 107.6 0 0 0 496.41 397.55ZM505.34 420.31A111.6 111.6 0 0 1 505.4 420.94L501.42 421.32A107.6 107.6 0 0 0 501.36 420.71Z" fill="#e8a0a0"/>
<path d="M492.33 484.84A111.6 111.6 0 0 1 491.54 486.27L488.05 484.3A107.6 107.6 0 0 0 488.81 482.93ZM483.46 498.62A111.6 111.6 0 0 1 482.54 499.83L479.37 497.38A107.6 107.6 0 0 0 480.26 496.22ZM476.46 507.03A111.6 111.6 0 0 1 475.77 507.77L472.85 505.04A107.6 107.6 0 0 0 473.52 504.32ZM470.57 512.97A111.6 111.6 0 0 1 469.89 513.6L467.18 510.66A107.6 107.6 0 0 0 467.84 510.05ZM456.78 523.97A111.6 111.6 0 0 1 455.4 524.89L453.21 521.54A107.6 107.6 0 0 0 454.54 520.65ZM425.35 538.69A111.6 111.6 0 0 1 424.03 539.07L422.96 535.21A107.6 107.6 0 0 0 424.24 534.85ZM333.8 525.28A111.6 111.6 0 0 1 332.48 524.41L334.7 521.08A107.6 107.6 0 0 0 335.97 521.92ZM288.41 466.75A111.6 111.6 0 0 1 288.09 465.75L291.89 464.52A107.6 107.6 0 0 0 292.21 465.48ZM282.7 430.5A111.6 111.6 0 0 1 282.71 430.1L286.71 430.15A107.6 107.6 0 0 0 286.7 430.54ZM306.82 362.2A111.6 111.6 0 0 1 307.58 361.26L310.68 363.78A107.6 107.6 0 0 0 309.96 364.68ZM344.32 331.72A111.6 111.6 0 0 1 345.61 331.08L347.35 334.68A107.6 107.6 0 0 0 346.11 335.3ZM414.98 321.83A111.6 111.6 0 0 1 415.34 321.9L414.58 325.83A107.6 107.6 0 0 0 414.23 325.76ZM470 349.5A111.6 111.6 0 0 1 470.91 350.35L468.17 353.26A107.6 107.6 0 0 0 467.29 352.44ZM505.76 425.89A111.6 111.6 0 0 1 505.82 427.16L501.82 427.32A107.6 107.6 0 0 0 501.76 426.09Z" fill="#969696"/>
<path d="M336.45 336.06A111.6 111.6 0 0 1 337.7 335.32L339.72 338.77A107.6 107.6 0 0 0 338.52 339.48ZM337.7 335.32A111.6 111.6 0 0 1 338.51 334.85L340.51 338.31A107.6 107.6 0 0 0 339.72 338.77ZM338.51 334.85A111.6 111.6 0 0 1 339.44 334.31L341.41 337.8A107.6 107.6 0 0 0 340.51 338.31ZM360.34 325.19A111.6 111.6 0 0 1 361.4 324.86L362.58 328.68A107.6 107.6 0 0 0 361.55 329ZM361.4 324.86A111.6 111.6 0 0 1 362.53 324.52L363.67 328.35A107.6 107.6 0 0 0 362.58 328.68ZM362.53 324.52A111.6 111.6 0 0 1 363.59 324.21L364.69 328.05A107.6 107.6 0 0 0 363.67 328.35ZM384.44 320.34A111.6 111.6 0 0 1 385.77 320.23L386.07 324.21A107.6 107.6 0 0 0 384.79 324.32ZM385.77 320.23A111.6 111.6 0 0 1 386.65 320.16L386.93 324.15A107.6 107.6 0 0 0 386.07 324.21ZM386.65 320.16A111.6 111.6 0 0 1 387.97 320.08L388.2 324.07A107.6 107.6 0 0 0 386.93 324.15ZM387.97 320.08A111.6 111.6 0 0 1 388.13 320.07L388.35 324.06A107.6 107.6 0 0 0 388.2 324.07ZM482.73 363.42A111.6 111.6 0 0 1 483.33 364.21L480.14 366.62A107.6 107.6 0 0 0 479.56 365.86ZM483.33 364.21A111.6 111.6 0 0 1 483.86 364.91L480.65 367.3A107.6 107.6 0 0 0 480.14 366.62ZM483.86 364.91A111.6 111.6 0 0 1 484.21 365.39L480.99 367.76A107.6 107.6 0 0 0 480.65 367.3ZM489.58 373.4A111.6 111.6 0 0 1 490.25 374.5L486.81 376.55A107.6 107.6 0 0 0 486.17 375.48ZM490.25 374.5A111.6 111.6 0 0 1 490.91 375.63L487.44 377.63A107.6 107.6 0 0 0 486.81 376.55ZM490.91 375.63A111.6 111.6 0 0 1 491.01 375.8L487.54 377.8A107.6 107.6 0 0 0 487.44 377.63Z" fill="#dcdcdc"/>
<path d="M501.82 435.72L505.81 435.87M501.76 436.96L505.76 437.16M501.5 440.75L505.49 441.09M501.19 443.81L505.17 444.27M501.1 444.62L505.07 445.11M500.53 448.6L504.48 449.23M499.78 452.74L503.7 453.53M499.46 454.29L503.37 455.14M498.75 457.36L502.63 458.32M498.6 457.95L502.48 458.93M497.7 461.26L501.55 462.36M496.14 466.25L499.92 467.54M494.96 469.52L498.7 470.94M494.51 470.69L498.23 472.15M492.7 475.03L496.36 476.65M490.79 479.12L494.37 480.9M488.05 484.3L491.54 486.27M485.86 488.02L489.26 490.13M483.35 491.9L486.66 494.14M482.83 492.65L486.12 494.93M480.26 496.22L483.46 498.62M479.37 497.38L482.54 499.83M478.49 498.51L481.62 501M478.1 498.99L481.22 501.5M476.24 501.24L479.29 503.83M475.54 502.05L478.56 504.68M473.52 504.32L476.46 507.03M472.85 505.04L475.77 507.77M470.5 507.47L473.33 510.29M467.84 510.05L470.57 512.97M467.18 510.66L469.89 513.6M463.71 513.72L466.29 516.78M462.76 514.51L465.31 517.59M460.27 516.51L462.72 519.67M459.58 517.03L462.01 520.21M453.21 521.54L455.4 524.89M449.18 524.05L451.22 527.49M446.03 525.85L447.95 529.36M443.23 527.33L445.05 530.89M438.8 529.47L440.45 533.11M438.63 529.54L440.28 533.19M438.08 529.79L439.7 533.45M433.56 531.68L435.01 535.41M432.28 532.17L433.7 535.92M428.43 533.54L429.69 537.34M427.7 533.78L428.95 537.59M424.24 534.85L425.35 538.69M422.96 535.21L424.03 539.07M419.05 536.21L419.97 540.11M412.92 537.48L413.62 541.42M408.9 538.1L409.44 542.07M407.84 538.25L408.34 542.21M406.01 538.46L406.44 542.44M405.4 538.53L405.81 542.5M400.8 538.9L401.04 542.9M397.15 539.06L397.25 543.06M396.07 539.09L396.14 543.08M392.5 539.08L392.44 543.08M389.61 539L389.43 542.99M384.53 538.66L384.16 542.64M379.94 538.14L379.4 542.1M378.46 537.93L377.88 541.88M374.33 537.23L373.59 541.16M370.84 536.51L369.97 540.42M366.8 535.53L365.78 539.39M365.94 535.29L364.88 539.15M365.35 535.13L364.27 538.98M362.54 534.31L361.36 538.13M359.04 533.16L357.73 536.94M358.29 532.9L356.95 536.67M354.54 531.48L353.06 535.2M350.47 529.77L348.84 533.42M347.59 528.44L345.86 532.04M346.75 528.02L344.98 531.61M343.73 526.48L341.85 530.01M340.89 524.91L338.91 528.38M335.97 521.92L333.8 525.28M334.7 521.08L332.48 524.41M332.2 519.37L329.89 522.64M329.11 517.11L326.69 520.29M328.63 516.74L326.19 519.9M325.35 514.1L322.78 517.17M321.82 511.02L319.12 513.98M320.93 510.2L318.2 513.13M318.89 508.25L316.09 511.11M315.48 504.75L312.55 507.47M309.3 497.47L306.14 499.92M308.69 496.68L305.51 499.1M305.94 492.9L302.65 495.18M304.33 490.51L300.98 492.71M303.99 490L300.64 492.17M302.36 487.4L298.94 489.47M299.88 483.1L296.37 485.02M297.49 478.47L293.89 480.22M296 475.25L292.34 476.88M295.46 474.02L291.78 475.6M293.59 469.39L289.85 470.79M292.21 465.48L288.41 466.75M291.89 464.52L288.09 465.75M291.15 462.14L287.32 463.28M290.98 461.55L287.14 462.67M289.95 457.77L286.08 458.74M289.04 453.8L285.12 454.63M288.77 452.52L284.85 453.31M288.12 448.9L284.17 449.54M287.47 444.39L283.5 444.87M286.91 438.24L282.92 438.49M286.77 435.28L282.77 435.42M286.73 434.2L282.74 434.3M286.7 430.54L282.7 430.5M286.71 430.15L282.71 430.1M286.72 429.54L282.72 429.47M286.89 425.15L282.89 424.91M286.93 424.42L282.94 424.16M287.25 420.64L283.27 420.23M287.75 416.53L283.79 415.97M288.56 411.59L284.63 410.85M289.97 405.16L286.09 404.18M290.36 403.69L286.49 402.66M290.91 401.68L287.07 400.57M291.09 401.1L287.25 399.96M292.03 398.06L288.23 396.81M293.53 393.77L289.78 392.37M293.93 392.72L290.2 391.28M295.61 388.63L291.94 387.03M297.44 384.65L293.83 382.91M300.63 378.55L297.15 376.58M303.24 374.17L299.86 372.04M304.33 372.49L300.98 370.29M304.66 371.98L301.33 369.76M307.47 367.95L304.24 365.59M308.02 367.2L304.82 364.81M309.96 364.68L306.82 362.2M310.68 363.78L307.58 361.26M312.74 361.32L309.71 358.71M313.49 360.46L310.48 357.82M316.73 356.93L313.85 354.15M319.66 354L316.88 351.12M320.88 352.84L318.15 349.92M321.33 352.43L318.61 349.49M325.12 349.08L322.55 346.02M328.56 346.32L326.11 343.15M330.97 344.51L328.61 341.28M334.87 341.8L332.66 338.47M335.87 341.15L333.7 337.79M339.72 338.77L337.7 335.32M340.51 338.31L338.51 334.85M341.41 337.8L339.44 334.31M341.94 337.5L340 334M346.11 335.3L344.32 331.72M347.35 334.68L345.61 331.08M350.3 333.31L348.67 329.66M355.18 331.27L353.72 327.54M359.38 329.72L358.08 325.94M362.58 328.68L361.4 324.86M363.67 328.35L362.53 324.52M364.69 328.05L363.59 324.21M365.28 327.89L364.2 324.03M370.28 326.62L369.38 322.72M375.31 325.59L374.6 321.65M379.83 324.88L379.29 320.91M386.07 324.21L385.77 320.23M386.93 324.15L386.65 320.16M388.2 324.07L387.97 320.08M388.35 324.06L388.13 320.07M388.96 324.03L388.76 320.04M392.26 323.92L392.18 319.92M396.63 323.93L396.72 319.93M399.93 324.05L400.14 320.05M403.25 324.27L403.59 320.29M404.51 324.39L404.89 320.4M410.99 325.2L411.61 321.25M414.23 325.76L414.98 321.83M414.58 325.83L415.34 321.9M415.18 325.95L415.96 322.02M418.66 326.69L419.57 322.8M420.21 327.07L421.18 323.18M422.96 327.79L424.02 323.93M424.08 328.1L425.19 324.26M428.04 329.33L429.3 325.53M431.64 330.59L433.03 326.83M432.21 330.8L433.62 327.06M435.83 332.24L437.37 328.55M439.68 333.94L441.36 330.31M445.32 336.76L447.21 333.24M447.09 337.74L449.05 334.25M447.62 338.04L449.6 334.57M450.18 339.55L452.26 336.13M454.03 342L456.25 338.67M456.47 343.68L458.78 340.42M461.49 347.46L463.99 344.34M462.6 348.36L465.14 345.27M463.27 348.91L465.84 345.84M463.74 349.31L466.32 346.25M467.29 352.44L470 349.5M468.17 353.26L470.91 350.35M471.83 356.89L474.71 354.11M473.49 358.65L476.44 355.95M473.9 359.11L476.86 356.41M476.74 362.36L479.81 359.78M477.37 363.11L480.46 360.57M480.14 366.62L483.33 364.21M480.65 367.3L483.86 364.91M480.99 367.76L484.21 365.39M481.35 368.26L484.59 365.91M483.39 371.17L486.71 368.92M484.24 372.44L487.59 370.25M486.81 376.55L490.25 374.5M487.44 377.63L490.91 375.63M487.54 377.8L491.01 375.8M487.84 378.33L491.32 376.35M489.92 382.16L493.48 380.33M493.18 389.06L496.85 387.48M493.59 390.03L497.28 388.49M495.01 393.61L498.75 392.2M495.95 396.21L499.73 394.9M496.41 397.55L500.2 396.29M496.6 398.14L500.4 396.9M497.7 401.73L501.54 400.63M498.88 406.19L502.77 405.25M499.13 407.23L503.02 406.33M499.9 410.85L503.83 410.08M500.63 415.01L504.58 414.39M501.2 419.24L505.17 418.78M501.36 420.71L505.34 420.31M501.42 421.32L505.4 420.94M501.76 426.09L505.76 425.89M501.82 427.32L505.82 427.16" stroke="#222" stroke-width="0.5" fill="none"/>
<path d="M505.9 432.47A111.6 111.6 0 0 1 493.24 483.13L489.69 481.28A107.6 107.6 0 0 0 501.9 432.44ZM492.33 484.84A111.6 111.6 0 0 1 458.39 522.86L456.09 519.59A107.6 107.6 0 0 0 488.81 482.93ZM456.78 523.97A111.6 111.6 0 0 1 418.56 540.43L417.69 536.53A107.6 107.6 0 0 0 454.54 520.65ZM416.66 540.84A111.6 111.6 0 0 1 376.47 541.67L377.11 537.72A107.6 107.6 0 0 0 415.85 536.92ZM374.55 541.34A111.6 111.6 0 0 1 338.79 528.31L340.78 524.84A107.6 107.6 0 0 0 375.26 537.4ZM337.11 527.33A111.6 111.6 0 0 1 309.56 504.13L312.6 501.52A107.6 107.6 0 0 0 339.16 523.9ZM308.31 502.64A111.6 111.6 0 0 1 291.07 473.9L294.77 472.38A107.6 107.6 0 0 0 311.39 500.09ZM290.34 472.09A111.6 111.6 0 0 1 283.2 442.08L287.18 441.7A107.6 107.6 0 0 0 294.07 470.64ZM283.03 440.14A111.6 111.6 0 0 1 284.71 410.42L288.64 411.18A107.6 107.6 0 0 0 287.02 439.83ZM285.09 408.51A111.6 111.6 0 0 1 294.51 381.54L298.09 383.33A107.6 107.6 0 0 0 289.01 409.34ZM295.4 379.8A111.6 111.6 0 0 1 311.69 356.47L314.65 359.15A107.6 107.6 0 0 0 298.94 381.66ZM313.01 355.04A111.6 111.6 0 0 1 334.79 337.09L336.93 340.47A107.6 107.6 0 0 0 315.93 357.78ZM336.45 336.06A111.6 111.6 0 0 1 358.49 325.8L359.77 329.59A107.6 107.6 0 0 0 338.52 339.48ZM360.34 325.19A111.6 111.6 0 0 1 382.5 320.53L382.92 324.5A107.6 107.6 0 0 0 361.55 329ZM384.44 320.34A111.6 111.6 0 0 1 406.07 320.52L405.65 324.5A107.6 107.6 0 0 0 384.79 324.32ZM408.01 320.74A111.6 111.6 0 0 1 426.67 324.7L425.51 328.53A107.6 107.6 0 0 0 407.51 324.71ZM428.53 325.28A111.6 111.6 0 0 1 444.4 331.78L442.61 335.35A107.6 107.6 0 0 0 427.3 329.09ZM446.13 332.67A111.6 111.6 0 0 1 460.14 341.39L457.78 344.62A107.6 107.6 0 0 0 444.28 336.21ZM461.7 342.55A111.6 111.6 0 0 1 471.22 350.64L468.46 353.54A107.6 107.6 0 0 0 459.28 345.74ZM472.62 351.99A111.6 111.6 0 0 1 481.53 361.88L478.4 364.38A107.6 107.6 0 0 0 469.81 354.84ZM482.73 363.42A111.6 111.6 0 0 1 488.56 371.75L485.18 373.89A107.6 107.6 0 0 0 479.56 365.86ZM489.58 373.4A111.6 111.6 0 0 1 494.77 382.92L491.17 384.66A107.6 107.6 0 0 0 486.17 375.48ZM495.6 384.68A111.6 111.6 0 0 1 504.83 416.07L500.87 416.62A107.6 107.6 0 0 0 491.97 386.36ZM505.08 418A111.6 111.6 0 0 1 505.9 430.53L501.9 430.56A107.6 107.6 0 0 0 501.11 418.48Z" fill="none" stroke="#000" stroke-width="0.6"/>
<path d="M508.3 432.49A114.0 114.0 0 0 1 495.37 484.24M494.43 485.99A114.0 114.0 0 0 1 459.76 524.83M458.13 525.96A114.0 114.0 0 0 1 419.08 542.77M417.14 543.19A114.0 114.0 0 0 1 376.09 544.04M374.13 543.7A114.0 114.0 0 0 1 337.6 530.4M335.88 529.39A114.0 114.0 0 0 1 307.74 505.69M306.46 504.17A114.0 114.0 0 0 1 288.85 474.81M288.11 472.97A114.0 114.0 0 0 1 280.81 442.31M280.64 440.32A114.0 114.0 0 0 1 282.35 409.97M282.74 408.02A114.0 114.0 0 0 1 292.36 380.46M293.27 378.69A114.0 114.0 0 0 1 309.91 354.85M311.26 353.39A114.0 114.0 0 0 1 333.51 335.06M335.21 334.01A114.0 114.0 0 0 1 357.72 323.53M359.61 322.91A114.0 114.0 0 0 1 382.24 318.14M384.22 317.95A114.0 114.0 0 0 1 406.32 318.14M408.3 318.36A114.0 114.0 0 0 1 427.37 322.4M429.27 322.99A114.0 114.0 0 0 1 445.48 329.63M447.25 330.54A114.0 114.0 0 0 1 461.55 339.45M463.15 340.64A114.0 114.0 0 0 1 472.87 348.9M474.3 350.28A114.0 114.0 0 0 1 483.4 360.39M484.63 361.95A114.0 114.0 0 0 1 490.58 370.46M491.63 372.15A114.0 114.0 0 0 1 496.93 381.88M497.78 383.67A114.0 114.0 0 0 1 507.21 415.74M507.46 417.71A114.0 114.0 0 0 1 508.3 430.51" fill="none" stroke="#222" stroke-width="0.55"/>
<path d="M508.3 432.49L509.9 432.51M507.69 443.27L509.28 443.44M506.07 453.94L507.64 454.26M503.44 464.41L504.98 464.88M499.84 474.59L501.32 475.2M508.26 434.65L509.16 434.68M508.18 436.81L509.08 436.85M508.06 438.97L508.95 439.03M507.89 441.12L508.79 441.2M507.45 445.42L508.34 445.53M507.16 447.56L508.05 447.69M506.84 449.69L507.73 449.84M506.47 451.82L507.36 451.98M505.62 456.06L506.5 456.25M505.14 458.16L506.01 458.37M504.61 460.26L505.48 460.48M504.05 462.34L504.92 462.58M502.8 466.48L503.66 466.75M502.12 468.53L502.97 468.82M501.4 470.56L502.24 470.87M500.64 472.58L501.48 472.91M499.01 476.58L499.83 476.94M498.13 478.56L498.95 478.93M497.22 480.52L498.04 480.9M496.28 482.46L497.08 482.86M494.43 485.99L495.84 486.76M488.83 495.22L490.16 496.11M482.38 503.87L483.62 504.89M475.14 511.88L476.27 513.01M467.18 519.17L468.2 520.4M493.38 487.88L494.17 488.32M492.3 489.75L493.07 490.21M491.18 491.59L491.94 492.07M490.02 493.42L490.78 493.9M487.61 497L488.34 497.51M486.35 498.75L487.08 499.28M485.06 500.49L485.77 501.03M483.74 502.19L484.44 502.75M480.99 505.53L481.68 506.11M479.58 507.16L480.25 507.76M478.13 508.76L478.79 509.37M476.65 510.33L477.3 510.96M473.6 513.4L474.23 514.04M472.04 514.88L472.65 515.54M470.44 516.34L471.04 517.01M468.82 517.77L469.41 518.45M465.5 520.53L466.06 521.23M463.8 521.86L464.35 522.58M462.08 523.16L462.61 523.89M460.33 524.43L460.85 525.16M458.13 525.96L459.02 527.28M448.91 531.57L449.67 532.98M439.2 536.29L439.83 537.76M429.08 540.06L429.57 541.59M456.32 527.15L456.81 527.91M454.5 528.31L454.98 529.07M452.66 529.43L453.12 530.2M450.79 530.52L451.24 531.3M447 532.59L447.42 533.39M445.08 533.57L445.48 534.37M443.13 534.51L443.52 535.32M441.17 535.42L441.54 536.24M437.2 537.12L437.54 537.95M435.19 537.91L435.52 538.75M433.17 538.67L433.48 539.51M431.13 539.39L431.42 540.24M427.02 540.7L427.28 541.57M424.95 541.3L425.19 542.17M422.86 541.86L423.09 542.74M420.77 542.39L420.97 543.26M417.14 543.19L417.46 544.76M406.47 544.85L406.64 546.44M395.69 545.49L395.71 547.09M384.91 545.11L384.77 546.71M415.02 543.6L415.18 544.49M412.89 543.97L413.04 544.86M410.75 544.31L410.88 545.2M408.61 544.6L408.73 545.49M404.32 545.06L404.4 545.96M402.17 545.23L402.23 546.13M400.01 545.36L400.06 546.26M397.85 545.44L397.88 546.34M393.53 545.5L393.53 546.4M391.38 545.46L391.35 546.36M389.22 545.39L389.18 546.29M387.06 545.27L387 546.17M382.76 544.91L382.67 545.81M380.61 544.67L380.5 545.57M378.47 544.4L378.34 545.29M376.33 544.08L376.19 544.96M374.13 543.7L373.84 545.28M363.6 541.29L363.17 542.83M353.36 537.89L352.78 539.39M343.48 533.54L342.77 534.98M372 543.3L371.83 544.18M369.89 542.86L369.7 543.74M367.79 542.37L367.58 543.25M365.69 541.85L365.46 542.72M361.53 540.69L361.27 541.55M359.47 540.05L359.19 540.91M357.42 539.37L357.13 540.22M355.38 538.65L355.07 539.5M351.35 537.1L351.01 537.93M349.36 536.27L349 537.09M347.38 535.4L347.01 536.22M345.42 534.49L345.03 535.3M341.55 532.56L341.14 533.36M339.65 531.55L339.22 532.34M337.76 530.49L337.32 531.27M335.88 529.39L335.06 530.77M326.88 523.43L325.93 524.72M318.49 516.64L317.42 517.83M310.78 509.09L309.6 510.18M334.03 528.27L333.56 529.03M332.21 527.11L331.72 527.86M330.41 525.92L329.91 526.66M328.63 524.69L328.12 525.42M325.15 522.13L324.61 522.85M323.45 520.81L322.89 521.51M321.77 519.45L321.2 520.14M320.12 518.06L319.53 518.74M316.89 515.19L316.28 515.85M315.32 513.71L314.69 514.36M313.77 512.2L313.14 512.83M312.26 510.66L311.61 511.28M309.32 507.49L308.65 508.09M307.9 505.87L307.21 506.45M306.46 504.17L305.23 505.19M299.98 495.53L298.66 496.43M294.35 486.32L292.95 487.09M289.61 476.62L288.14 477.26M305.1 502.49L304.4 503.05M303.77 500.79L303.06 501.33M302.47 499.06L301.75 499.59M301.21 497.31L300.48 497.83M298.79 493.73L298.03 494.22M297.62 491.91L296.86 492.39M296.5 490.07L295.72 490.53M295.4 488.21L294.62 488.66M293.33 484.42L292.53 484.84M292.34 482.5L291.54 482.9M291.4 480.56L290.58 480.94M290.48 478.6L289.66 478.97M288.11 472.97L286.62 473.55M284.66 462.74L283.12 463.17M282.2 452.23L280.63 452.52M287.34 470.95L286.5 471.26M286.61 468.91L285.76 469.21M285.92 466.87L285.07 467.15M285.27 464.81L284.41 465.07M284.09 460.65L283.22 460.88M283.56 458.56L282.68 458.77M283.07 456.46L282.19 456.66M282.61 454.35L281.73 454.53M281.83 450.1L280.94 450.25M281.5 447.97L280.6 448.1M281.2 445.83L280.31 445.94M280.95 443.68L280.06 443.78M280.64 440.32L279.05 440.45M280.32 429.53L278.72 429.51M281.01 418.76L279.42 418.58M280.5 438.17L279.6 438.22M280.39 436.01L279.49 436.05M280.32 433.85L279.42 433.87M280.3 431.69L279.4 431.69M280.37 427.37L279.48 427.34M280.47 425.22L279.57 425.17M280.61 423.06L279.72 423M280.79 420.91L279.9 420.83M281.28 416.62L280.38 416.5M281.58 414.48L280.69 414.35M281.92 412.35L281.03 412.2M282.3 410.22L281.42 410.05M282.74 408.02L281.18 407.69M285.47 397.57L283.94 397.09M289.16 387.43L287.69 386.81M283.21 405.91L282.33 405.71M283.71 403.81L282.84 403.59M284.26 401.72L283.39 401.48M284.84 399.64L283.98 399.39M286.13 395.52L285.27 395.23M286.83 393.47L285.98 393.17M287.57 391.44L286.73 391.13M288.35 389.43L287.51 389.1M290.02 385.45L289.19 385.08M290.91 383.48L290.09 383.1M291.84 381.53L291.03 381.13M293.27 378.69L291.85 377.95M298.72 369.37L297.37 368.5M305.02 360.61L303.77 359.62M294.29 376.79L293.5 376.36M295.34 374.9L294.56 374.46M296.43 373.04L295.66 372.58M297.56 371.2L296.79 370.72M299.91 367.57L299.16 367.07M301.14 365.8L300.4 365.28M302.4 364.04L301.67 363.51M303.69 362.32L302.98 361.77M306.38 358.93L305.69 358.36M307.77 357.28L307.09 356.69M309.19 355.65L308.52 355.06M311.26 353.39L310.1 352.29M319.02 345.89L317.97 344.69M327.46 339.15L326.52 337.86M312.76 351.83L312.12 351.2M314.28 350.3L313.65 349.66M315.84 348.8L315.22 348.15M317.42 347.33L316.81 346.66M320.66 344.48L320.08 343.79M322.32 343.1L321.75 342.4M324.01 341.75L323.45 341.04M325.72 340.43L325.18 339.72M329.22 337.9L328.71 337.16M331.01 336.69L330.51 335.94M332.81 335.5L332.33 334.75M335.21 334.01L334.38 332.64M344.69 328.86L344 327.42M354.62 324.63L354.07 323.13M337.06 332.91L336.61 332.13M338.94 331.84L338.51 331.06M340.84 330.81L340.42 330.02M342.76 329.82L342.35 329.01M346.65 327.94L346.27 327.12M348.62 327.05L348.26 326.23M350.6 326.21L350.26 325.38M352.61 325.4L352.28 324.56M356.65 323.9L356.36 323.05M359.61 322.91L359.12 321.38M370.03 320.11L369.69 318.55M380.68 318.32L380.49 316.73M361.67 322.27L361.41 321.41M363.74 321.67L363.5 320.8M365.83 321.11L365.61 320.24M367.93 320.59L367.72 319.72M372.15 319.67L371.97 318.79M374.27 319.27L374.11 318.39M376.4 318.91L376.26 318.03M378.53 318.6L378.41 317.7M384.22 317.95L384.08 316.35M395.01 317.5L395.02 315.9M405.79 318.08L405.95 316.49M386.38 317.78L386.31 316.88M388.53 317.65L388.49 316.75M390.69 317.56L390.66 316.66M392.85 317.51L392.84 316.61M397.17 317.54L397.19 316.64M399.33 317.61L399.37 316.71M401.48 317.73L401.54 316.83M403.64 317.88L403.71 316.99M408.3 318.36L408.5 316.78M418.94 320.19L419.28 318.63M410.44 318.65L410.57 317.76M412.58 318.97L412.72 318.09M414.7 319.34L414.87 318.46M416.83 319.75L417 318.87M421.04 320.68L421.25 319.81M423.14 321.21L423.37 320.34M425.22 321.77L425.47 320.91M427.29 322.38L427.56 321.52M429.27 322.99L429.76 321.47M439.37 326.79L440 325.32M431.32 323.68L431.61 322.83M433.35 324.4L433.66 323.55M435.37 325.16L435.7 324.32M437.38 325.95L437.72 325.12M441.35 327.66L441.72 326.84M443.31 328.57L443.69 327.76M445.25 329.52L445.65 328.71M447.25 330.54L447.99 329.13M456.56 336L457.43 334.66M449.15 331.56L449.58 330.77M451.04 332.62L451.48 331.84M452.9 333.71L453.36 332.94M454.74 334.84L455.22 334.08M458.36 337.2L458.86 336.46M460.13 338.43L460.65 337.7M463.15 340.64L464.12 339.36M471.43 347.56L472.52 346.38M464.86 341.96L465.42 341.25M466.54 343.31L467.11 342.62M468.2 344.7L468.78 344.01M469.83 346.11L470.43 345.44M474.3 350.28L475.42 349.14M481.62 358.21L482.85 357.19M475.82 351.81L476.47 351.19M477.32 353.37L477.97 352.76M478.78 354.96L479.45 354.36M480.22 356.57L480.9 355.98M483 359.88L483.7 359.32M484.63 361.95L485.9 360.98M485.93 363.68L486.65 363.14M487.2 365.42L487.93 364.9M488.43 367.2L489.18 366.69M489.63 368.99L490.39 368.5M491.63 372.15L493 371.32M496.81 381.62L498.25 380.92M492.74 374.01L493.52 373.55M493.81 375.88L494.6 375.44M494.85 377.78L495.64 377.35M495.85 379.69L496.65 379.28M497.78 383.67L499.24 383M501.84 393.68L503.35 393.15M504.94 404.02L506.49 403.63M507.04 414.6L508.62 414.37M498.67 385.64L499.49 385.28M499.52 387.63L500.35 387.28M500.33 389.63L501.17 389.3M501.11 391.65L501.95 391.33M502.54 395.72L503.39 395.44M503.2 397.78L504.06 397.51M503.82 399.85L504.68 399.6M504.4 401.93L505.27 401.69M505.44 406.12L506.32 405.92M505.9 408.23L506.78 408.04M506.32 410.35L507.2 410.18M506.7 412.47L507.59 412.32M507.46 417.71L509.05 417.52M508.26 428.48L509.86 428.43M507.7 419.86L508.6 419.76M507.9 422.01L508.8 421.93M508.06 424.16L508.96 424.1M508.18 426.32L509.08 426.28" fill="none" stroke="#444" stroke-width="0.4"/>
<text transform="translate(511.7 432.52) rotate(-89.5)" font-size="3.2" text-anchor="middle" dy="1.1" fill="#5a5a5a">0Mb</text>
<text transform="translate(511.07 443.62) rotate(-84.07)" font-size="3.2" text-anchor="middle" dy="1.1" fill="#5a5a5a">50Mb</text>
<text transform="translate(509.4 454.61) rotate(-78.65)" font-size="3.2" text-anchor="middle" dy="1.1" fill="#5a5a5a">100Mb</text>
<text transform="translate(506.7 465.4) rotate(-73.22)" font-size="3.2" text-anchor="middle" dy="1.1" fill="#5a5a5a">150Mb</text>
<text transform="translate(502.99 475.88) rotate(-67.79)" font-size="3.2" text-anchor="middle" dy="1.1" fill="#5a5a5a">200Mb</text>
<text transform="translate(497.42 487.62) rotate(-61.45)" font-size="3.2" text-anchor="middle" dy="1.1" fill="#5a5a5a">0Mb</text>
<text transform="translate(491.65 497.12) rotate(-56.02)" font-size="3.2" text-anchor="middle" dy="1.1" fill="#5a5a5a">50Mb</text>
<text transform="translate(485.01 506.03) rotate(-50.59)" font-size="3.2" text-anchor="middle" dy="1.1" fill="#5a5a5a">100Mb</text>
<text transform="translate(477.55 514.28) rotate(-45.16)" font-size="3.2" text-anchor="middle" dy="1.1" fill="#5a5a5a">150Mb</text>
<text transform="translate(469.35 521.78) rotate(-39.74)" font-size="3.2" text-anchor="middle" dy="1.1" fill="#5a5a5a">200Mb</text>
<text transform="translate(460.03 528.77) rotate(-34.05)" font-size="3.2" text-anchor="middle" dy="1.1" fill="#5a5a5a">0Mb</text>
<text transform="translate(450.53 534.56) rotate(-28.62)" font-size="3.2" text-anchor="middle" dy="1.1" fill="#5a5a5a">50Mb</text>
<text transform="translate(440.54 539.41) rotate(-23.19)" font-size="3.2" text-anchor="middle" dy="1.1" fill="#5a5a5a">100Mb</text>
<text transform="translate(430.12 543.3) rotate(-17.77)" font-size="3.2" text-anchor="middle" dy="1.1" fill="#5a5a5a">150Mb</text>
<text transform="translate(417.82 546.52) rotate(-11.56)" font-size="3.2" text-anchor="middle" dy="1.1" fill="#5a5a5a">0Mb</text>
<text transform="translate(406.83 548.23) rotate(-6.13)" font-size="3.2" text-anchor="middle" dy="1.1" fill="#5a5a5a">50Mb</text>
<text transform="translate(395.74 548.89) rotate(-0.7)" font-size="3.2" text-anchor="middle" dy="1.1" fill="#5a5a5a">100Mb</text>
<text transform="translate(384.63 548.5) rotate(4.73)" font-size="3.2" text-anchor="middle" dy="1.1" fill="#5a5a5a">150Mb</text>
<text transform="translate(373.52 547.05) rotate(10.19)" font-size="3.2" text-anchor="middle" dy="1.1" fill="#5a5a5a">0Mb</text>
<text transform="translate(362.69 544.56) rotate(15.62)" font-size="3.2" text-anchor="middle" dy="1.1" fill="#5a5a5a">50Mb</text>
<text transform="translate(352.14 541.07) rotate(21.05)" font-size="3.2" text-anchor="middle" dy="1.1" fill="#5a5a5a">100Mb</text>
<text transform="translate(341.96 536.59) rotate(26.47)" font-size="3.2" text-anchor="middle" dy="1.1" fill="#5a5a5a">150Mb</text>
<text transform="translate(334.14 532.31) rotate(30.83)" font-size="3.2" text-anchor="middle" dy="1.1" fill="#5a5a5a">0Mb</text>
<text transform="translate(324.87 526.17) rotate(36.26)" font-size="3.2" text-anchor="middle" dy="1.1" fill="#5a5a5a">50Mb</text>
<text transform="translate(316.23 519.18) rotate(41.68)" font-size="3.2" text-anchor="middle" dy="1.1" fill="#5a5a5a">100Mb</text>
<text transform="translate(308.28 511.4) rotate(47.11)" font-size="3.2" text-anchor="middle" dy="1.1" fill="#5a5a5a">150Mb</text>
<text transform="translate(303.84 506.33) rotate(50.4)" font-size="3.2" text-anchor="middle" dy="1.1" fill="#5a5a5a">0Mb</text>
<text transform="translate(297.17 497.44) rotate(55.83)" font-size="3.2" text-anchor="middle" dy="1.1" fill="#5a5a5a">50Mb</text>
<text transform="translate(291.37 487.96) rotate(61.26)" font-size="3.2" text-anchor="middle" dy="1.1" fill="#5a5a5a">100Mb</text>
<text transform="translate(286.49 477.97) rotate(66.68)" font-size="3.2" text-anchor="middle" dy="1.1" fill="#5a5a5a">150Mb</text>
<text transform="translate(284.94 474.2) rotate(68.67)" font-size="3.2" text-anchor="middle" dy="1.1" fill="#5a5a5a">0Mb</text>
<text transform="translate(281.39 463.67) rotate(74.1)" font-size="3.2" text-anchor="middle" dy="1.1" fill="#5a5a5a">50Mb</text>
<text transform="translate(278.86 452.84) rotate(79.52)" font-size="3.2" text-anchor="middle" dy="1.1" fill="#5a5a5a">100Mb</text>
<text transform="translate(277.25 440.59) rotate(85.56)" font-size="3.2" text-anchor="middle" dy="1.1" fill="#5a5a5a">0Mb</text>
<text transform="translate(276.92 429.48) rotate(270.99)" font-size="3.2" text-anchor="middle" dy="1.1" fill="#5a5a5a">50Mb</text>
<text transform="translate(277.64 418.38) rotate(276.42)" font-size="3.2" text-anchor="middle" dy="1.1" fill="#5a5a5a">100Mb</text>
<text transform="translate(279.42 407.32) rotate(281.89)" font-size="3.2" text-anchor="middle" dy="1.1" fill="#5a5a5a">0Mb</text>
<text transform="translate(282.22 396.56) rotate(287.31)" font-size="3.2" text-anchor="middle" dy="1.1" fill="#5a5a5a">50Mb</text>
<text transform="translate(286.03 386.12) rotate(292.74)" font-size="3.2" text-anchor="middle" dy="1.1" fill="#5a5a5a">100Mb</text>
<text transform="translate(290.26 377.12) rotate(297.6)" font-size="3.2" text-anchor="middle" dy="1.1" fill="#5a5a5a">0Mb</text>
<text transform="translate(295.87 367.52) rotate(303.02)" font-size="3.2" text-anchor="middle" dy="1.1" fill="#5a5a5a">50Mb</text>
<text transform="translate(302.36 358.5) rotate(308.45)" font-size="3.2" text-anchor="middle" dy="1.1" fill="#5a5a5a">100Mb</text>
<text transform="translate(308.79 351.06) rotate(313.25)" font-size="3.2" text-anchor="middle" dy="1.1" fill="#5a5a5a">0Mb</text>
<text transform="translate(316.78 343.33) rotate(318.68)" font-size="3.2" text-anchor="middle" dy="1.1" fill="#5a5a5a">50Mb</text>
<text transform="translate(325.47 336.4) rotate(324.1)" font-size="3.2" text-anchor="middle" dy="1.1" fill="#5a5a5a">100Mb</text>
<text transform="translate(333.44 331.1) rotate(328.78)" font-size="3.2" text-anchor="middle" dy="1.1" fill="#5a5a5a">0Mb</text>
<text transform="translate(343.21 325.8) rotate(334.2)" font-size="3.2" text-anchor="middle" dy="1.1" fill="#5a5a5a">50Mb</text>
<text transform="translate(353.44 321.44) rotate(339.63)" font-size="3.2" text-anchor="middle" dy="1.1" fill="#5a5a5a">100Mb</text>
<text transform="translate(358.57 319.67) rotate(342.28)" font-size="3.2" text-anchor="middle" dy="1.1" fill="#5a5a5a">0Mb</text>
<text transform="translate(369.31 316.79) rotate(347.71)" font-size="3.2" text-anchor="middle" dy="1.1" fill="#5a5a5a">50Mb</text>
<text transform="translate(380.27 314.94) rotate(353.14)" font-size="3.2" text-anchor="middle" dy="1.1" fill="#5a5a5a">100Mb</text>
<text transform="translate(383.92 314.56) rotate(354.93)" font-size="3.2" text-anchor="middle" dy="1.1" fill="#5a5a5a">0Mb</text>
<text transform="translate(395.03 314.1) rotate(360.36)" font-size="3.2" text-anchor="middle" dy="1.1" fill="#5a5a5a">50Mb</text>
<text transform="translate(406.13 314.7) rotate(365.78)" font-size="3.2" text-anchor="middle" dy="1.1" fill="#5a5a5a">100Mb</text>
<text transform="translate(408.72 314.99) rotate(367.05)" font-size="3.2" text-anchor="middle" dy="1.1" fill="#5a5a5a">0Mb</text>
<text transform="translate(419.67 316.87) rotate(372.48)" font-size="3.2" text-anchor="middle" dy="1.1" fill="#5a5a5a">50Mb</text>
<text transform="translate(430.31 319.76) rotate(377.86)" font-size="3.2" text-anchor="middle" dy="1.1" fill="#5a5a5a">0Mb</text>
<text transform="translate(440.72 323.67) rotate(383.29)" font-size="3.2" text-anchor="middle" dy="1.1" fill="#5a5a5a">50Mb</text>
<text transform="translate(448.83 327.53) rotate(387.68)" font-size="3.2" text-anchor="middle" dy="1.1" fill="#5a5a5a">0Mb</text>
<text transform="translate(458.42 333.15) rotate(393.1)" font-size="3.2" text-anchor="middle" dy="1.1" fill="#5a5a5a">50Mb</text>
<text transform="translate(465.2 337.93) rotate(397.15)" font-size="3.2" text-anchor="middle" dy="1.1" fill="#5a5a5a">0Mb</text>
<text transform="translate(473.74 345.05) rotate(402.58)" font-size="3.2" text-anchor="middle" dy="1.1" fill="#5a5a5a">50Mb</text>
<text transform="translate(476.69 347.86) rotate(404.57)" font-size="3.2" text-anchor="middle" dy="1.1" fill="#5a5a5a">0Mb</text>
<text transform="translate(484.23 356.03) rotate(410)" font-size="3.2" text-anchor="middle" dy="1.1" fill="#5a5a5a">50Mb</text>
<text transform="translate(487.32 359.88) rotate(412.41)" font-size="3.2" text-anchor="middle" dy="1.1" fill="#5a5a5a">0Mb</text>
<text transform="translate(494.54 370.38) rotate(418.63)" font-size="3.2" text-anchor="middle" dy="1.1" fill="#5a5a5a">0Mb</text>
<text transform="translate(499.87 380.14) rotate(424.05)" font-size="3.2" text-anchor="middle" dy="1.1" fill="#5a5a5a">50Mb</text>
<text transform="translate(500.87 382.25) rotate(425.2)" font-size="3.2" text-anchor="middle" dy="1.1" fill="#5a5a5a">0Mb</text>
<text transform="translate(505.05 392.55) rotate(430.62)" font-size="3.2" text-anchor="middle" dy="1.1" fill="#5a5a5a">50Mb</text>
<text transform="translate(508.24 403.2) rotate(436.05)" font-size="3.2" text-anchor="middle" dy="1.1" fill="#5a5a5a">100Mb</text>
<text transform="translate(510.4 414.1) rotate(441.48)" font-size="3.2" text-anchor="middle" dy="1.1" fill="#5a5a5a">150Mb</text>
<text transform="translate(510.84 417.3) rotate(443.05)" font-size="3.2" text-anchor="middle" dy="1.1" fill="#5a5a5a">0Mb</text>
<text transform="translate(511.66 428.39) rotate(448.48)" font-size="3.2" text-anchor="middle" dy="1.1" fill="#5a5a5a">50Mb</text>
<text transform="translate(512.95 461.14) rotate(-75.97)" font-size="7.6" text-anchor="middle" dy="2.7" fill="#222">1</text>
<text transform="translate(485.54 512.94) rotate(-48.25)" font-size="7.6" text-anchor="middle" dy="2.7" fill="#222">2</text>
<text transform="translate(442.68 543.82) rotate(-23.3)" font-size="7.6" text-anchor="middle" dy="2.7" fill="#222">3</text>
<text transform="translate(396.82 553.77) rotate(-1.18)" font-size="7.6" text-anchor="middle" dy="2.7" fill="#222">4</text>
<text transform="translate(352.45 546.42) rotate(20.01)" font-size="7.6" text-anchor="middle" dy="2.7" fill="#222">5</text>
<text transform="translate(315.5 525.03) rotate(40.11)" font-size="7.6" text-anchor="middle" dy="2.7" fill="#222">6</text>
<text transform="translate(289.43 494.42) rotate(59.04)" font-size="7.6" text-anchor="middle" dy="2.7" fill="#222">7</text>
<text transform="translate(275.32 459.81) rotate(76.62)" font-size="7.6" text-anchor="middle" dy="2.7" fill="#222">8</text>
<text transform="translate(272.19 424.62) rotate(273.22)" font-size="7.6" text-anchor="middle" dy="2.7" fill="#222">9</text>
<text transform="translate(278.83 391.2) rotate(289.24)" font-size="7.6" text-anchor="middle" dy="2.7" fill="#222">10</text>
<text transform="translate(294.02 361.49) rotate(304.92)" font-size="7.6" text-anchor="middle" dy="2.7" fill="#222">11</text>
<text transform="translate(316.53 337.11) rotate(320.51)" font-size="7.6" text-anchor="middle" dy="2.7" fill="#222">12</text>
<text transform="translate(342.67 320.63) rotate(335.03)" font-size="7.6" text-anchor="middle" dy="2.7" fill="#222">13</text>
<text transform="translate(369.09 311.83) rotate(348.11)" font-size="7.6" text-anchor="middle" dy="2.7" fill="#222">14</text>
<text transform="translate(395.35 309.2) rotate(360.49)" font-size="7.6" text-anchor="middle" dy="2.7" fill="#222">15</text>
<text transform="translate(419.64 311.85) rotate(371.96)" font-size="7.6" text-anchor="middle" dy="2.7" fill="#222">16</text>
<text transform="translate(440.65 318.32) rotate(382.27)" font-size="7.6" text-anchor="middle" dy="2.7" fill="#222">17</text>
<text transform="translate(458.95 327.69) rotate(391.91)" font-size="7.6" text-anchor="middle" dy="2.7" fill="#222">18</text>
<text transform="translate(473.5 338.31) rotate(400.36)" font-size="7.6" text-anchor="middle" dy="2.7" fill="#222">19</text>
<text transform="translate(485.17 349.64) rotate(407.99)" font-size="7.6" text-anchor="middle" dy="2.7" fill="#222">20</text>
<text transform="translate(494.5 361.38) rotate(415.02)" font-size="7.6" text-anchor="middle" dy="2.7" fill="#222">21</text>
<text transform="translate(501.69 372.98) rotate(421.41)" font-size="7.6" text-anchor="middle" dy="2.7" fill="#222">22</text>
<text transform="translate(511.64 397.02) rotate(433.62)" font-size="7.6" text-anchor="middle" dy="2.7" fill="#222">X</text>
<text transform="translate(516.34 423.56) rotate(446.28)" font-size="7.6" text-anchor="middle" dy="2.7" fill="#222">Y</text>
<path d="M328.83 355.65L325.49 351.79M331.38 353.52L328.18 349.55" stroke="#8cc0dc" stroke-width="0.6" fill="none"/>
<path d="M333.44 351.9L330.34 347.85" stroke="#9cc8e0" stroke-width="0.6" fill="none"/>
<path d="M323.57 360.52L319.97 356.91" stroke="#f0a8b0" stroke-width="0.6" fill="none"/>
<path d="M355.96 338.93L354 334.22M357.58 338.27L355.71 333.53" stroke="#a8a8b8" stroke-width="0.6" fill="none"/>
<path d="M382.96 331.94L382.38 326.88" stroke="#4466aa" stroke-width="0.6" fill="none"/>
<path d="M377.42 332.73L376.56 327.71" stroke="#b8c0e0" stroke-width="0.6" fill="none"/>
<path d="M311.72 374.75L307.52 371.86M313.24 372.6L309.11 369.61" stroke="#7fa8d0" stroke-width="0.6" fill="none"/>
<path d="M444.85 344.99L447.43 340.58M446.36 345.88L449.01 341.53" stroke="#b0c8e8" stroke-width="0.6" fill="none"/>
<path d="M457.09 353.41L460.28 349.44M458.44 354.52L461.7 350.6" stroke="#c0b8e0" stroke-width="0.6" fill="none"/>
<path d="M482.77 384.46L487.27 382.06M319.72 498.42L315.92 501.82M404.77 331.85L405.31 326.78M488.46 465.77L493.25 467.51" stroke="#dddddd" stroke-width="0.6" fill="none"/>
<path d="M469.58 497.63L473.41 501" stroke="#88aadd" stroke-width="0.6" fill="none"/>
<path d="M473.79 492.5L477.84 495.6" stroke="#b0a0dd" stroke-width="0.6" fill="none"/>
<path d="M476.28 489.12L480.45 492.05" stroke="#b0a8dd" stroke-width="0.6" fill="none"/>
<path d="M480.01 483.41L484.37 486.05" stroke="#cccccc" stroke-width="0.6" fill="none"/>
<path d="M459.11 507.92L462.41 511.81M493.48 445.79L498.52 446.52" stroke="#d0d0d0" stroke-width="0.6" fill="none"/>
<path d="M437.91 521.71L440.13 526.3" stroke="#e0b0c0" stroke-width="0.6" fill="none"/>
<path d="M436.33 522.46L438.47 527.09" stroke="#c8c8d8" stroke-width="0.6" fill="none"/>
<path d="M408.07 530.75L408.77 535.8M294.1 430.63L289 430.58M294.13 428.88L289.04 428.74" stroke="#d8d8d8" stroke-width="0.6" fill="none"/>
<path d="M309.98 485.63L305.69 488.39" stroke="#c8c8c8" stroke-width="0.6" fill="none"/>
<path d="M353.54 523.04L351.47 527.7M351.95 522.31L349.8 526.93" stroke="#b8a8d8" stroke-width="0.6" fill="none"/>
<path d="M370.06 528.72L368.83 533.67" stroke="#8888cc" stroke-width="0.6" fill="none"/>
<path d="M377.42 530.27L376.56 535.29" stroke="#8899cc" stroke-width="0.6" fill="none"/>
<path d="M399.54 531.56L399.81 536.66M397.8 531.64L397.97 536.74" stroke="#e0c8d8" stroke-width="0.6" fill="none"/>
<path d="M491.09 405.57L496.01 404.25" stroke="#e0e0e0" stroke-width="0.6" fill="none"/>
<path d="M356.34 334.14Q394.3 431.5 438.46 336.79" stroke="#d6d6d6" stroke-width="0.7" fill="none"/>
<path d="M331.7 357.3C367.9 408.5 360.8 461.7 299 474.6" stroke="#d9d9d9" stroke-width="0.7" fill="none"/>
<path d="M311.5 380C354.1 407.1 380.9 460.8 376 528.7" stroke="#d9d9d9" stroke-width="0.7" fill="none"/>
<path d="M412.27 328.56Q394.3 431.5 419.93 330.19" stroke="#e8857a" stroke-width="0.7" fill="none"/>
<path d="M432.26 334.14Q394.3 431.5 470.97 360.5" stroke="#3aa047" stroke-width="0.8" fill="none"/>
<path d="M433.95 334.82Q394.3 431.5 478.52 369.63" stroke="#3aa047" stroke-width="0.8" fill="none"/>
<path d="M429.01 530.07Q394.3 431.5 449.68 520.12" stroke="#222" stroke-width="0.75" fill="none"/>
<path d="M491.66 469.46Q394.3 431.5 491.26 470.48" stroke="#c4c4c4" stroke-width="0.6" fill="none"/>
<path d="M295.3 471.4C359.2 443.5 391.8 471.3 389.6 538.5" stroke="#3aa047" stroke-width="0.8" fill="none"/>
<path d="M292.8 462.3L310 457.7L293.3 464.6" stroke="#222" stroke-width="0.55" fill="none"/>
<path d="M283 483L327.5 464.2M298.5 475.6L329 464.8" stroke="#e8857a" stroke-width="0.6" fill="none"/>
<path d="M303.8 479L327 466" stroke="#a8d8c4" stroke-width="0.6" fill="none"/>
<text x="266.8" y="491.4" font-size="8.2" fill="#222" stroke="#222" stroke-width="0.2">BRAF</text>
<text transform="translate(387.3 435.3) scale(0.9 1)" font-size="20.6" text-anchor="middle" fill="#111" stroke="#111" stroke-width="0.2">P4</text>
<text x="260.3" y="284.8" font-size="11.2" font-weight="bold" fill="#111">E</text>
</svg>
</body></html>
